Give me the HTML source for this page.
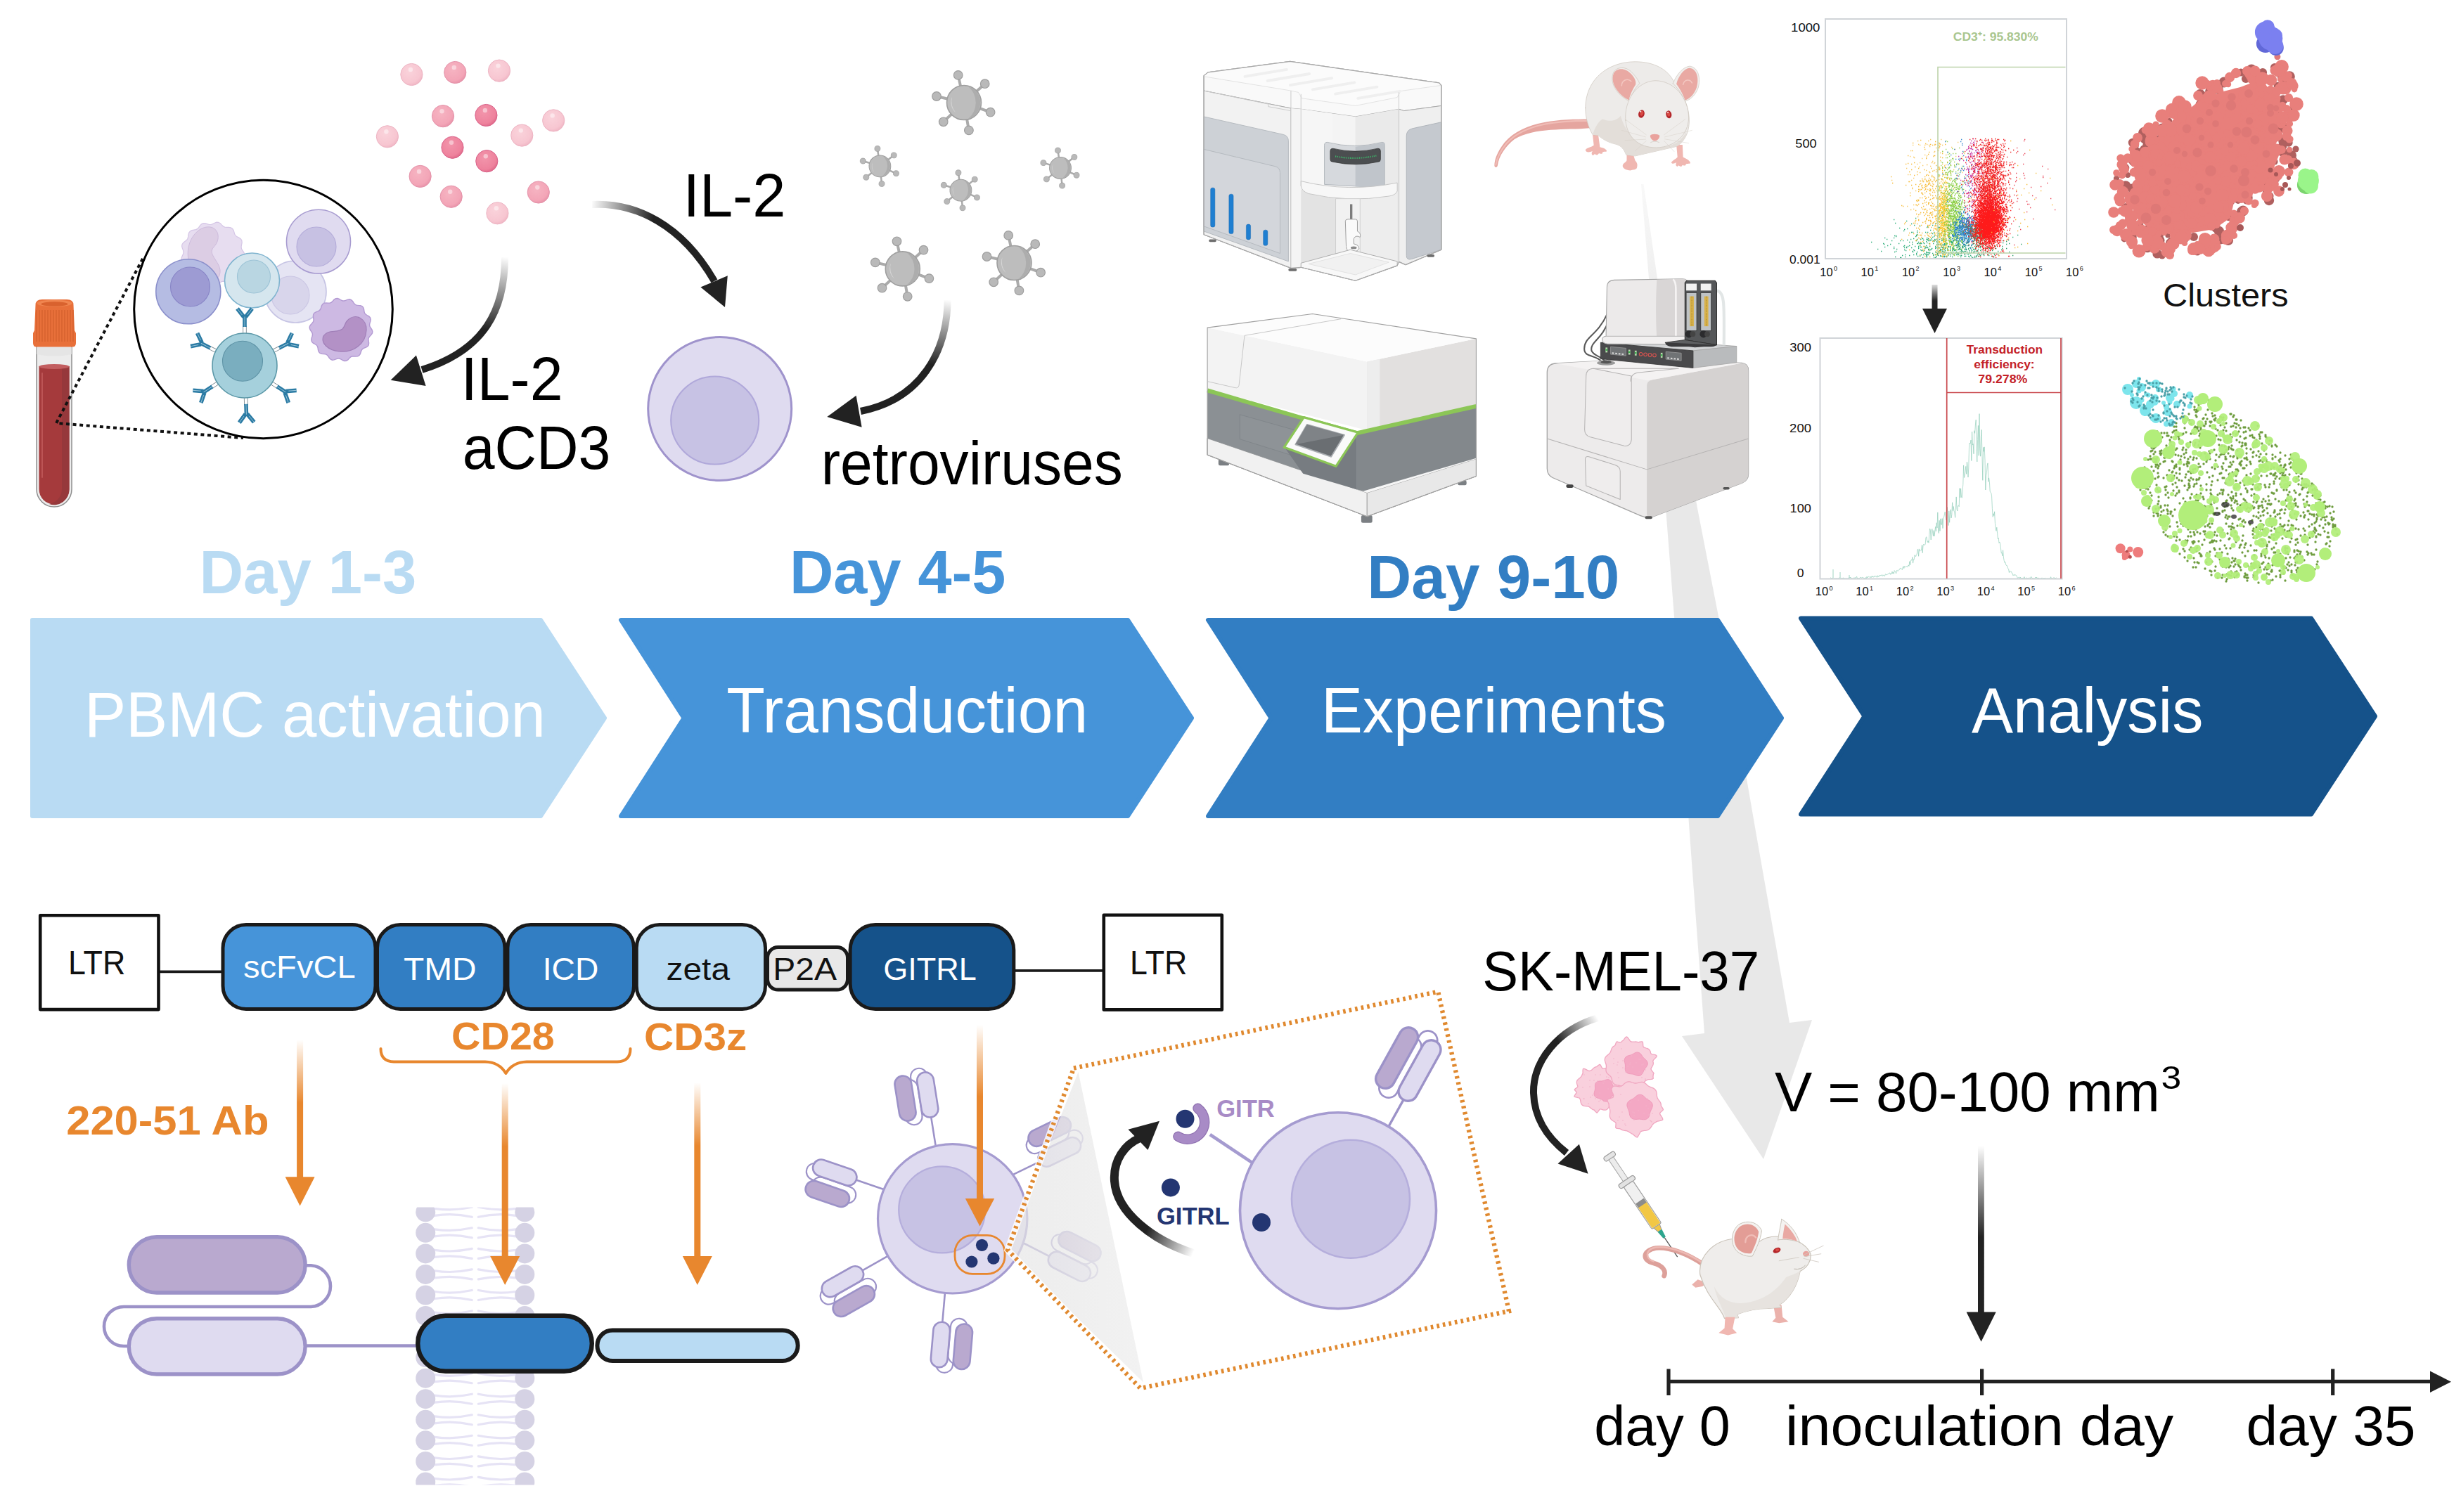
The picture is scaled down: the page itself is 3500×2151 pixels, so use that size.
<!DOCTYPE html>
<html lang="en"><head><meta charset="utf-8"><title>CAR-T workflow</title>
<style>
html,body{margin:0;padding:0;background:#fff;}
body{width:3500px;height:2151px;overflow:hidden;}
svg{display:block;font-family:"Liberation Sans",sans-serif;}
</style></head><body>
<svg width="3500" height="2151" viewBox="0 0 3500 2151">
<rect width="3500" height="2151" fill="#fff"/>
<g id="part_base">
<defs><linearGradient id="gArrow" x1="0" y1="0" x2="0" y2="1"><stop offset="0" stop-color="#e9e9e9" stop-opacity="0.3"/><stop offset="0.18" stop-color="#e8e8e8" stop-opacity="1"/><stop offset="1" stop-color="#e8e8e8"/></linearGradient></defs>
<path d="M2334 262 L2337.5 262 L2357 396 L2414 723 L2444 877 L2500 1200 L2545 1455 L2577 1451 L2508 1649 L2392 1474 L2424 1470 L2404 1200 L2381 877 L2369 723 L2345 396 Z" fill="url(#gArrow)"/>
<path d="M46 882 L769 882 L860 1021.5 L769 1161 L46 1161 Z" fill="#B9DBF3" stroke="#B9DBF3" stroke-width="6" stroke-linejoin="round"/>
<path d="M883 882 L1604 882 L1695 1021.5 L1604 1161 L883 1161 L972.5 1021.5 Z" fill="#4694D9" stroke="#4694D9" stroke-width="6" stroke-linejoin="round"/>
<path d="M1718 882 L2443 882 L2534 1021.5 L2443 1161 L1718 1161 L1807.5 1021.5 Z" fill="#327EC3" stroke="#327EC3" stroke-width="6" stroke-linejoin="round"/>
<path d="M2561 879.5 L3287 879.5 L3378 1019.0 L3287 1158.5 L2561 1158.5 L2651.5 1019.0 Z" fill="#15528A" stroke="#15528A" stroke-width="6" stroke-linejoin="round"/>
<text x="119.9" y="1048.0" font-size="90" font-weight="normal" fill="#fff" textLength="656.0" lengthAdjust="spacingAndGlyphs" >PBMC activation</text>
<text x="1033.2" y="1042.0" font-size="90" font-weight="normal" fill="#fff" textLength="514.0" lengthAdjust="spacingAndGlyphs" >Transduction</text>
<text x="1878.9" y="1042.0" font-size="90" font-weight="normal" fill="#fff" textLength="491.0" lengthAdjust="spacingAndGlyphs" >Experiments</text>
<text x="2804.0" y="1042.0" font-size="90" font-weight="normal" fill="#fff" textLength="329.5" lengthAdjust="spacingAndGlyphs" >Analysis</text>
<text x="283.4" y="844.0" font-size="87" font-weight="bold" fill="#B9DBF3" textLength="308.9" lengthAdjust="spacingAndGlyphs" >Day 1-3</text>
<text x="1122.9" y="844.0" font-size="87" font-weight="bold" fill="#4694D9" textLength="307.5" lengthAdjust="spacingAndGlyphs" >Day 4-5</text>
<text x="1944.3" y="851.0" font-size="87" font-weight="bold" fill="#327EC3" textLength="359.1" lengthAdjust="spacingAndGlyphs" >Day 9-10</text>
</g>
<g id="part_topleft">
<defs>
<linearGradient id="gA" gradientUnits="userSpaceOnUse" x1="718" y1="365" x2="700" y2="470"><stop offset="0" stop-color="#222" stop-opacity="0"/><stop offset="1" stop-color="#222"/></linearGradient>
<linearGradient id="gB" gradientUnits="userSpaceOnUse" x1="840" y1="291" x2="930" y2="305"><stop offset="0" stop-color="#222" stop-opacity="0"/><stop offset="1" stop-color="#222"/></linearGradient>
<linearGradient id="gC" gradientUnits="userSpaceOnUse" x1="1348" y1="426" x2="1335" y2="520"><stop offset="0" stop-color="#222" stop-opacity="0"/><stop offset="1" stop-color="#222"/></linearGradient>
<radialGradient id="dotL" cx="0.4" cy="0.35" r="0.7"><stop offset="0" stop-color="#FAD3DB"/><stop offset="0.75" stop-color="#F7C6D1"/><stop offset="1" stop-color="#EFB3C2"/></radialGradient>
<radialGradient id="dotM" cx="0.4" cy="0.35" r="0.7"><stop offset="0" stop-color="#F6B4C2"/><stop offset="0.75" stop-color="#F3A5B7"/><stop offset="1" stop-color="#E68FA6"/></radialGradient>
<radialGradient id="dotD" cx="0.4" cy="0.35" r="0.7"><stop offset="0" stop-color="#F295AB"/><stop offset="0.75" stop-color="#EE829D"/><stop offset="1" stop-color="#DD6586"/></radialGradient>
</defs>
<path d="M52 488 V696 A25 25 0 0 0 102 696 V488 Z" fill="#ECECEC" stroke="#8E8E8E" stroke-width="1.5"/>
<path d="M55.5 521 V696 A21.5 21.5 0 0 0 98.5 696 V521 Z" fill="#A53A3C"/>
<path d="M88 524 V696 A21.5 21.5 0 0 1 70 717 A21.5 21.5 0 0 0 98.5 696 V521 Z" fill="#96383B"/>
<ellipse cx="77" cy="521.5" rx="21.5" ry="3.5" fill="#C25E60"/>
<rect x="59" y="530" width="2" height="150" rx="1" fill="#C66" opacity="0.6"/>
<path d="M52 494 h50 v10 q-25 5 -50 0z" fill="#E3E3E3" opacity="0.8"/>
<path d="M50.5 434 Q50.5 426 60 426 H95 Q104.5 426 104.5 434 L106 470 L108 474 V488 Q108 493.5 103 493.5 H52 Q47 493.5 47 488 V474 L49 470 Z" fill="#E8703A"/>
<ellipse cx="77.5" cy="431.5" rx="25" ry="5" fill="#F0854F"/><ellipse cx="77.5" cy="432.5" rx="19" ry="3.3" fill="#D9622E"/>
<path d="M52 441 V486M56 441 V486M60 441 V486M64 441 V486M68 441 V486M72 441 V486M76 441 V486M80 441 V486M84 441 V486M88 441 V486M92 441 V486M96 441 V486M100 441 V486M104 441 V486" stroke="#D25F2C" stroke-width="1.2" fill="none"/>
<path d="M203 368 L80 602 L346 623" fill="none" stroke="#111" stroke-width="4" stroke-dasharray="5 4.6"/>
<circle cx="374.5" cy="440" r="183.8" fill="#fff" stroke="#000" stroke-width="3"/>
<path d="M347.7 361 L347.9 363.7 L346.8 366.4 L344.9 368.8 L343.1 371 L342.2 373.4 L342.2 376 L342.6 379 L342.5 382 L341.4 384.5 L339.2 386.3 L336.4 387.6 L333.8 388.7 L331.9 390.4 L330.6 392.8 L329.6 395.6 L328.2 398.2 L326 399.9 L323.2 400.5 L320.2 400.3 L317.3 400.1 L314.9 400.7 L312.7 402.2 L310.4 404.2 L307.9 405.9 L305.2 406.4 L302.5 405.6 L299.9 404 L297.5 402.5 L295 401.9 L292.3 402.2 L289.4 402.9 L286.5 403.2 L283.8 402.4 L281.8 400.5 L280.2 397.9 L278.7 395.4 L276.9 393.7 L274.4 392.8 L271.4 392.1 L268.7 391 L266.7 389 L265.8 386.3 L265.6 383.3 L265.5 380.4 L264.6 378.1 L262.8 376 L260.6 374.1 L258.6 371.8 L257.8 369.2 L258.2 366.4 L259.5 363.6 L260.7 361 L261 358.5 L260.4 355.9 L259.3 353.1 L258.6 350.2 L259.1 347.5 L260.8 345.2 L263.2 343.3 L265.5 341.6 L266.9 339.5 L267.6 336.9 L267.9 333.9 L268.7 331 L270.4 328.9 L272.9 327.6 L275.9 327.1 L278.7 326.6 L281 325.4 L282.8 323.4 L284.5 320.9 L286.5 318.8 L289 317.6 L291.8 317.7 L294.7 318.6 L297.5 319.5 L300 319.5 L302.5 318.6 L305.2 317.2 L307.9 316.1 L310.7 316.3 L313.2 317.7 L315.3 319.9 L317.3 321.9 L319.6 323.1 L322.2 323.4 L325.2 323.4 L328.2 323.8 L330.5 325.2 L332.1 327.6 L333 330.5 L333.8 333.3 L335.2 335.4 L337.4 336.9 L340.1 338.3 L342.5 340 L343.9 342.3 L344.2 345.2 L343.6 348.2 L343.1 351 L343.4 353.5 L344.6 355.9 L346.3 358.3Z" fill="#E7DDF0" stroke="#D5C6E6" stroke-width="1.2"/>
<path d="M285 326 C300 318 312 326 310 340 C308 352 298 352 302 362 C308 374 316 380 312 392 C306 404 284 398 274 384 C262 366 266 338 285 326Z" fill="#DCCDE4" stroke="#CDBBDC" stroke-width="1"/>
<circle cx="420" cy="415" r="44" fill="#E5E4F3" stroke="#C6C4E4" stroke-width="1.6"/><circle cx="413" cy="420" r="27" fill="#D8D5EB" stroke="#CAC6E4" stroke-width="1.1"/>
<circle cx="267.8" cy="414.8" r="46" fill="#B5BCE3" stroke="#8A8FCB" stroke-width="1.6"/><circle cx="270.5" cy="408" r="28" fill="#9D9BD3" stroke="#8784C6" stroke-width="1.1"/>
<circle cx="453" cy="343.7" r="45.5" fill="#E0DBF0" stroke="#A79BD0" stroke-width="1.6"/><circle cx="450" cy="351" r="28" fill="#C7C1E3" stroke="#B3ABD9" stroke-width="1.1"/>
<circle cx="358.5" cy="399" r="39" fill="#D5E6EE" stroke="#7FB4CF" stroke-width="1.6"/><circle cx="361" cy="393.5" r="23.5" fill="#B9D6E2" stroke="#9CC3D6" stroke-width="1.1"/>
<path d="M529 469 L529.8 471.5 L529.5 474 L527.9 476.3 L526 478.4 L524.5 480.4 L523.9 482.6 L524.2 485.2 L524.6 488.1 L524.3 490.7 L522.9 492.8 L520.5 494.2 L517.9 495.2 L515.6 496.4 L514.2 498.2 L513.3 500.6 L512.4 503.4 L511 505.6 L508.8 506.9 L506.1 507.1 L503.2 506.9 L500.7 507 L498.6 507.9 L496.7 509.8 L494.8 511.9 L492.5 513.3 L490 513.5 L487.4 512.5 L485 511 L482.7 510 L480.4 510 L477.9 510.8 L475.2 511.9 L472.6 512.2 L470.2 511.2 L468.3 509.2 L466.8 506.9 L465.1 505 L463.1 503.9 L460.4 503.6 L457.6 503.4 L455.1 502.5 L453.4 500.6 L452.5 498 L452.1 495.2 L451.5 492.8 L450.1 490.9 L447.9 489.5 L445.4 488.1 L443.5 486.2 L442.8 483.8 L443.1 481.1 L444 478.4 L444.5 475.9 L444 473.6 L442.6 471.4 L441 469 L440.2 466.5 L440.5 464 L442.1 461.7 L444 459.6 L445.5 457.6 L446.1 455.4 L445.8 452.8 L445.4 449.9 L445.7 447.3 L447.1 445.2 L449.5 443.8 L452.1 442.8 L454.4 441.6 L455.8 439.8 L456.7 437.4 L457.6 434.6 L459 432.4 L461.2 431.1 L463.9 430.9 L466.8 431.1 L469.3 431 L471.4 430.1 L473.3 428.2 L475.2 426.1 L477.5 424.7 L480 424.5 L482.6 425.5 L485 427 L487.3 428 L489.6 428 L492.1 427.2 L494.8 426.1 L497.4 425.8 L499.8 426.8 L501.7 428.8 L503.2 431.1 L504.9 433 L506.9 434.1 L509.6 434.4 L512.4 434.6 L514.9 435.5 L516.6 437.4 L517.5 440 L517.9 442.8 L518.5 445.2 L519.9 447.1 L522.1 448.5 L524.6 449.9 L526.5 451.8 L527.2 454.2 L526.9 456.9 L526 459.6 L525.5 462.1 L526 464.4 L527.4 466.6Z" fill="#CDB9E3" stroke="#B39AD3" stroke-width="1.4"/>
<path d="M494 456 C506 444 522 454 521 470 C520 490 502 502 482 500 C466 498 456 488 460 478 C466 468 480 474 487 468 C491 464 490 460 494 456Z" fill="#B391C6" stroke="#A07FB8" stroke-width="1.2"/>
<g transform="translate(348 520) rotate(-90)"><rect x="45" y="-2.3" width="11" height="4.6" fill="#fff" stroke="#7d8b93" stroke-width="0.9"/><path d="M55 0 H71" stroke="#2B7BA4" stroke-width="5.6"/><path d="M55 0 H71" stroke="#9CC6DA" stroke-width="0.9"/><path d="M69 -1.2 L81 -10.5" stroke="#2B7BA4" stroke-width="5.8" stroke-linecap="butt"/><path d="M72 -3.6 L81 -10.5" stroke="#9CC6DA" stroke-width="0.9"/><path d="M69 1.2 L81 10.5" stroke="#2B7BA4" stroke-width="5.8" stroke-linecap="butt"/><path d="M72 3.6 L81 10.5" stroke="#9CC6DA" stroke-width="0.9"/></g>
<g transform="translate(348 520) rotate(-27)"><rect x="45" y="-2.3" width="11" height="4.6" fill="#fff" stroke="#7d8b93" stroke-width="0.9"/><path d="M55 0 H71" stroke="#2B7BA4" stroke-width="5.6"/><path d="M55 0 H71" stroke="#9CC6DA" stroke-width="0.9"/><path d="M69 -1.2 L81 -10.5" stroke="#2B7BA4" stroke-width="5.8" stroke-linecap="butt"/><path d="M72 -3.6 L81 -10.5" stroke="#9CC6DA" stroke-width="0.9"/><path d="M69 1.2 L81 10.5" stroke="#2B7BA4" stroke-width="5.8" stroke-linecap="butt"/><path d="M72 3.6 L81 10.5" stroke="#9CC6DA" stroke-width="0.9"/></g>
<g transform="translate(348 520) rotate(33)"><rect x="45" y="-2.3" width="11" height="4.6" fill="#fff" stroke="#7d8b93" stroke-width="0.9"/><path d="M55 0 H71" stroke="#2B7BA4" stroke-width="5.6"/><path d="M55 0 H71" stroke="#9CC6DA" stroke-width="0.9"/><path d="M69 -1.2 L81 -10.5" stroke="#2B7BA4" stroke-width="5.8" stroke-linecap="butt"/><path d="M72 -3.6 L81 -10.5" stroke="#9CC6DA" stroke-width="0.9"/><path d="M69 1.2 L81 10.5" stroke="#2B7BA4" stroke-width="5.8" stroke-linecap="butt"/><path d="M72 3.6 L81 10.5" stroke="#9CC6DA" stroke-width="0.9"/></g>
<g transform="translate(348 520) rotate(88)"><rect x="45" y="-2.3" width="11" height="4.6" fill="#fff" stroke="#7d8b93" stroke-width="0.9"/><path d="M55 0 H71" stroke="#2B7BA4" stroke-width="5.6"/><path d="M55 0 H71" stroke="#9CC6DA" stroke-width="0.9"/><path d="M69 -1.2 L81 -10.5" stroke="#2B7BA4" stroke-width="5.8" stroke-linecap="butt"/><path d="M72 -3.6 L81 -10.5" stroke="#9CC6DA" stroke-width="0.9"/><path d="M69 1.2 L81 10.5" stroke="#2B7BA4" stroke-width="5.8" stroke-linecap="butt"/><path d="M72 3.6 L81 10.5" stroke="#9CC6DA" stroke-width="0.9"/></g>
<g transform="translate(348 520) rotate(147)"><rect x="45" y="-2.3" width="11" height="4.6" fill="#fff" stroke="#7d8b93" stroke-width="0.9"/><path d="M55 0 H71" stroke="#2B7BA4" stroke-width="5.6"/><path d="M55 0 H71" stroke="#9CC6DA" stroke-width="0.9"/><path d="M69 -1.2 L81 -10.5" stroke="#2B7BA4" stroke-width="5.8" stroke-linecap="butt"/><path d="M72 -3.6 L81 -10.5" stroke="#9CC6DA" stroke-width="0.9"/><path d="M69 1.2 L81 10.5" stroke="#2B7BA4" stroke-width="5.8" stroke-linecap="butt"/><path d="M72 3.6 L81 10.5" stroke="#9CC6DA" stroke-width="0.9"/></g>
<g transform="translate(348 520) rotate(207)"><rect x="45" y="-2.3" width="11" height="4.6" fill="#fff" stroke="#7d8b93" stroke-width="0.9"/><path d="M55 0 H71" stroke="#2B7BA4" stroke-width="5.6"/><path d="M55 0 H71" stroke="#9CC6DA" stroke-width="0.9"/><path d="M69 -1.2 L81 -10.5" stroke="#2B7BA4" stroke-width="5.8" stroke-linecap="butt"/><path d="M72 -3.6 L81 -10.5" stroke="#9CC6DA" stroke-width="0.9"/><path d="M69 1.2 L81 10.5" stroke="#2B7BA4" stroke-width="5.8" stroke-linecap="butt"/><path d="M72 3.6 L81 10.5" stroke="#9CC6DA" stroke-width="0.9"/></g>
<circle cx="348" cy="520" r="46" fill="#A5D0DC" stroke="#5B98A8" stroke-width="1.6"/><circle cx="345" cy="513.7" r="28.5" fill="#7AAEBF" stroke="#5E93A6" stroke-width="1.1"/>
<circle cx="585.4" cy="106" r="15.6" fill="url(#dotL)" stroke="#EDB4C3" stroke-width="1"/><circle cx="583.9" cy="99" r="3.2" fill="#fff" opacity="0.45"/>
<circle cx="647.3" cy="103" r="15.6" fill="url(#dotM)" stroke="#E493AA" stroke-width="1"/><circle cx="645.8" cy="96" r="3.2" fill="#fff" opacity="0.45"/>
<circle cx="710" cy="100.6" r="15.6" fill="url(#dotL)" stroke="#EDB4C3" stroke-width="1"/><circle cx="708.5" cy="93.6" r="3.2" fill="#fff" opacity="0.45"/>
<circle cx="630" cy="165.2" r="15.6" fill="url(#dotM)" stroke="#E493AA" stroke-width="1"/><circle cx="628.5" cy="158.2" r="3.2" fill="#fff" opacity="0.45"/>
<circle cx="691.4" cy="164" r="15.6" fill="url(#dotD)" stroke="#D9628A" stroke-width="1"/><circle cx="689.9" cy="157" r="3.2" fill="#fff" opacity="0.45"/>
<circle cx="787.2" cy="171.4" r="15.6" fill="url(#dotL)" stroke="#EDB4C3" stroke-width="1"/><circle cx="785.7" cy="164.4" r="3.2" fill="#fff" opacity="0.45"/>
<circle cx="550.9" cy="194.3" r="15.6" fill="url(#dotL)" stroke="#EDB4C3" stroke-width="1"/><circle cx="549.4" cy="187.3" r="3.2" fill="#fff" opacity="0.45"/>
<circle cx="742.3" cy="192.6" r="15.6" fill="url(#dotL)" stroke="#EDB4C3" stroke-width="1"/><circle cx="740.8" cy="185.6" r="3.2" fill="#fff" opacity="0.45"/>
<circle cx="643.5" cy="209.8" r="15.6" fill="url(#dotD)" stroke="#D9628A" stroke-width="1"/><circle cx="642.0" cy="202.8" r="3.2" fill="#fff" opacity="0.45"/>
<circle cx="692.3" cy="229.2" r="15.6" fill="url(#dotD)" stroke="#D9628A" stroke-width="1"/><circle cx="690.8" cy="222.2" r="3.2" fill="#fff" opacity="0.45"/>
<circle cx="597.6" cy="250.9" r="15.6" fill="url(#dotM)" stroke="#E493AA" stroke-width="1"/><circle cx="596.1" cy="243.9" r="3.2" fill="#fff" opacity="0.45"/>
<circle cx="641.7" cy="279.8" r="15.6" fill="url(#dotM)" stroke="#E493AA" stroke-width="1"/><circle cx="640.2" cy="272.8" r="3.2" fill="#fff" opacity="0.45"/>
<circle cx="765.8" cy="273.5" r="15.6" fill="url(#dotM)" stroke="#E493AA" stroke-width="1"/><circle cx="764.3" cy="266.5" r="3.2" fill="#fff" opacity="0.45"/>
<circle cx="707.4" cy="303.3" r="15.6" fill="url(#dotL)" stroke="#EDB4C3" stroke-width="1"/><circle cx="705.9" cy="296.3" r="3.2" fill="#fff" opacity="0.45"/>
<path d="M718 366 C718 440 690 498 600 526" fill="none" stroke="url(#gA)" stroke-width="10"/>
<polygon points="555.6,540.7 591.9,505.6 605.6,548.9" fill="#222"/>
<path d="M842 291 C905 288 970 320 1016 400" fill="none" stroke="url(#gB)" stroke-width="10"/>
<polygon points="1031,437 996.4,408.6 1034.8,392.3" fill="#222"/>
<path d="M1347.6 427 C1347 500 1310 568 1224 585" fill="none" stroke="url(#gC)" stroke-width="10"/>
<polygon points="1176.3,593 1217.6,562.7 1225.6,607.7" fill="#222"/>
<text x="971.4" y="308.0" font-size="88" font-weight="normal" fill="#000" textLength="146.1" lengthAdjust="spacingAndGlyphs" >IL-2</text>
<text x="655.4" y="568.5" font-size="88" font-weight="normal" fill="#000" textLength="145.1" lengthAdjust="spacingAndGlyphs" >IL-2</text>
<text x="657.7" y="667.4" font-size="88" font-weight="normal" fill="#000" textLength="210.7" lengthAdjust="spacingAndGlyphs" >aCD3</text>
<text x="1167.7" y="688.5" font-size="88" font-weight="normal" fill="#000" textLength="429.1" lengthAdjust="spacingAndGlyphs" >retroviruses</text>
<circle cx="1023.7" cy="581.5" r="102" fill="#DFDBF0" stroke="#9F93CC" stroke-width="3"/><circle cx="1016.7" cy="598" r="62.5" fill="#C7C2E4" stroke="#B0A8DA" stroke-width="2.1"/>
<g transform="translate(1371 146) rotate(0) scale(1.0)"><line x1="0" y1="0" x2="-8.3" y2="-39.1" stroke="#ABABAB" stroke-width="4"/><circle cx="-8.3" cy="-39.1" r="6.3" fill="#B9B9B9" stroke="#9E9E9E" stroke-width="1.2"/><line x1="0" y1="0" x2="29.7" y2="-26.8" stroke="#ABABAB" stroke-width="4"/><circle cx="29.7" cy="-26.8" r="6.3" fill="#B9B9B9" stroke="#9E9E9E" stroke-width="1.2"/><line x1="0" y1="0" x2="37.6" y2="13.7" stroke="#ABABAB" stroke-width="4"/><circle cx="37.6" cy="13.7" r="6.3" fill="#B9B9B9" stroke="#9E9E9E" stroke-width="1.2"/><line x1="0" y1="0" x2="6.9" y2="39.4" stroke="#ABABAB" stroke-width="4"/><circle cx="6.9" cy="39.4" r="6.3" fill="#B9B9B9" stroke="#9E9E9E" stroke-width="1.2"/><line x1="0" y1="0" x2="-29.3" y2="27.3" stroke="#ABABAB" stroke-width="4"/><circle cx="-29.3" cy="27.3" r="6.3" fill="#B9B9B9" stroke="#9E9E9E" stroke-width="1.2"/><line x1="0" y1="0" x2="-39.0" y2="-9.0" stroke="#ABABAB" stroke-width="4"/><circle cx="-39.0" cy="-9.0" r="6.3" fill="#B9B9B9" stroke="#9E9E9E" stroke-width="1.2"/><circle r="24.5" fill="#BDBDBD" stroke="#9F9F9F" stroke-width="1.6"/><path d="M-17 -8 A19 19 0 0 0 -12 14 A26 26 0 0 1 -17 -8Z" fill="#D6D6D6"/><path d="M6 -23 A24 24 0 0 1 6 23 A30 30 0 0 0 6 -23Z" fill="#ADADAD"/></g>
<g transform="translate(1251.4 236.4) rotate(4) scale(0.63)"><line x1="0" y1="0" x2="-8.3" y2="-39.1" stroke="#ABABAB" stroke-width="4"/><circle cx="-8.3" cy="-39.1" r="6.3" fill="#B9B9B9" stroke="#9E9E9E" stroke-width="1.2"/><line x1="0" y1="0" x2="29.7" y2="-26.8" stroke="#ABABAB" stroke-width="4"/><circle cx="29.7" cy="-26.8" r="6.3" fill="#B9B9B9" stroke="#9E9E9E" stroke-width="1.2"/><line x1="0" y1="0" x2="37.6" y2="13.7" stroke="#ABABAB" stroke-width="4"/><circle cx="37.6" cy="13.7" r="6.3" fill="#B9B9B9" stroke="#9E9E9E" stroke-width="1.2"/><line x1="0" y1="0" x2="6.9" y2="39.4" stroke="#ABABAB" stroke-width="4"/><circle cx="6.9" cy="39.4" r="6.3" fill="#B9B9B9" stroke="#9E9E9E" stroke-width="1.2"/><line x1="0" y1="0" x2="-29.3" y2="27.3" stroke="#ABABAB" stroke-width="4"/><circle cx="-29.3" cy="27.3" r="6.3" fill="#B9B9B9" stroke="#9E9E9E" stroke-width="1.2"/><line x1="0" y1="0" x2="-39.0" y2="-9.0" stroke="#ABABAB" stroke-width="4"/><circle cx="-39.0" cy="-9.0" r="6.3" fill="#B9B9B9" stroke="#9E9E9E" stroke-width="1.2"/><circle r="24.5" fill="#BDBDBD" stroke="#9F9F9F" stroke-width="1.6"/><path d="M-17 -8 A19 19 0 0 0 -12 14 A26 26 0 0 1 -17 -8Z" fill="#D6D6D6"/><path d="M6 -23 A24 24 0 0 1 6 23 A30 30 0 0 0 6 -23Z" fill="#ADADAD"/></g>
<g transform="translate(1366.4 270.7) rotate(4) scale(0.63)"><line x1="0" y1="0" x2="-8.3" y2="-39.1" stroke="#ABABAB" stroke-width="4"/><circle cx="-8.3" cy="-39.1" r="6.3" fill="#B9B9B9" stroke="#9E9E9E" stroke-width="1.2"/><line x1="0" y1="0" x2="29.7" y2="-26.8" stroke="#ABABAB" stroke-width="4"/><circle cx="29.7" cy="-26.8" r="6.3" fill="#B9B9B9" stroke="#9E9E9E" stroke-width="1.2"/><line x1="0" y1="0" x2="37.6" y2="13.7" stroke="#ABABAB" stroke-width="4"/><circle cx="37.6" cy="13.7" r="6.3" fill="#B9B9B9" stroke="#9E9E9E" stroke-width="1.2"/><line x1="0" y1="0" x2="6.9" y2="39.4" stroke="#ABABAB" stroke-width="4"/><circle cx="6.9" cy="39.4" r="6.3" fill="#B9B9B9" stroke="#9E9E9E" stroke-width="1.2"/><line x1="0" y1="0" x2="-29.3" y2="27.3" stroke="#ABABAB" stroke-width="4"/><circle cx="-29.3" cy="27.3" r="6.3" fill="#B9B9B9" stroke="#9E9E9E" stroke-width="1.2"/><line x1="0" y1="0" x2="-39.0" y2="-9.0" stroke="#ABABAB" stroke-width="4"/><circle cx="-39.0" cy="-9.0" r="6.3" fill="#B9B9B9" stroke="#9E9E9E" stroke-width="1.2"/><circle r="24.5" fill="#BDBDBD" stroke="#9F9F9F" stroke-width="1.6"/><path d="M-17 -8 A19 19 0 0 0 -12 14 A26 26 0 0 1 -17 -8Z" fill="#D6D6D6"/><path d="M6 -23 A24 24 0 0 1 6 23 A30 30 0 0 0 6 -23Z" fill="#ADADAD"/></g>
<g transform="translate(1508 239) rotate(4) scale(0.63)"><line x1="0" y1="0" x2="-8.3" y2="-39.1" stroke="#ABABAB" stroke-width="4"/><circle cx="-8.3" cy="-39.1" r="6.3" fill="#B9B9B9" stroke="#9E9E9E" stroke-width="1.2"/><line x1="0" y1="0" x2="29.7" y2="-26.8" stroke="#ABABAB" stroke-width="4"/><circle cx="29.7" cy="-26.8" r="6.3" fill="#B9B9B9" stroke="#9E9E9E" stroke-width="1.2"/><line x1="0" y1="0" x2="37.6" y2="13.7" stroke="#ABABAB" stroke-width="4"/><circle cx="37.6" cy="13.7" r="6.3" fill="#B9B9B9" stroke="#9E9E9E" stroke-width="1.2"/><line x1="0" y1="0" x2="6.9" y2="39.4" stroke="#ABABAB" stroke-width="4"/><circle cx="6.9" cy="39.4" r="6.3" fill="#B9B9B9" stroke="#9E9E9E" stroke-width="1.2"/><line x1="0" y1="0" x2="-29.3" y2="27.3" stroke="#ABABAB" stroke-width="4"/><circle cx="-29.3" cy="27.3" r="6.3" fill="#B9B9B9" stroke="#9E9E9E" stroke-width="1.2"/><line x1="0" y1="0" x2="-39.0" y2="-9.0" stroke="#ABABAB" stroke-width="4"/><circle cx="-39.0" cy="-9.0" r="6.3" fill="#B9B9B9" stroke="#9E9E9E" stroke-width="1.2"/><circle r="24.5" fill="#BDBDBD" stroke="#9F9F9F" stroke-width="1.6"/><path d="M-17 -8 A19 19 0 0 0 -12 14 A26 26 0 0 1 -17 -8Z" fill="#D6D6D6"/><path d="M6 -23 A24 24 0 0 1 6 23 A30 30 0 0 0 6 -23Z" fill="#ADADAD"/></g>
<g transform="translate(1283.8 382.4) rotate(0) scale(1.0)"><line x1="0" y1="0" x2="-8.3" y2="-39.1" stroke="#ABABAB" stroke-width="4"/><circle cx="-8.3" cy="-39.1" r="6.3" fill="#B9B9B9" stroke="#9E9E9E" stroke-width="1.2"/><line x1="0" y1="0" x2="29.7" y2="-26.8" stroke="#ABABAB" stroke-width="4"/><circle cx="29.7" cy="-26.8" r="6.3" fill="#B9B9B9" stroke="#9E9E9E" stroke-width="1.2"/><line x1="0" y1="0" x2="37.6" y2="13.7" stroke="#ABABAB" stroke-width="4"/><circle cx="37.6" cy="13.7" r="6.3" fill="#B9B9B9" stroke="#9E9E9E" stroke-width="1.2"/><line x1="0" y1="0" x2="6.9" y2="39.4" stroke="#ABABAB" stroke-width="4"/><circle cx="6.9" cy="39.4" r="6.3" fill="#B9B9B9" stroke="#9E9E9E" stroke-width="1.2"/><line x1="0" y1="0" x2="-29.3" y2="27.3" stroke="#ABABAB" stroke-width="4"/><circle cx="-29.3" cy="27.3" r="6.3" fill="#B9B9B9" stroke="#9E9E9E" stroke-width="1.2"/><line x1="0" y1="0" x2="-39.0" y2="-9.0" stroke="#ABABAB" stroke-width="4"/><circle cx="-39.0" cy="-9.0" r="6.3" fill="#B9B9B9" stroke="#9E9E9E" stroke-width="1.2"/><circle r="24.5" fill="#BDBDBD" stroke="#9F9F9F" stroke-width="1.6"/><path d="M-17 -8 A19 19 0 0 0 -12 14 A26 26 0 0 1 -17 -8Z" fill="#D6D6D6"/><path d="M6 -23 A24 24 0 0 1 6 23 A30 30 0 0 0 6 -23Z" fill="#ADADAD"/></g>
<g transform="translate(1442.5 374) rotate(0) scale(1.0)"><line x1="0" y1="0" x2="-8.3" y2="-39.1" stroke="#ABABAB" stroke-width="4"/><circle cx="-8.3" cy="-39.1" r="6.3" fill="#B9B9B9" stroke="#9E9E9E" stroke-width="1.2"/><line x1="0" y1="0" x2="29.7" y2="-26.8" stroke="#ABABAB" stroke-width="4"/><circle cx="29.7" cy="-26.8" r="6.3" fill="#B9B9B9" stroke="#9E9E9E" stroke-width="1.2"/><line x1="0" y1="0" x2="37.6" y2="13.7" stroke="#ABABAB" stroke-width="4"/><circle cx="37.6" cy="13.7" r="6.3" fill="#B9B9B9" stroke="#9E9E9E" stroke-width="1.2"/><line x1="0" y1="0" x2="6.9" y2="39.4" stroke="#ABABAB" stroke-width="4"/><circle cx="6.9" cy="39.4" r="6.3" fill="#B9B9B9" stroke="#9E9E9E" stroke-width="1.2"/><line x1="0" y1="0" x2="-29.3" y2="27.3" stroke="#ABABAB" stroke-width="4"/><circle cx="-29.3" cy="27.3" r="6.3" fill="#B9B9B9" stroke="#9E9E9E" stroke-width="1.2"/><line x1="0" y1="0" x2="-39.0" y2="-9.0" stroke="#ABABAB" stroke-width="4"/><circle cx="-39.0" cy="-9.0" r="6.3" fill="#B9B9B9" stroke="#9E9E9E" stroke-width="1.2"/><circle r="24.5" fill="#BDBDBD" stroke="#9F9F9F" stroke-width="1.6"/><path d="M-17 -8 A19 19 0 0 0 -12 14 A26 26 0 0 1 -17 -8Z" fill="#D6D6D6"/><path d="M6 -23 A24 24 0 0 1 6 23 A30 30 0 0 0 6 -23Z" fill="#ADADAD"/></g>
</g>
<g id="part_equip">
<g transform="translate(1680 60) scale(0.238095)" stroke-linejoin="round"><polygon points="135,200 160,180 650,115 1540,243 1553,258 1553,1240 1340,1330 1300,1312 1290,1335 1040,1425 715,1345 700,1350 655,1350 135,1150" fill="#F3F3F3" stroke="#A9A9A9" stroke-width="5" /><polygon points="135,200 160,180 650,115 1540,243 1553,258 1553,380 1330,410 1300,400 1040,445 715,400 655,395 135,290" fill="#F9F9F9" stroke="#A9A9A9" stroke-width="4" /><polygon points="135,200 160,180 650,115 1540,243 1553,258 1310,292 1290,330 1040,380 720,335 700,300 655,290 135,205" fill="#FBFBFB" stroke="#D9D9D9" stroke-width="3" /><path d="M380 205 L630 163" stroke="#EFEFEF" stroke-width="16" stroke-linecap="round"/><path d="M515 231 L765 189" stroke="#EFEFEF" stroke-width="16" stroke-linecap="round"/><path d="M650 257 L900 215" stroke="#EFEFEF" stroke-width="16" stroke-linecap="round"/><path d="M785 283 L1035 241" stroke="#EFEFEF" stroke-width="16" stroke-linecap="round"/><path d="M920 309 L1170 267" stroke="#EFEFEF" stroke-width="16" stroke-linecap="round"/><path d="M1055 335 L1305 293" stroke="#EFEFEF" stroke-width="16" stroke-linecap="round"/><polygon points="135,290 655,395 655,1350 135,1150" fill="#F2F2F2" stroke="#A9A9A9" stroke-width="4" /><path d="M135 445 L610 552 Q640 560 640 590 V1310 L135 1130 Z" fill="#CDD1D6" stroke="#B3B8BE" stroke-width="4"/><path d="M135 640 L560 742 Q590 750 590 780 V1262 L135 1100 Z" fill="#D3D6DB" stroke="#B3B8BE" stroke-width="4"/><rect x="175" y="870" width="26" height="235" rx="11" fill="#1F7FD1" stroke="#1868B0" stroke-width="2"/><rect x="285" y="908" width="26" height="237" rx="11" fill="#1F7FD1" stroke="#1868B0" stroke-width="2"/><rect x="388" y="1088" width="26" height="92" rx="11" fill="#1F7FD1" stroke="#1868B0" stroke-width="2"/><rect x="490" y="1122" width="26" height="93" rx="11" fill="#1F7FD1" stroke="#1868B0" stroke-width="2"/><polygon points="655,395 715,400 1040,445 1040,1425 715,1345 700,1350 655,1350" fill="#F4F4F4" /><polygon points="1040,445 1300,400 1300,1312 1290,1335 1040,1425" fill="#EAEAEA" /><polygon points="715,400 905,428 905,900 715,860" fill="#F6F6F6" /><polygon points="1300,400 1330,410 1553,380 1553,1240 1340,1330 1300,1312" fill="#EFEFEF" stroke="#A9A9A9" stroke-width="4" /><path d="M1345 560 Q1345 525 1380 516 L1553 478 V1240 L1375 1296 Q1345 1304 1345 1275 Z" fill="#C5C9CF" stroke="#AEB3B9" stroke-width="4"/><polygon points="715,880 1290,900 1290,1312 1010,1240 715,1320" fill="#E3E3E3" /><polygon points="1040,900 1290,900 1290,1312 1040,1248" fill="#EDEDED" /><path d="M855 615 Q855 598 872 598 Q1035 640 1200 598 Q1215 598 1215 615 V870 L855 850 Z" fill="#D6D9DD" stroke="#B0B5BB" stroke-width="4"/><polygon points="1040,625 1215,600 1215,870 1040,862" fill="#C0C5CB" /><path d="M905 635 Q1040 668 1175 635 Q1190 635 1190 650 V700 Q1190 715 1175 715 Q1040 745 905 715 Q890 715 890 700 V650 Q890 635 905 635Z" fill="#4B4E50" stroke="#2f2f2f" stroke-width="3"/><path d="M920 682 Q1040 705 1165 678" stroke="#3DB56A" stroke-width="9" stroke-dasharray="5 6" fill="none"/><path d="M715 830 Q1000 900 1290 840 V890 Q1280 915 1240 920 Q1000 960 760 905 Q720 890 715 860 Z" fill="#F7F7F7" stroke="#C4C4C4" stroke-width="4"/><path d="M922 935 V1270 Q995 1300 1068 1270 V935 Z" fill="#F1F1F1" stroke="#CFCFCF" stroke-width="4"/><rect x="1008" y="968" width="14" height="100" fill="#7C7C7C"/><path d="M980 1070 Q980 1058 995 1058 H1040 Q1052 1058 1052 1070 V1130 Q1075 1140 1068 1165 Q1040 1150 1030 1175 V1205 Q1062 1210 1062 1235 Q1040 1262 1000 1250 Q985 1240 985 1220 Z" fill="#FAFAFA" stroke="#9B9B9B" stroke-width="4"/><ellipse cx="1030" cy="1228" rx="18" ry="8" fill="#8a8a8a"/><polygon points="715,1320 1010,1240 1290,1310 1290,1335 1040,1425 715,1345" fill="#F8F8F8" stroke="#A9A9A9" stroke-width="4" /><polygon points="760,1325 1010,1262 1240,1315 1040,1390" fill="#F1F1F1" stroke="#DADADA" stroke-width="3" /><path d="M135 290 L520 370 V385 L655 410 M655 290 V1350 M715 310 V860 M1300 300 V1312" stroke="#C9C9C9" stroke-width="4" fill="none"/><path d="M135 200 L160 180 L650 115 L1540 243 L1553 258 V1240 L1340 1330 L1300 1312 L1290 1335 L1040 1425 L715 1345 L655 1350 L135 1150 Z" fill="none" stroke="#A9A9A9" stroke-width="5"/><rect x="165" y="1178" width="44" height="16" rx="7" fill="#6E6E6E"/><rect x="640" y="1352" width="50" height="16" rx="7" fill="#6E6E6E"/><rect x="1468" y="1268" width="44" height="16" rx="7" fill="#6E6E6E"/></g>
<g transform="translate(1680 420) scale(0.224888)" stroke-linejoin="round"><polygon points="165,905 1175,1250 1175,1400 165,1010" fill="#F1F1F1" stroke="#A0A0A0" stroke-width="4" /><polygon points="1175,1250 1865,1035 1865,1145 1175,1400" fill="#E6E6E6" stroke="#A0A0A0" stroke-width="4" /><rect x="235" y="1035" width="68" height="42" rx="10" fill="#7B7F83"/><rect x="1138" y="1392" width="70" height="48" rx="10" fill="#7B7F83"/><rect x="1748" y="1172" width="56" height="30" rx="10" fill="#7B7F83"/><polygon points="165,905 1175,1250 1175,1400 165,1010" fill="#F1F1F1" stroke="#A0A0A0" stroke-width="4" /><polygon points="1175,1250 1865,1035 1865,1145 1175,1400" fill="#E8E8E8" stroke="#A0A0A0" stroke-width="4" /><polygon points="165,610 1110,880 1110,1228 165,905" fill="#8B9094" /><polygon points="1110,1228 1175,1250 1865,1035 1865,1025" fill="#F6F6F6" /><polygon points="1110,880 1865,705 1865,1030 1150,1240 1110,1228" fill="#83888C" /><polygon points="370,755 760,865 690,960 690,1010 370,910" fill="#8E9397" stroke="#7B8084" stroke-width="3" /><polygon points="165,205 1175,420 1175,855 165,595" fill="#F3F3F3" /><polygon points="1175,420 1865,275 1865,690 1175,855" fill="#E2E0DF" /><polygon points="165,205 830,118 1865,275 1175,420" fill="#FCFCFC" /><polygon points="1175,420 1255,403 1255,838 1175,855" fill="#EDEDED" /><path d="M165 602 L770 778 L1112 872 L1865 702" fill="none" stroke="#8CC657" stroke-width="26"/><polygon points="655,965 770,1128 1110,1228 1110,880 975,1075" fill="#777C81" /><polygon points="775,772 1118,868 978,1082 650,962" fill="#FAFAFA" stroke="#8CC657" stroke-width="14" /><polygon points="795,818 1032,884 948,1022 722,944" fill="#6A6E72" stroke="#A9ADB1" stroke-width="8" /><polygon points="795,818 1032,884 722,944" fill="#7F8387" /><path d="M165 205 L830 118 L1865 275 V1145 L1175 1400 L165 1010 Z" fill="none" stroke="#A0A0A0" stroke-width="5"/><path d="M400 255 L365 570 Q360 590 340 585 L165 545 M400 255 L1010 150" fill="none" stroke="#C2C2C2" stroke-width="4"/></g>
<g transform="translate(2150 370) scale(0.257898)" stroke-linejoin="round"><path d="M525 300 C470 420 400 420 400 490 C400 540 470 520 500 565 M535 330 C500 440 430 450 440 500 C450 530 500 530 520 565" fill="none" stroke="#5A5A5A" stroke-width="8"/><path d="M195 620 Q195 575 240 570 L700 545 L1270 568 Q1305 572 1305 610 V1180 Q1305 1215 1270 1230 L780 1415 Q745 1425 710 1410 L225 1200 Q195 1185 195 1150 Z" fill="#EDEBEB" stroke="#A3A3A3" stroke-width="5"/><path d="M745 690 Q745 668 775 660 L1270 568 Q1305 572 1305 610 V1180 Q1305 1215 1270 1230 L780 1415 Q745 1425 745 1400 Z" fill="#D5D2D1"/><path d="M240 570 L700 545 L1270 568 L775 660 Q745 668 730 660 Z" fill="#F4F2F2"/><path d="M410 640 Q410 600 450 598 L660 640 V990 Q655 1030 620 1025 L430 975 Q400 965 402 930 Z" fill="#EFEDED" stroke="#B5B3B3" stroke-width="4"/><path d="M450 598 L920 598 L700 620 Q655 625 655 670" fill="none" stroke="#B5B3B3" stroke-width="4"/><path d="M195 985 L745 1155 L1305 985" fill="none" stroke="#B5B3B3" stroke-width="4"/><path d="M405 1100 Q405 1080 425 1085 L570 1130 Q598 1140 598 1165 V1320 L410 1245 Z" fill="#EFEDED" stroke="#B5B3B3" stroke-width="4"/><ellipse cx="520" cy="568" rx="50" ry="13" fill="#9a9a9a"/><ellipse cx="520" cy="562" rx="30" ry="9" fill="#555"/><rect x="300" y="1238" width="40" height="18" rx="8" fill="#444"/><rect x="735" y="1412" width="40" height="16" rx="8" fill="#555"/><rect x="1165" y="1252" width="36" height="14" rx="7" fill="#555"/><polygon points="490,455 760,440 1240,475 1000,500" fill="#D2D4D6" stroke="#A3A3A3" stroke-width="3" /><polygon points="1000,500 1240,475 1240,565 1000,595" fill="#B9BBBD" stroke="#A3A3A3" stroke-width="3" /><polygon points="490,455 1000,500 1000,595 490,545" fill="#4A4A4C" stroke="#333" stroke-width="3" /><path d="M545 478 l85 8 v42 l-85 -8z" fill="#707375" stroke="#9a9a9a" stroke-width="3"/><path d="M553 513 l70 7" stroke="#ddd" stroke-width="8" stroke-dasharray="10 8"/><path d="M850 505 l85 8 v42 l-85 -8z" fill="#707375" stroke="#9a9a9a" stroke-width="3"/><path d="M858 540 l70 7" stroke="#ddd" stroke-width="8" stroke-dasharray="10 8"/><circle cx="712" cy="519" r="9" fill="#4A4A4C" stroke="#D9534F" stroke-width="4"/><circle cx="737" cy="521" r="9" fill="#4A4A4C" stroke="#D9534F" stroke-width="4"/><circle cx="762" cy="523" r="9" fill="#4A4A4C" stroke="#D9534F" stroke-width="4"/><circle cx="787" cy="525" r="9" fill="#4A4A4C" stroke="#D9534F" stroke-width="4"/><rect x="516" y="481" width="13" height="30" fill="#B8D8B0" stroke="#333" stroke-width="2"/><rect x="518" y="491" width="9" height="9" fill="#38B04A"/><rect x="642" y="493" width="13" height="30" fill="#B8D8B0" stroke="#333" stroke-width="2"/><rect x="644" y="503" width="9" height="9" fill="#38B04A"/><rect x="677" y="498" width="13" height="30" fill="#B8D8B0" stroke="#333" stroke-width="2"/><rect x="679" y="508" width="9" height="9" fill="#38B04A"/><rect x="820" y="510" width="13" height="30" fill="#B8D8B0" stroke="#333" stroke-width="2"/><rect x="822" y="520" width="9" height="9" fill="#38B04A"/><path d="M500 440 Q495 425 520 420 L525 150 Q525 112 565 110 L940 104 Q975 104 978 140 V440 Q975 465 940 465 L530 462 Q500 460 500 440Z" fill="#ECEAEA" stroke="#A3A3A3" stroke-width="4"/><path d="M800 108 L940 104 Q975 104 978 140 V440 L800 440 Q790 270 800 108Z" fill="#D9D6D6"/><path d="M890 106 Q905 120 905 160 V440" fill="none" stroke="#F6F4F4" stroke-width="10"/><path d="M500 440 Q495 425 520 420 L978 420 V440 Q975 465 940 465 L530 462 Q500 460 500 440Z" fill="#F2F0F0" stroke="#A3A3A3" stroke-width="3"/><path d="M1130 170 C1175 170 1172 250 1170 470" fill="none" stroke="#E2E6E6" stroke-width="16"/><polygon points="955,125 965,113 1120,113 1130,125 1130,468 955,440" fill="#555759" stroke="#2C2C2C" stroke-width="4" /><polygon points="845,455 955,440 1130,468 1010,480" fill="#5E6062" stroke="#2C2C2C" stroke-width="3" /><path d="M845 455 Q850 475 880 478 L1100 478 Q1125 475 1130 468" fill="#3A3A3C"/><rect x="962" y="130" width="58" height="38" fill="#F2F2F2"/><rect x="962" y="180" width="58" height="210" fill="#BFC3C5" stroke="#2C2C2C" stroke-width="3"/><rect x="982" y="200" width="22" height="165" fill="#D8B24A"/><path d="M993 200 V365" stroke="#8C6E1E" stroke-width="3" stroke-dasharray="3 4"/><circle cx="977" cy="408" r="20" fill="#2B2B2D"/><circle cx="998" cy="408" r="15" fill="#444"/><rect x="1042" y="130" width="58" height="38" fill="#F2F2F2"/><rect x="1042" y="180" width="58" height="210" fill="#BFC3C5" stroke="#2C2C2C" stroke-width="3"/><rect x="1062" y="200" width="22" height="165" fill="#D8B24A"/><path d="M1073 200 V365" stroke="#8C6E1E" stroke-width="3" stroke-dasharray="3 4"/><circle cx="1057" cy="408" r="20" fill="#2B2B2D"/><circle cx="1078" cy="408" r="15" fill="#444"/></g>
<g transform="translate(2100 60) scale(0.15873)" stroke-linejoin="round" stroke-linecap="round"><path d="M1010 690 C760 690 420 700 250 900 C180 990 160 1060 160 1105 C160 1125 185 1125 188 1105 C200 1020 260 930 340 870 C520 760 800 790 1010 770 Z" fill="#E5A59F"/><path d="M1000 705 C760 705 440 720 270 905 C200 990 178 1060 172 1100" fill="none" stroke="#F0BDB7" stroke-width="14"/><path d="M1040 830 L1090 830 L1105 940 C1150 950 1170 965 1165 980 C1140 985 1130 975 1125 1000 C1100 1005 1100 985 1085 1010 C1060 1015 1065 990 1045 1015 C1025 1010 1030 985 1040 975 C1010 990 980 990 975 965 C990 945 1020 945 1050 925 Z" fill="#F0B7B1"/><path d="M1790 920 L1845 920 L1850 1030 C1890 1050 1915 1065 1915 1085 C1890 1095 1880 1080 1870 1105 C1845 1110 1850 1090 1835 1115 C1810 1115 1815 1095 1800 1115 C1780 1110 1785 1090 1790 1078 C1765 1095 1745 1090 1745 1075 C1760 1055 1785 1050 1800 1030 Z" fill="#F0B7B1"/><path d="M1345 1010 L1405 1010 L1420 1060 C1440 1080 1445 1100 1435 1130 C1420 1150 1400 1140 1380 1150 C1340 1150 1300 1130 1310 1100 C1320 1080 1340 1075 1345 1060 Z" fill="#F0B7B1"/><path d="M975 590 C975 330 1180 175 1420 175 C1600 175 1720 250 1770 360 C1860 470 1910 600 1905 720 C1900 830 1850 900 1790 935 L1420 1020 L1340 1010 C1320 960 1300 930 1250 915 C1180 900 1130 870 1090 835 L1040 830 C1000 760 975 680 975 590Z" fill="#EDEBE9" stroke="#C9C2B8" stroke-width="4"/><path d="M1040 830 C1060 760 1100 700 1130 690 C1200 720 1260 700 1290 660 C1330 800 1420 900 1560 935 C1700 960 1830 910 1880 800 C1870 880 1830 920 1790 935 L1420 1020 L1340 1010 C1320 960 1300 930 1250 915 C1180 900 1130 870 1090 835Z" fill="#E3DED9"/><path d="M1370 530 C1250 470 1190 360 1225 275 C1255 215 1340 215 1390 270 C1430 310 1450 345 1460 370 C1420 410 1385 470 1370 530Z" fill="#F0EEEC" stroke="#C9C2B8" stroke-width="4"/><path d="M1365 520 C1260 465 1195 360 1228 280 C1255 225 1335 228 1385 285 C1420 325 1430 350 1425 380 C1400 420 1375 470 1365 520Z" fill="#E9A9A3"/><path d="M1300 390 C1300 340 1350 320 1385 350" fill="none" stroke="#F3C6C0" stroke-width="10"/><path d="M1760 370 C1790 290 1850 220 1910 215 C1990 225 2010 330 1985 410 C1960 480 1910 520 1865 530 C1840 460 1800 410 1760 370Z" fill="#F0EEEC" stroke="#C9C2B8" stroke-width="4"/><path d="M1790 375 C1810 300 1860 235 1910 232 C1975 240 1995 330 1972 405 C1950 470 1905 510 1868 520 C1845 460 1820 415 1790 375Z" fill="#E9A9A3"/><path d="M1850 380 C1860 335 1910 325 1930 365" fill="none" stroke="#F3C6C0" stroke-width="10"/><path d="M1335 700 C1320 520 1440 350 1600 345 C1770 345 1900 500 1900 680 C1895 830 1780 940 1610 945 C1450 945 1345 850 1335 700Z" fill="#EFEDEB" stroke="#C9C2B8" stroke-width="4"/><ellipse cx="1477" cy="643" rx="27" ry="36" fill="#B3262A" transform="rotate(15 1477 643)"/><ellipse cx="1480" cy="638" rx="14" ry="22" fill="#D94A44" transform="rotate(15 1480 638)"/><circle cx="1470" cy="622" r="6" fill="#fff"/><ellipse cx="1722" cy="648" rx="25" ry="35" fill="#B3262A" transform="rotate(-12 1722 648)"/><ellipse cx="1720" cy="644" rx="13" ry="21" fill="#D94A44" transform="rotate(-12 1720 644)"/><circle cx="1714" cy="628" r="6" fill="#fff"/><path d="M1555 838 C1565 820 1625 820 1640 838 C1640 865 1615 885 1597 885 C1580 885 1555 865 1555 838Z" fill="#E9A29D"/><path d="M1560 898 Q1597 880 1635 898" fill="none" stroke="#C9C2B8" stroke-width="4"/><path d="M1520 830 L1330 690 M1515 850 L1300 790 M1515 870 L1330 880 M1520 885 L1420 975 M1680 830 L1870 690 M1685 850 L1930 790 M1685 868 L1900 905 M1680 885 L1770 980" stroke="#D5CEC6" stroke-width="3" fill="none"/></g>
</g>
<g id="part_plots">
<defs><linearGradient id="gS" gradientUnits="userSpaceOnUse" x1="0" y1="405" x2="0" y2="428"><stop offset="0" stop-color="#222" stop-opacity="0.15"/><stop offset="1" stop-color="#222"/></linearGradient></defs>
<path d="M2661 344h1.35h-1.35m9 10h1.35h-1.35m5 3h1.35h-1.35m3-11h1.35h-1.35m1 1h1.35h-1.35m1-9h1.35h-1.35m0 13h1.35h-1.35m3-11h1.35h-1.35m1 9h1.35h-1.35m4-2h1.35h-1.35m2-5h1.35h-1.35m3-30h1.35h-1.35m0 26h1.35h-1.35m0 13h1.35h-1.35m0 2h1.35h-1.35m1-18h1.35h-1.35m0 23h1.35h-1.35m1-41h1.35h-1.35m0 48h1.35h-1.35m1-30h1.35h-1.35m0 1h1.35h-1.35m0 21h1.35h-1.35m1-3h1.35h-1.35m3-8h1.35h-1.35m1-22h1.35h-1.35m1 18h1.35h-1.35m0 24h1.35h-1.35m1 0h1.35h-1.35m2-3h1.35h-1.35m1-21h1.35h-1.35m1-14h1.35h-1.35m0 22h1.35h-1.35m1-24h1.35h-1.35m0 23h1.35h-1.35m0 3h1.35h-1.35m0 3h1.35h-1.35m1 7h1.35h-1.35m0 3h1.35h-1.35m1-9h1.35h-1.35m1-42h1.35h-1.35m0 37h1.35h-1.35m0 1h1.35h-1.35m1-27h1.35h-1.35m0 16h1.35h-1.35m1 9h1.35h-1.35m2-6h1.35h-1.35m0 5h1.35h-1.35m0 14h1.35h-1.35m2-23h1.35h-1.35m1-22h1.35h-1.35m0 12h1.35h-1.35m0 22h1.35h-1.35m0 0h1.35h-1.35m1 5h1.35h-1.35m1-27h1.35h-1.35m0 28h1.35h-1.35m1-19h1.35h-1.35m0 16h1.35h-1.35m0 7h1.35h-1.35m1-42h1.35h-1.35m0 36h1.35h-1.35m1-6h1.35h-1.35m1-40h1.35h-1.35m0 26h1.35h-1.35m1-2h1.35h-1.35m0 1h1.35h-1.35m0 7h1.35h-1.35m0 18h1.35h-1.35m0 2h1.35h-1.35m1-34h1.35h-1.35m0 2h1.35h-1.35m0 3h1.35h-1.35m0 7h1.35h-1.35m0 6h1.35h-1.35m0 12h1.35h-1.35m1-12h1.35h-1.35m0 18h1.35h-1.35m1-20h1.35h-1.35m0 6h1.35h-1.35m0 2h1.35h-1.35m0 1h1.35h-1.35m1-7h1.35h-1.35m1-25h1.35h-1.35m0 28h1.35h-1.35m0 14h1.35h-1.35m0 1h1.35h-1.35m1-24h1.35h-1.35m0 5h1.35h-1.35m0 1h1.35h-1.35m0 5h1.35h-1.35m0 4h1.35h-1.35m1-9h1.35h-1.35m0 5h1.35h-1.35m0 5h1.35h-1.35m0 6h1.35h-1.35m1-23h1.35h-1.35m1 0h1.35h-1.35m0 17h1.35h-1.35m0 0h1.35h-1.35m0 10h1.35h-1.35m1-25h1.35h-1.35m0 4h1.35h-1.35m0 17h1.35h-1.35m1-16h1.35h-1.35m0 10h1.35h-1.35m0 4h1.35h-1.35m1-10h1.35h-1.35m0 1h1.35h-1.35m0 2h1.35h-1.35m1-23h1.35h-1.35m0 22h1.35h-1.35m1-12h1.35h-1.35m0 3h1.35h-1.35m0 6h1.35h-1.35m0 3h1.35h-1.35m0 6h1.35h-1.35m0 1h1.35h-1.35m0 2h1.35h-1.35m0 2h1.35h-1.35m0 2h1.35h-1.35m1-42h1.35h-1.35m0 15h1.35h-1.35m0 7h1.35h-1.35m0 6h1.35h-1.35m0 11h1.35h-1.35m0 3h1.35h-1.35m1-44h1.35h-1.35m0 1h1.35h-1.35m0 8h1.35h-1.35m0 10h1.35h-1.35m0 1h1.35h-1.35m0 11h1.35h-1.35m0 0h1.35h-1.35m0 7h1.35h-1.35m0 3h1.35h-1.35m1-20h1.35h-1.35m0 13h1.35h-1.35m0 4h1.35h-1.35m0 3h1.35h-1.35m1-16h1.35h-1.35m0 8h1.35h-1.35m0 2h1.35h-1.35m0 0h1.35h-1.35m0 4h1.35h-1.35m1-18h1.35h-1.35m0 8h1.35h-1.35m0 9h1.35h-1.35m1-32h1.35h-1.35m0 14h1.35h-1.35m0 14h1.35h-1.35m1-24h1.35h-1.35m0 8h1.35h-1.35m0 15h1.35h-1.35m1-13h1.35h-1.35m0 12h1.35h-1.35m1-33h1.35h-1.35m0 12h1.35h-1.35m0 5h1.35h-1.35m0 23h1.35h-1.35m1-14h1.35h-1.35m0 16h1.35h-1.35m0 1h1.35h-1.35m1-33h1.35h-1.35m0 6h1.35h-1.35m0 7h1.35h-1.35m0 23h1.35h-1.35m1-32h1.35h-1.35m0 6h1.35h-1.35m1-22h1.35h-1.35m0 32h1.35h-1.35m0 2h1.35h-1.35m0 1h1.35h-1.35m0 5h1.35h-1.35m0 4h1.35h-1.35m0 4h1.35h-1.35m1-7h1.35h-1.35m0 5h1.35h-1.35m0 1h1.35h-1.35m0 0h1.35h-1.35m1-22h1.35h-1.35m0 1h1.35h-1.35m0 3h1.35h-1.35m0 5h1.35h-1.35m1-17h1.35h-1.35m0 7h1.35h-1.35m0 3h1.35h-1.35m0 2h1.35h-1.35m0 0h1.35h-1.35m0 13h1.35h-1.35m0 2h1.35h-1.35m1-33h1.35h-1.35m0 18h1.35h-1.35m0 4h1.35h-1.35m0 7h1.35h-1.35m0 5h1.35h-1.35m1-40h1.35h-1.35m0 9h1.35h-1.35m0 15h1.35h-1.35m0 5h1.35h-1.35m1-44h1.35h-1.35m0 15h1.35h-1.35m0 1h1.35h-1.35m0 16h1.35h-1.35m0 12h1.35h-1.35m0 4h1.35h-1.35m1-9h1.35h-1.35m0 8h1.35h-1.35m0 8h1.35h-1.35m0 1h1.35h-1.35m1-32h1.35h-1.35m0 3h1.35h-1.35m0 14h1.35h-1.35m0 2h1.35h-1.35m1-37h1.35h-1.35m0 25h1.35h-1.35m0 2h1.35h-1.35m0 1h1.35h-1.35m0 9h1.35h-1.35m0 4h1.35h-1.35m0 9h1.35h-1.35m1-23h1.35h-1.35m0 11h1.35h-1.35m0 3h1.35h-1.35m0 2h1.35h-1.35m0 3h1.35h-1.35m1-26h1.35h-1.35m0 6h1.35h-1.35m0 1h1.35h-1.35m0 6h1.35h-1.35m0 10h1.35h-1.35m0 3h1.35h-1.35m0 4h1.35h-1.35m1-46h1.35h-1.35m0 3h1.35h-1.35m0 13h1.35h-1.35m0 4h1.35h-1.35m0 0h1.35h-1.35m0 11h1.35h-1.35m0 3h1.35h-1.35m0 1h1.35h-1.35m0 6h1.35h-1.35m0 3h1.35h-1.35m1-33h1.35h-1.35m0 5h1.35h-1.35m0 1h1.35h-1.35m0 12h1.35h-1.35m0 1h1.35h-1.35m0 0h1.35h-1.35m0 7h1.35h-1.35m0 3h1.35h-1.35m0 6h1.35h-1.35m0 1h1.35h-1.35m0 0h1.35h-1.35m0 0h1.35h-1.35m1-36h1.35h-1.35m0 12h1.35h-1.35m0 2h1.35h-1.35m0 4h1.35h-1.35m0 6h1.35h-1.35m0 3h1.35h-1.35m0 0h1.35h-1.35m0 0h1.35h-1.35m0 5h1.35h-1.35m1-22h1.35h-1.35m0 25h1.35h-1.35m1-18h1.35h-1.35m0 13h1.35h-1.35m0 5h1.35h-1.35m1-10h1.35h-1.35m1-23h1.35h-1.35m0 19h1.35h-1.35m0 5h1.35h-1.35m0 8h1.35h-1.35m1-39h1.35h-1.35m0 6h1.35h-1.35m0 3h1.35h-1.35m0 8h1.35h-1.35m0 9h1.35h-1.35m0 9h1.35h-1.35m0 1h1.35h-1.35m0 1h1.35h-1.35m2-53h1.35h-1.35m0 36h1.35h-1.35m0 6h1.35h-1.35m0 1h1.35h-1.35m0 2h1.35h-1.35m0 2h1.35h-1.35m0 1h1.35h-1.35m0 6h1.35h-1.35m0 2h1.35h-1.35m1-24h1.35h-1.35m0 3h1.35h-1.35m0 16h1.35h-1.35m1-16h1.35h-1.35m0 1h1.35h-1.35m0 1h1.35h-1.35m0 0h1.35h-1.35m1-12h1.35h-1.35m0 11h1.35h-1.35m0 1h1.35h-1.35m0 2h1.35h-1.35m0 6h1.35h-1.35m0 2h1.35h-1.35m0 1h1.35h-1.35m0 4h1.35h-1.35m0 5h1.35h-1.35m1-38h1.35h-1.35m0 14h1.35h-1.35m0 0h1.35h-1.35m0 1h1.35h-1.35m0 0h1.35h-1.35m0 1h1.35h-1.35m0 8h1.35h-1.35m0 7h1.35h-1.35m0 4h1.35h-1.35m1-29h1.35h-1.35m0 20h1.35h-1.35m0 1h1.35h-1.35m1-14h1.35h-1.35m0 16h1.35h-1.35m1-1h1.35h-1.35m0 1h1.35h-1.35m0 3h1.35h-1.35m1-31h1.35h-1.35m0 27h1.35h-1.35m0 5h1.35h-1.35m1-41h1.35h-1.35m0 18h1.35h-1.35m0 4h1.35h-1.35m0 3h1.35h-1.35m0 5h1.35h-1.35m0 0h1.35h-1.35m0 9h1.35h-1.35m0 0h1.35h-1.35m0 4h1.35h-1.35m1-35h1.35h-1.35m0 10h1.35h-1.35m0 11h1.35h-1.35m0 4h1.35h-1.35m0 7h1.35h-1.35m0 1h1.35h-1.35m1-33h1.35h-1.35m0 8h1.35h-1.35m0 15h1.35h-1.35m0 0h1.35h-1.35m0 0h1.35h-1.35m0 1h1.35h-1.35m0 4h1.35h-1.35m0 5h1.35h-1.35m0 2h1.35h-1.35m1-35h1.35h-1.35m0 3h1.35h-1.35m0 12h1.35h-1.35m0 3h1.35h-1.35m0 2h1.35h-1.35m0 2h1.35h-1.35m0 0h1.35h-1.35m0 10h1.35h-1.35m0 1h1.35h-1.35m0 1h1.35h-1.35m0 0h1.35h-1.35m1-45h1.35h-1.35m0 34h1.35h-1.35m0 4h1.35h-1.35m1-6h1.35h-1.35m0 3h1.35h-1.35m0 1h1.35h-1.35m0 11h1.35h-1.35m1-26h1.35h-1.35m0 5h1.35h-1.35m0 12h1.35h-1.35m0 11h1.35h-1.35m1-54h1.35h-1.35m0 13h1.35h-1.35m0 20h1.35h-1.35m0 11h1.35h-1.35m0 1h1.35h-1.35m0 4h1.35h-1.35m0 3h1.35h-1.35m1-21h1.35h-1.35m0 8h1.35h-1.35m0 7h1.35h-1.35m1-29h1.35h-1.35m0 16h1.35h-1.35m0 2h1.35h-1.35m0 4h1.35h-1.35m0 2h1.35h-1.35m1 6h1.35h-1.35m1-19h1.35h-1.35m0 9h1.35h-1.35m0 2h1.35h-1.35m0 7h1.35h-1.35m0 0h1.35h-1.35m0 4h1.35h-1.35m0 3h1.35h-1.35m1-37h1.35h-1.35m0 23h1.35h-1.35m0 4h1.35h-1.35m0 7h1.35h-1.35m1-9h1.35h-1.35m0 2h1.35h-1.35m0 10h1.35h-1.35m1-30h1.35h-1.35m0 12h1.35h-1.35m0 9h1.35h-1.35m1-32h1.35h-1.35m0 17h1.35h-1.35m0 9h1.35h-1.35m0 9h1.35h-1.35m0 3h1.35h-1.35m1-48h1.35h-1.35m0 32h1.35h-1.35m1-24h1.35h-1.35m0 3h1.35h-1.35m0 13h1.35h-1.35m0 4h1.35h-1.35m0 4h1.35h-1.35m0 8h1.35h-1.35m0 1h1.35h-1.35m0 7h1.35h-1.35m0 3h1.35h-1.35m1-21h1.35h-1.35m0 5h1.35h-1.35m0 10h1.35h-1.35m0 7h1.35h-1.35m1-13h1.35h-1.35m0 8h1.35h-1.35m1-8h1.35h-1.35m0 11h1.35h-1.35m1-30h1.35h-1.35m0 16h1.35h-1.35m0 6h1.35h-1.35m0 10h1.35h-1.35m1-30h1.35h-1.35m0 21h1.35h-1.35m1-28h1.35h-1.35m0 19h1.35h-1.35m0 5h1.35h-1.35m1-43h1.35h-1.35m0 20h1.35h-1.35m0 29h1.35h-1.35m1-44h1.35h-1.35m0 24h1.35h-1.35m0 16h1.35h-1.35m0 1h1.35h-1.35m0 4h1.35h-1.35m1 7h1.35h-1.35m1-27h1.35h-1.35m0 9h1.35h-1.35m0 4h1.35h-1.35m0 1h1.35h-1.35m1-31h1.35h-1.35m0 14h1.35h-1.35m0 9h1.35h-1.35m0 12h1.35h-1.35m0 7h1.35h-1.35m0 1h1.35h-1.35m1-33h1.35h-1.35m1 9h1.35h-1.35m0 8h1.35h-1.35m0 7h1.35h-1.35m0 1h1.35h-1.35m0 4h1.35h-1.35m1-29h1.35h-1.35m0 22h1.35h-1.35m0 0h1.35h-1.35m0 10h1.35h-1.35m1-45h1.35h-1.35m1 29h1.35h-1.35m0 3h1.35h-1.35m1-5h1.35h-1.35m0 6h1.35h-1.35m0 11h1.35h-1.35m1-30h1.35h-1.35m0 22h1.35h-1.35m1-19h1.35h-1.35m0 10h1.35h-1.35m1-5h1.35h-1.35m0 7h1.35h-1.35m1 1h1.35h-1.35m0 5h1.35h-1.35m0 4h1.35h-1.35m0 3h1.35h-1.35m1-24h1.35h-1.35m0 8h1.35h-1.35m0 18h1.35h-1.35m1-27h1.35h-1.35m0 6h1.35h-1.35m0 1h1.35h-1.35m1 3h1.35h-1.35m1 11h1.35h-1.35m2 5h1.35h-1.35m1 0h1.35h-1.35m1-30h1.35h-1.35m0 20h1.35h-1.35m1 1h1.35h-1.35m0 6h1.35h-1.35m0 0h1.35h-1.35m4-6h1.35h-1.35m1 7h1.35h-1.35m0 5h1.35h-1.35m1-54h1.35h-1.35m0 54h1.35h-1.35m1-22h1.35h-1.35m1 7h1.35h-1.35m1 3h1.35h-1.35m1-29h1.35h-1.35m2 33h1.35h-1.35m0 5h1.35h-1.35m2-30h1.35h-1.35m1-22h1.35h-1.35m3 43h1.35h-1.35m2-42h1.35h-1.35m0 9h1.35h-1.35m4 27h1.35h-1.35m3-6h1.35h-1.35m1 17h1.35h-1.35m5-21h1.35h-1.35m7-3h1.35h-1.35m2-12h1.35h-1.35" stroke="#2FAE7B" stroke-width="1.35" fill="none" transform="translate(0 .5)"/><path d="M2719 344h1.35h-1.35m0 3h1.35h-1.35m19 14h1.35h-1.35m4-22h1.35h-1.35m0 15h1.35h-1.35m7-12h1.35h-1.35m2-1h1.35h-1.35m1 0h1.35h-1.35m2-1h1.35h-1.35m1-4h1.35h-1.35m0 26h1.35h-1.35m1-39h1.35h-1.35m1 21h1.35h-1.35m0 14h1.35h-1.35m2-26h1.35h-1.35m0 22h1.35h-1.35m0 2h1.35h-1.35m1 2h1.35h-1.35m2-10h1.35h-1.35m0 0h1.35h-1.35m0 4h1.35h-1.35m3-23h1.35h-1.35m0 17h1.35h-1.35m1-2h1.35h-1.35m0 8h1.35h-1.35m2 13h1.35h-1.35m1-45h1.35h-1.35m0 3h1.35h-1.35m0 11h1.35h-1.35m1-7h1.35h-1.35m1-7h1.35h-1.35m0 5h1.35h-1.35m0 2h1.35h-1.35m0 24h1.35h-1.35m1-19h1.35h-1.35m2-4h1.35h-1.35m0 31h1.35h-1.35m1-12h1.35h-1.35m1-2h1.35h-1.35m0 7h1.35h-1.35m1-17h1.35h-1.35m0 20h1.35h-1.35m1-19h1.35h-1.35m0 6h1.35h-1.35m0 12h1.35h-1.35m1-19h1.35h-1.35m0 6h1.35h-1.35m1-4h1.35h-1.35m1 12h1.35h-1.35m1-5h1.35h-1.35m1-21h1.35h-1.35m0 2h1.35h-1.35m0 8h1.35h-1.35m0 15h1.35h-1.35m1-13h1.35h-1.35m0 3h1.35h-1.35m0 8h1.35h-1.35m0 4h1.35h-1.35m0 1h1.35h-1.35m0 10h1.35h-1.35m1-26h1.35h-1.35m0 8h1.35h-1.35m0 11h1.35h-1.35m1-1h1.35h-1.35m1-23h1.35h-1.35m0 7h1.35h-1.35m0 17h1.35h-1.35m0 3h1.35h-1.35m1-25h1.35h-1.35m0 28h1.35h-1.35m1-39h1.35h-1.35m0 37h1.35h-1.35m1-13h1.35h-1.35m0 6h1.35h-1.35m0 6h1.35h-1.35m1-20h1.35h-1.35m0 15h1.35h-1.35m1-23h1.35h-1.35m2 18h1.35h-1.35m0 1h1.35h-1.35m1 9h1.35h-1.35m1-3h1.35h-1.35m1-22h1.35h-1.35m0 11h1.35h-1.35m3 13h1.35h-1.35m1-28h1.35h-1.35m0 11h1.35h-1.35m1 13h1.35h-1.35m1-4h1.35h-1.35m0 10h1.35h-1.35m2-25h1.35h-1.35m0 10h1.35h-1.35m0 23h1.35h-1.35m1-37h1.35h-1.35m0 14h1.35h-1.35m0 11h1.35h-1.35m1-27h1.35h-1.35m1 30h1.35h-1.35m0 7h1.35h-1.35m1-10h1.35h-1.35m1-35h1.35h-1.35m0 7h1.35h-1.35m0 16h1.35h-1.35m0 9h1.35h-1.35m1 12h1.35h-1.35m1-27h1.35h-1.35m0 8h1.35h-1.35m1 5h1.35h-1.35m1-26h1.35h-1.35m0 11h1.35h-1.35m0 1h1.35h-1.35m0 2h1.35h-1.35m0 24h1.35h-1.35m1-31h1.35h-1.35m0 16h1.35h-1.35m0 16h1.35h-1.35m1-33h1.35h-1.35m0 21h1.35h-1.35m0 6h1.35h-1.35m1-24h1.35h-1.35m0 7h1.35h-1.35m1 22h1.35h-1.35m1-16h1.35h-1.35m4-20h1.35h-1.35m0 1h1.35h-1.35m0 29h1.35h-1.35m1-7h1.35h-1.35m0 4h1.35h-1.35m2 0h1.35h-1.35m0 6h1.35h-1.35m1-27h1.35h-1.35m0 7h1.35h-1.35m1-3h1.35h-1.35m0 28h1.35h-1.35m1-26h1.35h-1.35m2 9h1.35h-1.35m1 8h1.35h-1.35m0 10h1.35h-1.35m1-8h1.35h-1.35m1-16h1.35h-1.35m0 0h1.35h-1.35m1-4h1.35h-1.35m1 1h1.35h-1.35m0 12h1.35h-1.35m0 11h1.35h-1.35m0 2h1.35h-1.35m1-12h1.35h-1.35m3-2h1.35h-1.35m4-15h1.35h-1.35m0 0h1.35h-1.35m2 22h1.35h-1.35m1-5h1.35h-1.35m1-8h1.35h-1.35m0 3h1.35h-1.35m5-10h1.35h-1.35m0 8h1.35h-1.35m0 10h1.35h-1.35m4-7h1.35h-1.35m5 17h1.35h-1.35m12-16h1.35h-1.35" stroke="#2F9E6B" stroke-width="1.35" fill="none" transform="translate(0 .5)"/><path d="M2689 251h1.35h-1.35m2 9h1.35h-1.35m13 32h1.35h-1.35m0 48h1.35h-1.35m2-47h1.35h-1.35m2 25h1.35h-1.35m1-2h1.35h-1.35m1-83h1.35h-1.35m0 30h1.35h-1.35m3-42h1.35h-1.35m0 11h1.35h-1.35m1 102h1.35h-1.35m1-90h1.35h-1.35m0 14h1.35h-1.35m0 73h1.35h-1.35m0 24h1.35h-1.35m1-107h1.35h-1.35m0 26h1.35h-1.35m0 4h1.35h-1.35m0 42h1.35h-1.35m1-22h1.35h-1.35m1-65h1.35h-1.35m0 8h1.35h-1.35m0 22h1.35h-1.35m1-49h1.35h-1.35m0 53h1.35h-1.35m1-64h1.35h-1.35m1 114h1.35h-1.35m0 15h1.35h-1.35m1-101h1.35h-1.35m0 18h1.35h-1.35m1-12h1.35h-1.35m0 78h1.35h-1.35m0 2h1.35h-1.35m1-55h1.35h-1.35m0 37h1.35h-1.35m0 14h1.35h-1.35m0 0h1.35h-1.35m0 29h1.35h-1.35m1-57h1.35h-1.35m0 0h1.35h-1.35m0 6h1.35h-1.35m0 13h1.35h-1.35m0 20h1.35h-1.35m0 17h1.35h-1.35m1-97h1.35h-1.35m0 4h1.35h-1.35m0 36h1.35h-1.35m0 2h1.35h-1.35m0 6h1.35h-1.35m0 26h1.35h-1.35m1-10h1.35h-1.35m0 26h1.35h-1.35m1-95h1.35h-1.35m0 26h1.35h-1.35m0 4h1.35h-1.35m0 3h1.35h-1.35m0 12h1.35h-1.35m0 1h1.35h-1.35m0 5h1.35h-1.35m0 15h1.35h-1.35m0 7h1.35h-1.35m0 1h1.35h-1.35m0 11h1.35h-1.35m0 14h1.35h-1.35m1-17h1.35h-1.35m0 5h1.35h-1.35m0 4h1.35h-1.35m1-85h1.35h-1.35m0 12h1.35h-1.35m0 12h1.35h-1.35m0 1h1.35h-1.35m0 11h1.35h-1.35m0 23h1.35h-1.35m0 30h1.35h-1.35m0 5h1.35h-1.35m0 9h1.35h-1.35m0 14h1.35h-1.35m1-163h1.35h-1.35m0 58h1.35h-1.35m0 4h1.35h-1.35m0 41h1.35h-1.35m0 32h1.35h-1.35m0 10h1.35h-1.35m1-80h1.35h-1.35m0 5h1.35h-1.35m0 5h1.35h-1.35m0 21h1.35h-1.35m0 25h1.35h-1.35m0 14h1.35h-1.35m0 3h1.35h-1.35m1-83h1.35h-1.35m0 9h1.35h-1.35m0 3h1.35h-1.35m0 8h1.35h-1.35m0 1h1.35h-1.35m0 6h1.35h-1.35m0 50h1.35h-1.35m1-75h1.35h-1.35m0 11h1.35h-1.35m0 9h1.35h-1.35m0 13h1.35h-1.35m0 8h1.35h-1.35m0 19h1.35h-1.35m0 27h1.35h-1.35m0 11h1.35h-1.35m1-96h1.35h-1.35m0 35h1.35h-1.35m0 9h1.35h-1.35m0 48h1.35h-1.35m0 7h1.35h-1.35m1-148h1.35h-1.35m0 32h1.35h-1.35m0 25h1.35h-1.35m0 4h1.35h-1.35m0 15h1.35h-1.35m0 13h1.35h-1.35m0 8h1.35h-1.35m0 49h1.35h-1.35m1-143h1.35h-1.35m0 39h1.35h-1.35m0 3h1.35h-1.35m0 1h1.35h-1.35m0 8h1.35h-1.35m0 16h1.35h-1.35m0 9h1.35h-1.35m0 9h1.35h-1.35m0 18h1.35h-1.35m0 20h1.35h-1.35m0 16h1.35h-1.35m0 13h1.35h-1.35m1-160h1.35h-1.35m0 58h1.35h-1.35m0 3h1.35h-1.35m0 3h1.35h-1.35m0 1h1.35h-1.35m0 13h1.35h-1.35m0 15h1.35h-1.35m0 7h1.35h-1.35m0 10h1.35h-1.35m0 3h1.35h-1.35m1-92h1.35h-1.35m0 24h1.35h-1.35m0 7h1.35h-1.35m0 2h1.35h-1.35m0 14h1.35h-1.35m0 9h1.35h-1.35m0 6h1.35h-1.35m0 4h1.35h-1.35m0 10h1.35h-1.35m0 9h1.35h-1.35m0 1h1.35h-1.35m0 1h1.35h-1.35m1-78h1.35h-1.35m0 14h1.35h-1.35m0 15h1.35h-1.35m0 1h1.35h-1.35m0 35h1.35h-1.35m0 3h1.35h-1.35m0 30h1.35h-1.35m1-74h1.35h-1.35m0 48h1.35h-1.35m0 14h1.35h-1.35m0 1h1.35h-1.35m0 13h1.35h-1.35m1-115h1.35h-1.35m0 30h1.35h-1.35m0 7h1.35h-1.35m0 0h1.35h-1.35m0 5h1.35h-1.35m0 1h1.35h-1.35m0 18h1.35h-1.35m0 8h1.35h-1.35m0 1h1.35h-1.35m0 1h1.35h-1.35m0 23h1.35h-1.35m0 10h1.35h-1.35m0 12h1.35h-1.35m1-129h1.35h-1.35m0 10h1.35h-1.35m0 28h1.35h-1.35m0 9h1.35h-1.35m0 0h1.35h-1.35m0 4h1.35h-1.35m0 2h1.35h-1.35m0 2h1.35h-1.35m0 9h1.35h-1.35m0 18h1.35h-1.35m0 18h1.35h-1.35m0 7h1.35h-1.35m0 7h1.35h-1.35m0 16h1.35h-1.35m0 4h1.35h-1.35m0 15h1.35h-1.35m1-94h1.35h-1.35m0 10h1.35h-1.35m0 4h1.35h-1.35m0 9h1.35h-1.35m0 19h1.35h-1.35m0 6h1.35h-1.35m0 11h1.35h-1.35m0 12h1.35h-1.35m0 14h1.35h-1.35m0 2h1.35h-1.35m0 17h1.35h-1.35m1-160h1.35h-1.35m0 58h1.35h-1.35m0 6h1.35h-1.35m0 2h1.35h-1.35m0 6h1.35h-1.35m0 6h1.35h-1.35m0 9h1.35h-1.35m0 10h1.35h-1.35m0 1h1.35h-1.35m0 0h1.35h-1.35m0 10h1.35h-1.35m0 2h1.35h-1.35m0 3h1.35h-1.35m0 19h1.35h-1.35m1-98h1.35h-1.35m0 48h1.35h-1.35m0 5h1.35h-1.35m0 10h1.35h-1.35m0 3h1.35h-1.35m0 10h1.35h-1.35m0 8h1.35h-1.35m0 8h1.35h-1.35m0 4h1.35h-1.35m1-104h1.35h-1.35m0 19h1.35h-1.35m0 1h1.35h-1.35m0 7h1.35h-1.35m0 6h1.35h-1.35m0 29h1.35h-1.35m0 0h1.35h-1.35m0 3h1.35h-1.35m0 0h1.35h-1.35m0 10h1.35h-1.35m1-100h1.35h-1.35m0 37h1.35h-1.35m0 22h1.35h-1.35m0 8h1.35h-1.35m0 5h1.35h-1.35m0 4h1.35h-1.35m0 7h1.35h-1.35m0 12h1.35h-1.35m0 3h1.35h-1.35m0 5h1.35h-1.35m0 8h1.35h-1.35m0 26h1.35h-1.35m1-73h1.35h-1.35m0 11h1.35h-1.35m0 12h1.35h-1.35m0 4h1.35h-1.35m0 19h1.35h-1.35m0 1h1.35h-1.35m1-96h1.35h-1.35m0 21h1.35h-1.35m0 10h1.35h-1.35m0 0h1.35h-1.35m0 3h1.35h-1.35m0 1h1.35h-1.35m0 25h1.35h-1.35m0 10h1.35h-1.35m0 33h1.35h-1.35m0 1h1.35h-1.35m1-104h1.35h-1.35m0 52h1.35h-1.35m0 26h1.35h-1.35m0 8h1.35h-1.35m0 8h1.35h-1.35m0 6h1.35h-1.35m1-120h1.35h-1.35m0 4h1.35h-1.35m0 53h1.35h-1.35m0 20h1.35h-1.35m0 16h1.35h-1.35m0 14h1.35h-1.35m0 12h1.35h-1.35m0 1h1.35h-1.35m0 4h1.35h-1.35m0 9h1.35h-1.35m1-99h1.35h-1.35m0 6h1.35h-1.35m0 3h1.35h-1.35m0 12h1.35h-1.35m0 9h1.35h-1.35m0 15h1.35h-1.35m0 16h1.35h-1.35m0 3h1.35h-1.35m0 7h1.35h-1.35m0 18h1.35h-1.35m0 32h1.35h-1.35m0 2h1.35h-1.35m0 3h1.35h-1.35m1-105h1.35h-1.35m0 8h1.35h-1.35m0 29h1.35h-1.35m0 17h1.35h-1.35m0 7h1.35h-1.35m0 18h1.35h-1.35m0 14h1.35h-1.35m1-107h1.35h-1.35m0 2h1.35h-1.35m0 29h1.35h-1.35m0 9h1.35h-1.35m0 33h1.35h-1.35m0 38h1.35h-1.35m1-112h1.35h-1.35m0 35h1.35h-1.35m0 7h1.35h-1.35m0 17h1.35h-1.35m0 10h1.35h-1.35m0 1h1.35h-1.35m0 3h1.35h-1.35m0 14h1.35h-1.35m1-125h1.35h-1.35m0 3h1.35h-1.35m0 4h1.35h-1.35m0 27h1.35h-1.35m0 1h1.35h-1.35m0 2h1.35h-1.35m0 11h1.35h-1.35m0 4h1.35h-1.35m0 16h1.35h-1.35m0 33h1.35h-1.35m0 44h1.35h-1.35m0 12h1.35h-1.35m1-156h1.35h-1.35m0 4h1.35h-1.35m0 33h1.35h-1.35m0 19h1.35h-1.35m0 19h1.35h-1.35m0 4h1.35h-1.35m0 7h1.35h-1.35m0 9h1.35h-1.35m0 16h1.35h-1.35m0 20h1.35h-1.35m0 2h1.35h-1.35m0 0h1.35h-1.35m1-114h1.35h-1.35m0 51h1.35h-1.35m0 17h1.35h-1.35m0 14h1.35h-1.35m0 18h1.35h-1.35m0 25h1.35h-1.35m0 11h1.35h-1.35m1-105h1.35h-1.35m0 9h1.35h-1.35m0 3h1.35h-1.35m0 23h1.35h-1.35m0 0h1.35h-1.35m0 4h1.35h-1.35m0 14h1.35h-1.35m1-33h1.35h-1.35m0 20h1.35h-1.35m0 33h1.35h-1.35m0 4h1.35h-1.35m1-116h1.35h-1.35m0 3h1.35h-1.35m0 6h1.35h-1.35m0 14h1.35h-1.35m0 17h1.35h-1.35m0 65h1.35h-1.35m1-45h1.35h-1.35m0 0h1.35h-1.35m0 3h1.35h-1.35m0 6h1.35h-1.35m0 24h1.35h-1.35m0 21h1.35h-1.35m0 10h1.35h-1.35m0 2h1.35h-1.35m0 13h1.35h-1.35m1-106h1.35h-1.35m0 44h1.35h-1.35m1-33h1.35h-1.35m0 24h1.35h-1.35m0 79h1.35h-1.35m1-157h1.35h-1.35m0 60h1.35h-1.35m0 84h1.35h-1.35m1-129h1.35h-1.35m0 41h1.35h-1.35m0 17h1.35h-1.35m0 19h1.35h-1.35m0 29h1.35h-1.35m0 15h1.35h-1.35m1-93h1.35h-1.35m0 48h1.35h-1.35m0 17h1.35h-1.35m1-83h1.35h-1.35m0 23h1.35h-1.35m0 39h1.35h-1.35m0 11h1.35h-1.35m1-32h1.35h-1.35m0 62h1.35h-1.35m1-70h1.35h-1.35m0 2h1.35h-1.35m0 49h1.35h-1.35m0 42h1.35h-1.35m1-81h1.35h-1.35m0 11h1.35h-1.35m0 17h1.35h-1.35m0 35h1.35h-1.35m1-104h1.35h-1.35m0 113h1.35h-1.35m1-94h1.35h-1.35m0 59h1.35h-1.35m1-34h1.35h-1.35m0 1h1.35h-1.35m0 45h1.35h-1.35m0 25h1.35h-1.35m2-27h1.35h-1.35m0 1h1.35h-1.35m4-60h1.35h-1.35m0 26h1.35h-1.35m0 24h1.35h-1.35m4 22h1.35h-1.35m8-75h1.35h-1.35m0 59h1.35h-1.35" stroke="#F6BD3C" stroke-width="1.35" fill="none" transform="translate(0 .5)"/><path d="M2749 262h1.35h-1.35m0 65h1.35h-1.35m1-56h1.35h-1.35m0 91h1.35h-1.35m1-65h1.35h-1.35m0 2h1.35h-1.35m0 32h1.35h-1.35m0 1h1.35h-1.35m0 10h1.35h-1.35m1-74h1.35h-1.35m0 39h1.35h-1.35m0 4h1.35h-1.35m0 14h1.35h-1.35m1-18h1.35h-1.35m0 6h1.35h-1.35m0 0h1.35h-1.35m0 4h1.35h-1.35m0 9h1.35h-1.35m1-55h1.35h-1.35m0 11h1.35h-1.35m0 12h1.35h-1.35m0 10h1.35h-1.35m0 7h1.35h-1.35m0 3h1.35h-1.35m0 7h1.35h-1.35m0 6h1.35h-1.35m0 4h1.35h-1.35m0 8h1.35h-1.35m0 23h1.35h-1.35m1-89h1.35h-1.35m0 4h1.35h-1.35m0 14h1.35h-1.35m0 2h1.35h-1.35m0 2h1.35h-1.35m0 20h1.35h-1.35m0 23h1.35h-1.35m0 12h1.35h-1.35m1-68h1.35h-1.35m0 9h1.35h-1.35m0 4h1.35h-1.35m0 7h1.35h-1.35m0 1h1.35h-1.35m0 11h1.35h-1.35m0 3h1.35h-1.35m0 20h1.35h-1.35m0 4h1.35h-1.35m0 19h1.35h-1.35m1-91h1.35h-1.35m0 12h1.35h-1.35m0 0h1.35h-1.35m0 12h1.35h-1.35m0 6h1.35h-1.35m0 1h1.35h-1.35m0 3h1.35h-1.35m0 0h1.35h-1.35m0 1h1.35h-1.35m0 5h1.35h-1.35m0 0h1.35h-1.35m0 1h1.35h-1.35m0 2h1.35h-1.35m0 3h1.35h-1.35m0 0h1.35h-1.35m0 10h1.35h-1.35m0 2h1.35h-1.35m0 2h1.35h-1.35m0 14h1.35h-1.35m0 1h1.35h-1.35m0 4h1.35h-1.35m0 5h1.35h-1.35m0 4h1.35h-1.35m1-118h1.35h-1.35m0 27h1.35h-1.35m0 2h1.35h-1.35m0 0h1.35h-1.35m0 13h1.35h-1.35m0 8h1.35h-1.35m0 3h1.35h-1.35m0 1h1.35h-1.35m0 5h1.35h-1.35m0 2h1.35h-1.35m0 2h1.35h-1.35m0 0h1.35h-1.35m0 4h1.35h-1.35m0 0h1.35h-1.35m0 1h1.35h-1.35m0 4h1.35h-1.35m0 4h1.35h-1.35m0 1h1.35h-1.35m0 3h1.35h-1.35m0 5h1.35h-1.35m0 2h1.35h-1.35m0 1h1.35h-1.35m0 4h1.35h-1.35m0 2h1.35h-1.35m0 0h1.35h-1.35m0 3h1.35h-1.35m0 1h1.35h-1.35m0 6h1.35h-1.35m0 2h1.35h-1.35m0 7h1.35h-1.35m0 6h1.35h-1.35m1-94h1.35h-1.35m0 7h1.35h-1.35m0 11h1.35h-1.35m0 2h1.35h-1.35m0 6h1.35h-1.35m0 2h1.35h-1.35m0 2h1.35h-1.35m0 2h1.35h-1.35m0 1h1.35h-1.35m0 2h1.35h-1.35m0 0h1.35h-1.35m0 0h1.35h-1.35m0 5h1.35h-1.35m0 2h1.35h-1.35m0 0h1.35h-1.35m0 1h1.35h-1.35m0 6h1.35h-1.35m0 1h1.35h-1.35m0 3h1.35h-1.35m0 4h1.35h-1.35m0 3h1.35h-1.35m0 1h1.35h-1.35m0 7h1.35h-1.35m0 0h1.35h-1.35m0 6h1.35h-1.35m0 8h1.35h-1.35m0 11h1.35h-1.35m1-93h1.35h-1.35m0 6h1.35h-1.35m0 3h1.35h-1.35m0 0h1.35h-1.35m0 3h1.35h-1.35m0 2h1.35h-1.35m0 9h1.35h-1.35m0 2h1.35h-1.35m0 1h1.35h-1.35m0 0h1.35h-1.35m0 0h1.35h-1.35m0 3h1.35h-1.35m0 3h1.35h-1.35m0 3h1.35h-1.35m0 0h1.35h-1.35m0 3h1.35h-1.35m0 0h1.35h-1.35m0 8h1.35h-1.35m0 4h1.35h-1.35m0 4h1.35h-1.35m0 3h1.35h-1.35m0 3h1.35h-1.35m0 1h1.35h-1.35m0 3h1.35h-1.35m0 4h1.35h-1.35m0 1h1.35h-1.35m0 1h1.35h-1.35m0 1h1.35h-1.35m0 15h1.35h-1.35m1-95h1.35h-1.35m0 10h1.35h-1.35m0 16h1.35h-1.35m0 0h1.35h-1.35m0 1h1.35h-1.35m0 3h1.35h-1.35m0 0h1.35h-1.35m0 1h1.35h-1.35m0 1h1.35h-1.35m0 0h1.35h-1.35m0 3h1.35h-1.35m0 0h1.35h-1.35m0 4h1.35h-1.35m0 1h1.35h-1.35m0 6h1.35h-1.35m0 1h1.35h-1.35m0 0h1.35h-1.35m0 1h1.35h-1.35m0 1h1.35h-1.35m0 4h1.35h-1.35m0 3h1.35h-1.35m0 2h1.35h-1.35m0 1h1.35h-1.35m0 0h1.35h-1.35m0 0h1.35h-1.35m0 2h1.35h-1.35m0 2h1.35h-1.35m0 0h1.35h-1.35m0 1h1.35h-1.35m0 1h1.35h-1.35m0 0h1.35h-1.35m0 1h1.35h-1.35m0 2h1.35h-1.35m0 2h1.35h-1.35m0 9h1.35h-1.35m0 1h1.35h-1.35m0 5h1.35h-1.35m0 5h1.35h-1.35m0 1h1.35h-1.35m0 2h1.35h-1.35m1-106h1.35h-1.35m0 3h1.35h-1.35m0 5h1.35h-1.35m0 25h1.35h-1.35m0 4h1.35h-1.35m0 2h1.35h-1.35m0 1h1.35h-1.35m0 1h1.35h-1.35m0 4h1.35h-1.35m0 1h1.35h-1.35m0 2h1.35h-1.35m0 4h1.35h-1.35m0 0h1.35h-1.35m0 1h1.35h-1.35m0 1h1.35h-1.35m0 2h1.35h-1.35m0 3h1.35h-1.35m0 0h1.35h-1.35m0 1h1.35h-1.35m0 2h1.35h-1.35m0 5h1.35h-1.35m0 2h1.35h-1.35m0 1h1.35h-1.35m0 0h1.35h-1.35m0 1h1.35h-1.35m0 1h1.35h-1.35m0 3h1.35h-1.35m0 0h1.35h-1.35m0 1h1.35h-1.35m0 2h1.35h-1.35m0 3h1.35h-1.35m0 2h1.35h-1.35m0 1h1.35h-1.35m0 0h1.35h-1.35m0 2h1.35h-1.35m0 1h1.35h-1.35m0 2h1.35h-1.35m0 0h1.35h-1.35m0 7h1.35h-1.35m0 16h1.35h-1.35m0 8h1.35h-1.35m0 2h1.35h-1.35m0 1h1.35h-1.35m1-105h1.35h-1.35m0 11h1.35h-1.35m0 0h1.35h-1.35m0 3h1.35h-1.35m0 3h1.35h-1.35m0 1h1.35h-1.35m0 5h1.35h-1.35m0 0h1.35h-1.35m0 5h1.35h-1.35m0 5h1.35h-1.35m0 1h1.35h-1.35m0 0h1.35h-1.35m0 1h1.35h-1.35m0 2h1.35h-1.35m0 0h1.35h-1.35m0 2h1.35h-1.35m0 0h1.35h-1.35m0 1h1.35h-1.35m0 1h1.35h-1.35m0 5h1.35h-1.35m0 2h1.35h-1.35m0 3h1.35h-1.35m0 0h1.35h-1.35m0 3h1.35h-1.35m0 0h1.35h-1.35m0 2h1.35h-1.35m0 0h1.35h-1.35m0 2h1.35h-1.35m0 2h1.35h-1.35m0 2h1.35h-1.35m0 2h1.35h-1.35m0 1h1.35h-1.35m0 0h1.35h-1.35m0 2h1.35h-1.35m0 5h1.35h-1.35m0 1h1.35h-1.35m0 3h1.35h-1.35m0 6h1.35h-1.35m0 1h1.35h-1.35m0 1h1.35h-1.35m0 6h1.35h-1.35m0 1h1.35h-1.35m0 7h1.35h-1.35m1-94h1.35h-1.35m0 17h1.35h-1.35m0 3h1.35h-1.35m0 2h1.35h-1.35m0 3h1.35h-1.35m0 1h1.35h-1.35m0 2h1.35h-1.35m0 2h1.35h-1.35m0 2h1.35h-1.35m0 0h1.35h-1.35m0 0h1.35h-1.35m0 2h1.35h-1.35m0 2h1.35h-1.35m0 0h1.35h-1.35m0 2h1.35h-1.35m0 1h1.35h-1.35m0 2h1.35h-1.35m0 1h1.35h-1.35m0 1h1.35h-1.35m0 0h1.35h-1.35m0 0h1.35h-1.35m0 1h1.35h-1.35m0 0h1.35h-1.35m0 4h1.35h-1.35m0 0h1.35h-1.35m0 1h1.35h-1.35m0 3h1.35h-1.35m0 1h1.35h-1.35m0 1h1.35h-1.35m0 2h1.35h-1.35m0 1h1.35h-1.35m0 4h1.35h-1.35m0 3h1.35h-1.35m0 1h1.35h-1.35m0 11h1.35h-1.35m0 1h1.35h-1.35m0 1h1.35h-1.35m0 1h1.35h-1.35m0 1h1.35h-1.35m0 7h1.35h-1.35m0 3h1.35h-1.35m0 7h1.35h-1.35m1-124h1.35h-1.35m0 15h1.35h-1.35m0 18h1.35h-1.35m0 3h1.35h-1.35m0 2h1.35h-1.35m0 3h1.35h-1.35m0 1h1.35h-1.35m0 2h1.35h-1.35m0 0h1.35h-1.35m0 2h1.35h-1.35m0 0h1.35h-1.35m0 3h1.35h-1.35m0 0h1.35h-1.35m0 2h1.35h-1.35m0 4h1.35h-1.35m0 1h1.35h-1.35m0 2h1.35h-1.35m0 1h1.35h-1.35m0 1h1.35h-1.35m0 2h1.35h-1.35m0 0h1.35h-1.35m0 2h1.35h-1.35m0 2h1.35h-1.35m0 1h1.35h-1.35m0 3h1.35h-1.35m0 2h1.35h-1.35m0 6h1.35h-1.35m0 0h1.35h-1.35m0 1h1.35h-1.35m0 1h1.35h-1.35m0 2h1.35h-1.35m0 1h1.35h-1.35m0 1h1.35h-1.35m0 3h1.35h-1.35m0 1h1.35h-1.35m0 1h1.35h-1.35m0 0h1.35h-1.35m0 1h1.35h-1.35m0 3h1.35h-1.35m0 3h1.35h-1.35m0 1h1.35h-1.35m0 1h1.35h-1.35m0 3h1.35h-1.35m0 2h1.35h-1.35m0 3h1.35h-1.35m0 19h1.35h-1.35m0 0h1.35h-1.35m1-116h1.35h-1.35m0 11h1.35h-1.35m0 14h1.35h-1.35m0 8h1.35h-1.35m0 6h1.35h-1.35m0 2h1.35h-1.35m0 5h1.35h-1.35m0 1h1.35h-1.35m0 3h1.35h-1.35m0 3h1.35h-1.35m0 1h1.35h-1.35m0 0h1.35h-1.35m0 7h1.35h-1.35m0 3h1.35h-1.35m0 1h1.35h-1.35m0 1h1.35h-1.35m0 2h1.35h-1.35m0 2h1.35h-1.35m0 3h1.35h-1.35m0 1h1.35h-1.35m0 6h1.35h-1.35m0 3h1.35h-1.35m0 7h1.35h-1.35m0 2h1.35h-1.35m0 6h1.35h-1.35m0 16h1.35h-1.35m1-121h1.35h-1.35m0 20h1.35h-1.35m0 8h1.35h-1.35m0 0h1.35h-1.35m0 4h1.35h-1.35m0 11h1.35h-1.35m0 1h1.35h-1.35m0 1h1.35h-1.35m0 0h1.35h-1.35m0 1h1.35h-1.35m0 2h1.35h-1.35m0 9h1.35h-1.35m0 0h1.35h-1.35m0 3h1.35h-1.35m0 0h1.35h-1.35m0 8h1.35h-1.35m0 8h1.35h-1.35m0 0h1.35h-1.35m0 2h1.35h-1.35m0 2h1.35h-1.35m0 4h1.35h-1.35m0 5h1.35h-1.35m0 1h1.35h-1.35m0 4h1.35h-1.35m0 8h1.35h-1.35m0 4h1.35h-1.35m0 4h1.35h-1.35m0 2h1.35h-1.35m0 1h1.35h-1.35m1-93h1.35h-1.35m0 6h1.35h-1.35m0 3h1.35h-1.35m0 2h1.35h-1.35m0 0h1.35h-1.35m0 12h1.35h-1.35m0 0h1.35h-1.35m0 3h1.35h-1.35m0 2h1.35h-1.35m0 4h1.35h-1.35m0 7h1.35h-1.35m0 1h1.35h-1.35m0 3h1.35h-1.35m0 11h1.35h-1.35m0 4h1.35h-1.35m0 1h1.35h-1.35m0 1h1.35h-1.35m0 1h1.35h-1.35m0 4h1.35h-1.35m0 4h1.35h-1.35m0 0h1.35h-1.35m0 14h1.35h-1.35m0 0h1.35h-1.35m0 22h1.35h-1.35m1-110h1.35h-1.35m0 19h1.35h-1.35m0 3h1.35h-1.35m0 3h1.35h-1.35m0 1h1.35h-1.35m0 4h1.35h-1.35m0 8h1.35h-1.35m0 0h1.35h-1.35m0 0h1.35h-1.35m0 1h1.35h-1.35m0 1h1.35h-1.35m0 2h1.35h-1.35m0 4h1.35h-1.35m0 0h1.35h-1.35m0 0h1.35h-1.35m0 5h1.35h-1.35m0 4h1.35h-1.35m0 6h1.35h-1.35m0 1h1.35h-1.35m0 4h1.35h-1.35m0 5h1.35h-1.35m0 2h1.35h-1.35m0 3h1.35h-1.35m0 4h1.35h-1.35m0 1h1.35h-1.35m0 16h1.35h-1.35m0 11h1.35h-1.35m1-79h1.35h-1.35m0 1h1.35h-1.35m0 9h1.35h-1.35m0 3h1.35h-1.35m0 3h1.35h-1.35m0 1h1.35h-1.35m0 9h1.35h-1.35m0 2h1.35h-1.35m0 3h1.35h-1.35m0 4h1.35h-1.35m0 3h1.35h-1.35m0 0h1.35h-1.35m0 1h1.35h-1.35m0 1h1.35h-1.35m0 8h1.35h-1.35m0 7h1.35h-1.35m1-37h1.35h-1.35m0 5h1.35h-1.35m0 2h1.35h-1.35m0 22h1.35h-1.35m0 7h1.35h-1.35m0 5h1.35h-1.35m1-87h1.35h-1.35m0 27h1.35h-1.35m0 9h1.35h-1.35m0 8h1.35h-1.35m0 8h1.35h-1.35m0 0h1.35h-1.35m0 13h1.35h-1.35m0 1h1.35h-1.35m0 4h1.35h-1.35m0 22h1.35h-1.35m1-74h1.35h-1.35m0 37h1.35h-1.35m0 43h1.35h-1.35m1-109h1.35h-1.35m0 54h1.35h-1.35m0 13h1.35h-1.35m1 3h1.35h-1.35m3-46h1.35h-1.35m0 43h1.35h-1.35m0 7h1.35h-1.35" stroke="#F9C834" stroke-width="1.35" fill="none" transform="translate(0 .5)"/><path d="M2690 256h1.35h-1.35m21-17h1.35h-1.35m1 54h1.35h-1.35m1-45h1.35h-1.35m1 10h1.35h-1.35m2-36h1.35h-1.35m1-8h1.35h-1.35m1 42h1.35h-1.35m1 12h1.35h-1.35m1-62h1.35h-1.35m1 17h1.35h-1.35m0 30h1.35h-1.35m0 38h1.35h-1.35m0 6h1.35h-1.35m1-73h1.35h-1.35m1 13h1.35h-1.35m1 34h1.35h-1.35m0 20h1.35h-1.35m2-58h1.35h-1.35m1-33h1.35h-1.35m1 5h1.35h-1.35m1 32h1.35h-1.35m0 25h1.35h-1.35m1-56h1.35h-1.35m0 25h1.35h-1.35m3-6h1.35h-1.35m1 10h1.35h-1.35m0 23h1.35h-1.35m3-52h1.35h-1.35m0 14h1.35h-1.35m0 34h1.35h-1.35m0 20h1.35h-1.35m2-51h1.35h-1.35m0 19h1.35h-1.35m0 23h1.35h-1.35m1-60h1.35h-1.35m0 16h1.35h-1.35m1 48h1.35h-1.35m1-69h1.35h-1.35m1 56h1.35h-1.35m1-48h1.35h-1.35m0 37h1.35h-1.35m0 23h1.35h-1.35m0 29h1.35h-1.35m1-99h1.35h-1.35m0 38h1.35h-1.35m0 19h1.35h-1.35m0 1h1.35h-1.35m2-7h1.35h-1.35m1-20h1.35h-1.35m0 29h1.35h-1.35m0 3h1.35h-1.35m0 7h1.35h-1.35m1-46h1.35h-1.35m0 29h1.35h-1.35m0 11h1.35h-1.35m1-46h1.35h-1.35m0 16h1.35h-1.35m1-27h1.35h-1.35m0 1h1.35h-1.35m0 9h1.35h-1.35m0 16h1.35h-1.35m0 22h1.35h-1.35m2-43h1.35h-1.35m2 3h1.35h-1.35m0 49h1.35h-1.35m1-49h1.35h-1.35m0 1h1.35h-1.35m0 86h1.35h-1.35m1-91h1.35h-1.35m0 41h1.35h-1.35m0 14h1.35h-1.35m0 28h1.35h-1.35m1-53h1.35h-1.35m0 10h1.35h-1.35m1-44h1.35h-1.35m0 12h1.35h-1.35m0 11h1.35h-1.35m1-30h1.35h-1.35m0 60h1.35h-1.35m0 26h1.35h-1.35m0 11h1.35h-1.35m1-41h1.35h-1.35m0 32h1.35h-1.35m1-80h1.35h-1.35m0 27h1.35h-1.35m0 12h1.35h-1.35m0 10h1.35h-1.35m0 5h1.35h-1.35m0 43h1.35h-1.35m1-55h1.35h-1.35m0 9h1.35h-1.35m2-22h1.35h-1.35m0 33h1.35h-1.35m0 8h1.35h-1.35m1-5h1.35h-1.35m0 25h1.35h-1.35m1-62h1.35h-1.35m0 5h1.35h-1.35m0 37h1.35h-1.35m2-24h1.35h-1.35m1 0h1.35h-1.35m0 31h1.35h-1.35m1-9h1.35h-1.35m2-28h1.35h-1.35m0 10h1.35h-1.35m2-47h1.35h-1.35m3 32h1.35h-1.35m1-7h1.35h-1.35m1-22h1.35h-1.35m1 10h1.35h-1.35m2 10h1.35h-1.35m1-30h1.35h-1.35m0 48h1.35h-1.35m2-11h1.35h-1.35m0 15h1.35h-1.35m4-32h1.35h-1.35m0 23h1.35h-1.35m3-27h1.35h-1.35m7 6h1.35h-1.35" stroke="#F8CB6A" stroke-width="1.35" fill="none" transform="translate(0 .5)"/><path d="M2756 309h1.35h-1.35m1 25h1.35h-1.35m1-19h1.35h-1.35m3-42h1.35h-1.35m0 28h1.35h-1.35m0 9h1.35h-1.35m0 6h1.35h-1.35m0 14h1.35h-1.35m1-91h1.35h-1.35m0 27h1.35h-1.35m0 25h1.35h-1.35m0 10h1.35h-1.35m0 0h1.35h-1.35m1-39h1.35h-1.35m0 25h1.35h-1.35m0 17h1.35h-1.35m0 35h1.35h-1.35m0 1h1.35h-1.35m1-65h1.35h-1.35m0 6h1.35h-1.35m0 60h1.35h-1.35m1-43h1.35h-1.35m0 18h1.35h-1.35m0 3h1.35h-1.35m0 8h1.35h-1.35m0 5h1.35h-1.35m0 3h1.35h-1.35m1-63h1.35h-1.35m0 0h1.35h-1.35m0 17h1.35h-1.35m0 32h1.35h-1.35m0 10h1.35h-1.35m0 2h1.35h-1.35m0 19h1.35h-1.35m0 6h1.35h-1.35m1-89h1.35h-1.35m0 11h1.35h-1.35m0 0h1.35h-1.35m0 1h1.35h-1.35m0 10h1.35h-1.35m0 6h1.35h-1.35m0 12h1.35h-1.35m0 5h1.35h-1.35m0 1h1.35h-1.35m0 13h1.35h-1.35m0 18h1.35h-1.35m0 5h1.35h-1.35m1-83h1.35h-1.35m0 12h1.35h-1.35m0 5h1.35h-1.35m0 3h1.35h-1.35m0 2h1.35h-1.35m0 3h1.35h-1.35m0 5h1.35h-1.35m0 1h1.35h-1.35m0 5h1.35h-1.35m0 1h1.35h-1.35m0 3h1.35h-1.35m0 7h1.35h-1.35m0 4h1.35h-1.35m0 2h1.35h-1.35m0 20h1.35h-1.35m0 4h1.35h-1.35m0 1h1.35h-1.35m0 1h1.35h-1.35m0 0h1.35h-1.35m0 1h1.35h-1.35m1-117h1.35h-1.35m0 16h1.35h-1.35m0 1h1.35h-1.35m0 12h1.35h-1.35m0 12h1.35h-1.35m0 11h1.35h-1.35m0 2h1.35h-1.35m0 0h1.35h-1.35m0 15h1.35h-1.35m0 14h1.35h-1.35m0 10h1.35h-1.35m0 3h1.35h-1.35m0 0h1.35h-1.35m0 19h1.35h-1.35m0 7h1.35h-1.35m0 3h1.35h-1.35m1-82h1.35h-1.35m0 4h1.35h-1.35m0 5h1.35h-1.35m0 5h1.35h-1.35m0 3h1.35h-1.35m0 2h1.35h-1.35m0 9h1.35h-1.35m0 0h1.35h-1.35m0 1h1.35h-1.35m0 6h1.35h-1.35m0 1h1.35h-1.35m0 1h1.35h-1.35m0 3h1.35h-1.35m0 5h1.35h-1.35m0 1h1.35h-1.35m0 1h1.35h-1.35m0 3h1.35h-1.35m0 0h1.35h-1.35m0 6h1.35h-1.35m0 1h1.35h-1.35m0 5h1.35h-1.35m1-92h1.35h-1.35m0 19h1.35h-1.35m0 1h1.35h-1.35m0 11h1.35h-1.35m0 1h1.35h-1.35m0 0h1.35h-1.35m0 8h1.35h-1.35m0 3h1.35h-1.35m0 4h1.35h-1.35m0 1h1.35h-1.35m0 5h1.35h-1.35m0 0h1.35h-1.35m0 0h1.35h-1.35m0 1h1.35h-1.35m0 4h1.35h-1.35m0 1h1.35h-1.35m0 1h1.35h-1.35m0 3h1.35h-1.35m0 3h1.35h-1.35m0 1h1.35h-1.35m0 3h1.35h-1.35m0 1h1.35h-1.35m0 4h1.35h-1.35m0 2h1.35h-1.35m0 6h1.35h-1.35m0 6h1.35h-1.35m0 1h1.35h-1.35m0 1h1.35h-1.35m0 1h1.35h-1.35m0 1h1.35h-1.35m0 1h1.35h-1.35m0 4h1.35h-1.35m1-99h1.35h-1.35m0 10h1.35h-1.35m0 8h1.35h-1.35m0 2h1.35h-1.35m0 2h1.35h-1.35m0 4h1.35h-1.35m0 5h1.35h-1.35m0 3h1.35h-1.35m0 5h1.35h-1.35m0 0h1.35h-1.35m0 0h1.35h-1.35m0 3h1.35h-1.35m0 6h1.35h-1.35m0 8h1.35h-1.35m0 0h1.35h-1.35m0 0h1.35h-1.35m0 2h1.35h-1.35m0 2h1.35h-1.35m0 1h1.35h-1.35m0 2h1.35h-1.35m0 1h1.35h-1.35m0 1h1.35h-1.35m0 3h1.35h-1.35m0 4h1.35h-1.35m0 0h1.35h-1.35m0 0h1.35h-1.35m0 1h1.35h-1.35m0 4h1.35h-1.35m0 6h1.35h-1.35m0 2h1.35h-1.35m0 3h1.35h-1.35m0 2h1.35h-1.35m0 3h1.35h-1.35m0 0h1.35h-1.35m0 6h1.35h-1.35m0 1h1.35h-1.35m0 2h1.35h-1.35m1-114h1.35h-1.35m0 11h1.35h-1.35m0 28h1.35h-1.35m0 0h1.35h-1.35m0 2h1.35h-1.35m0 5h1.35h-1.35m0 0h1.35h-1.35m0 0h1.35h-1.35m0 1h1.35h-1.35m0 2h1.35h-1.35m0 0h1.35h-1.35m0 3h1.35h-1.35m0 8h1.35h-1.35m0 1h1.35h-1.35m0 8h1.35h-1.35m0 6h1.35h-1.35m0 0h1.35h-1.35m0 1h1.35h-1.35m0 1h1.35h-1.35m0 0h1.35h-1.35m0 1h1.35h-1.35m0 5h1.35h-1.35m0 0h1.35h-1.35m0 1h1.35h-1.35m0 3h1.35h-1.35m0 2h1.35h-1.35m0 1h1.35h-1.35m0 1h1.35h-1.35m0 1h1.35h-1.35m0 2h1.35h-1.35m0 0h1.35h-1.35m0 2h1.35h-1.35m0 3h1.35h-1.35m0 7h1.35h-1.35m0 1h1.35h-1.35m0 3h1.35h-1.35m0 2h1.35h-1.35m0 9h1.35h-1.35m1-109h1.35h-1.35m0 4h1.35h-1.35m0 2h1.35h-1.35m0 4h1.35h-1.35m0 16h1.35h-1.35m0 1h1.35h-1.35m0 9h1.35h-1.35m0 3h1.35h-1.35m0 3h1.35h-1.35m0 2h1.35h-1.35m0 4h1.35h-1.35m0 0h1.35h-1.35m0 1h1.35h-1.35m0 1h1.35h-1.35m0 1h1.35h-1.35m0 2h1.35h-1.35m0 0h1.35h-1.35m0 1h1.35h-1.35m0 1h1.35h-1.35m0 1h1.35h-1.35m0 1h1.35h-1.35m0 3h1.35h-1.35m0 1h1.35h-1.35m0 0h1.35h-1.35m0 0h1.35h-1.35m0 2h1.35h-1.35m0 1h1.35h-1.35m0 0h1.35h-1.35m0 3h1.35h-1.35m0 1h1.35h-1.35m0 0h1.35h-1.35m0 1h1.35h-1.35m0 0h1.35h-1.35m0 0h1.35h-1.35m0 7h1.35h-1.35m0 2h1.35h-1.35m0 1h1.35h-1.35m0 1h1.35h-1.35m0 0h1.35h-1.35m0 0h1.35h-1.35m0 3h1.35h-1.35m0 5h1.35h-1.35m0 6h1.35h-1.35m0 1h1.35h-1.35m0 4h1.35h-1.35m0 16h1.35h-1.35m1-98h1.35h-1.35m0 3h1.35h-1.35m0 4h1.35h-1.35m0 4h1.35h-1.35m0 2h1.35h-1.35m0 3h1.35h-1.35m0 3h1.35h-1.35m0 1h1.35h-1.35m0 2h1.35h-1.35m0 5h1.35h-1.35m0 1h1.35h-1.35m0 0h1.35h-1.35m0 3h1.35h-1.35m0 0h1.35h-1.35m0 1h1.35h-1.35m0 2h1.35h-1.35m0 3h1.35h-1.35m0 2h1.35h-1.35m0 1h1.35h-1.35m0 3h1.35h-1.35m0 4h1.35h-1.35m0 0h1.35h-1.35m0 1h1.35h-1.35m0 2h1.35h-1.35m0 0h1.35h-1.35m0 0h1.35h-1.35m0 11h1.35h-1.35m0 1h1.35h-1.35m0 6h1.35h-1.35m0 1h1.35h-1.35m0 0h1.35h-1.35m0 2h1.35h-1.35m0 1h1.35h-1.35m0 28h1.35h-1.35m1-116h1.35h-1.35m0 13h1.35h-1.35m0 6h1.35h-1.35m0 1h1.35h-1.35m0 0h1.35h-1.35m0 1h1.35h-1.35m0 10h1.35h-1.35m0 7h1.35h-1.35m0 5h1.35h-1.35m0 2h1.35h-1.35m0 1h1.35h-1.35m0 0h1.35h-1.35m0 1h1.35h-1.35m0 1h1.35h-1.35m0 0h1.35h-1.35m0 1h1.35h-1.35m0 3h1.35h-1.35m0 1h1.35h-1.35m0 3h1.35h-1.35m0 7h1.35h-1.35m0 1h1.35h-1.35m0 4h1.35h-1.35m0 1h1.35h-1.35m0 1h1.35h-1.35m0 1h1.35h-1.35m0 0h1.35h-1.35m0 0h1.35h-1.35m0 1h1.35h-1.35m0 2h1.35h-1.35m0 1h1.35h-1.35m0 4h1.35h-1.35m0 3h1.35h-1.35m0 3h1.35h-1.35m0 0h1.35h-1.35m0 1h1.35h-1.35m0 17h1.35h-1.35m0 5h1.35h-1.35m0 4h1.35h-1.35m1-95h1.35h-1.35m0 4h1.35h-1.35m0 0h1.35h-1.35m0 4h1.35h-1.35m0 5h1.35h-1.35m0 0h1.35h-1.35m0 7h1.35h-1.35m0 0h1.35h-1.35m0 1h1.35h-1.35m0 3h1.35h-1.35m0 1h1.35h-1.35m0 1h1.35h-1.35m0 1h1.35h-1.35m0 2h1.35h-1.35m0 3h1.35h-1.35m0 3h1.35h-1.35m0 2h1.35h-1.35m0 1h1.35h-1.35m0 5h1.35h-1.35m0 0h1.35h-1.35m0 2h1.35h-1.35m0 0h1.35h-1.35m0 1h1.35h-1.35m0 0h1.35h-1.35m0 1h1.35h-1.35m0 2h1.35h-1.35m0 0h1.35h-1.35m0 0h1.35h-1.35m0 1h1.35h-1.35m0 1h1.35h-1.35m0 2h1.35h-1.35m0 3h1.35h-1.35m0 2h1.35h-1.35m0 6h1.35h-1.35m0 4h1.35h-1.35m0 0h1.35h-1.35m0 5h1.35h-1.35m0 0h1.35h-1.35m0 5h1.35h-1.35m0 5h1.35h-1.35m0 2h1.35h-1.35m0 1h1.35h-1.35m0 1h1.35h-1.35m0 1h1.35h-1.35m1-93h1.35h-1.35m0 7h1.35h-1.35m0 10h1.35h-1.35m0 12h1.35h-1.35m0 1h1.35h-1.35m0 1h1.35h-1.35m0 0h1.35h-1.35m0 0h1.35h-1.35m0 1h1.35h-1.35m0 0h1.35h-1.35m0 3h1.35h-1.35m0 0h1.35h-1.35m0 1h1.35h-1.35m0 0h1.35h-1.35m0 0h1.35h-1.35m0 1h1.35h-1.35m0 1h1.35h-1.35m0 1h1.35h-1.35m0 2h1.35h-1.35m0 2h1.35h-1.35m0 0h1.35h-1.35m0 3h1.35h-1.35m0 2h1.35h-1.35m0 0h1.35h-1.35m0 3h1.35h-1.35m0 1h1.35h-1.35m0 2h1.35h-1.35m0 1h1.35h-1.35m0 1h1.35h-1.35m0 0h1.35h-1.35m0 2h1.35h-1.35m0 0h1.35h-1.35m0 2h1.35h-1.35m0 1h1.35h-1.35m0 2h1.35h-1.35m0 0h1.35h-1.35m0 1h1.35h-1.35m0 0h1.35h-1.35m0 2h1.35h-1.35m0 1h1.35h-1.35m0 1h1.35h-1.35m0 0h1.35h-1.35m0 1h1.35h-1.35m0 1h1.35h-1.35m0 3h1.35h-1.35m0 2h1.35h-1.35m0 0h1.35h-1.35m0 1h1.35h-1.35m0 1h1.35h-1.35m0 5h1.35h-1.35m0 12h1.35h-1.35m0 1h1.35h-1.35m0 11h1.35h-1.35m1-107h1.35h-1.35m0 3h1.35h-1.35m0 8h1.35h-1.35m0 12h1.35h-1.35m0 3h1.35h-1.35m0 5h1.35h-1.35m0 1h1.35h-1.35m0 1h1.35h-1.35m0 2h1.35h-1.35m0 3h1.35h-1.35m0 0h1.35h-1.35m0 0h1.35h-1.35m0 1h1.35h-1.35m0 0h1.35h-1.35m0 6h1.35h-1.35m0 1h1.35h-1.35m0 4h1.35h-1.35m0 1h1.35h-1.35m0 0h1.35h-1.35m0 1h1.35h-1.35m0 1h1.35h-1.35m0 0h1.35h-1.35m0 1h1.35h-1.35m0 0h1.35h-1.35m0 5h1.35h-1.35m0 0h1.35h-1.35m0 1h1.35h-1.35m0 0h1.35h-1.35m0 1h1.35h-1.35m0 7h1.35h-1.35m0 0h1.35h-1.35m0 1h1.35h-1.35m0 0h1.35h-1.35m0 1h1.35h-1.35m0 2h1.35h-1.35m0 2h1.35h-1.35m0 1h1.35h-1.35m0 0h1.35h-1.35m0 1h1.35h-1.35m0 1h1.35h-1.35m0 1h1.35h-1.35m0 1h1.35h-1.35m0 4h1.35h-1.35m0 2h1.35h-1.35m0 1h1.35h-1.35m0 8h1.35h-1.35m0 5h1.35h-1.35m0 7h1.35h-1.35m0 2h1.35h-1.35m1-110h1.35h-1.35m0 5h1.35h-1.35m0 1h1.35h-1.35m0 16h1.35h-1.35m0 0h1.35h-1.35m0 1h1.35h-1.35m0 6h1.35h-1.35m0 2h1.35h-1.35m0 2h1.35h-1.35m0 1h1.35h-1.35m0 1h1.35h-1.35m0 0h1.35h-1.35m0 0h1.35h-1.35m0 1h1.35h-1.35m0 1h1.35h-1.35m0 2h1.35h-1.35m0 2h1.35h-1.35m0 2h1.35h-1.35m0 0h1.35h-1.35m0 3h1.35h-1.35m0 0h1.35h-1.35m0 0h1.35h-1.35m0 2h1.35h-1.35m0 4h1.35h-1.35m0 1h1.35h-1.35m0 1h1.35h-1.35m0 0h1.35h-1.35m0 2h1.35h-1.35m0 0h1.35h-1.35m0 0h1.35h-1.35m0 1h1.35h-1.35m0 1h1.35h-1.35m0 0h1.35h-1.35m0 3h1.35h-1.35m0 0h1.35h-1.35m0 2h1.35h-1.35m0 1h1.35h-1.35m0 0h1.35h-1.35m0 0h1.35h-1.35m0 1h1.35h-1.35m0 0h1.35h-1.35m0 3h1.35h-1.35m0 4h1.35h-1.35m0 1h1.35h-1.35m0 6h1.35h-1.35m0 5h1.35h-1.35m0 5h1.35h-1.35m0 4h1.35h-1.35m0 13h1.35h-1.35m1-103h1.35h-1.35m0 4h1.35h-1.35m0 0h1.35h-1.35m0 6h1.35h-1.35m0 3h1.35h-1.35m0 15h1.35h-1.35m0 8h1.35h-1.35m0 4h1.35h-1.35m0 1h1.35h-1.35m0 3h1.35h-1.35m0 1h1.35h-1.35m0 2h1.35h-1.35m0 5h1.35h-1.35m0 1h1.35h-1.35m0 0h1.35h-1.35m0 2h1.35h-1.35m0 0h1.35h-1.35m0 1h1.35h-1.35m0 3h1.35h-1.35m0 2h1.35h-1.35m0 0h1.35h-1.35m0 0h1.35h-1.35m0 0h1.35h-1.35m0 1h1.35h-1.35m0 1h1.35h-1.35m0 0h1.35h-1.35m0 1h1.35h-1.35m0 0h1.35h-1.35m0 9h1.35h-1.35m0 2h1.35h-1.35m0 1h1.35h-1.35m0 2h1.35h-1.35m0 0h1.35h-1.35m0 3h1.35h-1.35m0 3h1.35h-1.35m1-79h1.35h-1.35m0 1h1.35h-1.35m0 1h1.35h-1.35m0 3h1.35h-1.35m0 3h1.35h-1.35m0 5h1.35h-1.35m0 12h1.35h-1.35m0 1h1.35h-1.35m0 1h1.35h-1.35m0 6h1.35h-1.35m0 1h1.35h-1.35m0 1h1.35h-1.35m0 0h1.35h-1.35m0 5h1.35h-1.35m0 1h1.35h-1.35m0 0h1.35h-1.35m0 1h1.35h-1.35m0 1h1.35h-1.35m0 4h1.35h-1.35m0 2h1.35h-1.35m0 3h1.35h-1.35m0 0h1.35h-1.35m0 1h1.35h-1.35m0 3h1.35h-1.35m0 1h1.35h-1.35m0 1h1.35h-1.35m0 5h1.35h-1.35m0 3h1.35h-1.35m0 3h1.35h-1.35m0 1h1.35h-1.35m0 0h1.35h-1.35m0 5h1.35h-1.35m0 6h1.35h-1.35m0 2h1.35h-1.35m0 1h1.35h-1.35m0 7h1.35h-1.35m0 3h1.35h-1.35m1-101h1.35h-1.35m0 7h1.35h-1.35m0 12h1.35h-1.35m0 11h1.35h-1.35m0 1h1.35h-1.35m0 4h1.35h-1.35m0 7h1.35h-1.35m0 4h1.35h-1.35m0 1h1.35h-1.35m0 4h1.35h-1.35m0 1h1.35h-1.35m0 0h1.35h-1.35m0 1h1.35h-1.35m0 0h1.35h-1.35m0 0h1.35h-1.35m0 1h1.35h-1.35m0 4h1.35h-1.35m0 0h1.35h-1.35m0 3h1.35h-1.35m0 1h1.35h-1.35m0 9h1.35h-1.35m0 2h1.35h-1.35m0 7h1.35h-1.35m0 5h1.35h-1.35m0 3h1.35h-1.35m0 1h1.35h-1.35m0 4h1.35h-1.35m1-101h1.35h-1.35m0 19h1.35h-1.35m0 2h1.35h-1.35m0 8h1.35h-1.35m0 5h1.35h-1.35m0 0h1.35h-1.35m0 8h1.35h-1.35m0 3h1.35h-1.35m0 2h1.35h-1.35m0 3h1.35h-1.35m0 2h1.35h-1.35m0 3h1.35h-1.35m0 3h1.35h-1.35m0 2h1.35h-1.35m0 3h1.35h-1.35m0 4h1.35h-1.35m0 2h1.35h-1.35m0 1h1.35h-1.35m0 2h1.35h-1.35m0 2h1.35h-1.35m0 4h1.35h-1.35m0 1h1.35h-1.35m0 5h1.35h-1.35m0 7h1.35h-1.35m0 0h1.35h-1.35m0 11h1.35h-1.35m0 16h1.35h-1.35m1-131h1.35h-1.35m0 35h1.35h-1.35m0 1h1.35h-1.35m0 3h1.35h-1.35m0 5h1.35h-1.35m0 1h1.35h-1.35m0 4h1.35h-1.35m0 3h1.35h-1.35m0 3h1.35h-1.35m0 4h1.35h-1.35m0 1h1.35h-1.35m0 3h1.35h-1.35m0 0h1.35h-1.35m0 4h1.35h-1.35m0 0h1.35h-1.35m0 2h1.35h-1.35m0 0h1.35h-1.35m0 6h1.35h-1.35m0 0h1.35h-1.35m0 5h1.35h-1.35m0 7h1.35h-1.35m0 1h1.35h-1.35m0 1h1.35h-1.35m0 0h1.35h-1.35m0 3h1.35h-1.35m0 14h1.35h-1.35m0 6h1.35h-1.35m0 14h1.35h-1.35m1-95h1.35h-1.35m0 0h1.35h-1.35m0 1h1.35h-1.35m0 2h1.35h-1.35m0 2h1.35h-1.35m0 6h1.35h-1.35m0 11h1.35h-1.35m0 3h1.35h-1.35m0 0h1.35h-1.35m0 2h1.35h-1.35m0 2h1.35h-1.35m0 1h1.35h-1.35m0 4h1.35h-1.35m0 4h1.35h-1.35m0 3h1.35h-1.35m0 2h1.35h-1.35m0 2h1.35h-1.35m0 2h1.35h-1.35m0 5h1.35h-1.35m0 0h1.35h-1.35m0 2h1.35h-1.35m0 3h1.35h-1.35m0 3h1.35h-1.35m0 15h1.35h-1.35m0 2h1.35h-1.35m0 5h1.35h-1.35m0 0h1.35h-1.35m0 1h1.35h-1.35m1-84h1.35h-1.35m0 15h1.35h-1.35m0 3h1.35h-1.35m0 3h1.35h-1.35m0 6h1.35h-1.35m0 0h1.35h-1.35m0 3h1.35h-1.35m0 2h1.35h-1.35m0 5h1.35h-1.35m0 3h1.35h-1.35m0 2h1.35h-1.35m0 3h1.35h-1.35m0 4h1.35h-1.35m0 5h1.35h-1.35m0 7h1.35h-1.35m0 3h1.35h-1.35m0 4h1.35h-1.35m1-88h1.35h-1.35m0 35h1.35h-1.35m0 2h1.35h-1.35m0 1h1.35h-1.35m0 12h1.35h-1.35m0 2h1.35h-1.35m0 2h1.35h-1.35m0 1h1.35h-1.35m0 0h1.35h-1.35m0 3h1.35h-1.35m0 3h1.35h-1.35m0 1h1.35h-1.35m0 5h1.35h-1.35m0 13h1.35h-1.35m0 9h1.35h-1.35m0 2h1.35h-1.35m0 0h1.35h-1.35m0 14h1.35h-1.35m1-68h1.35h-1.35m0 7h1.35h-1.35m0 0h1.35h-1.35m0 2h1.35h-1.35m0 2h1.35h-1.35m0 7h1.35h-1.35m0 5h1.35h-1.35m0 0h1.35h-1.35m0 9h1.35h-1.35m0 1h1.35h-1.35m0 3h1.35h-1.35m0 6h1.35h-1.35m0 20h1.35h-1.35m0 2h1.35h-1.35m0 10h1.35h-1.35m1-118h1.35h-1.35m0 22h1.35h-1.35m0 10h1.35h-1.35m0 1h1.35h-1.35m0 2h1.35h-1.35m0 15h1.35h-1.35m0 8h1.35h-1.35m0 3h1.35h-1.35m0 1h1.35h-1.35m0 10h1.35h-1.35m0 14h1.35h-1.35m0 8h1.35h-1.35m0 13h1.35h-1.35m0 9h1.35h-1.35m1-68h1.35h-1.35m0 4h1.35h-1.35m0 18h1.35h-1.35m0 1h1.35h-1.35m0 23h1.35h-1.35m0 5h1.35h-1.35m0 2h1.35h-1.35m0 3h1.35h-1.35m0 9h1.35h-1.35m1-80h1.35h-1.35m0 4h1.35h-1.35m0 22h1.35h-1.35m0 11h1.35h-1.35m0 4h1.35h-1.35m0 10h1.35h-1.35m1-41h1.35h-1.35m0 10h1.35h-1.35m0 3h1.35h-1.35m0 7h1.35h-1.35m0 13h1.35h-1.35m0 11h1.35h-1.35m0 18h1.35h-1.35m0 13h1.35h-1.35m1-101h1.35h-1.35m0 49h1.35h-1.35m1 8h1.35h-1.35m2-23h1.35h-1.35m2-5h1.35h-1.35m1 10h1.35h-1.35m1-18h1.35h-1.35" stroke="#8FD14F" stroke-width="1.35" fill="none" transform="translate(0 .5)"/><path d="M2755 287h1.35h-1.35m1-38h1.35h-1.35m1-1h1.35h-1.35m0 17h1.35h-1.35m0 5h1.35h-1.35m0 1h1.35h-1.35m3-41h1.35h-1.35m0 5h1.35h-1.35m1 19h1.35h-1.35m0 13h1.35h-1.35m1-52h1.35h-1.35m0 16h1.35h-1.35m0 6h1.35h-1.35m0 0h1.35h-1.35m1 11h1.35h-1.35m0 40h1.35h-1.35m1-3h1.35h-1.35m0 9h1.35h-1.35m1-52h1.35h-1.35m0 18h1.35h-1.35m1-15h1.35h-1.35m0 3h1.35h-1.35m0 30h1.35h-1.35m0 12h1.35h-1.35m0 11h1.35h-1.35m1-101h1.35h-1.35m0 12h1.35h-1.35m0 12h1.35h-1.35m0 28h1.35h-1.35m0 23h1.35h-1.35m1-30h1.35h-1.35m0 8h1.35h-1.35m0 22h1.35h-1.35m1-74h1.35h-1.35m0 23h1.35h-1.35m0 17h1.35h-1.35m0 6h1.35h-1.35m0 2h1.35h-1.35m1-33h1.35h-1.35m0 0h1.35h-1.35m0 3h1.35h-1.35m0 19h1.35h-1.35m0 7h1.35h-1.35m0 15h1.35h-1.35m0 16h1.35h-1.35m1-37h1.35h-1.35m0 0h1.35h-1.35m0 22h1.35h-1.35m0 5h1.35h-1.35m0 50h1.35h-1.35m1-98h1.35h-1.35m0 4h1.35h-1.35m0 6h1.35h-1.35m0 9h1.35h-1.35m0 1h1.35h-1.35m0 44h1.35h-1.35m0 17h1.35h-1.35m1-65h1.35h-1.35m0 11h1.35h-1.35m0 18h1.35h-1.35m1-36h1.35h-1.35m0 2h1.35h-1.35m0 0h1.35h-1.35m0 6h1.35h-1.35m0 27h1.35h-1.35m1-8h1.35h-1.35m0 9h1.35h-1.35m0 0h1.35h-1.35m0 44h1.35h-1.35m1-96h1.35h-1.35m0 14h1.35h-1.35m0 33h1.35h-1.35m0 13h1.35h-1.35m1-53h1.35h-1.35m0 7h1.35h-1.35m0 2h1.35h-1.35m0 16h1.35h-1.35m0 39h1.35h-1.35m0 21h1.35h-1.35m2-73h1.35h-1.35m0 5h1.35h-1.35m0 0h1.35h-1.35m0 2h1.35h-1.35m0 18h1.35h-1.35m0 16h1.35h-1.35m0 11h1.35h-1.35m0 27h1.35h-1.35m1-23h1.35h-1.35m0 9h1.35h-1.35m1-77h1.35h-1.35m0 26h1.35h-1.35m0 25h1.35h-1.35m1-35h1.35h-1.35m0 15h1.35h-1.35m0 5h1.35h-1.35m0 9h1.35h-1.35m0 25h1.35h-1.35m1-20h1.35h-1.35m0 53h1.35h-1.35m1-79h1.35h-1.35m0 0h1.35h-1.35m0 0h1.35h-1.35m0 12h1.35h-1.35m1-21h1.35h-1.35m1-23h1.35h-1.35m0 38h1.35h-1.35m0 31h1.35h-1.35m2-12h1.35h-1.35m2-28h1.35h-1.35m0 45h1.35h-1.35m1-58h1.35h-1.35m0 36h1.35h-1.35m1-46h1.35h-1.35m0 42h1.35h-1.35m1-19h1.35h-1.35m0 12h1.35h-1.35m1 36h1.35h-1.35m2-31h1.35h-1.35m2 1h1.35h-1.35m1-39h1.35h-1.35" stroke="#9AD45F" stroke-width="1.35" fill="none" transform="translate(0 .5)"/><path d="M2771 335h1.35h-1.35m1 4h1.35h-1.35m1-18h1.35h-1.35m1-2h1.35h-1.35m0 8h1.35h-1.35m2 7h1.35h-1.35m0 1h1.35h-1.35m0 4h1.35h-1.35m0 0h1.35h-1.35m1-5h1.35h-1.35m0 2h1.35h-1.35m0 5h1.35h-1.35m1-25h1.35h-1.35m0 1h1.35h-1.35m0 18h1.35h-1.35m1-15h1.35h-1.35m0 1h1.35h-1.35m0 6h1.35h-1.35m0 2h1.35h-1.35m0 1h1.35h-1.35m1-15h1.35h-1.35m0 3h1.35h-1.35m0 1h1.35h-1.35m0 4h1.35h-1.35m0 2h1.35h-1.35m0 1h1.35h-1.35m0 1h1.35h-1.35m0 5h1.35h-1.35m0 1h1.35h-1.35m0 2h1.35h-1.35m0 1h1.35h-1.35m0 5h1.35h-1.35m1-25h1.35h-1.35m0 2h1.35h-1.35m0 3h1.35h-1.35m0 0h1.35h-1.35m0 2h1.35h-1.35m0 3h1.35h-1.35m0 4h1.35h-1.35m0 2h1.35h-1.35m0 0h1.35h-1.35m0 1h1.35h-1.35m0 15h1.35h-1.35m1-36h1.35h-1.35m0 4h1.35h-1.35m0 7h1.35h-1.35m0 1h1.35h-1.35m0 2h1.35h-1.35m0 4h1.35h-1.35m0 5h1.35h-1.35m0 4h1.35h-1.35m0 2h1.35h-1.35m0 7h1.35h-1.35m1-25h1.35h-1.35m0 1h1.35h-1.35m0 1h1.35h-1.35m0 11h1.35h-1.35m0 2h1.35h-1.35m0 1h1.35h-1.35m0 3h1.35h-1.35m1-30h1.35h-1.35m0 10h1.35h-1.35m0 1h1.35h-1.35m0 2h1.35h-1.35m0 4h1.35h-1.35m0 0h1.35h-1.35m0 0h1.35h-1.35m0 1h1.35h-1.35m0 1h1.35h-1.35m0 2h1.35h-1.35m0 12h1.35h-1.35m0 2h1.35h-1.35m1-36h1.35h-1.35m0 1h1.35h-1.35m0 9h1.35h-1.35m0 4h1.35h-1.35m0 0h1.35h-1.35m0 2h1.35h-1.35m0 3h1.35h-1.35m0 3h1.35h-1.35m0 12h1.35h-1.35m0 1h1.35h-1.35m1-37h1.35h-1.35m0 3h1.35h-1.35m0 3h1.35h-1.35m0 1h1.35h-1.35m0 3h1.35h-1.35m0 1h1.35h-1.35m0 1h1.35h-1.35m0 1h1.35h-1.35m0 1h1.35h-1.35m0 0h1.35h-1.35m0 2h1.35h-1.35m0 0h1.35h-1.35m0 2h1.35h-1.35m0 0h1.35h-1.35m0 0h1.35h-1.35m0 1h1.35h-1.35m0 0h1.35h-1.35m0 0h1.35h-1.35m0 2h1.35h-1.35m0 4h1.35h-1.35m0 0h1.35h-1.35m0 4h1.35h-1.35m0 2h1.35h-1.35m0 0h1.35h-1.35m0 1h1.35h-1.35m1-40h1.35h-1.35m0 6h1.35h-1.35m0 7h1.35h-1.35m0 0h1.35h-1.35m0 0h1.35h-1.35m0 2h1.35h-1.35m0 4h1.35h-1.35m0 1h1.35h-1.35m0 2h1.35h-1.35m0 0h1.35h-1.35m0 0h1.35h-1.35m0 2h1.35h-1.35m0 1h1.35h-1.35m0 1h1.35h-1.35m0 3h1.35h-1.35m0 0h1.35h-1.35m0 0h1.35h-1.35m0 1h1.35h-1.35m0 1h1.35h-1.35m0 1h1.35h-1.35m0 0h1.35h-1.35m0 0h1.35h-1.35m0 10h1.35h-1.35m1-35h1.35h-1.35m0 5h1.35h-1.35m0 1h1.35h-1.35m0 1h1.35h-1.35m0 2h1.35h-1.35m0 0h1.35h-1.35m0 1h1.35h-1.35m0 3h1.35h-1.35m0 1h1.35h-1.35m0 0h1.35h-1.35m0 0h1.35h-1.35m0 1h1.35h-1.35m0 2h1.35h-1.35m0 0h1.35h-1.35m0 3h1.35h-1.35m0 1h1.35h-1.35m0 4h1.35h-1.35m0 0h1.35h-1.35m0 4h1.35h-1.35m0 2h1.35h-1.35m0 0h1.35h-1.35m1-36h1.35h-1.35m0 1h1.35h-1.35m0 2h1.35h-1.35m0 4h1.35h-1.35m0 3h1.35h-1.35m0 2h1.35h-1.35m0 6h1.35h-1.35m0 2h1.35h-1.35m0 0h1.35h-1.35m0 0h1.35h-1.35m0 3h1.35h-1.35m0 0h1.35h-1.35m0 0h1.35h-1.35m0 0h1.35h-1.35m0 2h1.35h-1.35m0 1h1.35h-1.35m0 0h1.35h-1.35m0 0h1.35h-1.35m0 2h1.35h-1.35m0 2h1.35h-1.35m0 1h1.35h-1.35m0 0h1.35h-1.35m0 3h1.35h-1.35m0 1h1.35h-1.35m0 2h1.35h-1.35m1-31h1.35h-1.35m0 2h1.35h-1.35m0 4h1.35h-1.35m0 1h1.35h-1.35m0 2h1.35h-1.35m0 0h1.35h-1.35m0 0h1.35h-1.35m0 1h1.35h-1.35m0 1h1.35h-1.35m0 2h1.35h-1.35m0 2h1.35h-1.35m0 0h1.35h-1.35m0 1h1.35h-1.35m0 0h1.35h-1.35m0 1h1.35h-1.35m0 1h1.35h-1.35m0 4h1.35h-1.35m0 0h1.35h-1.35m0 1h1.35h-1.35m0 6h1.35h-1.35m0 0h1.35h-1.35m0 2h1.35h-1.35m0 1h1.35h-1.35m0 0h1.35h-1.35m0 0h1.35h-1.35m0 4h1.35h-1.35m1-36h1.35h-1.35m0 0h1.35h-1.35m0 2h1.35h-1.35m0 1h1.35h-1.35m0 1h1.35h-1.35m0 1h1.35h-1.35m0 2h1.35h-1.35m0 1h1.35h-1.35m0 2h1.35h-1.35m0 0h1.35h-1.35m0 0h1.35h-1.35m0 1h1.35h-1.35m0 1h1.35h-1.35m0 1h1.35h-1.35m0 0h1.35h-1.35m0 1h1.35h-1.35m0 1h1.35h-1.35m0 1h1.35h-1.35m0 4h1.35h-1.35m0 0h1.35h-1.35m0 0h1.35h-1.35m0 2h1.35h-1.35m0 2h1.35h-1.35m0 2h1.35h-1.35m0 0h1.35h-1.35m0 2h1.35h-1.35m0 0h1.35h-1.35m0 1h1.35h-1.35m0 1h1.35h-1.35m0 0h1.35h-1.35m0 0h1.35h-1.35m0 2h1.35h-1.35m0 10h1.35h-1.35m1-51h1.35h-1.35m0 10h1.35h-1.35m0 6h1.35h-1.35m0 4h1.35h-1.35m0 2h1.35h-1.35m0 1h1.35h-1.35m0 0h1.35h-1.35m0 0h1.35h-1.35m0 0h1.35h-1.35m0 4h1.35h-1.35m0 3h1.35h-1.35m0 0h1.35h-1.35m0 1h1.35h-1.35m0 0h1.35h-1.35m0 1h1.35h-1.35m0 1h1.35h-1.35m0 0h1.35h-1.35m0 2h1.35h-1.35m0 0h1.35h-1.35m0 8h1.35h-1.35m0 4h1.35h-1.35m0 1h1.35h-1.35m1-39h1.35h-1.35m0 1h1.35h-1.35m0 3h1.35h-1.35m0 2h1.35h-1.35m0 0h1.35h-1.35m0 1h1.35h-1.35m0 1h1.35h-1.35m0 5h1.35h-1.35m0 1h1.35h-1.35m0 3h1.35h-1.35m0 1h1.35h-1.35m0 0h1.35h-1.35m0 3h1.35h-1.35m0 0h1.35h-1.35m0 1h1.35h-1.35m0 0h1.35h-1.35m0 2h1.35h-1.35m0 1h1.35h-1.35m0 1h1.35h-1.35m0 2h1.35h-1.35m0 3h1.35h-1.35m0 2h1.35h-1.35m0 5h1.35h-1.35m1-44h1.35h-1.35m0 7h1.35h-1.35m0 1h1.35h-1.35m0 7h1.35h-1.35m0 0h1.35h-1.35m0 1h1.35h-1.35m0 2h1.35h-1.35m0 2h1.35h-1.35m0 2h1.35h-1.35m0 0h1.35h-1.35m0 1h1.35h-1.35m0 1h1.35h-1.35m0 0h1.35h-1.35m0 1h1.35h-1.35m0 1h1.35h-1.35m0 0h1.35h-1.35m0 2h1.35h-1.35m0 1h1.35h-1.35m0 1h1.35h-1.35m0 1h1.35h-1.35m0 2h1.35h-1.35m0 2h1.35h-1.35m0 3h1.35h-1.35m0 3h1.35h-1.35m1-33h1.35h-1.35m0 6h1.35h-1.35m0 2h1.35h-1.35m0 2h1.35h-1.35m0 1h1.35h-1.35m0 1h1.35h-1.35m0 3h1.35h-1.35m0 0h1.35h-1.35m0 2h1.35h-1.35m0 0h1.35h-1.35m0 0h1.35h-1.35m0 0h1.35h-1.35m0 1h1.35h-1.35m0 2h1.35h-1.35m0 1h1.35h-1.35m0 1h1.35h-1.35m0 1h1.35h-1.35m0 0h1.35h-1.35m0 0h1.35h-1.35m0 4h1.35h-1.35m0 1h1.35h-1.35m0 0h1.35h-1.35m0 0h1.35h-1.35m0 0h1.35h-1.35m0 10h1.35h-1.35m0 5h1.35h-1.35m1-43h1.35h-1.35m0 1h1.35h-1.35m0 0h1.35h-1.35m0 2h1.35h-1.35m0 1h1.35h-1.35m0 0h1.35h-1.35m0 1h1.35h-1.35m0 1h1.35h-1.35m0 0h1.35h-1.35m0 2h1.35h-1.35m0 1h1.35h-1.35m0 1h1.35h-1.35m0 1h1.35h-1.35m0 0h1.35h-1.35m0 1h1.35h-1.35m0 1h1.35h-1.35m0 2h1.35h-1.35m0 0h1.35h-1.35m0 4h1.35h-1.35m0 1h1.35h-1.35m0 0h1.35h-1.35m0 0h1.35h-1.35m0 4h1.35h-1.35m0 0h1.35h-1.35m0 1h1.35h-1.35m0 2h1.35h-1.35m0 1h1.35h-1.35m0 5h1.35h-1.35m1-35h1.35h-1.35m0 1h1.35h-1.35m0 0h1.35h-1.35m0 3h1.35h-1.35m0 2h1.35h-1.35m0 0h1.35h-1.35m0 3h1.35h-1.35m0 0h1.35h-1.35m0 1h1.35h-1.35m0 0h1.35h-1.35m0 2h1.35h-1.35m0 0h1.35h-1.35m0 1h1.35h-1.35m0 0h1.35h-1.35m0 1h1.35h-1.35m0 1h1.35h-1.35m0 0h1.35h-1.35m0 1h1.35h-1.35m0 1h1.35h-1.35m0 0h1.35h-1.35m0 4h1.35h-1.35m0 2h1.35h-1.35m0 0h1.35h-1.35m0 9h1.35h-1.35m0 1h1.35h-1.35m0 2h1.35h-1.35m0 1h1.35h-1.35m1-42h1.35h-1.35m0 2h1.35h-1.35m0 5h1.35h-1.35m0 1h1.35h-1.35m0 2h1.35h-1.35m0 1h1.35h-1.35m0 4h1.35h-1.35m0 3h1.35h-1.35m0 1h1.35h-1.35m0 1h1.35h-1.35m0 1h1.35h-1.35m0 1h1.35h-1.35m0 2h1.35h-1.35m0 1h1.35h-1.35m0 0h1.35h-1.35m0 2h1.35h-1.35m0 1h1.35h-1.35m0 1h1.35h-1.35m0 1h1.35h-1.35m0 0h1.35h-1.35m0 0h1.35h-1.35m0 5h1.35h-1.35m0 4h1.35h-1.35m0 3h1.35h-1.35m1-36h1.35h-1.35m0 4h1.35h-1.35m0 0h1.35h-1.35m0 1h1.35h-1.35m0 1h1.35h-1.35m0 1h1.35h-1.35m0 1h1.35h-1.35m0 0h1.35h-1.35m0 1h1.35h-1.35m0 2h1.35h-1.35m0 0h1.35h-1.35m0 1h1.35h-1.35m0 1h1.35h-1.35m0 2h1.35h-1.35m0 1h1.35h-1.35m0 0h1.35h-1.35m0 0h1.35h-1.35m0 0h1.35h-1.35m0 1h1.35h-1.35m0 1h1.35h-1.35m0 2h1.35h-1.35m0 1h1.35h-1.35m0 0h1.35h-1.35m0 1h1.35h-1.35m0 0h1.35h-1.35m0 1h1.35h-1.35m0 2h1.35h-1.35m0 1h1.35h-1.35m0 4h1.35h-1.35m0 1h1.35h-1.35m0 3h1.35h-1.35m0 1h1.35h-1.35m0 5h1.35h-1.35m1-43h1.35h-1.35m0 2h1.35h-1.35m0 4h1.35h-1.35m0 0h1.35h-1.35m0 2h1.35h-1.35m0 2h1.35h-1.35m0 5h1.35h-1.35m0 0h1.35h-1.35m0 0h1.35h-1.35m0 1h1.35h-1.35m0 3h1.35h-1.35m0 0h1.35h-1.35m0 2h1.35h-1.35m0 0h1.35h-1.35m0 0h1.35h-1.35m0 1h1.35h-1.35m0 0h1.35h-1.35m0 1h1.35h-1.35m0 1h1.35h-1.35m0 0h1.35h-1.35m0 1h1.35h-1.35m0 1h1.35h-1.35m0 0h1.35h-1.35m0 3h1.35h-1.35m0 2h1.35h-1.35m0 4h1.35h-1.35m0 0h1.35h-1.35m0 2h1.35h-1.35m1-28h1.35h-1.35m0 2h1.35h-1.35m0 2h1.35h-1.35m0 1h1.35h-1.35m0 1h1.35h-1.35m0 0h1.35h-1.35m0 0h1.35h-1.35m0 1h1.35h-1.35m0 2h1.35h-1.35m0 0h1.35h-1.35m0 0h1.35h-1.35m0 1h1.35h-1.35m0 1h1.35h-1.35m0 0h1.35h-1.35m0 2h1.35h-1.35m0 1h1.35h-1.35m0 1h1.35h-1.35m0 1h1.35h-1.35m0 0h1.35h-1.35m0 1h1.35h-1.35m0 1h1.35h-1.35m0 3h1.35h-1.35m0 0h1.35h-1.35m0 5h1.35h-1.35m1-32h1.35h-1.35m0 1h1.35h-1.35m0 9h1.35h-1.35m0 1h1.35h-1.35m0 0h1.35h-1.35m0 2h1.35h-1.35m0 1h1.35h-1.35m0 2h1.35h-1.35m0 1h1.35h-1.35m0 1h1.35h-1.35m0 1h1.35h-1.35m0 3h1.35h-1.35m0 0h1.35h-1.35m0 1h1.35h-1.35m0 1h1.35h-1.35m0 1h1.35h-1.35m0 1h1.35h-1.35m0 5h1.35h-1.35m1-28h1.35h-1.35m0 2h1.35h-1.35m0 1h1.35h-1.35m0 4h1.35h-1.35m0 3h1.35h-1.35m0 1h1.35h-1.35m0 1h1.35h-1.35m0 1h1.35h-1.35m0 1h1.35h-1.35m0 1h1.35h-1.35m0 0h1.35h-1.35m0 0h1.35h-1.35m0 0h1.35h-1.35m0 1h1.35h-1.35m0 5h1.35h-1.35m0 1h1.35h-1.35m0 3h1.35h-1.35m0 2h1.35h-1.35m0 10h1.35h-1.35m1-49h1.35h-1.35m0 7h1.35h-1.35m0 12h1.35h-1.35m0 2h1.35h-1.35m0 0h1.35h-1.35m0 0h1.35h-1.35m0 2h1.35h-1.35m0 1h1.35h-1.35m0 0h1.35h-1.35m0 0h1.35h-1.35m0 1h1.35h-1.35m0 0h1.35h-1.35m0 1h1.35h-1.35m0 1h1.35h-1.35m0 2h1.35h-1.35m0 2h1.35h-1.35m0 4h1.35h-1.35m0 0h1.35h-1.35m0 1h1.35h-1.35m0 6h1.35h-1.35m1-35h1.35h-1.35m0 4h1.35h-1.35m0 0h1.35h-1.35m0 2h1.35h-1.35m0 2h1.35h-1.35m0 1h1.35h-1.35m0 3h1.35h-1.35m0 1h1.35h-1.35m0 5h1.35h-1.35m0 0h1.35h-1.35m0 2h1.35h-1.35m0 0h1.35h-1.35m0 0h1.35h-1.35m0 1h1.35h-1.35m0 1h1.35h-1.35m0 0h1.35h-1.35m0 2h1.35h-1.35m0 0h1.35h-1.35m0 1h1.35h-1.35m0 3h1.35h-1.35m0 7h1.35h-1.35m0 5h1.35h-1.35m1-34h1.35h-1.35m0 4h1.35h-1.35m0 2h1.35h-1.35m0 0h1.35h-1.35m0 15h1.35h-1.35m0 0h1.35h-1.35m0 1h1.35h-1.35m0 2h1.35h-1.35m0 0h1.35h-1.35m0 1h1.35h-1.35m1-28h1.35h-1.35m0 1h1.35h-1.35m0 5h1.35h-1.35m0 5h1.35h-1.35m0 9h1.35h-1.35m0 6h1.35h-1.35m0 2h1.35h-1.35m0 2h1.35h-1.35m0 1h1.35h-1.35m0 1h1.35h-1.35m0 0h1.35h-1.35m1-33h1.35h-1.35m0 5h1.35h-1.35m0 10h1.35h-1.35m0 1h1.35h-1.35m0 1h1.35h-1.35m0 4h1.35h-1.35m0 3h1.35h-1.35m0 5h1.35h-1.35m0 1h1.35h-1.35m1-23h1.35h-1.35m0 3h1.35h-1.35m0 3h1.35h-1.35m0 3h1.35h-1.35m0 3h1.35h-1.35m0 0h1.35h-1.35m0 1h1.35h-1.35m0 0h1.35h-1.35m0 0h1.35h-1.35m0 3h1.35h-1.35m0 3h1.35h-1.35m1-26h1.35h-1.35m0 8h1.35h-1.35m0 4h1.35h-1.35m0 1h1.35h-1.35m0 2h1.35h-1.35m0 1h1.35h-1.35m0 9h1.35h-1.35m0 4h1.35h-1.35m1-27h1.35h-1.35m0 8h1.35h-1.35m0 12h1.35h-1.35m0 4h1.35h-1.35m0 1h1.35h-1.35m1-21h1.35h-1.35m0 2h1.35h-1.35m0 7h1.35h-1.35m0 5h1.35h-1.35m0 9h1.35h-1.35m1-33h1.35h-1.35m0 13h1.35h-1.35m0 8h1.35h-1.35m0 2h1.35h-1.35m0 13h1.35h-1.35m1-26h1.35h-1.35m0 8h1.35h-1.35m0 2h1.35h-1.35m0 2h1.35h-1.35m0 9h1.35h-1.35m1-4h1.35h-1.35m0 5h1.35h-1.35m1-19h1.35h-1.35m1 4h1.35h-1.35m0 3h1.35h-1.35m0 16h1.35h-1.35m7-26h1.35h-1.35m0 23h1.35h-1.35" stroke="#2E86C8" stroke-width="1.35" fill="none" transform="translate(0 .5)"/><path d="M2762 247h1.35h-1.35m0 59h1.35h-1.35m2 59h1.35h-1.35m2-164h1.35h-1.35m0 37h1.35h-1.35m3-22h1.35h-1.35m0 70h1.35h-1.35m1-52h1.35h-1.35m2-2h1.35h-1.35m1 46h1.35h-1.35m1-58h1.35h-1.35m1 50h1.35h-1.35m4-58h1.35h-1.35m1 42h1.35h-1.35m1-28h1.35h-1.35m0 11h1.35h-1.35m0 9h1.35h-1.35m0 53h1.35h-1.35m0 36h1.35h-1.35m1-102h1.35h-1.35m0 20h1.35h-1.35m1 19h1.35h-1.35m2-46h1.35h-1.35m0 14h1.35h-1.35m0 10h1.35h-1.35m0 52h1.35h-1.35m1-12h1.35h-1.35m0 13h1.35h-1.35m0 9h1.35h-1.35m1-87h1.35h-1.35m0 1h1.35h-1.35m0 19h1.35h-1.35m0 15h1.35h-1.35m0 25h1.35h-1.35m1-84h1.35h-1.35m0 41h1.35h-1.35m1-44h1.35h-1.35m0 41h1.35h-1.35m0 27h1.35h-1.35m0 63h1.35h-1.35m0 4h1.35h-1.35m0 1h1.35h-1.35m1-130h1.35h-1.35m0 2h1.35h-1.35m0 58h1.35h-1.35m0 5h1.35h-1.35m0 52h1.35h-1.35m1-106h1.35h-1.35m0 60h1.35h-1.35m0 48h1.35h-1.35m1-102h1.35h-1.35m0 15h1.35h-1.35m0 6h1.35h-1.35m0 31h1.35h-1.35m0 29h1.35h-1.35m1-49h1.35h-1.35m0 42h1.35h-1.35m1-42h1.35h-1.35m0 6h1.35h-1.35m0 1h1.35h-1.35m0 0h1.35h-1.35m0 38h1.35h-1.35m0 3h1.35h-1.35m1-6h1.35h-1.35m1-69h1.35h-1.35m0 2h1.35h-1.35m0 107h1.35h-1.35m1-86h1.35h-1.35m0 1h1.35h-1.35m1 11h1.35h-1.35m1-21h1.35h-1.35m0 11h1.35h-1.35m0 6h1.35h-1.35m1-13h1.35h-1.35m0 16h1.35h-1.35m0 5h1.35h-1.35m0 5h1.35h-1.35m0 30h1.35h-1.35m1-7h1.35h-1.35m1-25h1.35h-1.35m0 0h1.35h-1.35m0 11h1.35h-1.35m0 74h1.35h-1.35m1-118h1.35h-1.35m0 23h1.35h-1.35m0 43h1.35h-1.35m5-42h1.35h-1.35m1-26h1.35h-1.35m1-17h1.35h-1.35m2 27h1.35h-1.35" stroke="#3E8ED0" stroke-width="1.35" fill="none" transform="translate(0 .5)"/><path d="M2791 317h1.35h-1.35m0 1h1.35h-1.35m0 11h1.35h-1.35m1-8h1.35h-1.35m2-2h1.35h-1.35m1 4h1.35h-1.35m0 9h1.35h-1.35m1-11h1.35h-1.35m1 6h1.35h-1.35m1-15h1.35h-1.35m0 10h1.35h-1.35m0 1h1.35h-1.35m0 5h1.35h-1.35m0 3h1.35h-1.35m0 13h1.35h-1.35m1-29h1.35h-1.35m0 33h1.35h-1.35m1-29h1.35h-1.35m0 3h1.35h-1.35m0 10h1.35h-1.35m1-15h1.35h-1.35m0 18h1.35h-1.35m0 3h1.35h-1.35m1-14h1.35h-1.35m0 1h1.35h-1.35m0 2h1.35h-1.35m0 2h1.35h-1.35m0 1h1.35h-1.35m0 2h1.35h-1.35m1-15h1.35h-1.35m0 4h1.35h-1.35m0 1h1.35h-1.35m0 7h1.35h-1.35m0 3h1.35h-1.35m0 3h1.35h-1.35m0 1h1.35h-1.35m1-15h1.35h-1.35m0 3h1.35h-1.35m0 1h1.35h-1.35m0 1h1.35h-1.35m0 2h1.35h-1.35m0 3h1.35h-1.35m0 8h1.35h-1.35m1-19h1.35h-1.35m0 1h1.35h-1.35m0 7h1.35h-1.35m0 5h1.35h-1.35m0 3h1.35h-1.35m1-10h1.35h-1.35m0 3h1.35h-1.35m0 0h1.35h-1.35m0 6h1.35h-1.35m0 2h1.35h-1.35m0 6h1.35h-1.35m0 3h1.35h-1.35m1-34h1.35h-1.35m0 9h1.35h-1.35m0 0h1.35h-1.35m0 3h1.35h-1.35m0 1h1.35h-1.35m0 2h1.35h-1.35m0 2h1.35h-1.35m0 5h1.35h-1.35m0 2h1.35h-1.35m0 3h1.35h-1.35m0 7h1.35h-1.35m1-15h1.35h-1.35m0 0h1.35h-1.35m0 1h1.35h-1.35m0 3h1.35h-1.35m0 0h1.35h-1.35m0 2h1.35h-1.35m0 1h1.35h-1.35m0 3h1.35h-1.35m0 9h1.35h-1.35m1-34h1.35h-1.35m0 2h1.35h-1.35m0 2h1.35h-1.35m0 3h1.35h-1.35m0 1h1.35h-1.35m0 2h1.35h-1.35m0 1h1.35h-1.35m0 1h1.35h-1.35m0 2h1.35h-1.35m0 0h1.35h-1.35m0 0h1.35h-1.35m0 3h1.35h-1.35m0 4h1.35h-1.35m0 4h1.35h-1.35m1-24h1.35h-1.35m0 2h1.35h-1.35m0 0h1.35h-1.35m0 8h1.35h-1.35m0 3h1.35h-1.35m0 2h1.35h-1.35m0 2h1.35h-1.35m0 6h1.35h-1.35m0 10h1.35h-1.35m0 0h1.35h-1.35m1-32h1.35h-1.35m0 0h1.35h-1.35m0 2h1.35h-1.35m0 9h1.35h-1.35m0 1h1.35h-1.35m0 2h1.35h-1.35m0 2h1.35h-1.35m0 4h1.35h-1.35m0 2h1.35h-1.35m0 2h1.35h-1.35m0 3h1.35h-1.35m0 3h1.35h-1.35m1-27h1.35h-1.35m0 3h1.35h-1.35m0 0h1.35h-1.35m0 0h1.35h-1.35m0 4h1.35h-1.35m0 2h1.35h-1.35m0 0h1.35h-1.35m0 1h1.35h-1.35m0 4h1.35h-1.35m0 0h1.35h-1.35m0 2h1.35h-1.35m0 2h1.35h-1.35m0 2h1.35h-1.35m1-22h1.35h-1.35m0 0h1.35h-1.35m0 0h1.35h-1.35m0 1h1.35h-1.35m0 2h1.35h-1.35m0 3h1.35h-1.35m0 1h1.35h-1.35m0 0h1.35h-1.35m0 4h1.35h-1.35m0 0h1.35h-1.35m0 1h1.35h-1.35m0 0h1.35h-1.35m0 1h1.35h-1.35m0 5h1.35h-1.35m0 4h1.35h-1.35m0 1h1.35h-1.35m1-28h1.35h-1.35m0 9h1.35h-1.35m0 8h1.35h-1.35m0 7h1.35h-1.35m0 5h1.35h-1.35m0 1h1.35h-1.35m0 2h1.35h-1.35m1-36h1.35h-1.35m0 6h1.35h-1.35m0 1h1.35h-1.35m0 2h1.35h-1.35m0 3h1.35h-1.35m0 1h1.35h-1.35m0 3h1.35h-1.35m0 1h1.35h-1.35m0 2h1.35h-1.35m0 1h1.35h-1.35m0 0h1.35h-1.35m0 1h1.35h-1.35m0 1h1.35h-1.35m0 1h1.35h-1.35m0 0h1.35h-1.35m0 3h1.35h-1.35m0 0h1.35h-1.35m0 1h1.35h-1.35m0 0h1.35h-1.35m1-16h1.35h-1.35m0 0h1.35h-1.35m0 4h1.35h-1.35m0 1h1.35h-1.35m0 1h1.35h-1.35m0 2h1.35h-1.35m0 1h1.35h-1.35m0 0h1.35h-1.35m0 1h1.35h-1.35m0 0h1.35h-1.35m0 3h1.35h-1.35m0 0h1.35h-1.35m0 1h1.35h-1.35m0 2h1.35h-1.35m0 2h1.35h-1.35m0 3h1.35h-1.35m0 2h1.35h-1.35m0 2h1.35h-1.35m0 0h1.35h-1.35m1-31h1.35h-1.35m0 4h1.35h-1.35m0 8h1.35h-1.35m0 6h1.35h-1.35m0 1h1.35h-1.35m0 1h1.35h-1.35m0 3h1.35h-1.35m0 9h1.35h-1.35m1-32h1.35h-1.35m0 3h1.35h-1.35m0 0h1.35h-1.35m0 2h1.35h-1.35m0 5h1.35h-1.35m0 2h1.35h-1.35m0 2h1.35h-1.35m0 1h1.35h-1.35m0 2h1.35h-1.35m0 6h1.35h-1.35m0 4h1.35h-1.35m1-18h1.35h-1.35m0 0h1.35h-1.35m0 0h1.35h-1.35m0 5h1.35h-1.35m0 1h1.35h-1.35m0 4h1.35h-1.35m0 0h1.35h-1.35m0 0h1.35h-1.35m0 2h1.35h-1.35m1-20h1.35h-1.35m0 7h1.35h-1.35m0 1h1.35h-1.35m0 2h1.35h-1.35m0 1h1.35h-1.35m0 1h1.35h-1.35m0 1h1.35h-1.35m0 1h1.35h-1.35m0 5h1.35h-1.35m0 4h1.35h-1.35m0 7h1.35h-1.35m1-33h1.35h-1.35m0 8h1.35h-1.35m0 5h1.35h-1.35m0 4h1.35h-1.35m0 1h1.35h-1.35m0 1h1.35h-1.35m0 5h1.35h-1.35m1-10h1.35h-1.35m0 9h1.35h-1.35m0 3h1.35h-1.35m0 2h1.35h-1.35m0 3h1.35h-1.35m0 0h1.35h-1.35m1-29h1.35h-1.35m0 15h1.35h-1.35m0 3h1.35h-1.35m0 7h1.35h-1.35m1-19h1.35h-1.35m0 2h1.35h-1.35m0 11h1.35h-1.35m0 2h1.35h-1.35m0 1h1.35h-1.35m0 0h1.35h-1.35m1-30h1.35h-1.35m1 15h1.35h-1.35m0 6h1.35h-1.35m1 4h1.35h-1.35m0 0h1.35h-1.35m0 4h1.35h-1.35m1-10h1.35h-1.35m0 7h1.35h-1.35m1-11h1.35h-1.35m3 13h1.35h-1.35m0 5h1.35h-1.35m1-16h1.35h-1.35m8 4h1.35h-1.35" stroke="#8A6F3A" stroke-width="1.35" fill="none" transform="translate(0 .5)"/><path d="M2783 249h1.35h-1.35m0 5h1.35h-1.35m1 18h1.35h-1.35m1-50h1.35h-1.35m1 6h1.35h-1.35m2 28h1.35h-1.35m2-38h1.35h-1.35m0 23h1.35h-1.35m1 73h1.35h-1.35m1-86h1.35h-1.35m1 12h1.35h-1.35m0 16h1.35h-1.35m0 22h1.35h-1.35m0 10h1.35h-1.35m2-40h1.35h-1.35m0 5h1.35h-1.35m0 9h1.35h-1.35m0 9h1.35h-1.35m1-58h1.35h-1.35m0 20h1.35h-1.35m0 0h1.35h-1.35m0 8h1.35h-1.35m0 15h1.35h-1.35m0 19h1.35h-1.35m1-63h1.35h-1.35m0 11h1.35h-1.35m0 0h1.35h-1.35m0 14h1.35h-1.35m0 22h1.35h-1.35m0 5h1.35h-1.35m0 10h1.35h-1.35m0 6h1.35h-1.35m0 12h1.35h-1.35m0 13h1.35h-1.35m1-87h1.35h-1.35m0 21h1.35h-1.35m0 1h1.35h-1.35m0 57h1.35h-1.35m0 15h1.35h-1.35m1-104h1.35h-1.35m0 2h1.35h-1.35m0 1h1.35h-1.35m0 11h1.35h-1.35m0 2h1.35h-1.35m0 17h1.35h-1.35m0 1h1.35h-1.35m0 2h1.35h-1.35m0 4h1.35h-1.35m0 0h1.35h-1.35m0 15h1.35h-1.35m0 10h1.35h-1.35m0 1h1.35h-1.35m0 4h1.35h-1.35m0 2h1.35h-1.35m1-66h1.35h-1.35m0 1h1.35h-1.35m0 15h1.35h-1.35m0 6h1.35h-1.35m0 1h1.35h-1.35m0 10h1.35h-1.35m0 27h1.35h-1.35m0 3h1.35h-1.35m0 9h1.35h-1.35m0 10h1.35h-1.35m0 13h1.35h-1.35m0 5h1.35h-1.35m0 3h1.35h-1.35m1-98h1.35h-1.35m0 21h1.35h-1.35m0 13h1.35h-1.35m1-50h1.35h-1.35m0 8h1.35h-1.35m0 7h1.35h-1.35m0 0h1.35h-1.35m0 2h1.35h-1.35m0 2h1.35h-1.35m0 1h1.35h-1.35m0 8h1.35h-1.35m0 18h1.35h-1.35m0 2h1.35h-1.35m0 8h1.35h-1.35m0 14h1.35h-1.35m0 62h1.35h-1.35m1-135h1.35h-1.35m0 10h1.35h-1.35m0 1h1.35h-1.35m0 5h1.35h-1.35m0 33h1.35h-1.35m0 1h1.35h-1.35m0 2h1.35h-1.35m0 4h1.35h-1.35m0 11h1.35h-1.35m0 26h1.35h-1.35m0 1h1.35h-1.35m0 18h1.35h-1.35m0 3h1.35h-1.35m0 15h1.35h-1.35m0 13h1.35h-1.35m1-139h1.35h-1.35m0 3h1.35h-1.35m0 5h1.35h-1.35m0 6h1.35h-1.35m0 2h1.35h-1.35m0 2h1.35h-1.35m0 7h1.35h-1.35m0 4h1.35h-1.35m0 1h1.35h-1.35m0 4h1.35h-1.35m0 0h1.35h-1.35m0 1h1.35h-1.35m0 0h1.35h-1.35m0 2h1.35h-1.35m0 6h1.35h-1.35m0 14h1.35h-1.35m0 0h1.35h-1.35m0 2h1.35h-1.35m0 23h1.35h-1.35m0 2h1.35h-1.35m0 4h1.35h-1.35m0 6h1.35h-1.35m0 12h1.35h-1.35m1-98h1.35h-1.35m0 13h1.35h-1.35m0 24h1.35h-1.35m0 5h1.35h-1.35m0 10h1.35h-1.35m0 27h1.35h-1.35m0 35h1.35h-1.35m1-129h1.35h-1.35m0 5h1.35h-1.35m0 20h1.35h-1.35m0 7h1.35h-1.35m0 0h1.35h-1.35m0 7h1.35h-1.35m0 3h1.35h-1.35m0 1h1.35h-1.35m0 4h1.35h-1.35m0 2h1.35h-1.35m0 0h1.35h-1.35m0 26h1.35h-1.35m0 3h1.35h-1.35m0 11h1.35h-1.35m1-83h1.35h-1.35m0 2h1.35h-1.35m0 1h1.35h-1.35m0 11h1.35h-1.35m0 5h1.35h-1.35m0 21h1.35h-1.35m0 16h1.35h-1.35m0 0h1.35h-1.35m0 9h1.35h-1.35m0 1h1.35h-1.35m0 4h1.35h-1.35m0 24h1.35h-1.35m0 2h1.35h-1.35m1-99h1.35h-1.35m0 37h1.35h-1.35m0 3h1.35h-1.35m0 1h1.35h-1.35m0 1h1.35h-1.35m0 2h1.35h-1.35m0 23h1.35h-1.35m0 3h1.35h-1.35m0 0h1.35h-1.35m0 1h1.35h-1.35m0 3h1.35h-1.35m0 11h1.35h-1.35m0 5h1.35h-1.35m1-76h1.35h-1.35m0 0h1.35h-1.35m0 18h1.35h-1.35m0 6h1.35h-1.35m0 12h1.35h-1.35m0 49h1.35h-1.35m0 4h1.35h-1.35m1-90h1.35h-1.35m0 20h1.35h-1.35m0 20h1.35h-1.35m0 10h1.35h-1.35m0 9h1.35h-1.35m0 4h1.35h-1.35m0 1h1.35h-1.35m0 0h1.35h-1.35m0 2h1.35h-1.35m1-78h1.35h-1.35m0 15h1.35h-1.35m0 5h1.35h-1.35m0 32h1.35h-1.35m0 20h1.35h-1.35m1-61h1.35h-1.35m0 4h1.35h-1.35m0 20h1.35h-1.35m0 8h1.35h-1.35m0 2h1.35h-1.35m0 13h1.35h-1.35m0 14h1.35h-1.35m0 10h1.35h-1.35m0 1h1.35h-1.35m0 14h1.35h-1.35m0 5h1.35h-1.35m1-87h1.35h-1.35m0 14h1.35h-1.35m0 7h1.35h-1.35m0 4h1.35h-1.35m0 4h1.35h-1.35m0 17h1.35h-1.35m0 6h1.35h-1.35m1-50h1.35h-1.35m0 11h1.35h-1.35m0 8h1.35h-1.35m0 2h1.35h-1.35m0 16h1.35h-1.35m0 21h1.35h-1.35m0 2h1.35h-1.35m0 14h1.35h-1.35m0 7h1.35h-1.35m0 9h1.35h-1.35m0 17h1.35h-1.35m1-109h1.35h-1.35m0 3h1.35h-1.35m0 8h1.35h-1.35m0 37h1.35h-1.35m0 5h1.35h-1.35m0 1h1.35h-1.35m0 4h1.35h-1.35m1-62h1.35h-1.35m0 12h1.35h-1.35m0 15h1.35h-1.35m0 14h1.35h-1.35m0 53h1.35h-1.35m0 2h1.35h-1.35m1-86h1.35h-1.35m0 24h1.35h-1.35m0 21h1.35h-1.35m0 4h1.35h-1.35m1-36h1.35h-1.35m0 1h1.35h-1.35m0 69h1.35h-1.35m1-103h1.35h-1.35m0 8h1.35h-1.35m0 6h1.35h-1.35m0 31h1.35h-1.35m0 17h1.35h-1.35m0 35h1.35h-1.35m1-10h1.35h-1.35m2-17h1.35h-1.35m0 10h1.35h-1.35m0 6h1.35h-1.35m1-75h1.35h-1.35m0 24h1.35h-1.35m0 47h1.35h-1.35m0 35h1.35h-1.35m1-98h1.35h-1.35m1 69h1.35h-1.35m1-10h1.35h-1.35m2-54h1.35h-1.35m0 7h1.35h-1.35m0 37h1.35h-1.35m1-13h1.35h-1.35m6 21h1.35h-1.35" stroke="#C63DA8" stroke-width="1.35" fill="none" transform="translate(0 .5)"/><path d="M2789 225h1.35h-1.35m0 37h1.35h-1.35m2-5h1.35h-1.35m2 18h1.35h-1.35m0 23h1.35h-1.35m0 29h1.35h-1.35m1-112h1.35h-1.35m0 117h1.35h-1.35m1-109h1.35h-1.35m0 8h1.35h-1.35m0 62h1.35h-1.35m1-37h1.35h-1.35m1 40h1.35h-1.35m0 18h1.35h-1.35m1 4h1.35h-1.35m1-90h1.35h-1.35m0 17h1.35h-1.35m0 6h1.35h-1.35m0 9h1.35h-1.35m0 27h1.35h-1.35m0 38h1.35h-1.35m0 11h1.35h-1.35m1-126h1.35h-1.35m0 15h1.35h-1.35m0 29h1.35h-1.35m0 31h1.35h-1.35m0 6h1.35h-1.35m0 8h1.35h-1.35m0 17h1.35h-1.35m1-118h1.35h-1.35m0 8h1.35h-1.35m0 20h1.35h-1.35m0 32h1.35h-1.35m0 28h1.35h-1.35m0 24h1.35h-1.35m1-88h1.35h-1.35m0 35h1.35h-1.35m0 16h1.35h-1.35m1-65h1.35h-1.35m0 26h1.35h-1.35m0 6h1.35h-1.35m0 35h1.35h-1.35m0 6h1.35h-1.35m0 20h1.35h-1.35m0 16h1.35h-1.35m0 20h1.35h-1.35m1-113h1.35h-1.35m0 13h1.35h-1.35m0 2h1.35h-1.35m0 12h1.35h-1.35m0 27h1.35h-1.35m0 6h1.35h-1.35m0 8h1.35h-1.35m0 53h1.35h-1.35m1-148h1.35h-1.35m0 50h1.35h-1.35m0 14h1.35h-1.35m0 0h1.35h-1.35m0 9h1.35h-1.35m0 6h1.35h-1.35m0 8h1.35h-1.35m0 8h1.35h-1.35m0 8h1.35h-1.35m0 32h1.35h-1.35m1-127h1.35h-1.35m0 2h1.35h-1.35m0 21h1.35h-1.35m0 8h1.35h-1.35m0 7h1.35h-1.35m0 9h1.35h-1.35m0 19h1.35h-1.35m0 13h1.35h-1.35m0 5h1.35h-1.35m0 2h1.35h-1.35m0 40h1.35h-1.35m1-124h1.35h-1.35m0 14h1.35h-1.35m0 1h1.35h-1.35m0 17h1.35h-1.35m0 3h1.35h-1.35m0 2h1.35h-1.35m0 7h1.35h-1.35m0 4h1.35h-1.35m0 2h1.35h-1.35m0 19h1.35h-1.35m0 1h1.35h-1.35m0 1h1.35h-1.35m0 2h1.35h-1.35m0 6h1.35h-1.35m0 2h1.35h-1.35m0 3h1.35h-1.35m0 21h1.35h-1.35m0 8h1.35h-1.35m1-95h1.35h-1.35m0 2h1.35h-1.35m0 3h1.35h-1.35m0 3h1.35h-1.35m0 12h1.35h-1.35m0 8h1.35h-1.35m0 0h1.35h-1.35m0 2h1.35h-1.35m0 1h1.35h-1.35m0 3h1.35h-1.35m0 0h1.35h-1.35m0 1h1.35h-1.35m0 3h1.35h-1.35m0 5h1.35h-1.35m0 1h1.35h-1.35m0 0h1.35h-1.35m0 15h1.35h-1.35m0 15h1.35h-1.35m0 1h1.35h-1.35m0 3h1.35h-1.35m0 2h1.35h-1.35m0 30h1.35h-1.35m1-138h1.35h-1.35m0 12h1.35h-1.35m0 26h1.35h-1.35m0 0h1.35h-1.35m0 26h1.35h-1.35m0 9h1.35h-1.35m0 7h1.35h-1.35m0 14h1.35h-1.35m0 3h1.35h-1.35m0 4h1.35h-1.35m0 14h1.35h-1.35m0 41h1.35h-1.35m1-149h1.35h-1.35m0 2h1.35h-1.35m0 4h1.35h-1.35m0 22h1.35h-1.35m0 6h1.35h-1.35m0 12h1.35h-1.35m0 3h1.35h-1.35m0 0h1.35h-1.35m0 5h1.35h-1.35m0 0h1.35h-1.35m0 4h1.35h-1.35m0 19h1.35h-1.35m0 19h1.35h-1.35m0 4h1.35h-1.35m0 5h1.35h-1.35m0 1h1.35h-1.35m0 15h1.35h-1.35m0 21h1.35h-1.35m1-146h1.35h-1.35m0 1h1.35h-1.35m0 8h1.35h-1.35m0 10h1.35h-1.35m0 2h1.35h-1.35m0 2h1.35h-1.35m0 10h1.35h-1.35m0 1h1.35h-1.35m0 1h1.35h-1.35m0 12h1.35h-1.35m0 8h1.35h-1.35m0 8h1.35h-1.35m0 2h1.35h-1.35m0 1h1.35h-1.35m0 2h1.35h-1.35m0 4h1.35h-1.35m0 9h1.35h-1.35m0 4h1.35h-1.35m0 17h1.35h-1.35m0 11h1.35h-1.35m0 10h1.35h-1.35m1-106h1.35h-1.35m0 1h1.35h-1.35m0 9h1.35h-1.35m0 4h1.35h-1.35m0 0h1.35h-1.35m0 2h1.35h-1.35m0 1h1.35h-1.35m0 6h1.35h-1.35m0 10h1.35h-1.35m0 3h1.35h-1.35m0 1h1.35h-1.35m0 1h1.35h-1.35m0 4h1.35h-1.35m0 21h1.35h-1.35m0 2h1.35h-1.35m0 6h1.35h-1.35m0 2h1.35h-1.35m0 9h1.35h-1.35m0 2h1.35h-1.35m0 31h1.35h-1.35m1-125h1.35h-1.35m0 6h1.35h-1.35m0 5h1.35h-1.35m0 9h1.35h-1.35m0 6h1.35h-1.35m0 3h1.35h-1.35m0 0h1.35h-1.35m0 0h1.35h-1.35m0 7h1.35h-1.35m0 1h1.35h-1.35m0 2h1.35h-1.35m0 1h1.35h-1.35m0 2h1.35h-1.35m0 0h1.35h-1.35m0 3h1.35h-1.35m0 1h1.35h-1.35m0 14h1.35h-1.35m0 3h1.35h-1.35m0 2h1.35h-1.35m0 4h1.35h-1.35m0 3h1.35h-1.35m0 6h1.35h-1.35m0 4h1.35h-1.35m0 2h1.35h-1.35m0 1h1.35h-1.35m0 1h1.35h-1.35m0 5h1.35h-1.35m0 2h1.35h-1.35m0 5h1.35h-1.35m0 2h1.35h-1.35m0 7h1.35h-1.35m0 45h1.35h-1.35m1-137h1.35h-1.35m0 1h1.35h-1.35m0 5h1.35h-1.35m0 4h1.35h-1.35m0 2h1.35h-1.35m0 3h1.35h-1.35m0 3h1.35h-1.35m0 4h1.35h-1.35m0 0h1.35h-1.35m0 5h1.35h-1.35m0 6h1.35h-1.35m0 1h1.35h-1.35m0 2h1.35h-1.35m0 4h1.35h-1.35m0 0h1.35h-1.35m0 2h1.35h-1.35m0 1h1.35h-1.35m0 4h1.35h-1.35m0 3h1.35h-1.35m0 6h1.35h-1.35m0 1h1.35h-1.35m0 6h1.35h-1.35m0 2h1.35h-1.35m0 7h1.35h-1.35m0 6h1.35h-1.35m0 1h1.35h-1.35m0 6h1.35h-1.35m0 11h1.35h-1.35m0 20h1.35h-1.35m0 7h1.35h-1.35m0 3h1.35h-1.35m1-149h1.35h-1.35m0 7h1.35h-1.35m0 16h1.35h-1.35m0 10h1.35h-1.35m0 1h1.35h-1.35m0 0h1.35h-1.35m0 7h1.35h-1.35m0 1h1.35h-1.35m0 5h1.35h-1.35m0 0h1.35h-1.35m0 5h1.35h-1.35m0 4h1.35h-1.35m0 4h1.35h-1.35m0 3h1.35h-1.35m0 2h1.35h-1.35m0 3h1.35h-1.35m0 2h1.35h-1.35m0 7h1.35h-1.35m0 6h1.35h-1.35m0 0h1.35h-1.35m0 0h1.35h-1.35m0 3h1.35h-1.35m0 2h1.35h-1.35m0 3h1.35h-1.35m0 10h1.35h-1.35m0 0h1.35h-1.35m0 3h1.35h-1.35m0 4h1.35h-1.35m0 2h1.35h-1.35m0 3h1.35h-1.35m0 7h1.35h-1.35m0 2h1.35h-1.35m0 4h1.35h-1.35m1-127h1.35h-1.35m0 7h1.35h-1.35m0 6h1.35h-1.35m0 20h1.35h-1.35m0 6h1.35h-1.35m0 1h1.35h-1.35m0 12h1.35h-1.35m0 8h1.35h-1.35m0 3h1.35h-1.35m0 5h1.35h-1.35m0 1h1.35h-1.35m0 5h1.35h-1.35m0 1h1.35h-1.35m0 4h1.35h-1.35m0 3h1.35h-1.35m0 0h1.35h-1.35m0 9h1.35h-1.35m0 3h1.35h-1.35m0 14h1.35h-1.35m0 0h1.35h-1.35m0 3h1.35h-1.35m0 0h1.35h-1.35m0 3h1.35h-1.35m0 1h1.35h-1.35m0 12h1.35h-1.35m0 6h1.35h-1.35m0 34h1.35h-1.35m1-153h1.35h-1.35m0 6h1.35h-1.35m0 2h1.35h-1.35m0 10h1.35h-1.35m0 2h1.35h-1.35m0 1h1.35h-1.35m0 3h1.35h-1.35m0 2h1.35h-1.35m0 2h1.35h-1.35m0 9h1.35h-1.35m0 0h1.35h-1.35m0 2h1.35h-1.35m0 3h1.35h-1.35m0 4h1.35h-1.35m0 6h1.35h-1.35m0 1h1.35h-1.35m0 0h1.35h-1.35m0 2h1.35h-1.35m0 3h1.35h-1.35m0 3h1.35h-1.35m0 2h1.35h-1.35m0 3h1.35h-1.35m0 1h1.35h-1.35m0 3h1.35h-1.35m0 0h1.35h-1.35m0 1h1.35h-1.35m0 1h1.35h-1.35m0 1h1.35h-1.35m0 4h1.35h-1.35m0 2h1.35h-1.35m0 1h1.35h-1.35m0 1h1.35h-1.35m0 4h1.35h-1.35m0 1h1.35h-1.35m0 1h1.35h-1.35m0 6h1.35h-1.35m0 24h1.35h-1.35m0 19h1.35h-1.35m1-149h1.35h-1.35m0 3h1.35h-1.35m0 4h1.35h-1.35m0 5h1.35h-1.35m0 1h1.35h-1.35m0 0h1.35h-1.35m0 2h1.35h-1.35m0 1h1.35h-1.35m0 7h1.35h-1.35m0 4h1.35h-1.35m0 12h1.35h-1.35m0 2h1.35h-1.35m0 0h1.35h-1.35m0 1h1.35h-1.35m0 1h1.35h-1.35m0 2h1.35h-1.35m0 6h1.35h-1.35m0 2h1.35h-1.35m0 1h1.35h-1.35m0 5h1.35h-1.35m0 8h1.35h-1.35m0 4h1.35h-1.35m0 2h1.35h-1.35m0 3h1.35h-1.35m0 2h1.35h-1.35m0 1h1.35h-1.35m0 1h1.35h-1.35m0 1h1.35h-1.35m0 7h1.35h-1.35m0 3h1.35h-1.35m0 2h1.35h-1.35m0 3h1.35h-1.35m0 1h1.35h-1.35m0 2h1.35h-1.35m0 2h1.35h-1.35m0 0h1.35h-1.35m0 1h1.35h-1.35m0 0h1.35h-1.35m0 2h1.35h-1.35m0 7h1.35h-1.35m0 2h1.35h-1.35m0 5h1.35h-1.35m0 8h1.35h-1.35m0 3h1.35h-1.35m0 2h1.35h-1.35m0 28h1.35h-1.35m1-145h1.35h-1.35m0 9h1.35h-1.35m0 11h1.35h-1.35m0 2h1.35h-1.35m0 0h1.35h-1.35m0 2h1.35h-1.35m0 8h1.35h-1.35m0 1h1.35h-1.35m0 4h1.35h-1.35m0 3h1.35h-1.35m0 1h1.35h-1.35m0 1h1.35h-1.35m0 1h1.35h-1.35m0 0h1.35h-1.35m0 0h1.35h-1.35m0 4h1.35h-1.35m0 2h1.35h-1.35m0 1h1.35h-1.35m0 1h1.35h-1.35m0 4h1.35h-1.35m0 1h1.35h-1.35m0 3h1.35h-1.35m0 2h1.35h-1.35m0 4h1.35h-1.35m0 2h1.35h-1.35m0 2h1.35h-1.35m0 6h1.35h-1.35m0 0h1.35h-1.35m0 2h1.35h-1.35m0 3h1.35h-1.35m0 0h1.35h-1.35m0 6h1.35h-1.35m0 0h1.35h-1.35m0 1h1.35h-1.35m0 1h1.35h-1.35m0 4h1.35h-1.35m0 2h1.35h-1.35m0 1h1.35h-1.35m0 0h1.35h-1.35m0 1h1.35h-1.35m0 3h1.35h-1.35m0 1h1.35h-1.35m0 1h1.35h-1.35m0 0h1.35h-1.35m0 16h1.35h-1.35m0 3h1.35h-1.35m0 19h1.35h-1.35m0 3h1.35h-1.35m1-152h1.35h-1.35m0 3h1.35h-1.35m0 3h1.35h-1.35m0 2h1.35h-1.35m0 3h1.35h-1.35m0 18h1.35h-1.35m0 1h1.35h-1.35m0 1h1.35h-1.35m0 1h1.35h-1.35m0 1h1.35h-1.35m0 9h1.35h-1.35m0 0h1.35h-1.35m0 2h1.35h-1.35m0 5h1.35h-1.35m0 4h1.35h-1.35m0 1h1.35h-1.35m0 1h1.35h-1.35m0 0h1.35h-1.35m0 3h1.35h-1.35m0 4h1.35h-1.35m0 1h1.35h-1.35m0 1h1.35h-1.35m0 1h1.35h-1.35m0 0h1.35h-1.35m0 1h1.35h-1.35m0 1h1.35h-1.35m0 1h1.35h-1.35m0 4h1.35h-1.35m0 1h1.35h-1.35m0 10h1.35h-1.35m0 3h1.35h-1.35m0 2h1.35h-1.35m0 0h1.35h-1.35m0 1h1.35h-1.35m0 1h1.35h-1.35m0 2h1.35h-1.35m0 6h1.35h-1.35m0 0h1.35h-1.35m0 1h1.35h-1.35m0 1h1.35h-1.35m0 3h1.35h-1.35m0 1h1.35h-1.35m0 3h1.35h-1.35m0 2h1.35h-1.35m0 1h1.35h-1.35m0 0h1.35h-1.35m0 1h1.35h-1.35m0 5h1.35h-1.35m0 0h1.35h-1.35m0 4h1.35h-1.35m0 3h1.35h-1.35m0 9h1.35h-1.35m0 3h1.35h-1.35m0 8h1.35h-1.35m1-128h1.35h-1.35m0 2h1.35h-1.35m0 1h1.35h-1.35m0 7h1.35h-1.35m0 2h1.35h-1.35m0 12h1.35h-1.35m0 1h1.35h-1.35m0 4h1.35h-1.35m0 2h1.35h-1.35m0 0h1.35h-1.35m0 2h1.35h-1.35m0 0h1.35h-1.35m0 2h1.35h-1.35m0 2h1.35h-1.35m0 2h1.35h-1.35m0 0h1.35h-1.35m0 2h1.35h-1.35m0 1h1.35h-1.35m0 2h1.35h-1.35m0 0h1.35h-1.35m0 2h1.35h-1.35m0 1h1.35h-1.35m0 2h1.35h-1.35m0 2h1.35h-1.35m0 1h1.35h-1.35m0 5h1.35h-1.35m0 2h1.35h-1.35m0 2h1.35h-1.35m0 6h1.35h-1.35m0 4h1.35h-1.35m0 2h1.35h-1.35m0 4h1.35h-1.35m0 5h1.35h-1.35m0 7h1.35h-1.35m0 3h1.35h-1.35m0 9h1.35h-1.35m0 26h1.35h-1.35m0 11h1.35h-1.35m0 5h1.35h-1.35m1-162h1.35h-1.35m0 7h1.35h-1.35m0 1h1.35h-1.35m0 13h1.35h-1.35m0 2h1.35h-1.35m0 4h1.35h-1.35m0 0h1.35h-1.35m0 4h1.35h-1.35m0 0h1.35h-1.35m0 2h1.35h-1.35m0 0h1.35h-1.35m0 0h1.35h-1.35m0 2h1.35h-1.35m0 1h1.35h-1.35m0 2h1.35h-1.35m0 1h1.35h-1.35m0 7h1.35h-1.35m0 0h1.35h-1.35m0 9h1.35h-1.35m0 0h1.35h-1.35m0 3h1.35h-1.35m0 0h1.35h-1.35m0 2h1.35h-1.35m0 0h1.35h-1.35m0 2h1.35h-1.35m0 3h1.35h-1.35m0 0h1.35h-1.35m0 2h1.35h-1.35m0 2h1.35h-1.35m0 2h1.35h-1.35m0 0h1.35h-1.35m0 2h1.35h-1.35m0 0h1.35h-1.35m0 1h1.35h-1.35m0 0h1.35h-1.35m0 2h1.35h-1.35m0 0h1.35h-1.35m0 1h1.35h-1.35m0 3h1.35h-1.35m0 2h1.35h-1.35m0 3h1.35h-1.35m0 1h1.35h-1.35m0 0h1.35h-1.35m0 1h1.35h-1.35m0 0h1.35h-1.35m0 4h1.35h-1.35m0 9h1.35h-1.35m0 0h1.35h-1.35m0 0h1.35h-1.35m0 8h1.35h-1.35m0 1h1.35h-1.35m0 4h1.35h-1.35m0 6h1.35h-1.35m0 1h1.35h-1.35m0 6h1.35h-1.35m1-128h1.35h-1.35m0 3h1.35h-1.35m0 7h1.35h-1.35m0 0h1.35h-1.35m0 4h1.35h-1.35m0 4h1.35h-1.35m0 0h1.35h-1.35m0 1h1.35h-1.35m0 6h1.35h-1.35m0 0h1.35h-1.35m0 1h1.35h-1.35m0 2h1.35h-1.35m0 7h1.35h-1.35m0 1h1.35h-1.35m0 0h1.35h-1.35m0 4h1.35h-1.35m0 4h1.35h-1.35m0 2h1.35h-1.35m0 1h1.35h-1.35m0 1h1.35h-1.35m0 4h1.35h-1.35m0 1h1.35h-1.35m0 1h1.35h-1.35m0 2h1.35h-1.35m0 0h1.35h-1.35m0 1h1.35h-1.35m0 5h1.35h-1.35m0 6h1.35h-1.35m0 1h1.35h-1.35m0 1h1.35h-1.35m0 1h1.35h-1.35m0 1h1.35h-1.35m0 2h1.35h-1.35m0 1h1.35h-1.35m0 2h1.35h-1.35m0 5h1.35h-1.35m0 2h1.35h-1.35m0 3h1.35h-1.35m0 1h1.35h-1.35m0 0h1.35h-1.35m0 13h1.35h-1.35m0 3h1.35h-1.35m0 4h1.35h-1.35m0 0h1.35h-1.35m0 3h1.35h-1.35m0 2h1.35h-1.35m0 1h1.35h-1.35m0 1h1.35h-1.35m0 1h1.35h-1.35m0 8h1.35h-1.35m0 4h1.35h-1.35m0 3h1.35h-1.35m0 7h1.35h-1.35m0 11h1.35h-1.35m0 6h1.35h-1.35m0 7h1.35h-1.35m1-155h1.35h-1.35m0 6h1.35h-1.35m0 2h1.35h-1.35m0 0h1.35h-1.35m0 1h1.35h-1.35m0 0h1.35h-1.35m0 5h1.35h-1.35m0 0h1.35h-1.35m0 2h1.35h-1.35m0 0h1.35h-1.35m0 0h1.35h-1.35m0 0h1.35h-1.35m0 2h1.35h-1.35m0 4h1.35h-1.35m0 3h1.35h-1.35m0 2h1.35h-1.35m0 1h1.35h-1.35m0 2h1.35h-1.35m0 9h1.35h-1.35m0 3h1.35h-1.35m0 1h1.35h-1.35m0 1h1.35h-1.35m0 3h1.35h-1.35m0 2h1.35h-1.35m0 0h1.35h-1.35m0 5h1.35h-1.35m0 1h1.35h-1.35m0 2h1.35h-1.35m0 0h1.35h-1.35m0 2h1.35h-1.35m0 2h1.35h-1.35m0 7h1.35h-1.35m0 5h1.35h-1.35m0 0h1.35h-1.35m0 1h1.35h-1.35m0 3h1.35h-1.35m0 1h1.35h-1.35m0 2h1.35h-1.35m0 1h1.35h-1.35m0 2h1.35h-1.35m0 1h1.35h-1.35m0 1h1.35h-1.35m0 1h1.35h-1.35m0 4h1.35h-1.35m0 3h1.35h-1.35m0 0h1.35h-1.35m0 1h1.35h-1.35m0 5h1.35h-1.35m0 2h1.35h-1.35m0 3h1.35h-1.35m0 0h1.35h-1.35m0 3h1.35h-1.35m0 0h1.35h-1.35m0 1h1.35h-1.35m0 27h1.35h-1.35m0 1h1.35h-1.35m1-141h1.35h-1.35m0 0h1.35h-1.35m0 7h1.35h-1.35m0 1h1.35h-1.35m0 3h1.35h-1.35m0 0h1.35h-1.35m0 7h1.35h-1.35m0 1h1.35h-1.35m0 6h1.35h-1.35m0 0h1.35h-1.35m0 0h1.35h-1.35m0 4h1.35h-1.35m0 0h1.35h-1.35m0 2h1.35h-1.35m0 1h1.35h-1.35m0 1h1.35h-1.35m0 1h1.35h-1.35m0 0h1.35h-1.35m0 2h1.35h-1.35m0 0h1.35h-1.35m0 0h1.35h-1.35m0 2h1.35h-1.35m0 0h1.35h-1.35m0 2h1.35h-1.35m0 5h1.35h-1.35m0 1h1.35h-1.35m0 0h1.35h-1.35m0 1h1.35h-1.35m0 1h1.35h-1.35m0 2h1.35h-1.35m0 0h1.35h-1.35m0 1h1.35h-1.35m0 1h1.35h-1.35m0 0h1.35h-1.35m0 2h1.35h-1.35m0 0h1.35h-1.35m0 5h1.35h-1.35m0 3h1.35h-1.35m0 2h1.35h-1.35m0 0h1.35h-1.35m0 3h1.35h-1.35m0 2h1.35h-1.35m0 0h1.35h-1.35m0 2h1.35h-1.35m0 0h1.35h-1.35m0 1h1.35h-1.35m0 2h1.35h-1.35m0 0h1.35h-1.35m0 0h1.35h-1.35m0 5h1.35h-1.35m0 7h1.35h-1.35m0 6h1.35h-1.35m0 0h1.35h-1.35m0 1h1.35h-1.35m0 5h1.35h-1.35m0 4h1.35h-1.35m0 1h1.35h-1.35m0 0h1.35h-1.35m0 1h1.35h-1.35m0 0h1.35h-1.35m0 1h1.35h-1.35m0 2h1.35h-1.35m0 5h1.35h-1.35m0 3h1.35h-1.35m0 1h1.35h-1.35m0 9h1.35h-1.35m0 12h1.35h-1.35m0 11h1.35h-1.35m0 3h1.35h-1.35m1-147h1.35h-1.35m0 5h1.35h-1.35m0 2h1.35h-1.35m0 3h1.35h-1.35m0 1h1.35h-1.35m0 0h1.35h-1.35m0 1h1.35h-1.35m0 2h1.35h-1.35m0 1h1.35h-1.35m0 0h1.35h-1.35m0 2h1.35h-1.35m0 2h1.35h-1.35m0 4h1.35h-1.35m0 3h1.35h-1.35m0 6h1.35h-1.35m0 3h1.35h-1.35m0 1h1.35h-1.35m0 0h1.35h-1.35m0 0h1.35h-1.35m0 0h1.35h-1.35m0 1h1.35h-1.35m0 0h1.35h-1.35m0 0h1.35h-1.35m0 1h1.35h-1.35m0 0h1.35h-1.35m0 1h1.35h-1.35m0 0h1.35h-1.35m0 1h1.35h-1.35m0 1h1.35h-1.35m0 2h1.35h-1.35m0 4h1.35h-1.35m0 2h1.35h-1.35m0 0h1.35h-1.35m0 2h1.35h-1.35m0 3h1.35h-1.35m0 3h1.35h-1.35m0 3h1.35h-1.35m0 2h1.35h-1.35m0 1h1.35h-1.35m0 0h1.35h-1.35m0 1h1.35h-1.35m0 3h1.35h-1.35m0 1h1.35h-1.35m0 4h1.35h-1.35m0 0h1.35h-1.35m0 1h1.35h-1.35m0 1h1.35h-1.35m0 2h1.35h-1.35m0 0h1.35h-1.35m0 1h1.35h-1.35m0 1h1.35h-1.35m0 0h1.35h-1.35m0 1h1.35h-1.35m0 1h1.35h-1.35m0 4h1.35h-1.35m0 1h1.35h-1.35m0 4h1.35h-1.35m0 2h1.35h-1.35m0 7h1.35h-1.35m0 0h1.35h-1.35m0 2h1.35h-1.35m0 1h1.35h-1.35m0 1h1.35h-1.35m0 0h1.35h-1.35m0 2h1.35h-1.35m0 1h1.35h-1.35m0 2h1.35h-1.35m0 1h1.35h-1.35m0 1h1.35h-1.35m0 0h1.35h-1.35m0 3h1.35h-1.35m0 1h1.35h-1.35m0 0h1.35h-1.35m0 4h1.35h-1.35m0 7h1.35h-1.35m0 4h1.35h-1.35m0 19h1.35h-1.35m0 12h1.35h-1.35m1-164h1.35h-1.35m0 1h1.35h-1.35m0 1h1.35h-1.35m0 2h1.35h-1.35m0 1h1.35h-1.35m0 2h1.35h-1.35m0 2h1.35h-1.35m0 0h1.35h-1.35m0 4h1.35h-1.35m0 1h1.35h-1.35m0 0h1.35h-1.35m0 1h1.35h-1.35m0 9h1.35h-1.35m0 2h1.35h-1.35m0 2h1.35h-1.35m0 3h1.35h-1.35m0 2h1.35h-1.35m0 1h1.35h-1.35m0 1h1.35h-1.35m0 0h1.35h-1.35m0 0h1.35h-1.35m0 1h1.35h-1.35m0 4h1.35h-1.35m0 1h1.35h-1.35m0 1h1.35h-1.35m0 0h1.35h-1.35m0 3h1.35h-1.35m0 1h1.35h-1.35m0 1h1.35h-1.35m0 1h1.35h-1.35m0 0h1.35h-1.35m0 1h1.35h-1.35m0 3h1.35h-1.35m0 4h1.35h-1.35m0 0h1.35h-1.35m0 2h1.35h-1.35m0 3h1.35h-1.35m0 3h1.35h-1.35m0 0h1.35h-1.35m0 1h1.35h-1.35m0 0h1.35h-1.35m0 2h1.35h-1.35m0 3h1.35h-1.35m0 2h1.35h-1.35m0 1h1.35h-1.35m0 1h1.35h-1.35m0 1h1.35h-1.35m0 4h1.35h-1.35m0 1h1.35h-1.35m0 0h1.35h-1.35m0 3h1.35h-1.35m0 0h1.35h-1.35m0 0h1.35h-1.35m0 0h1.35h-1.35m0 4h1.35h-1.35m0 3h1.35h-1.35m0 2h1.35h-1.35m0 0h1.35h-1.35m0 7h1.35h-1.35m0 0h1.35h-1.35m0 6h1.35h-1.35m0 1h1.35h-1.35m0 1h1.35h-1.35m0 8h1.35h-1.35m0 2h1.35h-1.35m0 1h1.35h-1.35m0 3h1.35h-1.35m0 1h1.35h-1.35m0 2h1.35h-1.35m0 5h1.35h-1.35m0 1h1.35h-1.35m0 1h1.35h-1.35m0 7h1.35h-1.35m0 7h1.35h-1.35m0 8h1.35h-1.35m1-146h1.35h-1.35m0 4h1.35h-1.35m0 4h1.35h-1.35m0 3h1.35h-1.35m0 2h1.35h-1.35m0 3h1.35h-1.35m0 1h1.35h-1.35m0 2h1.35h-1.35m0 1h1.35h-1.35m0 2h1.35h-1.35m0 6h1.35h-1.35m0 4h1.35h-1.35m0 1h1.35h-1.35m0 2h1.35h-1.35m0 2h1.35h-1.35m0 5h1.35h-1.35m0 6h1.35h-1.35m0 2h1.35h-1.35m0 0h1.35h-1.35m0 1h1.35h-1.35m0 1h1.35h-1.35m0 1h1.35h-1.35m0 1h1.35h-1.35m0 2h1.35h-1.35m0 1h1.35h-1.35m0 0h1.35h-1.35m0 1h1.35h-1.35m0 1h1.35h-1.35m0 2h1.35h-1.35m0 3h1.35h-1.35m0 1h1.35h-1.35m0 4h1.35h-1.35m0 1h1.35h-1.35m0 1h1.35h-1.35m0 1h1.35h-1.35m0 2h1.35h-1.35m0 4h1.35h-1.35m0 2h1.35h-1.35m0 1h1.35h-1.35m0 1h1.35h-1.35m0 0h1.35h-1.35m0 1h1.35h-1.35m0 0h1.35h-1.35m0 1h1.35h-1.35m0 0h1.35h-1.35m0 3h1.35h-1.35m0 1h1.35h-1.35m0 0h1.35h-1.35m0 1h1.35h-1.35m0 1h1.35h-1.35m0 1h1.35h-1.35m0 5h1.35h-1.35m0 9h1.35h-1.35m0 0h1.35h-1.35m0 0h1.35h-1.35m0 3h1.35h-1.35m0 8h1.35h-1.35m0 8h1.35h-1.35m0 1h1.35h-1.35m0 3h1.35h-1.35m0 4h1.35h-1.35m0 1h1.35h-1.35m0 2h1.35h-1.35m0 11h1.35h-1.35m0 8h1.35h-1.35m1-157h1.35h-1.35m0 0h1.35h-1.35m0 1h1.35h-1.35m0 2h1.35h-1.35m0 4h1.35h-1.35m0 3h1.35h-1.35m0 0h1.35h-1.35m0 0h1.35h-1.35m0 3h1.35h-1.35m0 2h1.35h-1.35m0 3h1.35h-1.35m0 0h1.35h-1.35m0 2h1.35h-1.35m0 3h1.35h-1.35m0 2h1.35h-1.35m0 3h1.35h-1.35m0 0h1.35h-1.35m0 3h1.35h-1.35m0 3h1.35h-1.35m0 0h1.35h-1.35m0 4h1.35h-1.35m0 3h1.35h-1.35m0 3h1.35h-1.35m0 0h1.35h-1.35m0 0h1.35h-1.35m0 3h1.35h-1.35m0 4h1.35h-1.35m0 2h1.35h-1.35m0 2h1.35h-1.35m0 2h1.35h-1.35m0 1h1.35h-1.35m0 3h1.35h-1.35m0 0h1.35h-1.35m0 1h1.35h-1.35m0 1h1.35h-1.35m0 0h1.35h-1.35m0 1h1.35h-1.35m0 0h1.35h-1.35m0 0h1.35h-1.35m0 1h1.35h-1.35m0 0h1.35h-1.35m0 2h1.35h-1.35m0 0h1.35h-1.35m0 3h1.35h-1.35m0 1h1.35h-1.35m0 2h1.35h-1.35m0 0h1.35h-1.35m0 1h1.35h-1.35m0 4h1.35h-1.35m0 1h1.35h-1.35m0 0h1.35h-1.35m0 2h1.35h-1.35m0 1h1.35h-1.35m0 1h1.35h-1.35m0 5h1.35h-1.35m0 3h1.35h-1.35m0 4h1.35h-1.35m0 3h1.35h-1.35m0 2h1.35h-1.35m0 8h1.35h-1.35m0 2h1.35h-1.35m0 7h1.35h-1.35m0 6h1.35h-1.35m0 34h1.35h-1.35m1-150h1.35h-1.35m0 1h1.35h-1.35m0 0h1.35h-1.35m0 1h1.35h-1.35m0 3h1.35h-1.35m0 0h1.35h-1.35m0 3h1.35h-1.35m0 2h1.35h-1.35m0 9h1.35h-1.35m0 2h1.35h-1.35m0 2h1.35h-1.35m0 2h1.35h-1.35m0 0h1.35h-1.35m0 0h1.35h-1.35m0 2h1.35h-1.35m0 2h1.35h-1.35m0 3h1.35h-1.35m0 0h1.35h-1.35m0 1h1.35h-1.35m0 2h1.35h-1.35m0 0h1.35h-1.35m0 3h1.35h-1.35m0 2h1.35h-1.35m0 4h1.35h-1.35m0 2h1.35h-1.35m0 4h1.35h-1.35m0 3h1.35h-1.35m0 5h1.35h-1.35m0 2h1.35h-1.35m0 3h1.35h-1.35m0 1h1.35h-1.35m0 1h1.35h-1.35m0 0h1.35h-1.35m0 0h1.35h-1.35m0 3h1.35h-1.35m0 2h1.35h-1.35m0 1h1.35h-1.35m0 1h1.35h-1.35m0 3h1.35h-1.35m0 2h1.35h-1.35m0 0h1.35h-1.35m0 1h1.35h-1.35m0 4h1.35h-1.35m0 4h1.35h-1.35m0 0h1.35h-1.35m0 1h1.35h-1.35m0 4h1.35h-1.35m0 1h1.35h-1.35m0 2h1.35h-1.35m0 3h1.35h-1.35m0 1h1.35h-1.35m0 2h1.35h-1.35m0 1h1.35h-1.35m0 6h1.35h-1.35m0 3h1.35h-1.35m0 5h1.35h-1.35m0 2h1.35h-1.35m0 5h1.35h-1.35m0 12h1.35h-1.35m0 2h1.35h-1.35m1-137h1.35h-1.35m0 1h1.35h-1.35m0 2h1.35h-1.35m0 0h1.35h-1.35m0 4h1.35h-1.35m0 1h1.35h-1.35m0 4h1.35h-1.35m0 1h1.35h-1.35m0 1h1.35h-1.35m0 1h1.35h-1.35m0 2h1.35h-1.35m0 1h1.35h-1.35m0 1h1.35h-1.35m0 4h1.35h-1.35m0 2h1.35h-1.35m0 4h1.35h-1.35m0 3h1.35h-1.35m0 1h1.35h-1.35m0 0h1.35h-1.35m0 2h1.35h-1.35m0 1h1.35h-1.35m0 2h1.35h-1.35m0 1h1.35h-1.35m0 6h1.35h-1.35m0 6h1.35h-1.35m0 3h1.35h-1.35m0 2h1.35h-1.35m0 0h1.35h-1.35m0 1h1.35h-1.35m0 1h1.35h-1.35m0 1h1.35h-1.35m0 5h1.35h-1.35m0 5h1.35h-1.35m0 0h1.35h-1.35m0 1h1.35h-1.35m0 1h1.35h-1.35m0 0h1.35h-1.35m0 1h1.35h-1.35m0 3h1.35h-1.35m0 1h1.35h-1.35m0 0h1.35h-1.35m0 1h1.35h-1.35m0 1h1.35h-1.35m0 2h1.35h-1.35m0 2h1.35h-1.35m0 0h1.35h-1.35m0 2h1.35h-1.35m0 1h1.35h-1.35m0 0h1.35h-1.35m0 1h1.35h-1.35m0 2h1.35h-1.35m0 1h1.35h-1.35m0 1h1.35h-1.35m0 7h1.35h-1.35m0 0h1.35h-1.35m0 1h1.35h-1.35m0 1h1.35h-1.35m0 2h1.35h-1.35m0 1h1.35h-1.35m0 11h1.35h-1.35m0 8h1.35h-1.35m0 1h1.35h-1.35m0 2h1.35h-1.35m0 11h1.35h-1.35m0 5h1.35h-1.35m1-151h1.35h-1.35m0 2h1.35h-1.35m0 1h1.35h-1.35m0 0h1.35h-1.35m0 2h1.35h-1.35m0 10h1.35h-1.35m0 2h1.35h-1.35m0 3h1.35h-1.35m0 0h1.35h-1.35m0 3h1.35h-1.35m0 1h1.35h-1.35m0 0h1.35h-1.35m0 1h1.35h-1.35m0 4h1.35h-1.35m0 3h1.35h-1.35m0 2h1.35h-1.35m0 1h1.35h-1.35m0 1h1.35h-1.35m0 1h1.35h-1.35m0 7h1.35h-1.35m0 4h1.35h-1.35m0 1h1.35h-1.35m0 0h1.35h-1.35m0 4h1.35h-1.35m0 0h1.35h-1.35m0 1h1.35h-1.35m0 0h1.35h-1.35m0 1h1.35h-1.35m0 1h1.35h-1.35m0 0h1.35h-1.35m0 1h1.35h-1.35m0 1h1.35h-1.35m0 0h1.35h-1.35m0 7h1.35h-1.35m0 0h1.35h-1.35m0 1h1.35h-1.35m0 1h1.35h-1.35m0 2h1.35h-1.35m0 6h1.35h-1.35m0 0h1.35h-1.35m0 2h1.35h-1.35m0 2h1.35h-1.35m0 1h1.35h-1.35m0 0h1.35h-1.35m0 3h1.35h-1.35m0 8h1.35h-1.35m0 1h1.35h-1.35m0 2h1.35h-1.35m0 1h1.35h-1.35m0 0h1.35h-1.35m0 1h1.35h-1.35m0 4h1.35h-1.35m0 1h1.35h-1.35m0 5h1.35h-1.35m0 3h1.35h-1.35m0 2h1.35h-1.35m0 3h1.35h-1.35m0 2h1.35h-1.35m0 0h1.35h-1.35m0 5h1.35h-1.35m0 13h1.35h-1.35m0 22h1.35h-1.35m1-154h1.35h-1.35m0 1h1.35h-1.35m0 7h1.35h-1.35m0 0h1.35h-1.35m0 3h1.35h-1.35m0 1h1.35h-1.35m0 6h1.35h-1.35m0 1h1.35h-1.35m0 3h1.35h-1.35m0 5h1.35h-1.35m0 1h1.35h-1.35m0 10h1.35h-1.35m0 1h1.35h-1.35m0 3h1.35h-1.35m0 1h1.35h-1.35m0 4h1.35h-1.35m0 3h1.35h-1.35m0 0h1.35h-1.35m0 0h1.35h-1.35m0 2h1.35h-1.35m0 1h1.35h-1.35m0 0h1.35h-1.35m0 0h1.35h-1.35m0 2h1.35h-1.35m0 1h1.35h-1.35m0 1h1.35h-1.35m0 0h1.35h-1.35m0 2h1.35h-1.35m0 2h1.35h-1.35m0 2h1.35h-1.35m0 0h1.35h-1.35m0 1h1.35h-1.35m0 0h1.35h-1.35m0 1h1.35h-1.35m0 2h1.35h-1.35m0 1h1.35h-1.35m0 0h1.35h-1.35m0 1h1.35h-1.35m0 0h1.35h-1.35m0 2h1.35h-1.35m0 1h1.35h-1.35m0 13h1.35h-1.35m0 2h1.35h-1.35m0 2h1.35h-1.35m0 2h1.35h-1.35m0 8h1.35h-1.35m0 10h1.35h-1.35m0 1h1.35h-1.35m0 5h1.35h-1.35m0 0h1.35h-1.35m0 5h1.35h-1.35m0 0h1.35h-1.35m0 7h1.35h-1.35m0 3h1.35h-1.35m0 9h1.35h-1.35m0 10h1.35h-1.35m0 1h1.35h-1.35m1-141h1.35h-1.35m0 2h1.35h-1.35m0 0h1.35h-1.35m0 2h1.35h-1.35m0 1h1.35h-1.35m0 3h1.35h-1.35m0 5h1.35h-1.35m0 1h1.35h-1.35m0 1h1.35h-1.35m0 1h1.35h-1.35m0 7h1.35h-1.35m0 2h1.35h-1.35m0 2h1.35h-1.35m0 1h1.35h-1.35m0 0h1.35h-1.35m0 1h1.35h-1.35m0 4h1.35h-1.35m0 2h1.35h-1.35m0 2h1.35h-1.35m0 2h1.35h-1.35m0 0h1.35h-1.35m0 1h1.35h-1.35m0 2h1.35h-1.35m0 1h1.35h-1.35m0 1h1.35h-1.35m0 2h1.35h-1.35m0 3h1.35h-1.35m0 8h1.35h-1.35m0 3h1.35h-1.35m0 0h1.35h-1.35m0 0h1.35h-1.35m0 6h1.35h-1.35m0 3h1.35h-1.35m0 0h1.35h-1.35m0 4h1.35h-1.35m0 1h1.35h-1.35m0 0h1.35h-1.35m0 0h1.35h-1.35m0 1h1.35h-1.35m0 1h1.35h-1.35m0 0h1.35h-1.35m0 0h1.35h-1.35m0 0h1.35h-1.35m0 1h1.35h-1.35m0 8h1.35h-1.35m0 4h1.35h-1.35m0 3h1.35h-1.35m0 0h1.35h-1.35m0 1h1.35h-1.35m0 1h1.35h-1.35m0 0h1.35h-1.35m0 1h1.35h-1.35m0 1h1.35h-1.35m0 2h1.35h-1.35m0 1h1.35h-1.35m0 1h1.35h-1.35m0 1h1.35h-1.35m0 0h1.35h-1.35m0 8h1.35h-1.35m0 15h1.35h-1.35m0 2h1.35h-1.35m0 6h1.35h-1.35m0 6h1.35h-1.35m0 8h1.35h-1.35m0 11h1.35h-1.35m1-164h1.35h-1.35m0 7h1.35h-1.35m0 13h1.35h-1.35m0 2h1.35h-1.35m0 7h1.35h-1.35m0 0h1.35h-1.35m0 6h1.35h-1.35m0 2h1.35h-1.35m0 4h1.35h-1.35m0 1h1.35h-1.35m0 5h1.35h-1.35m0 1h1.35h-1.35m0 1h1.35h-1.35m0 0h1.35h-1.35m0 1h1.35h-1.35m0 0h1.35h-1.35m0 4h1.35h-1.35m0 3h1.35h-1.35m0 1h1.35h-1.35m0 1h1.35h-1.35m0 0h1.35h-1.35m0 2h1.35h-1.35m0 1h1.35h-1.35m0 4h1.35h-1.35m0 0h1.35h-1.35m0 1h1.35h-1.35m0 0h1.35h-1.35m0 7h1.35h-1.35m0 4h1.35h-1.35m0 16h1.35h-1.35m0 6h1.35h-1.35m0 1h1.35h-1.35m0 2h1.35h-1.35m0 1h1.35h-1.35m0 1h1.35h-1.35m0 0h1.35h-1.35m0 4h1.35h-1.35m0 0h1.35h-1.35m0 3h1.35h-1.35m0 1h1.35h-1.35m0 3h1.35h-1.35m0 1h1.35h-1.35m0 1h1.35h-1.35m0 5h1.35h-1.35m0 2h1.35h-1.35m0 20h1.35h-1.35m1-140h1.35h-1.35m0 8h1.35h-1.35m0 1h1.35h-1.35m0 0h1.35h-1.35m0 6h1.35h-1.35m0 8h1.35h-1.35m0 0h1.35h-1.35m0 8h1.35h-1.35m0 8h1.35h-1.35m0 3h1.35h-1.35m0 1h1.35h-1.35m0 2h1.35h-1.35m0 0h1.35h-1.35m0 1h1.35h-1.35m0 0h1.35h-1.35m0 1h1.35h-1.35m0 4h1.35h-1.35m0 2h1.35h-1.35m0 1h1.35h-1.35m0 0h1.35h-1.35m0 2h1.35h-1.35m0 0h1.35h-1.35m0 2h1.35h-1.35m0 0h1.35h-1.35m0 1h1.35h-1.35m0 0h1.35h-1.35m0 1h1.35h-1.35m0 1h1.35h-1.35m0 3h1.35h-1.35m0 0h1.35h-1.35m0 0h1.35h-1.35m0 2h1.35h-1.35m0 3h1.35h-1.35m0 5h1.35h-1.35m0 4h1.35h-1.35m0 0h1.35h-1.35m0 0h1.35h-1.35m0 3h1.35h-1.35m0 10h1.35h-1.35m0 6h1.35h-1.35m0 0h1.35h-1.35m0 2h1.35h-1.35m0 0h1.35h-1.35m0 6h1.35h-1.35m0 8h1.35h-1.35m0 4h1.35h-1.35m0 5h1.35h-1.35m0 4h1.35h-1.35m1-135h1.35h-1.35m0 2h1.35h-1.35m0 14h1.35h-1.35m0 14h1.35h-1.35m0 1h1.35h-1.35m0 0h1.35h-1.35m0 1h1.35h-1.35m0 3h1.35h-1.35m0 0h1.35h-1.35m0 3h1.35h-1.35m0 1h1.35h-1.35m0 0h1.35h-1.35m0 1h1.35h-1.35m0 0h1.35h-1.35m0 1h1.35h-1.35m0 1h1.35h-1.35m0 0h1.35h-1.35m0 1h1.35h-1.35m0 0h1.35h-1.35m0 2h1.35h-1.35m0 1h1.35h-1.35m0 0h1.35h-1.35m0 2h1.35h-1.35m0 4h1.35h-1.35m0 3h1.35h-1.35m0 1h1.35h-1.35m0 1h1.35h-1.35m0 3h1.35h-1.35m0 0h1.35h-1.35m0 0h1.35h-1.35m0 1h1.35h-1.35m0 2h1.35h-1.35m0 5h1.35h-1.35m0 1h1.35h-1.35m0 4h1.35h-1.35m0 2h1.35h-1.35m0 1h1.35h-1.35m0 2h1.35h-1.35m0 4h1.35h-1.35m0 1h1.35h-1.35m0 0h1.35h-1.35m0 3h1.35h-1.35m0 2h1.35h-1.35m0 3h1.35h-1.35m0 0h1.35h-1.35m0 0h1.35h-1.35m0 2h1.35h-1.35m0 4h1.35h-1.35m0 1h1.35h-1.35m0 8h1.35h-1.35m0 3h1.35h-1.35m0 6h1.35h-1.35m0 13h1.35h-1.35m0 13h1.35h-1.35m0 25h1.35h-1.35m1-158h1.35h-1.35m0 4h1.35h-1.35m0 1h1.35h-1.35m0 2h1.35h-1.35m0 1h1.35h-1.35m0 1h1.35h-1.35m0 4h1.35h-1.35m0 6h1.35h-1.35m0 6h1.35h-1.35m0 3h1.35h-1.35m0 2h1.35h-1.35m0 2h1.35h-1.35m0 1h1.35h-1.35m0 1h1.35h-1.35m0 0h1.35h-1.35m0 0h1.35h-1.35m0 1h1.35h-1.35m0 1h1.35h-1.35m0 2h1.35h-1.35m0 5h1.35h-1.35m0 0h1.35h-1.35m0 0h1.35h-1.35m0 2h1.35h-1.35m0 3h1.35h-1.35m0 3h1.35h-1.35m0 0h1.35h-1.35m0 8h1.35h-1.35m0 2h1.35h-1.35m0 0h1.35h-1.35m0 1h1.35h-1.35m0 1h1.35h-1.35m0 5h1.35h-1.35m0 2h1.35h-1.35m0 3h1.35h-1.35m0 1h1.35h-1.35m0 1h1.35h-1.35m0 6h1.35h-1.35m0 1h1.35h-1.35m0 0h1.35h-1.35m0 2h1.35h-1.35m0 2h1.35h-1.35m0 4h1.35h-1.35m0 1h1.35h-1.35m0 0h1.35h-1.35m0 17h1.35h-1.35m0 0h1.35h-1.35m0 1h1.35h-1.35m0 2h1.35h-1.35m0 1h1.35h-1.35m0 4h1.35h-1.35m0 6h1.35h-1.35m0 4h1.35h-1.35m0 0h1.35h-1.35m0 8h1.35h-1.35m0 27h1.35h-1.35m1-166h1.35h-1.35m0 2h1.35h-1.35m0 2h1.35h-1.35m0 3h1.35h-1.35m0 2h1.35h-1.35m0 0h1.35h-1.35m0 3h1.35h-1.35m0 2h1.35h-1.35m0 6h1.35h-1.35m0 5h1.35h-1.35m0 6h1.35h-1.35m0 3h1.35h-1.35m0 0h1.35h-1.35m0 2h1.35h-1.35m0 0h1.35h-1.35m0 2h1.35h-1.35m0 2h1.35h-1.35m0 1h1.35h-1.35m0 5h1.35h-1.35m0 4h1.35h-1.35m0 4h1.35h-1.35m0 9h1.35h-1.35m0 0h1.35h-1.35m0 8h1.35h-1.35m0 6h1.35h-1.35m0 5h1.35h-1.35m0 5h1.35h-1.35m0 2h1.35h-1.35m0 2h1.35h-1.35m0 8h1.35h-1.35m0 8h1.35h-1.35m0 1h1.35h-1.35m0 16h1.35h-1.35m0 3h1.35h-1.35m1-129h1.35h-1.35m0 5h1.35h-1.35m0 6h1.35h-1.35m0 5h1.35h-1.35m0 0h1.35h-1.35m0 10h1.35h-1.35m0 4h1.35h-1.35m0 2h1.35h-1.35m0 8h1.35h-1.35m0 4h1.35h-1.35m0 3h1.35h-1.35m0 2h1.35h-1.35m0 1h1.35h-1.35m0 0h1.35h-1.35m0 4h1.35h-1.35m0 2h1.35h-1.35m0 0h1.35h-1.35m0 2h1.35h-1.35m0 2h1.35h-1.35m0 2h1.35h-1.35m0 0h1.35h-1.35m0 0h1.35h-1.35m0 0h1.35h-1.35m0 1h1.35h-1.35m0 1h1.35h-1.35m0 0h1.35h-1.35m0 4h1.35h-1.35m0 4h1.35h-1.35m0 5h1.35h-1.35m0 0h1.35h-1.35m0 3h1.35h-1.35m0 1h1.35h-1.35m0 6h1.35h-1.35m0 1h1.35h-1.35m0 2h1.35h-1.35m0 3h1.35h-1.35m0 3h1.35h-1.35m0 0h1.35h-1.35m0 4h1.35h-1.35m0 2h1.35h-1.35m0 2h1.35h-1.35m0 3h1.35h-1.35m0 4h1.35h-1.35m0 2h1.35h-1.35m0 5h1.35h-1.35m0 2h1.35h-1.35m0 3h1.35h-1.35m0 2h1.35h-1.35m0 19h1.35h-1.35m0 1h1.35h-1.35m1-134h1.35h-1.35m0 8h1.35h-1.35m0 2h1.35h-1.35m0 2h1.35h-1.35m0 2h1.35h-1.35m0 8h1.35h-1.35m0 7h1.35h-1.35m0 2h1.35h-1.35m0 4h1.35h-1.35m0 1h1.35h-1.35m0 8h1.35h-1.35m0 1h1.35h-1.35m0 2h1.35h-1.35m0 1h1.35h-1.35m0 2h1.35h-1.35m0 1h1.35h-1.35m0 3h1.35h-1.35m0 2h1.35h-1.35m0 5h1.35h-1.35m0 6h1.35h-1.35m0 3h1.35h-1.35m0 13h1.35h-1.35m0 6h1.35h-1.35m0 2h1.35h-1.35m0 1h1.35h-1.35m0 1h1.35h-1.35m0 3h1.35h-1.35m0 1h1.35h-1.35m0 1h1.35h-1.35m0 2h1.35h-1.35m0 3h1.35h-1.35m0 8h1.35h-1.35m0 22h1.35h-1.35m0 4h1.35h-1.35m1-148h1.35h-1.35m0 11h1.35h-1.35m0 7h1.35h-1.35m0 9h1.35h-1.35m0 0h1.35h-1.35m0 2h1.35h-1.35m0 5h1.35h-1.35m0 3h1.35h-1.35m0 9h1.35h-1.35m0 0h1.35h-1.35m0 1h1.35h-1.35m0 1h1.35h-1.35m0 12h1.35h-1.35m0 1h1.35h-1.35m0 2h1.35h-1.35m0 1h1.35h-1.35m0 3h1.35h-1.35m0 3h1.35h-1.35m0 0h1.35h-1.35m0 1h1.35h-1.35m0 0h1.35h-1.35m0 8h1.35h-1.35m0 3h1.35h-1.35m0 8h1.35h-1.35m0 0h1.35h-1.35m0 6h1.35h-1.35m0 1h1.35h-1.35m0 1h1.35h-1.35m0 3h1.35h-1.35m0 1h1.35h-1.35m0 16h1.35h-1.35m0 5h1.35h-1.35m0 1h1.35h-1.35m0 9h1.35h-1.35m0 15h1.35h-1.35m1-127h1.35h-1.35m0 3h1.35h-1.35m0 1h1.35h-1.35m0 7h1.35h-1.35m0 5h1.35h-1.35m0 0h1.35h-1.35m0 0h1.35h-1.35m0 3h1.35h-1.35m0 3h1.35h-1.35m0 10h1.35h-1.35m0 4h1.35h-1.35m0 2h1.35h-1.35m0 7h1.35h-1.35m0 6h1.35h-1.35m0 3h1.35h-1.35m0 0h1.35h-1.35m0 4h1.35h-1.35m0 1h1.35h-1.35m0 2h1.35h-1.35m0 4h1.35h-1.35m0 3h1.35h-1.35m0 7h1.35h-1.35m0 5h1.35h-1.35m0 1h1.35h-1.35m0 2h1.35h-1.35m0 1h1.35h-1.35m0 6h1.35h-1.35m0 9h1.35h-1.35m0 4h1.35h-1.35m1-112h1.35h-1.35m0 5h1.35h-1.35m0 0h1.35h-1.35m0 3h1.35h-1.35m0 2h1.35h-1.35m0 1h1.35h-1.35m0 1h1.35h-1.35m0 2h1.35h-1.35m0 3h1.35h-1.35m0 2h1.35h-1.35m0 2h1.35h-1.35m0 3h1.35h-1.35m0 4h1.35h-1.35m0 8h1.35h-1.35m0 0h1.35h-1.35m0 0h1.35h-1.35m0 7h1.35h-1.35m0 1h1.35h-1.35m0 2h1.35h-1.35m0 5h1.35h-1.35m0 3h1.35h-1.35m0 0h1.35h-1.35m0 5h1.35h-1.35m0 0h1.35h-1.35m0 4h1.35h-1.35m0 2h1.35h-1.35m0 6h1.35h-1.35m0 15h1.35h-1.35m0 3h1.35h-1.35m0 1h1.35h-1.35m0 2h1.35h-1.35m0 4h1.35h-1.35m0 2h1.35h-1.35m0 18h1.35h-1.35m1-121h1.35h-1.35m0 11h1.35h-1.35m0 8h1.35h-1.35m0 8h1.35h-1.35m0 1h1.35h-1.35m0 2h1.35h-1.35m0 0h1.35h-1.35m0 5h1.35h-1.35m0 4h1.35h-1.35m0 3h1.35h-1.35m0 1h1.35h-1.35m0 0h1.35h-1.35m0 1h1.35h-1.35m0 4h1.35h-1.35m0 0h1.35h-1.35m0 1h1.35h-1.35m0 1h1.35h-1.35m0 10h1.35h-1.35m0 0h1.35h-1.35m0 0h1.35h-1.35m0 3h1.35h-1.35m0 3h1.35h-1.35m0 1h1.35h-1.35m0 1h1.35h-1.35m0 4h1.35h-1.35m0 1h1.35h-1.35m0 5h1.35h-1.35m0 1h1.35h-1.35m0 1h1.35h-1.35m0 8h1.35h-1.35m0 0h1.35h-1.35m0 16h1.35h-1.35m0 1h1.35h-1.35m0 12h1.35h-1.35m0 1h1.35h-1.35m0 5h1.35h-1.35m1-121h1.35h-1.35m0 5h1.35h-1.35m0 8h1.35h-1.35m0 9h1.35h-1.35m0 4h1.35h-1.35m0 2h1.35h-1.35m0 2h1.35h-1.35m0 8h1.35h-1.35m0 3h1.35h-1.35m0 11h1.35h-1.35m0 8h1.35h-1.35m0 1h1.35h-1.35m0 1h1.35h-1.35m0 8h1.35h-1.35m0 1h1.35h-1.35m0 8h1.35h-1.35m0 19h1.35h-1.35m0 9h1.35h-1.35m0 1h1.35h-1.35m1-89h1.35h-1.35m0 9h1.35h-1.35m0 1h1.35h-1.35m0 8h1.35h-1.35m0 5h1.35h-1.35m0 6h1.35h-1.35m0 5h1.35h-1.35m0 0h1.35h-1.35m0 11h1.35h-1.35m0 10h1.35h-1.35m0 1h1.35h-1.35m0 1h1.35h-1.35m0 4h1.35h-1.35m0 1h1.35h-1.35m0 9h1.35h-1.35m0 4h1.35h-1.35m0 6h1.35h-1.35m0 3h1.35h-1.35m0 1h1.35h-1.35m0 4h1.35h-1.35m0 13h1.35h-1.35m0 1h1.35h-1.35m0 4h1.35h-1.35m1-129h1.35h-1.35m0 9h1.35h-1.35m0 0h1.35h-1.35m0 3h1.35h-1.35m0 4h1.35h-1.35m0 5h1.35h-1.35m0 0h1.35h-1.35m0 13h1.35h-1.35m0 10h1.35h-1.35m0 3h1.35h-1.35m0 2h1.35h-1.35m0 1h1.35h-1.35m0 6h1.35h-1.35m0 4h1.35h-1.35m0 6h1.35h-1.35m0 0h1.35h-1.35m0 7h1.35h-1.35m0 11h1.35h-1.35m0 24h1.35h-1.35m0 0h1.35h-1.35m0 7h1.35h-1.35m1-121h1.35h-1.35m0 8h1.35h-1.35m0 3h1.35h-1.35m0 13h1.35h-1.35m0 8h1.35h-1.35m0 0h1.35h-1.35m0 2h1.35h-1.35m0 2h1.35h-1.35m0 1h1.35h-1.35m0 8h1.35h-1.35m0 0h1.35h-1.35m0 6h1.35h-1.35m0 1h1.35h-1.35m0 1h1.35h-1.35m0 1h1.35h-1.35m0 9h1.35h-1.35m0 0h1.35h-1.35m0 7h1.35h-1.35m0 5h1.35h-1.35m0 13h1.35h-1.35m0 15h1.35h-1.35m0 4h1.35h-1.35m0 16h1.35h-1.35m0 21h1.35h-1.35m0 16h1.35h-1.35m1-158h1.35h-1.35m0 8h1.35h-1.35m0 11h1.35h-1.35m0 11h1.35h-1.35m0 8h1.35h-1.35m0 11h1.35h-1.35m0 5h1.35h-1.35m0 14h1.35h-1.35m0 10h1.35h-1.35m0 2h1.35h-1.35m0 2h1.35h-1.35m0 14h1.35h-1.35m0 2h1.35h-1.35m0 12h1.35h-1.35m0 9h1.35h-1.35m0 12h1.35h-1.35m0 3h1.35h-1.35m1-135h1.35h-1.35m0 0h1.35h-1.35m0 5h1.35h-1.35m0 9h1.35h-1.35m0 43h1.35h-1.35m0 7h1.35h-1.35m0 13h1.35h-1.35m0 1h1.35h-1.35m0 1h1.35h-1.35m0 6h1.35h-1.35m0 22h1.35h-1.35m0 13h1.35h-1.35m1-105h1.35h-1.35m0 35h1.35h-1.35m0 1h1.35h-1.35m0 11h1.35h-1.35m0 8h1.35h-1.35m0 1h1.35h-1.35m0 8h1.35h-1.35m0 12h1.35h-1.35m0 7h1.35h-1.35m0 0h1.35h-1.35m0 14h1.35h-1.35m1-81h1.35h-1.35m0 3h1.35h-1.35m0 34h1.35h-1.35m0 7h1.35h-1.35m0 0h1.35h-1.35m0 9h1.35h-1.35m0 7h1.35h-1.35m0 5h1.35h-1.35m0 8h1.35h-1.35m1-80h1.35h-1.35m0 64h1.35h-1.35m1-40h1.35h-1.35m0 2h1.35h-1.35m0 30h1.35h-1.35m0 20h1.35h-1.35m0 1h1.35h-1.35m0 1h1.35h-1.35m1-90h1.35h-1.35m0 31h1.35h-1.35m0 6h1.35h-1.35m0 9h1.35h-1.35m0 2h1.35h-1.35m1-25h1.35h-1.35m0 1h1.35h-1.35m0 18h1.35h-1.35m0 9h1.35h-1.35m0 15h1.35h-1.35m0 3h1.35h-1.35m0 4h1.35h-1.35m1-53h1.35h-1.35m0 14h1.35h-1.35m0 22h1.35h-1.35m0 20h1.35h-1.35m0 22h1.35h-1.35m0 16h1.35h-1.35m1-109h1.35h-1.35m0 18h1.35h-1.35m0 13h1.35h-1.35m0 7h1.35h-1.35m0 38h1.35h-1.35m1-58h1.35h-1.35m0 50h1.35h-1.35m0 2h1.35h-1.35m0 32h1.35h-1.35m1-88h1.35h-1.35m0 8h1.35h-1.35m0 51h1.35h-1.35m0 6h1.35h-1.35m1-27h1.35h-1.35m1-55h1.35h-1.35m0 21h1.35h-1.35m0 4h1.35h-1.35m1 71h1.35h-1.35m1-77h1.35h-1.35m2-15h1.35h-1.35" stroke="#F0282A" stroke-width="1.35" fill="none" transform="translate(0 .5)"/><path d="M2793 285h1.35h-1.35m2 17h1.35h-1.35m2-2h1.35h-1.35m1-25h1.35h-1.35m1 45h1.35h-1.35m2 9h1.35h-1.35m1-1h1.35h-1.35m1-20h1.35h-1.35m0 8h1.35h-1.35m2-21h1.35h-1.35m0 20h1.35h-1.35m0 2h1.35h-1.35m0 4h1.35h-1.35m0 13h1.35h-1.35m1-32h1.35h-1.35m0 7h1.35h-1.35m0 1h1.35h-1.35m0 6h1.35h-1.35m0 0h1.35h-1.35m0 2h1.35h-1.35m0 18h1.35h-1.35m1-43h1.35h-1.35m0 6h1.35h-1.35m0 7h1.35h-1.35m0 2h1.35h-1.35m0 2h1.35h-1.35m0 4h1.35h-1.35m0 8h1.35h-1.35m0 7h1.35h-1.35m0 4h1.35h-1.35m1-45h1.35h-1.35m0 15h1.35h-1.35m0 2h1.35h-1.35m0 3h1.35h-1.35m0 3h1.35h-1.35m0 8h1.35h-1.35m0 7h1.35h-1.35m0 0h1.35h-1.35m1-73h1.35h-1.35m0 8h1.35h-1.35m0 15h1.35h-1.35m0 10h1.35h-1.35m0 6h1.35h-1.35m0 5h1.35h-1.35m0 4h1.35h-1.35m0 5h1.35h-1.35m0 2h1.35h-1.35m0 1h1.35h-1.35m0 2h1.35h-1.35m0 1h1.35h-1.35m0 4h1.35h-1.35m0 5h1.35h-1.35m0 1h1.35h-1.35m0 9h1.35h-1.35m0 3h1.35h-1.35m0 2h1.35h-1.35m1-65h1.35h-1.35m0 13h1.35h-1.35m0 11h1.35h-1.35m0 8h1.35h-1.35m0 2h1.35h-1.35m0 0h1.35h-1.35m0 4h1.35h-1.35m0 0h1.35h-1.35m0 2h1.35h-1.35m0 0h1.35h-1.35m0 2h1.35h-1.35m0 3h1.35h-1.35m0 0h1.35h-1.35m0 12h1.35h-1.35m0 0h1.35h-1.35m0 3h1.35h-1.35m0 0h1.35h-1.35m1-96h1.35h-1.35m0 22h1.35h-1.35m0 27h1.35h-1.35m0 8h1.35h-1.35m0 1h1.35h-1.35m0 3h1.35h-1.35m0 3h1.35h-1.35m0 3h1.35h-1.35m0 6h1.35h-1.35m0 4h1.35h-1.35m0 1h1.35h-1.35m0 3h1.35h-1.35m0 0h1.35h-1.35m0 5h1.35h-1.35m0 2h1.35h-1.35m0 2h1.35h-1.35m0 2h1.35h-1.35m0 1h1.35h-1.35m0 19h1.35h-1.35m0 9h1.35h-1.35m1-68h1.35h-1.35m0 0h1.35h-1.35m0 3h1.35h-1.35m0 4h1.35h-1.35m0 7h1.35h-1.35m0 5h1.35h-1.35m0 4h1.35h-1.35m0 4h1.35h-1.35m0 3h1.35h-1.35m0 0h1.35h-1.35m0 3h1.35h-1.35m0 7h1.35h-1.35m0 10h1.35h-1.35m0 0h1.35h-1.35m1-58h1.35h-1.35m0 5h1.35h-1.35m0 11h1.35h-1.35m0 1h1.35h-1.35m0 1h1.35h-1.35m0 3h1.35h-1.35m0 0h1.35h-1.35m0 4h1.35h-1.35m0 0h1.35h-1.35m0 0h1.35h-1.35m0 6h1.35h-1.35m0 1h1.35h-1.35m0 0h1.35h-1.35m0 4h1.35h-1.35m0 0h1.35h-1.35m0 4h1.35h-1.35m0 0h1.35h-1.35m0 1h1.35h-1.35m0 1h1.35h-1.35m0 0h1.35h-1.35m0 9h1.35h-1.35m0 0h1.35h-1.35m0 6h1.35h-1.35m0 1h1.35h-1.35m0 6h1.35h-1.35m0 6h1.35h-1.35m0 1h1.35h-1.35m0 9h1.35h-1.35m1-74h1.35h-1.35m0 0h1.35h-1.35m0 2h1.35h-1.35m0 5h1.35h-1.35m0 0h1.35h-1.35m0 0h1.35h-1.35m0 6h1.35h-1.35m0 2h1.35h-1.35m0 1h1.35h-1.35m0 3h1.35h-1.35m0 1h1.35h-1.35m0 1h1.35h-1.35m0 1h1.35h-1.35m0 3h1.35h-1.35m0 0h1.35h-1.35m0 1h1.35h-1.35m0 1h1.35h-1.35m0 0h1.35h-1.35m0 1h1.35h-1.35m0 2h1.35h-1.35m0 0h1.35h-1.35m0 2h1.35h-1.35m0 3h1.35h-1.35m0 0h1.35h-1.35m0 4h1.35h-1.35m0 1h1.35h-1.35m0 1h1.35h-1.35m0 1h1.35h-1.35m0 0h1.35h-1.35m0 3h1.35h-1.35m0 2h1.35h-1.35m0 1h1.35h-1.35m0 0h1.35h-1.35m0 8h1.35h-1.35m0 7h1.35h-1.35m0 15h1.35h-1.35m1-82h1.35h-1.35m0 3h1.35h-1.35m0 5h1.35h-1.35m0 2h1.35h-1.35m0 1h1.35h-1.35m0 2h1.35h-1.35m0 0h1.35h-1.35m0 0h1.35h-1.35m0 3h1.35h-1.35m0 0h1.35h-1.35m0 0h1.35h-1.35m0 2h1.35h-1.35m0 1h1.35h-1.35m0 0h1.35h-1.35m0 1h1.35h-1.35m0 0h1.35h-1.35m0 1h1.35h-1.35m0 0h1.35h-1.35m0 1h1.35h-1.35m0 1h1.35h-1.35m0 1h1.35h-1.35m0 1h1.35h-1.35m0 1h1.35h-1.35m0 1h1.35h-1.35m0 0h1.35h-1.35m0 2h1.35h-1.35m0 0h1.35h-1.35m0 2h1.35h-1.35m0 0h1.35h-1.35m0 1h1.35h-1.35m0 1h1.35h-1.35m0 0h1.35h-1.35m0 2h1.35h-1.35m0 3h1.35h-1.35m0 0h1.35h-1.35m0 0h1.35h-1.35m0 2h1.35h-1.35m0 0h1.35h-1.35m0 5h1.35h-1.35m0 0h1.35h-1.35m0 1h1.35h-1.35m0 1h1.35h-1.35m0 6h1.35h-1.35m0 2h1.35h-1.35m0 0h1.35h-1.35m0 2h1.35h-1.35m1-81h1.35h-1.35m0 18h1.35h-1.35m0 2h1.35h-1.35m0 6h1.35h-1.35m0 2h1.35h-1.35m0 1h1.35h-1.35m0 1h1.35h-1.35m0 4h1.35h-1.35m0 2h1.35h-1.35m0 0h1.35h-1.35m0 6h1.35h-1.35m0 1h1.35h-1.35m0 1h1.35h-1.35m0 0h1.35h-1.35m0 0h1.35h-1.35m0 1h1.35h-1.35m0 4h1.35h-1.35m0 1h1.35h-1.35m0 0h1.35h-1.35m0 1h1.35h-1.35m0 0h1.35h-1.35m0 2h1.35h-1.35m0 1h1.35h-1.35m0 1h1.35h-1.35m0 0h1.35h-1.35m0 2h1.35h-1.35m0 2h1.35h-1.35m0 0h1.35h-1.35m0 0h1.35h-1.35m0 1h1.35h-1.35m0 0h1.35h-1.35m0 1h1.35h-1.35m0 1h1.35h-1.35m0 1h1.35h-1.35m0 0h1.35h-1.35m0 2h1.35h-1.35m0 1h1.35h-1.35m0 5h1.35h-1.35m0 4h1.35h-1.35m0 0h1.35h-1.35m0 4h1.35h-1.35m0 5h1.35h-1.35m0 1h1.35h-1.35m0 2h1.35h-1.35m0 0h1.35h-1.35m0 2h1.35h-1.35m1-83h1.35h-1.35m0 2h1.35h-1.35m0 16h1.35h-1.35m0 1h1.35h-1.35m0 1h1.35h-1.35m0 1h1.35h-1.35m0 2h1.35h-1.35m0 1h1.35h-1.35m0 1h1.35h-1.35m0 3h1.35h-1.35m0 1h1.35h-1.35m0 3h1.35h-1.35m0 2h1.35h-1.35m0 1h1.35h-1.35m0 0h1.35h-1.35m0 0h1.35h-1.35m0 2h1.35h-1.35m0 1h1.35h-1.35m0 0h1.35h-1.35m0 0h1.35h-1.35m0 0h1.35h-1.35m0 2h1.35h-1.35m0 0h1.35h-1.35m0 0h1.35h-1.35m0 2h1.35h-1.35m0 0h1.35h-1.35m0 3h1.35h-1.35m0 3h1.35h-1.35m0 1h1.35h-1.35m0 0h1.35h-1.35m0 0h1.35h-1.35m0 1h1.35h-1.35m0 1h1.35h-1.35m0 0h1.35h-1.35m0 1h1.35h-1.35m0 0h1.35h-1.35m0 1h1.35h-1.35m0 2h1.35h-1.35m0 0h1.35h-1.35m0 0h1.35h-1.35m0 5h1.35h-1.35m0 3h1.35h-1.35m0 2h1.35h-1.35m0 1h1.35h-1.35m0 0h1.35h-1.35m0 1h1.35h-1.35m0 6h1.35h-1.35m0 3h1.35h-1.35m0 10h1.35h-1.35m1-82h1.35h-1.35m0 3h1.35h-1.35m0 0h1.35h-1.35m0 10h1.35h-1.35m0 7h1.35h-1.35m0 1h1.35h-1.35m0 2h1.35h-1.35m0 1h1.35h-1.35m0 5h1.35h-1.35m0 2h1.35h-1.35m0 1h1.35h-1.35m0 1h1.35h-1.35m0 1h1.35h-1.35m0 0h1.35h-1.35m0 0h1.35h-1.35m0 1h1.35h-1.35m0 0h1.35h-1.35m0 1h1.35h-1.35m0 1h1.35h-1.35m0 0h1.35h-1.35m0 1h1.35h-1.35m0 0h1.35h-1.35m0 1h1.35h-1.35m0 0h1.35h-1.35m0 0h1.35h-1.35m0 1h1.35h-1.35m0 0h1.35h-1.35m0 0h1.35h-1.35m0 1h1.35h-1.35m0 0h1.35h-1.35m0 2h1.35h-1.35m0 1h1.35h-1.35m0 0h1.35h-1.35m0 0h1.35h-1.35m0 2h1.35h-1.35m0 2h1.35h-1.35m0 0h1.35h-1.35m0 1h1.35h-1.35m0 2h1.35h-1.35m0 0h1.35h-1.35m0 2h1.35h-1.35m0 0h1.35h-1.35m0 0h1.35h-1.35m0 1h1.35h-1.35m0 0h1.35h-1.35m0 0h1.35h-1.35m0 0h1.35h-1.35m0 1h1.35h-1.35m0 0h1.35h-1.35m0 0h1.35h-1.35m0 1h1.35h-1.35m0 0h1.35h-1.35m0 4h1.35h-1.35m0 0h1.35h-1.35m0 1h1.35h-1.35m0 2h1.35h-1.35m0 0h1.35h-1.35m0 3h1.35h-1.35m0 0h1.35h-1.35m0 4h1.35h-1.35m0 1h1.35h-1.35m0 1h1.35h-1.35m0 0h1.35h-1.35m1-63h1.35h-1.35m0 1h1.35h-1.35m0 3h1.35h-1.35m0 1h1.35h-1.35m0 2h1.35h-1.35m0 5h1.35h-1.35m0 1h1.35h-1.35m0 1h1.35h-1.35m0 2h1.35h-1.35m0 2h1.35h-1.35m0 2h1.35h-1.35m0 1h1.35h-1.35m0 1h1.35h-1.35m0 1h1.35h-1.35m0 1h1.35h-1.35m0 2h1.35h-1.35m0 2h1.35h-1.35m0 1h1.35h-1.35m0 1h1.35h-1.35m0 0h1.35h-1.35m0 1h1.35h-1.35m0 0h1.35h-1.35m0 1h1.35h-1.35m0 0h1.35h-1.35m0 1h1.35h-1.35m0 0h1.35h-1.35m0 1h1.35h-1.35m0 1h1.35h-1.35m0 2h1.35h-1.35m0 0h1.35h-1.35m0 0h1.35h-1.35m0 1h1.35h-1.35m0 0h1.35h-1.35m0 2h1.35h-1.35m0 0h1.35h-1.35m0 3h1.35h-1.35m0 0h1.35h-1.35m0 1h1.35h-1.35m0 0h1.35h-1.35m0 1h1.35h-1.35m0 3h1.35h-1.35m0 0h1.35h-1.35m0 2h1.35h-1.35m0 1h1.35h-1.35m0 1h1.35h-1.35m0 3h1.35h-1.35m0 1h1.35h-1.35m0 0h1.35h-1.35m0 1h1.35h-1.35m0 1h1.35h-1.35m0 2h1.35h-1.35m0 2h1.35h-1.35m0 5h1.35h-1.35m0 1h1.35h-1.35m0 1h1.35h-1.35m0 0h1.35h-1.35m0 4h1.35h-1.35m1-88h1.35h-1.35m0 5h1.35h-1.35m0 4h1.35h-1.35m0 1h1.35h-1.35m0 5h1.35h-1.35m0 4h1.35h-1.35m0 1h1.35h-1.35m0 6h1.35h-1.35m0 0h1.35h-1.35m0 2h1.35h-1.35m0 3h1.35h-1.35m0 0h1.35h-1.35m0 1h1.35h-1.35m0 1h1.35h-1.35m0 0h1.35h-1.35m0 0h1.35h-1.35m0 1h1.35h-1.35m0 2h1.35h-1.35m0 2h1.35h-1.35m0 1h1.35h-1.35m0 0h1.35h-1.35m0 1h1.35h-1.35m0 1h1.35h-1.35m0 0h1.35h-1.35m0 1h1.35h-1.35m0 0h1.35h-1.35m0 0h1.35h-1.35m0 1h1.35h-1.35m0 1h1.35h-1.35m0 1h1.35h-1.35m0 0h1.35h-1.35m0 1h1.35h-1.35m0 0h1.35h-1.35m0 0h1.35h-1.35m0 2h1.35h-1.35m0 0h1.35h-1.35m0 1h1.35h-1.35m0 0h1.35h-1.35m0 1h1.35h-1.35m0 0h1.35h-1.35m0 1h1.35h-1.35m0 0h1.35h-1.35m0 1h1.35h-1.35m0 0h1.35h-1.35m0 2h1.35h-1.35m0 1h1.35h-1.35m0 2h1.35h-1.35m0 1h1.35h-1.35m0 1h1.35h-1.35m0 0h1.35h-1.35m0 1h1.35h-1.35m0 1h1.35h-1.35m0 1h1.35h-1.35m0 4h1.35h-1.35m0 1h1.35h-1.35m0 0h1.35h-1.35m0 1h1.35h-1.35m0 0h1.35h-1.35m0 1h1.35h-1.35m0 1h1.35h-1.35m0 3h1.35h-1.35m0 3h1.35h-1.35m0 1h1.35h-1.35m0 0h1.35h-1.35m0 1h1.35h-1.35m0 13h1.35h-1.35m1-88h1.35h-1.35m0 12h1.35h-1.35m0 2h1.35h-1.35m0 1h1.35h-1.35m0 1h1.35h-1.35m0 2h1.35h-1.35m0 2h1.35h-1.35m0 0h1.35h-1.35m0 4h1.35h-1.35m0 1h1.35h-1.35m0 0h1.35h-1.35m0 0h1.35h-1.35m0 2h1.35h-1.35m0 1h1.35h-1.35m0 1h1.35h-1.35m0 0h1.35h-1.35m0 0h1.35h-1.35m0 2h1.35h-1.35m0 0h1.35h-1.35m0 1h1.35h-1.35m0 3h1.35h-1.35m0 0h1.35h-1.35m0 0h1.35h-1.35m0 1h1.35h-1.35m0 2h1.35h-1.35m0 0h1.35h-1.35m0 0h1.35h-1.35m0 0h1.35h-1.35m0 1h1.35h-1.35m0 0h1.35h-1.35m0 2h1.35h-1.35m0 0h1.35h-1.35m0 0h1.35h-1.35m0 0h1.35h-1.35m0 1h1.35h-1.35m0 0h1.35h-1.35m0 0h1.35h-1.35m0 1h1.35h-1.35m0 0h1.35h-1.35m0 0h1.35h-1.35m0 2h1.35h-1.35m0 2h1.35h-1.35m0 1h1.35h-1.35m0 1h1.35h-1.35m0 1h1.35h-1.35m0 2h1.35h-1.35m0 0h1.35h-1.35m0 1h1.35h-1.35m0 1h1.35h-1.35m0 0h1.35h-1.35m0 0h1.35h-1.35m0 1h1.35h-1.35m0 0h1.35h-1.35m0 1h1.35h-1.35m0 2h1.35h-1.35m0 0h1.35h-1.35m0 1h1.35h-1.35m0 1h1.35h-1.35m0 0h1.35h-1.35m0 0h1.35h-1.35m0 0h1.35h-1.35m0 1h1.35h-1.35m0 0h1.35h-1.35m0 2h1.35h-1.35m0 1h1.35h-1.35m0 0h1.35h-1.35m0 0h1.35h-1.35m0 0h1.35h-1.35m0 6h1.35h-1.35m0 1h1.35h-1.35m0 2h1.35h-1.35m0 8h1.35h-1.35m0 1h1.35h-1.35m0 4h1.35h-1.35m0 2h1.35h-1.35m1-78h1.35h-1.35m0 7h1.35h-1.35m0 0h1.35h-1.35m0 0h1.35h-1.35m0 3h1.35h-1.35m0 1h1.35h-1.35m0 1h1.35h-1.35m0 1h1.35h-1.35m0 1h1.35h-1.35m0 1h1.35h-1.35m0 3h1.35h-1.35m0 0h1.35h-1.35m0 1h1.35h-1.35m0 1h1.35h-1.35m0 0h1.35h-1.35m0 0h1.35h-1.35m0 1h1.35h-1.35m0 1h1.35h-1.35m0 0h1.35h-1.35m0 0h1.35h-1.35m0 1h1.35h-1.35m0 0h1.35h-1.35m0 0h1.35h-1.35m0 1h1.35h-1.35m0 0h1.35h-1.35m0 0h1.35h-1.35m0 3h1.35h-1.35m0 0h1.35h-1.35m0 1h1.35h-1.35m0 0h1.35h-1.35m0 0h1.35h-1.35m0 0h1.35h-1.35m0 1h1.35h-1.35m0 0h1.35h-1.35m0 1h1.35h-1.35m0 0h1.35h-1.35m0 0h1.35h-1.35m0 1h1.35h-1.35m0 1h1.35h-1.35m0 0h1.35h-1.35m0 0h1.35h-1.35m0 0h1.35h-1.35m0 1h1.35h-1.35m0 0h1.35h-1.35m0 4h1.35h-1.35m0 0h1.35h-1.35m0 1h1.35h-1.35m0 0h1.35h-1.35m0 0h1.35h-1.35m0 1h1.35h-1.35m0 2h1.35h-1.35m0 0h1.35h-1.35m0 0h1.35h-1.35m0 0h1.35h-1.35m0 2h1.35h-1.35m0 0h1.35h-1.35m0 1h1.35h-1.35m0 0h1.35h-1.35m0 0h1.35h-1.35m0 0h1.35h-1.35m0 1h1.35h-1.35m0 1h1.35h-1.35m0 1h1.35h-1.35m0 2h1.35h-1.35m0 0h1.35h-1.35m0 0h1.35h-1.35m0 0h1.35h-1.35m0 1h1.35h-1.35m0 2h1.35h-1.35m0 0h1.35h-1.35m0 2h1.35h-1.35m0 1h1.35h-1.35m0 0h1.35h-1.35m0 3h1.35h-1.35m0 1h1.35h-1.35m0 0h1.35h-1.35m0 0h1.35h-1.35m0 1h1.35h-1.35m0 0h1.35h-1.35m0 3h1.35h-1.35m0 5h1.35h-1.35m1-72h1.35h-1.35m0 1h1.35h-1.35m0 6h1.35h-1.35m0 1h1.35h-1.35m0 3h1.35h-1.35m0 0h1.35h-1.35m0 3h1.35h-1.35m0 0h1.35h-1.35m0 1h1.35h-1.35m0 1h1.35h-1.35m0 0h1.35h-1.35m0 0h1.35h-1.35m0 2h1.35h-1.35m0 1h1.35h-1.35m0 1h1.35h-1.35m0 3h1.35h-1.35m0 1h1.35h-1.35m0 1h1.35h-1.35m0 0h1.35h-1.35m0 1h1.35h-1.35m0 0h1.35h-1.35m0 2h1.35h-1.35m0 0h1.35h-1.35m0 1h1.35h-1.35m0 0h1.35h-1.35m0 1h1.35h-1.35m0 0h1.35h-1.35m0 0h1.35h-1.35m0 0h1.35h-1.35m0 1h1.35h-1.35m0 0h1.35h-1.35m0 0h1.35h-1.35m0 0h1.35h-1.35m0 1h1.35h-1.35m0 0h1.35h-1.35m0 0h1.35h-1.35m0 0h1.35h-1.35m0 0h1.35h-1.35m0 1h1.35h-1.35m0 1h1.35h-1.35m0 0h1.35h-1.35m0 2h1.35h-1.35m0 0h1.35h-1.35m0 1h1.35h-1.35m0 0h1.35h-1.35m0 1h1.35h-1.35m0 1h1.35h-1.35m0 0h1.35h-1.35m0 1h1.35h-1.35m0 0h1.35h-1.35m0 0h1.35h-1.35m0 1h1.35h-1.35m0 0h1.35h-1.35m0 1h1.35h-1.35m0 0h1.35h-1.35m0 0h1.35h-1.35m0 1h1.35h-1.35m0 0h1.35h-1.35m0 1h1.35h-1.35m0 0h1.35h-1.35m0 0h1.35h-1.35m0 0h1.35h-1.35m0 0h1.35h-1.35m0 1h1.35h-1.35m0 1h1.35h-1.35m0 0h1.35h-1.35m0 1h1.35h-1.35m0 1h1.35h-1.35m0 1h1.35h-1.35m0 0h1.35h-1.35m0 0h1.35h-1.35m0 1h1.35h-1.35m0 2h1.35h-1.35m0 0h1.35h-1.35m0 1h1.35h-1.35m0 1h1.35h-1.35m0 1h1.35h-1.35m0 0h1.35h-1.35m0 0h1.35h-1.35m0 2h1.35h-1.35m0 0h1.35h-1.35m0 1h1.35h-1.35m0 0h1.35h-1.35m0 1h1.35h-1.35m0 1h1.35h-1.35m0 2h1.35h-1.35m0 0h1.35h-1.35m0 0h1.35h-1.35m0 1h1.35h-1.35m0 1h1.35h-1.35m0 1h1.35h-1.35m0 4h1.35h-1.35m0 3h1.35h-1.35m0 0h1.35h-1.35m0 1h1.35h-1.35m0 0h1.35h-1.35m0 2h1.35h-1.35m0 7h1.35h-1.35m0 1h1.35h-1.35m0 2h1.35h-1.35m1-96h1.35h-1.35m0 5h1.35h-1.35m0 2h1.35h-1.35m0 3h1.35h-1.35m0 2h1.35h-1.35m0 4h1.35h-1.35m0 1h1.35h-1.35m0 1h1.35h-1.35m0 1h1.35h-1.35m0 3h1.35h-1.35m0 1h1.35h-1.35m0 0h1.35h-1.35m0 1h1.35h-1.35m0 1h1.35h-1.35m0 0h1.35h-1.35m0 2h1.35h-1.35m0 0h1.35h-1.35m0 3h1.35h-1.35m0 0h1.35h-1.35m0 2h1.35h-1.35m0 0h1.35h-1.35m0 1h1.35h-1.35m0 1h1.35h-1.35m0 0h1.35h-1.35m0 1h1.35h-1.35m0 1h1.35h-1.35m0 1h1.35h-1.35m0 1h1.35h-1.35m0 0h1.35h-1.35m0 1h1.35h-1.35m0 2h1.35h-1.35m0 0h1.35h-1.35m0 0h1.35h-1.35m0 0h1.35h-1.35m0 2h1.35h-1.35m0 1h1.35h-1.35m0 0h1.35h-1.35m0 1h1.35h-1.35m0 1h1.35h-1.35m0 1h1.35h-1.35m0 1h1.35h-1.35m0 0h1.35h-1.35m0 0h1.35h-1.35m0 1h1.35h-1.35m0 0h1.35h-1.35m0 0h1.35h-1.35m0 0h1.35h-1.35m0 0h1.35h-1.35m0 0h1.35h-1.35m0 0h1.35h-1.35m0 1h1.35h-1.35m0 0h1.35h-1.35m0 0h1.35h-1.35m0 0h1.35h-1.35m0 2h1.35h-1.35m0 0h1.35h-1.35m0 1h1.35h-1.35m0 0h1.35h-1.35m0 0h1.35h-1.35m0 1h1.35h-1.35m0 0h1.35h-1.35m0 1h1.35h-1.35m0 0h1.35h-1.35m0 1h1.35h-1.35m0 0h1.35h-1.35m0 1h1.35h-1.35m0 1h1.35h-1.35m0 0h1.35h-1.35m0 1h1.35h-1.35m0 1h1.35h-1.35m0 0h1.35h-1.35m0 1h1.35h-1.35m0 1h1.35h-1.35m0 1h1.35h-1.35m0 0h1.35h-1.35m0 0h1.35h-1.35m0 1h1.35h-1.35m0 0h1.35h-1.35m0 2h1.35h-1.35m0 0h1.35h-1.35m0 3h1.35h-1.35m0 0h1.35h-1.35m0 2h1.35h-1.35m0 1h1.35h-1.35m0 4h1.35h-1.35m0 0h1.35h-1.35m0 1h1.35h-1.35m0 3h1.35h-1.35m0 1h1.35h-1.35m0 0h1.35h-1.35m1-69h1.35h-1.35m0 5h1.35h-1.35m0 2h1.35h-1.35m0 6h1.35h-1.35m0 1h1.35h-1.35m0 1h1.35h-1.35m0 5h1.35h-1.35m0 0h1.35h-1.35m0 2h1.35h-1.35m0 1h1.35h-1.35m0 0h1.35h-1.35m0 0h1.35h-1.35m0 2h1.35h-1.35m0 1h1.35h-1.35m0 0h1.35h-1.35m0 0h1.35h-1.35m0 1h1.35h-1.35m0 0h1.35h-1.35m0 0h1.35h-1.35m0 2h1.35h-1.35m0 0h1.35h-1.35m0 1h1.35h-1.35m0 0h1.35h-1.35m0 0h1.35h-1.35m0 1h1.35h-1.35m0 2h1.35h-1.35m0 0h1.35h-1.35m0 0h1.35h-1.35m0 1h1.35h-1.35m0 2h1.35h-1.35m0 0h1.35h-1.35m0 1h1.35h-1.35m0 1h1.35h-1.35m0 0h1.35h-1.35m0 0h1.35h-1.35m0 0h1.35h-1.35m0 0h1.35h-1.35m0 1h1.35h-1.35m0 1h1.35h-1.35m0 0h1.35h-1.35m0 1h1.35h-1.35m0 1h1.35h-1.35m0 0h1.35h-1.35m0 0h1.35h-1.35m0 0h1.35h-1.35m0 0h1.35h-1.35m0 1h1.35h-1.35m0 1h1.35h-1.35m0 0h1.35h-1.35m0 2h1.35h-1.35m0 0h1.35h-1.35m0 0h1.35h-1.35m0 1h1.35h-1.35m0 2h1.35h-1.35m0 1h1.35h-1.35m0 0h1.35h-1.35m0 0h1.35h-1.35m0 0h1.35h-1.35m0 0h1.35h-1.35m0 1h1.35h-1.35m0 0h1.35h-1.35m0 0h1.35h-1.35m0 1h1.35h-1.35m0 0h1.35h-1.35m0 0h1.35h-1.35m0 0h1.35h-1.35m0 2h1.35h-1.35m0 1h1.35h-1.35m0 0h1.35h-1.35m0 1h1.35h-1.35m0 0h1.35h-1.35m0 2h1.35h-1.35m0 0h1.35h-1.35m0 0h1.35h-1.35m0 0h1.35h-1.35m0 0h1.35h-1.35m0 0h1.35h-1.35m0 3h1.35h-1.35m0 0h1.35h-1.35m0 2h1.35h-1.35m0 2h1.35h-1.35m0 0h1.35h-1.35m0 1h1.35h-1.35m0 0h1.35h-1.35m0 7h1.35h-1.35m0 2h1.35h-1.35m0 6h1.35h-1.35m1-99h1.35h-1.35m0 14h1.35h-1.35m0 1h1.35h-1.35m0 2h1.35h-1.35m0 3h1.35h-1.35m0 1h1.35h-1.35m0 4h1.35h-1.35m0 4h1.35h-1.35m0 2h1.35h-1.35m0 1h1.35h-1.35m0 1h1.35h-1.35m0 0h1.35h-1.35m0 2h1.35h-1.35m0 1h1.35h-1.35m0 1h1.35h-1.35m0 1h1.35h-1.35m0 0h1.35h-1.35m0 1h1.35h-1.35m0 2h1.35h-1.35m0 0h1.35h-1.35m0 2h1.35h-1.35m0 1h1.35h-1.35m0 0h1.35h-1.35m0 0h1.35h-1.35m0 1h1.35h-1.35m0 0h1.35h-1.35m0 0h1.35h-1.35m0 2h1.35h-1.35m0 0h1.35h-1.35m0 1h1.35h-1.35m0 0h1.35h-1.35m0 1h1.35h-1.35m0 0h1.35h-1.35m0 0h1.35h-1.35m0 0h1.35h-1.35m0 1h1.35h-1.35m0 0h1.35h-1.35m0 0h1.35h-1.35m0 0h1.35h-1.35m0 1h1.35h-1.35m0 1h1.35h-1.35m0 0h1.35h-1.35m0 1h1.35h-1.35m0 0h1.35h-1.35m0 0h1.35h-1.35m0 1h1.35h-1.35m0 0h1.35h-1.35m0 1h1.35h-1.35m0 0h1.35h-1.35m0 0h1.35h-1.35m0 0h1.35h-1.35m0 1h1.35h-1.35m0 0h1.35h-1.35m0 1h1.35h-1.35m0 0h1.35h-1.35m0 1h1.35h-1.35m0 0h1.35h-1.35m0 1h1.35h-1.35m0 0h1.35h-1.35m0 0h1.35h-1.35m0 0h1.35h-1.35m0 1h1.35h-1.35m0 1h1.35h-1.35m0 1h1.35h-1.35m0 0h1.35h-1.35m0 0h1.35h-1.35m0 1h1.35h-1.35m0 0h1.35h-1.35m0 0h1.35h-1.35m0 1h1.35h-1.35m0 0h1.35h-1.35m0 1h1.35h-1.35m0 0h1.35h-1.35m0 1h1.35h-1.35m0 1h1.35h-1.35m0 0h1.35h-1.35m0 1h1.35h-1.35m0 0h1.35h-1.35m0 0h1.35h-1.35m0 1h1.35h-1.35m0 0h1.35h-1.35m0 1h1.35h-1.35m0 1h1.35h-1.35m0 0h1.35h-1.35m0 0h1.35h-1.35m0 0h1.35h-1.35m0 0h1.35h-1.35m0 1h1.35h-1.35m0 1h1.35h-1.35m0 2h1.35h-1.35m0 0h1.35h-1.35m0 1h1.35h-1.35m0 1h1.35h-1.35m0 1h1.35h-1.35m0 0h1.35h-1.35m0 0h1.35h-1.35m0 0h1.35h-1.35m0 1h1.35h-1.35m0 0h1.35h-1.35m0 3h1.35h-1.35m0 0h1.35h-1.35m0 1h1.35h-1.35m0 1h1.35h-1.35m0 2h1.35h-1.35m0 4h1.35h-1.35m0 1h1.35h-1.35m0 8h1.35h-1.35m1-79h1.35h-1.35m0 3h1.35h-1.35m0 1h1.35h-1.35m0 0h1.35h-1.35m0 3h1.35h-1.35m0 0h1.35h-1.35m0 1h1.35h-1.35m0 1h1.35h-1.35m0 0h1.35h-1.35m0 3h1.35h-1.35m0 0h1.35h-1.35m0 1h1.35h-1.35m0 1h1.35h-1.35m0 1h1.35h-1.35m0 1h1.35h-1.35m0 1h1.35h-1.35m0 3h1.35h-1.35m0 1h1.35h-1.35m0 0h1.35h-1.35m0 0h1.35h-1.35m0 1h1.35h-1.35m0 1h1.35h-1.35m0 1h1.35h-1.35m0 1h1.35h-1.35m0 0h1.35h-1.35m0 0h1.35h-1.35m0 1h1.35h-1.35m0 0h1.35h-1.35m0 1h1.35h-1.35m0 0h1.35h-1.35m0 0h1.35h-1.35m0 1h1.35h-1.35m0 0h1.35h-1.35m0 1h1.35h-1.35m0 1h1.35h-1.35m0 1h1.35h-1.35m0 0h1.35h-1.35m0 0h1.35h-1.35m0 0h1.35h-1.35m0 1h1.35h-1.35m0 0h1.35h-1.35m0 1h1.35h-1.35m0 0h1.35h-1.35m0 1h1.35h-1.35m0 0h1.35h-1.35m0 0h1.35h-1.35m0 0h1.35h-1.35m0 1h1.35h-1.35m0 0h1.35h-1.35m0 0h1.35h-1.35m0 1h1.35h-1.35m0 0h1.35h-1.35m0 0h1.35h-1.35m0 1h1.35h-1.35m0 0h1.35h-1.35m0 0h1.35h-1.35m0 1h1.35h-1.35m0 0h1.35h-1.35m0 1h1.35h-1.35m0 1h1.35h-1.35m0 0h1.35h-1.35m0 1h1.35h-1.35m0 0h1.35h-1.35m0 1h1.35h-1.35m0 0h1.35h-1.35m0 0h1.35h-1.35m0 1h1.35h-1.35m0 0h1.35h-1.35m0 1h1.35h-1.35m0 0h1.35h-1.35m0 1h1.35h-1.35m0 0h1.35h-1.35m0 0h1.35h-1.35m0 0h1.35h-1.35m0 0h1.35h-1.35m0 0h1.35h-1.35m0 0h1.35h-1.35m0 1h1.35h-1.35m0 0h1.35h-1.35m0 1h1.35h-1.35m0 1h1.35h-1.35m0 0h1.35h-1.35m0 0h1.35h-1.35m0 0h1.35h-1.35m0 0h1.35h-1.35m0 1h1.35h-1.35m0 0h1.35h-1.35m0 1h1.35h-1.35m0 0h1.35h-1.35m0 2h1.35h-1.35m0 1h1.35h-1.35m0 0h1.35h-1.35m0 1h1.35h-1.35m0 0h1.35h-1.35m0 0h1.35h-1.35m0 0h1.35h-1.35m0 0h1.35h-1.35m0 1h1.35h-1.35m0 0h1.35h-1.35m0 1h1.35h-1.35m0 1h1.35h-1.35m0 0h1.35h-1.35m0 1h1.35h-1.35m0 4h1.35h-1.35m0 0h1.35h-1.35m0 1h1.35h-1.35m0 8h1.35h-1.35m0 1h1.35h-1.35m0 3h1.35h-1.35m0 2h1.35h-1.35m0 3h1.35h-1.35m1-75h1.35h-1.35m0 0h1.35h-1.35m0 1h1.35h-1.35m0 2h1.35h-1.35m0 4h1.35h-1.35m0 1h1.35h-1.35m0 1h1.35h-1.35m0 1h1.35h-1.35m0 2h1.35h-1.35m0 1h1.35h-1.35m0 1h1.35h-1.35m0 1h1.35h-1.35m0 1h1.35h-1.35m0 0h1.35h-1.35m0 0h1.35h-1.35m0 1h1.35h-1.35m0 1h1.35h-1.35m0 2h1.35h-1.35m0 1h1.35h-1.35m0 0h1.35h-1.35m0 0h1.35h-1.35m0 2h1.35h-1.35m0 0h1.35h-1.35m0 0h1.35h-1.35m0 1h1.35h-1.35m0 0h1.35h-1.35m0 0h1.35h-1.35m0 1h1.35h-1.35m0 0h1.35h-1.35m0 1h1.35h-1.35m0 0h1.35h-1.35m0 1h1.35h-1.35m0 0h1.35h-1.35m0 0h1.35h-1.35m0 2h1.35h-1.35m0 0h1.35h-1.35m0 0h1.35h-1.35m0 2h1.35h-1.35m0 1h1.35h-1.35m0 0h1.35h-1.35m0 0h1.35h-1.35m0 0h1.35h-1.35m0 1h1.35h-1.35m0 0h1.35h-1.35m0 0h1.35h-1.35m0 0h1.35h-1.35m0 2h1.35h-1.35m0 0h1.35h-1.35m0 0h1.35h-1.35m0 0h1.35h-1.35m0 1h1.35h-1.35m0 0h1.35h-1.35m0 0h1.35h-1.35m0 0h1.35h-1.35m0 1h1.35h-1.35m0 0h1.35h-1.35m0 0h1.35h-1.35m0 0h1.35h-1.35m0 1h1.35h-1.35m0 0h1.35h-1.35m0 0h1.35h-1.35m0 0h1.35h-1.35m0 1h1.35h-1.35m0 1h1.35h-1.35m0 0h1.35h-1.35m0 1h1.35h-1.35m0 0h1.35h-1.35m0 1h1.35h-1.35m0 0h1.35h-1.35m0 1h1.35h-1.35m0 0h1.35h-1.35m0 0h1.35h-1.35m0 1h1.35h-1.35m0 0h1.35h-1.35m0 5h1.35h-1.35m0 0h1.35h-1.35m0 0h1.35h-1.35m0 1h1.35h-1.35m0 1h1.35h-1.35m0 0h1.35h-1.35m0 0h1.35h-1.35m0 0h1.35h-1.35m0 0h1.35h-1.35m0 1h1.35h-1.35m0 1h1.35h-1.35m0 0h1.35h-1.35m0 0h1.35h-1.35m0 2h1.35h-1.35m0 0h1.35h-1.35m0 1h1.35h-1.35m0 1h1.35h-1.35m0 2h1.35h-1.35m0 1h1.35h-1.35m0 2h1.35h-1.35m0 1h1.35h-1.35m0 1h1.35h-1.35m0 1h1.35h-1.35m0 0h1.35h-1.35m0 3h1.35h-1.35m1-83h1.35h-1.35m0 3h1.35h-1.35m0 3h1.35h-1.35m0 1h1.35h-1.35m0 6h1.35h-1.35m0 1h1.35h-1.35m0 2h1.35h-1.35m0 1h1.35h-1.35m0 0h1.35h-1.35m0 2h1.35h-1.35m0 2h1.35h-1.35m0 2h1.35h-1.35m0 2h1.35h-1.35m0 2h1.35h-1.35m0 0h1.35h-1.35m0 0h1.35h-1.35m0 1h1.35h-1.35m0 1h1.35h-1.35m0 1h1.35h-1.35m0 0h1.35h-1.35m0 0h1.35h-1.35m0 1h1.35h-1.35m0 2h1.35h-1.35m0 0h1.35h-1.35m0 2h1.35h-1.35m0 0h1.35h-1.35m0 0h1.35h-1.35m0 0h1.35h-1.35m0 0h1.35h-1.35m0 1h1.35h-1.35m0 0h1.35h-1.35m0 0h1.35h-1.35m0 2h1.35h-1.35m0 0h1.35h-1.35m0 2h1.35h-1.35m0 0h1.35h-1.35m0 2h1.35h-1.35m0 0h1.35h-1.35m0 1h1.35h-1.35m0 0h1.35h-1.35m0 0h1.35h-1.35m0 1h1.35h-1.35m0 0h1.35h-1.35m0 1h1.35h-1.35m0 0h1.35h-1.35m0 0h1.35h-1.35m0 0h1.35h-1.35m0 0h1.35h-1.35m0 3h1.35h-1.35m0 0h1.35h-1.35m0 1h1.35h-1.35m0 0h1.35h-1.35m0 0h1.35h-1.35m0 0h1.35h-1.35m0 1h1.35h-1.35m0 0h1.35h-1.35m0 0h1.35h-1.35m0 0h1.35h-1.35m0 1h1.35h-1.35m0 0h1.35h-1.35m0 1h1.35h-1.35m0 0h1.35h-1.35m0 1h1.35h-1.35m0 0h1.35h-1.35m0 1h1.35h-1.35m0 0h1.35h-1.35m0 0h1.35h-1.35m0 1h1.35h-1.35m0 2h1.35h-1.35m0 1h1.35h-1.35m0 0h1.35h-1.35m0 0h1.35h-1.35m0 1h1.35h-1.35m0 0h1.35h-1.35m0 0h1.35h-1.35m0 1h1.35h-1.35m0 2h1.35h-1.35m0 0h1.35h-1.35m0 3h1.35h-1.35m0 2h1.35h-1.35m0 0h1.35h-1.35m0 3h1.35h-1.35m0 0h1.35h-1.35m0 2h1.35h-1.35m0 0h1.35h-1.35m0 3h1.35h-1.35m0 1h1.35h-1.35m0 2h1.35h-1.35m0 1h1.35h-1.35m0 1h1.35h-1.35m0 1h1.35h-1.35m0 4h1.35h-1.35m0 2h1.35h-1.35m1-100h1.35h-1.35m0 19h1.35h-1.35m0 4h1.35h-1.35m0 2h1.35h-1.35m0 3h1.35h-1.35m0 2h1.35h-1.35m0 0h1.35h-1.35m0 1h1.35h-1.35m0 0h1.35h-1.35m0 1h1.35h-1.35m0 2h1.35h-1.35m0 0h1.35h-1.35m0 0h1.35h-1.35m0 1h1.35h-1.35m0 0h1.35h-1.35m0 1h1.35h-1.35m0 0h1.35h-1.35m0 1h1.35h-1.35m0 1h1.35h-1.35m0 2h1.35h-1.35m0 1h1.35h-1.35m0 0h1.35h-1.35m0 1h1.35h-1.35m0 0h1.35h-1.35m0 0h1.35h-1.35m0 0h1.35h-1.35m0 1h1.35h-1.35m0 0h1.35h-1.35m0 0h1.35h-1.35m0 1h1.35h-1.35m0 0h1.35h-1.35m0 0h1.35h-1.35m0 1h1.35h-1.35m0 0h1.35h-1.35m0 1h1.35h-1.35m0 0h1.35h-1.35m0 1h1.35h-1.35m0 1h1.35h-1.35m0 0h1.35h-1.35m0 1h1.35h-1.35m0 0h1.35h-1.35m0 0h1.35h-1.35m0 1h1.35h-1.35m0 0h1.35h-1.35m0 1h1.35h-1.35m0 0h1.35h-1.35m0 0h1.35h-1.35m0 1h1.35h-1.35m0 0h1.35h-1.35m0 1h1.35h-1.35m0 0h1.35h-1.35m0 2h1.35h-1.35m0 0h1.35h-1.35m0 0h1.35h-1.35m0 1h1.35h-1.35m0 0h1.35h-1.35m0 0h1.35h-1.35m0 2h1.35h-1.35m0 0h1.35h-1.35m0 0h1.35h-1.35m0 2h1.35h-1.35m0 0h1.35h-1.35m0 1h1.35h-1.35m0 0h1.35h-1.35m0 0h1.35h-1.35m0 0h1.35h-1.35m0 1h1.35h-1.35m0 0h1.35h-1.35m0 1h1.35h-1.35m0 0h1.35h-1.35m0 0h1.35h-1.35m0 0h1.35h-1.35m0 1h1.35h-1.35m0 3h1.35h-1.35m0 1h1.35h-1.35m0 0h1.35h-1.35m0 0h1.35h-1.35m0 1h1.35h-1.35m0 0h1.35h-1.35m0 1h1.35h-1.35m0 0h1.35h-1.35m0 0h1.35h-1.35m0 2h1.35h-1.35m0 1h1.35h-1.35m0 0h1.35h-1.35m0 0h1.35h-1.35m0 0h1.35h-1.35m0 1h1.35h-1.35m0 0h1.35h-1.35m0 0h1.35h-1.35m0 1h1.35h-1.35m0 0h1.35h-1.35m0 1h1.35h-1.35m0 0h1.35h-1.35m0 0h1.35h-1.35m0 1h1.35h-1.35m0 0h1.35h-1.35m0 0h1.35h-1.35m0 0h1.35h-1.35m0 2h1.35h-1.35m0 0h1.35h-1.35m0 0h1.35h-1.35m0 1h1.35h-1.35m0 0h1.35h-1.35m0 0h1.35h-1.35m0 0h1.35h-1.35m0 3h1.35h-1.35m0 1h1.35h-1.35m0 1h1.35h-1.35m0 0h1.35h-1.35m0 1h1.35h-1.35m0 2h1.35h-1.35m0 2h1.35h-1.35m0 0h1.35h-1.35m0 9h1.35h-1.35m0 1h1.35h-1.35m0 2h1.35h-1.35m0 2h1.35h-1.35m0 1h1.35h-1.35m1-86h1.35h-1.35m0 5h1.35h-1.35m0 2h1.35h-1.35m0 3h1.35h-1.35m0 3h1.35h-1.35m0 0h1.35h-1.35m0 2h1.35h-1.35m0 0h1.35h-1.35m0 1h1.35h-1.35m0 0h1.35h-1.35m0 1h1.35h-1.35m0 0h1.35h-1.35m0 1h1.35h-1.35m0 1h1.35h-1.35m0 1h1.35h-1.35m0 1h1.35h-1.35m0 0h1.35h-1.35m0 1h1.35h-1.35m0 1h1.35h-1.35m0 2h1.35h-1.35m0 0h1.35h-1.35m0 2h1.35h-1.35m0 0h1.35h-1.35m0 0h1.35h-1.35m0 2h1.35h-1.35m0 0h1.35h-1.35m0 0h1.35h-1.35m0 1h1.35h-1.35m0 2h1.35h-1.35m0 0h1.35h-1.35m0 0h1.35h-1.35m0 0h1.35h-1.35m0 0h1.35h-1.35m0 1h1.35h-1.35m0 0h1.35h-1.35m0 0h1.35h-1.35m0 1h1.35h-1.35m0 0h1.35h-1.35m0 0h1.35h-1.35m0 1h1.35h-1.35m0 0h1.35h-1.35m0 1h1.35h-1.35m0 0h1.35h-1.35m0 0h1.35h-1.35m0 1h1.35h-1.35m0 1h1.35h-1.35m0 0h1.35h-1.35m0 0h1.35h-1.35m0 1h1.35h-1.35m0 0h1.35h-1.35m0 0h1.35h-1.35m0 0h1.35h-1.35m0 1h1.35h-1.35m0 0h1.35h-1.35m0 0h1.35h-1.35m0 1h1.35h-1.35m0 2h1.35h-1.35m0 0h1.35h-1.35m0 0h1.35h-1.35m0 1h1.35h-1.35m0 1h1.35h-1.35m0 0h1.35h-1.35m0 1h1.35h-1.35m0 1h1.35h-1.35m0 0h1.35h-1.35m0 1h1.35h-1.35m0 2h1.35h-1.35m0 0h1.35h-1.35m0 0h1.35h-1.35m0 1h1.35h-1.35m0 0h1.35h-1.35m0 0h1.35h-1.35m0 1h1.35h-1.35m0 0h1.35h-1.35m0 0h1.35h-1.35m0 0h1.35h-1.35m0 0h1.35h-1.35m0 1h1.35h-1.35m0 3h1.35h-1.35m0 0h1.35h-1.35m0 0h1.35h-1.35m0 1h1.35h-1.35m0 0h1.35h-1.35m0 1h1.35h-1.35m0 0h1.35h-1.35m0 1h1.35h-1.35m0 0h1.35h-1.35m0 0h1.35h-1.35m0 2h1.35h-1.35m0 0h1.35h-1.35m0 1h1.35h-1.35m0 1h1.35h-1.35m0 1h1.35h-1.35m0 0h1.35h-1.35m0 1h1.35h-1.35m0 0h1.35h-1.35m0 1h1.35h-1.35m0 0h1.35h-1.35m0 2h1.35h-1.35m0 3h1.35h-1.35m0 11h1.35h-1.35m0 9h1.35h-1.35m1-97h1.35h-1.35m0 0h1.35h-1.35m0 13h1.35h-1.35m0 2h1.35h-1.35m0 2h1.35h-1.35m0 3h1.35h-1.35m0 0h1.35h-1.35m0 1h1.35h-1.35m0 2h1.35h-1.35m0 1h1.35h-1.35m0 0h1.35h-1.35m0 1h1.35h-1.35m0 1h1.35h-1.35m0 0h1.35h-1.35m0 2h1.35h-1.35m0 0h1.35h-1.35m0 0h1.35h-1.35m0 0h1.35h-1.35m0 1h1.35h-1.35m0 1h1.35h-1.35m0 0h1.35h-1.35m0 0h1.35h-1.35m0 1h1.35h-1.35m0 1h1.35h-1.35m0 1h1.35h-1.35m0 0h1.35h-1.35m0 1h1.35h-1.35m0 0h1.35h-1.35m0 0h1.35h-1.35m0 1h1.35h-1.35m0 1h1.35h-1.35m0 0h1.35h-1.35m0 1h1.35h-1.35m0 1h1.35h-1.35m0 0h1.35h-1.35m0 0h1.35h-1.35m0 1h1.35h-1.35m0 2h1.35h-1.35m0 1h1.35h-1.35m0 1h1.35h-1.35m0 0h1.35h-1.35m0 0h1.35h-1.35m0 0h1.35h-1.35m0 1h1.35h-1.35m0 0h1.35h-1.35m0 0h1.35h-1.35m0 1h1.35h-1.35m0 0h1.35h-1.35m0 1h1.35h-1.35m0 0h1.35h-1.35m0 1h1.35h-1.35m0 1h1.35h-1.35m0 0h1.35h-1.35m0 1h1.35h-1.35m0 0h1.35h-1.35m0 0h1.35h-1.35m0 1h1.35h-1.35m0 1h1.35h-1.35m0 1h1.35h-1.35m0 0h1.35h-1.35m0 1h1.35h-1.35m0 3h1.35h-1.35m0 1h1.35h-1.35m0 0h1.35h-1.35m0 1h1.35h-1.35m0 0h1.35h-1.35m0 0h1.35h-1.35m0 0h1.35h-1.35m0 3h1.35h-1.35m0 2h1.35h-1.35m0 0h1.35h-1.35m0 0h1.35h-1.35m0 0h1.35h-1.35m0 1h1.35h-1.35m0 0h1.35h-1.35m0 1h1.35h-1.35m0 0h1.35h-1.35m0 1h1.35h-1.35m0 0h1.35h-1.35m0 0h1.35h-1.35m0 0h1.35h-1.35m0 1h1.35h-1.35m0 0h1.35h-1.35m0 0h1.35h-1.35m0 1h1.35h-1.35m0 2h1.35h-1.35m0 1h1.35h-1.35m0 1h1.35h-1.35m0 1h1.35h-1.35m0 1h1.35h-1.35m0 0h1.35h-1.35m0 2h1.35h-1.35m0 1h1.35h-1.35m0 5h1.35h-1.35m0 1h1.35h-1.35m0 4h1.35h-1.35m1-87h1.35h-1.35m0 0h1.35h-1.35m0 0h1.35h-1.35m0 13h1.35h-1.35m0 3h1.35h-1.35m0 2h1.35h-1.35m0 0h1.35h-1.35m0 1h1.35h-1.35m0 0h1.35h-1.35m0 0h1.35h-1.35m0 1h1.35h-1.35m0 0h1.35h-1.35m0 1h1.35h-1.35m0 1h1.35h-1.35m0 1h1.35h-1.35m0 0h1.35h-1.35m0 3h1.35h-1.35m0 1h1.35h-1.35m0 0h1.35h-1.35m0 0h1.35h-1.35m0 2h1.35h-1.35m0 0h1.35h-1.35m0 1h1.35h-1.35m0 0h1.35h-1.35m0 0h1.35h-1.35m0 1h1.35h-1.35m0 0h1.35h-1.35m0 0h1.35h-1.35m0 1h1.35h-1.35m0 1h1.35h-1.35m0 0h1.35h-1.35m0 0h1.35h-1.35m0 0h1.35h-1.35m0 1h1.35h-1.35m0 1h1.35h-1.35m0 0h1.35h-1.35m0 0h1.35h-1.35m0 0h1.35h-1.35m0 1h1.35h-1.35m0 1h1.35h-1.35m0 0h1.35h-1.35m0 1h1.35h-1.35m0 0h1.35h-1.35m0 1h1.35h-1.35m0 0h1.35h-1.35m0 1h1.35h-1.35m0 0h1.35h-1.35m0 1h1.35h-1.35m0 0h1.35h-1.35m0 1h1.35h-1.35m0 1h1.35h-1.35m0 1h1.35h-1.35m0 0h1.35h-1.35m0 3h1.35h-1.35m0 0h1.35h-1.35m0 1h1.35h-1.35m0 0h1.35h-1.35m0 2h1.35h-1.35m0 0h1.35h-1.35m0 2h1.35h-1.35m0 0h1.35h-1.35m0 0h1.35h-1.35m0 0h1.35h-1.35m0 1h1.35h-1.35m0 1h1.35h-1.35m0 0h1.35h-1.35m0 0h1.35h-1.35m0 1h1.35h-1.35m0 0h1.35h-1.35m0 1h1.35h-1.35m0 0h1.35h-1.35m0 0h1.35h-1.35m0 0h1.35h-1.35m0 0h1.35h-1.35m0 0h1.35h-1.35m0 1h1.35h-1.35m0 1h1.35h-1.35m0 0h1.35h-1.35m0 1h1.35h-1.35m0 1h1.35h-1.35m0 0h1.35h-1.35m0 0h1.35h-1.35m0 1h1.35h-1.35m0 0h1.35h-1.35m0 1h1.35h-1.35m0 0h1.35h-1.35m0 0h1.35h-1.35m0 0h1.35h-1.35m0 1h1.35h-1.35m0 1h1.35h-1.35m0 1h1.35h-1.35m0 0h1.35h-1.35m0 3h1.35h-1.35m0 2h1.35h-1.35m0 6h1.35h-1.35m0 1h1.35h-1.35m0 1h1.35h-1.35m0 1h1.35h-1.35m0 0h1.35h-1.35m0 6h1.35h-1.35m0 2h1.35h-1.35m0 13h1.35h-1.35m1-100h1.35h-1.35m0 10h1.35h-1.35m0 0h1.35h-1.35m0 1h1.35h-1.35m0 5h1.35h-1.35m0 0h1.35h-1.35m0 2h1.35h-1.35m0 1h1.35h-1.35m0 2h1.35h-1.35m0 2h1.35h-1.35m0 2h1.35h-1.35m0 0h1.35h-1.35m0 0h1.35h-1.35m0 0h1.35h-1.35m0 1h1.35h-1.35m0 3h1.35h-1.35m0 1h1.35h-1.35m0 1h1.35h-1.35m0 2h1.35h-1.35m0 1h1.35h-1.35m0 0h1.35h-1.35m0 1h1.35h-1.35m0 3h1.35h-1.35m0 0h1.35h-1.35m0 1h1.35h-1.35m0 0h1.35h-1.35m0 0h1.35h-1.35m0 0h1.35h-1.35m0 1h1.35h-1.35m0 1h1.35h-1.35m0 1h1.35h-1.35m0 0h1.35h-1.35m0 1h1.35h-1.35m0 0h1.35h-1.35m0 1h1.35h-1.35m0 1h1.35h-1.35m0 0h1.35h-1.35m0 0h1.35h-1.35m0 0h1.35h-1.35m0 0h1.35h-1.35m0 1h1.35h-1.35m0 0h1.35h-1.35m0 1h1.35h-1.35m0 1h1.35h-1.35m0 1h1.35h-1.35m0 0h1.35h-1.35m0 1h1.35h-1.35m0 0h1.35h-1.35m0 1h1.35h-1.35m0 0h1.35h-1.35m0 0h1.35h-1.35m0 1h1.35h-1.35m0 0h1.35h-1.35m0 0h1.35h-1.35m0 1h1.35h-1.35m0 1h1.35h-1.35m0 0h1.35h-1.35m0 0h1.35h-1.35m0 0h1.35h-1.35m0 1h1.35h-1.35m0 0h1.35h-1.35m0 0h1.35h-1.35m0 1h1.35h-1.35m0 0h1.35h-1.35m0 0h1.35h-1.35m0 1h1.35h-1.35m0 1h1.35h-1.35m0 0h1.35h-1.35m0 1h1.35h-1.35m0 0h1.35h-1.35m0 0h1.35h-1.35m0 1h1.35h-1.35m0 1h1.35h-1.35m0 0h1.35h-1.35m0 1h1.35h-1.35m0 0h1.35h-1.35m0 0h1.35h-1.35m0 1h1.35h-1.35m0 0h1.35h-1.35m0 1h1.35h-1.35m0 0h1.35h-1.35m0 1h1.35h-1.35m0 0h1.35h-1.35m0 1h1.35h-1.35m0 4h1.35h-1.35m0 0h1.35h-1.35m0 0h1.35h-1.35m0 1h1.35h-1.35m0 0h1.35h-1.35m0 1h1.35h-1.35m0 0h1.35h-1.35m0 6h1.35h-1.35m0 1h1.35h-1.35m0 1h1.35h-1.35m0 1h1.35h-1.35m0 7h1.35h-1.35m1-83h1.35h-1.35m0 0h1.35h-1.35m0 4h1.35h-1.35m0 5h1.35h-1.35m0 1h1.35h-1.35m0 0h1.35h-1.35m0 2h1.35h-1.35m0 2h1.35h-1.35m0 0h1.35h-1.35m0 3h1.35h-1.35m0 0h1.35h-1.35m0 2h1.35h-1.35m0 1h1.35h-1.35m0 1h1.35h-1.35m0 0h1.35h-1.35m0 2h1.35h-1.35m0 1h1.35h-1.35m0 1h1.35h-1.35m0 0h1.35h-1.35m0 2h1.35h-1.35m0 0h1.35h-1.35m0 0h1.35h-1.35m0 1h1.35h-1.35m0 1h1.35h-1.35m0 0h1.35h-1.35m0 1h1.35h-1.35m0 1h1.35h-1.35m0 0h1.35h-1.35m0 1h1.35h-1.35m0 0h1.35h-1.35m0 0h1.35h-1.35m0 2h1.35h-1.35m0 2h1.35h-1.35m0 0h1.35h-1.35m0 1h1.35h-1.35m0 1h1.35h-1.35m0 0h1.35h-1.35m0 0h1.35h-1.35m0 1h1.35h-1.35m0 0h1.35h-1.35m0 0h1.35h-1.35m0 0h1.35h-1.35m0 1h1.35h-1.35m0 0h1.35h-1.35m0 0h1.35h-1.35m0 0h1.35h-1.35m0 2h1.35h-1.35m0 0h1.35h-1.35m0 0h1.35h-1.35m0 1h1.35h-1.35m0 1h1.35h-1.35m0 0h1.35h-1.35m0 0h1.35h-1.35m0 1h1.35h-1.35m0 0h1.35h-1.35m0 2h1.35h-1.35m0 0h1.35h-1.35m0 0h1.35h-1.35m0 1h1.35h-1.35m0 0h1.35h-1.35m0 0h1.35h-1.35m0 2h1.35h-1.35m0 1h1.35h-1.35m0 0h1.35h-1.35m0 0h1.35h-1.35m0 1h1.35h-1.35m0 0h1.35h-1.35m0 0h1.35h-1.35m0 0h1.35h-1.35m0 0h1.35h-1.35m0 1h1.35h-1.35m0 0h1.35h-1.35m0 0h1.35h-1.35m0 1h1.35h-1.35m0 2h1.35h-1.35m0 0h1.35h-1.35m0 0h1.35h-1.35m0 1h1.35h-1.35m0 0h1.35h-1.35m0 1h1.35h-1.35m0 1h1.35h-1.35m0 0h1.35h-1.35m0 2h1.35h-1.35m0 0h1.35h-1.35m0 1h1.35h-1.35m0 1h1.35h-1.35m0 1h1.35h-1.35m0 0h1.35h-1.35m0 3h1.35h-1.35m0 0h1.35h-1.35m0 2h1.35h-1.35m0 1h1.35h-1.35m0 1h1.35h-1.35m0 2h1.35h-1.35m0 1h1.35h-1.35m0 3h1.35h-1.35m0 6h1.35h-1.35m1-95h1.35h-1.35m0 4h1.35h-1.35m0 1h1.35h-1.35m0 3h1.35h-1.35m0 3h1.35h-1.35m0 1h1.35h-1.35m0 11h1.35h-1.35m0 1h1.35h-1.35m0 1h1.35h-1.35m0 0h1.35h-1.35m0 1h1.35h-1.35m0 1h1.35h-1.35m0 7h1.35h-1.35m0 0h1.35h-1.35m0 6h1.35h-1.35m0 0h1.35h-1.35m0 1h1.35h-1.35m0 2h1.35h-1.35m0 1h1.35h-1.35m0 0h1.35h-1.35m0 0h1.35h-1.35m0 1h1.35h-1.35m0 2h1.35h-1.35m0 0h1.35h-1.35m0 1h1.35h-1.35m0 1h1.35h-1.35m0 0h1.35h-1.35m0 1h1.35h-1.35m0 0h1.35h-1.35m0 1h1.35h-1.35m0 0h1.35h-1.35m0 0h1.35h-1.35m0 0h1.35h-1.35m0 1h1.35h-1.35m0 0h1.35h-1.35m0 0h1.35h-1.35m0 0h1.35h-1.35m0 1h1.35h-1.35m0 0h1.35h-1.35m0 0h1.35h-1.35m0 0h1.35h-1.35m0 1h1.35h-1.35m0 0h1.35h-1.35m0 1h1.35h-1.35m0 1h1.35h-1.35m0 0h1.35h-1.35m0 0h1.35h-1.35m0 0h1.35h-1.35m0 2h1.35h-1.35m0 0h1.35h-1.35m0 0h1.35h-1.35m0 2h1.35h-1.35m0 0h1.35h-1.35m0 0h1.35h-1.35m0 0h1.35h-1.35m0 1h1.35h-1.35m0 0h1.35h-1.35m0 1h1.35h-1.35m0 1h1.35h-1.35m0 1h1.35h-1.35m0 1h1.35h-1.35m0 2h1.35h-1.35m0 1h1.35h-1.35m0 2h1.35h-1.35m0 1h1.35h-1.35m0 0h1.35h-1.35m0 1h1.35h-1.35m0 3h1.35h-1.35m0 1h1.35h-1.35m0 2h1.35h-1.35m0 0h1.35h-1.35m0 0h1.35h-1.35m0 4h1.35h-1.35m0 0h1.35h-1.35m0 2h1.35h-1.35m0 1h1.35h-1.35m0 2h1.35h-1.35m0 0h1.35h-1.35m0 5h1.35h-1.35m0 1h1.35h-1.35m1-78h1.35h-1.35m0 6h1.35h-1.35m0 1h1.35h-1.35m0 2h1.35h-1.35m0 0h1.35h-1.35m0 3h1.35h-1.35m0 0h1.35h-1.35m0 0h1.35h-1.35m0 3h1.35h-1.35m0 1h1.35h-1.35m0 0h1.35h-1.35m0 1h1.35h-1.35m0 0h1.35h-1.35m0 1h1.35h-1.35m0 0h1.35h-1.35m0 1h1.35h-1.35m0 0h1.35h-1.35m0 1h1.35h-1.35m0 1h1.35h-1.35m0 0h1.35h-1.35m0 0h1.35h-1.35m0 1h1.35h-1.35m0 1h1.35h-1.35m0 0h1.35h-1.35m0 0h1.35h-1.35m0 1h1.35h-1.35m0 2h1.35h-1.35m0 1h1.35h-1.35m0 1h1.35h-1.35m0 0h1.35h-1.35m0 0h1.35h-1.35m0 0h1.35h-1.35m0 2h1.35h-1.35m0 0h1.35h-1.35m0 0h1.35h-1.35m0 0h1.35h-1.35m0 2h1.35h-1.35m0 0h1.35h-1.35m0 0h1.35h-1.35m0 1h1.35h-1.35m0 0h1.35h-1.35m0 0h1.35h-1.35m0 1h1.35h-1.35m0 0h1.35h-1.35m0 1h1.35h-1.35m0 0h1.35h-1.35m0 0h1.35h-1.35m0 1h1.35h-1.35m0 1h1.35h-1.35m0 2h1.35h-1.35m0 1h1.35h-1.35m0 1h1.35h-1.35m0 0h1.35h-1.35m0 0h1.35h-1.35m0 1h1.35h-1.35m0 1h1.35h-1.35m0 1h1.35h-1.35m0 1h1.35h-1.35m0 2h1.35h-1.35m0 1h1.35h-1.35m0 0h1.35h-1.35m0 3h1.35h-1.35m0 0h1.35h-1.35m0 1h1.35h-1.35m0 1h1.35h-1.35m0 0h1.35h-1.35m0 0h1.35h-1.35m0 0h1.35h-1.35m0 1h1.35h-1.35m0 0h1.35h-1.35m0 1h1.35h-1.35m0 3h1.35h-1.35m0 5h1.35h-1.35m0 0h1.35h-1.35m0 1h1.35h-1.35m0 3h1.35h-1.35m0 5h1.35h-1.35m0 9h1.35h-1.35m1-81h1.35h-1.35m0 5h1.35h-1.35m0 6h1.35h-1.35m0 2h1.35h-1.35m0 4h1.35h-1.35m0 2h1.35h-1.35m0 2h1.35h-1.35m0 0h1.35h-1.35m0 0h1.35h-1.35m0 1h1.35h-1.35m0 1h1.35h-1.35m0 1h1.35h-1.35m0 0h1.35h-1.35m0 1h1.35h-1.35m0 1h1.35h-1.35m0 1h1.35h-1.35m0 1h1.35h-1.35m0 1h1.35h-1.35m0 0h1.35h-1.35m0 1h1.35h-1.35m0 0h1.35h-1.35m0 0h1.35h-1.35m0 1h1.35h-1.35m0 1h1.35h-1.35m0 0h1.35h-1.35m0 0h1.35h-1.35m0 0h1.35h-1.35m0 1h1.35h-1.35m0 0h1.35h-1.35m0 0h1.35h-1.35m0 1h1.35h-1.35m0 0h1.35h-1.35m0 1h1.35h-1.35m0 0h1.35h-1.35m0 0h1.35h-1.35m0 1h1.35h-1.35m0 1h1.35h-1.35m0 0h1.35h-1.35m0 1h1.35h-1.35m0 0h1.35h-1.35m0 0h1.35h-1.35m0 1h1.35h-1.35m0 0h1.35h-1.35m0 2h1.35h-1.35m0 2h1.35h-1.35m0 1h1.35h-1.35m0 1h1.35h-1.35m0 2h1.35h-1.35m0 0h1.35h-1.35m0 1h1.35h-1.35m0 0h1.35h-1.35m0 0h1.35h-1.35m0 1h1.35h-1.35m0 0h1.35h-1.35m0 4h1.35h-1.35m0 2h1.35h-1.35m0 0h1.35h-1.35m0 3h1.35h-1.35m0 3h1.35h-1.35m0 5h1.35h-1.35m0 4h1.35h-1.35m0 2h1.35h-1.35m1-73h1.35h-1.35m0 10h1.35h-1.35m0 2h1.35h-1.35m0 6h1.35h-1.35m0 0h1.35h-1.35m0 1h1.35h-1.35m0 0h1.35h-1.35m0 1h1.35h-1.35m0 1h1.35h-1.35m0 3h1.35h-1.35m0 0h1.35h-1.35m0 2h1.35h-1.35m0 1h1.35h-1.35m0 0h1.35h-1.35m0 1h1.35h-1.35m0 0h1.35h-1.35m0 2h1.35h-1.35m0 1h1.35h-1.35m0 0h1.35h-1.35m0 1h1.35h-1.35m0 3h1.35h-1.35m0 1h1.35h-1.35m0 0h1.35h-1.35m0 1h1.35h-1.35m0 0h1.35h-1.35m0 0h1.35h-1.35m0 0h1.35h-1.35m0 1h1.35h-1.35m0 1h1.35h-1.35m0 0h1.35h-1.35m0 0h1.35h-1.35m0 1h1.35h-1.35m0 1h1.35h-1.35m0 1h1.35h-1.35m0 1h1.35h-1.35m0 1h1.35h-1.35m0 0h1.35h-1.35m0 1h1.35h-1.35m0 1h1.35h-1.35m0 1h1.35h-1.35m0 2h1.35h-1.35m0 0h1.35h-1.35m0 0h1.35h-1.35m0 0h1.35h-1.35m0 0h1.35h-1.35m0 2h1.35h-1.35m0 1h1.35h-1.35m0 2h1.35h-1.35m0 0h1.35h-1.35m0 1h1.35h-1.35m0 0h1.35h-1.35m0 1h1.35h-1.35m0 1h1.35h-1.35m0 2h1.35h-1.35m0 4h1.35h-1.35m0 3h1.35h-1.35m0 5h1.35h-1.35m0 0h1.35h-1.35m0 6h1.35h-1.35m0 13h1.35h-1.35m1-97h1.35h-1.35m0 6h1.35h-1.35m0 5h1.35h-1.35m0 7h1.35h-1.35m0 1h1.35h-1.35m0 4h1.35h-1.35m0 1h1.35h-1.35m0 0h1.35h-1.35m0 0h1.35h-1.35m0 1h1.35h-1.35m0 1h1.35h-1.35m0 3h1.35h-1.35m0 2h1.35h-1.35m0 4h1.35h-1.35m0 0h1.35h-1.35m0 1h1.35h-1.35m0 4h1.35h-1.35m0 0h1.35h-1.35m0 0h1.35h-1.35m0 1h1.35h-1.35m0 1h1.35h-1.35m0 1h1.35h-1.35m0 1h1.35h-1.35m0 1h1.35h-1.35m0 1h1.35h-1.35m0 0h1.35h-1.35m0 0h1.35h-1.35m0 0h1.35h-1.35m0 2h1.35h-1.35m0 0h1.35h-1.35m0 1h1.35h-1.35m0 0h1.35h-1.35m0 1h1.35h-1.35m0 1h1.35h-1.35m0 1h1.35h-1.35m0 0h1.35h-1.35m0 1h1.35h-1.35m0 0h1.35h-1.35m0 1h1.35h-1.35m0 0h1.35h-1.35m0 0h1.35h-1.35m0 0h1.35h-1.35m0 2h1.35h-1.35m0 6h1.35h-1.35m0 0h1.35h-1.35m0 1h1.35h-1.35m0 1h1.35h-1.35m0 1h1.35h-1.35m0 0h1.35h-1.35m0 0h1.35h-1.35m0 5h1.35h-1.35m0 0h1.35h-1.35m0 1h1.35h-1.35m0 1h1.35h-1.35m0 0h1.35h-1.35m0 0h1.35h-1.35m0 1h1.35h-1.35m0 3h1.35h-1.35m0 10h1.35h-1.35m1-75h1.35h-1.35m0 7h1.35h-1.35m0 4h1.35h-1.35m0 1h1.35h-1.35m0 6h1.35h-1.35m0 4h1.35h-1.35m0 1h1.35h-1.35m0 0h1.35h-1.35m0 3h1.35h-1.35m0 1h1.35h-1.35m0 0h1.35h-1.35m0 2h1.35h-1.35m0 1h1.35h-1.35m0 1h1.35h-1.35m0 2h1.35h-1.35m0 2h1.35h-1.35m0 0h1.35h-1.35m0 0h1.35h-1.35m0 2h1.35h-1.35m0 0h1.35h-1.35m0 2h1.35h-1.35m0 2h1.35h-1.35m0 0h1.35h-1.35m0 1h1.35h-1.35m0 1h1.35h-1.35m0 1h1.35h-1.35m0 1h1.35h-1.35m0 0h1.35h-1.35m0 3h1.35h-1.35m0 4h1.35h-1.35m0 1h1.35h-1.35m0 0h1.35h-1.35m0 1h1.35h-1.35m0 4h1.35h-1.35m1-75h1.35h-1.35m0 21h1.35h-1.35m0 2h1.35h-1.35m0 5h1.35h-1.35m0 1h1.35h-1.35m0 1h1.35h-1.35m0 4h1.35h-1.35m0 0h1.35h-1.35m0 0h1.35h-1.35m0 1h1.35h-1.35m0 1h1.35h-1.35m0 4h1.35h-1.35m0 1h1.35h-1.35m0 2h1.35h-1.35m0 1h1.35h-1.35m0 2h1.35h-1.35m0 1h1.35h-1.35m0 1h1.35h-1.35m0 1h1.35h-1.35m0 1h1.35h-1.35m0 0h1.35h-1.35m0 2h1.35h-1.35m0 1h1.35h-1.35m0 2h1.35h-1.35m0 0h1.35h-1.35m0 0h1.35h-1.35m0 2h1.35h-1.35m0 0h1.35h-1.35m0 1h1.35h-1.35m0 1h1.35h-1.35m0 3h1.35h-1.35m0 1h1.35h-1.35m0 1h1.35h-1.35m0 1h1.35h-1.35m0 2h1.35h-1.35m0 0h1.35h-1.35m0 1h1.35h-1.35m0 2h1.35h-1.35m0 8h1.35h-1.35m0 5h1.35h-1.35m0 4h1.35h-1.35m0 0h1.35h-1.35m0 0h1.35h-1.35m0 18h1.35h-1.35m1-112h1.35h-1.35m0 20h1.35h-1.35m0 2h1.35h-1.35m0 1h1.35h-1.35m0 1h1.35h-1.35m0 9h1.35h-1.35m0 5h1.35h-1.35m0 1h1.35h-1.35m0 4h1.35h-1.35m0 2h1.35h-1.35m0 0h1.35h-1.35m0 2h1.35h-1.35m0 4h1.35h-1.35m0 1h1.35h-1.35m0 1h1.35h-1.35m0 2h1.35h-1.35m0 0h1.35h-1.35m0 1h1.35h-1.35m0 0h1.35h-1.35m0 1h1.35h-1.35m0 1h1.35h-1.35m0 2h1.35h-1.35m0 4h1.35h-1.35m0 1h1.35h-1.35m0 2h1.35h-1.35m0 1h1.35h-1.35m0 0h1.35h-1.35m0 1h1.35h-1.35m0 2h1.35h-1.35m0 1h1.35h-1.35m0 5h1.35h-1.35m0 2h1.35h-1.35m0 4h1.35h-1.35m0 14h1.35h-1.35m0 2h1.35h-1.35m1-70h1.35h-1.35m0 1h1.35h-1.35m0 0h1.35h-1.35m0 2h1.35h-1.35m0 1h1.35h-1.35m0 5h1.35h-1.35m0 4h1.35h-1.35m0 1h1.35h-1.35m0 1h1.35h-1.35m0 1h1.35h-1.35m0 1h1.35h-1.35m0 1h1.35h-1.35m0 0h1.35h-1.35m0 1h1.35h-1.35m0 1h1.35h-1.35m0 0h1.35h-1.35m0 2h1.35h-1.35m0 2h1.35h-1.35m0 0h1.35h-1.35m0 8h1.35h-1.35m0 1h1.35h-1.35m0 1h1.35h-1.35m0 1h1.35h-1.35m0 1h1.35h-1.35m0 0h1.35h-1.35m0 1h1.35h-1.35m0 1h1.35h-1.35m0 0h1.35h-1.35m0 1h1.35h-1.35m0 3h1.35h-1.35m0 1h1.35h-1.35m0 0h1.35h-1.35m0 4h1.35h-1.35m0 0h1.35h-1.35m0 2h1.35h-1.35m0 0h1.35h-1.35m0 8h1.35h-1.35m0 2h1.35h-1.35m0 3h1.35h-1.35m0 7h1.35h-1.35m1-71h1.35h-1.35m0 11h1.35h-1.35m0 0h1.35h-1.35m0 4h1.35h-1.35m0 1h1.35h-1.35m0 1h1.35h-1.35m0 1h1.35h-1.35m0 2h1.35h-1.35m0 2h1.35h-1.35m0 5h1.35h-1.35m0 2h1.35h-1.35m0 1h1.35h-1.35m0 0h1.35h-1.35m0 0h1.35h-1.35m0 1h1.35h-1.35m0 2h1.35h-1.35m0 1h1.35h-1.35m0 6h1.35h-1.35m0 4h1.35h-1.35m0 1h1.35h-1.35m0 0h1.35h-1.35m0 1h1.35h-1.35m0 1h1.35h-1.35m0 0h1.35h-1.35m0 1h1.35h-1.35m0 6h1.35h-1.35m0 1h1.35h-1.35m0 2h1.35h-1.35m0 6h1.35h-1.35m0 3h1.35h-1.35m0 14h1.35h-1.35m1-73h1.35h-1.35m0 2h1.35h-1.35m0 0h1.35h-1.35m0 2h1.35h-1.35m0 6h1.35h-1.35m0 3h1.35h-1.35m0 5h1.35h-1.35m0 2h1.35h-1.35m0 1h1.35h-1.35m0 1h1.35h-1.35m0 2h1.35h-1.35m0 1h1.35h-1.35m0 3h1.35h-1.35m0 3h1.35h-1.35m0 2h1.35h-1.35m0 3h1.35h-1.35m0 3h1.35h-1.35m0 1h1.35h-1.35m0 1h1.35h-1.35m0 2h1.35h-1.35m0 10h1.35h-1.35m1-46h1.35h-1.35m0 4h1.35h-1.35m0 2h1.35h-1.35m0 10h1.35h-1.35m0 4h1.35h-1.35m0 1h1.35h-1.35m0 0h1.35h-1.35m0 1h1.35h-1.35m0 1h1.35h-1.35m0 2h1.35h-1.35m0 2h1.35h-1.35m0 5h1.35h-1.35m0 5h1.35h-1.35m0 1h1.35h-1.35m0 5h1.35h-1.35m0 1h1.35h-1.35m0 21h1.35h-1.35m1-95h1.35h-1.35m0 14h1.35h-1.35m0 11h1.35h-1.35m0 2h1.35h-1.35m0 6h1.35h-1.35m0 2h1.35h-1.35m0 0h1.35h-1.35m0 2h1.35h-1.35m0 7h1.35h-1.35m0 8h1.35h-1.35m0 1h1.35h-1.35m0 1h1.35h-1.35m0 1h1.35h-1.35m0 4h1.35h-1.35m0 3h1.35h-1.35m0 2h1.35h-1.35m0 0h1.35h-1.35m0 29h1.35h-1.35m0 1h1.35h-1.35m1-85h1.35h-1.35m0 3h1.35h-1.35m0 1h1.35h-1.35m0 2h1.35h-1.35m0 10h1.35h-1.35m0 7h1.35h-1.35m0 1h1.35h-1.35m0 2h1.35h-1.35m0 0h1.35h-1.35m0 1h1.35h-1.35m0 1h1.35h-1.35m0 1h1.35h-1.35m0 1h1.35h-1.35m0 1h1.35h-1.35m0 8h1.35h-1.35m0 2h1.35h-1.35m0 4h1.35h-1.35m0 1h1.35h-1.35m0 2h1.35h-1.35m0 7h1.35h-1.35m1-39h1.35h-1.35m0 10h1.35h-1.35m0 2h1.35h-1.35m0 4h1.35h-1.35m0 8h1.35h-1.35m0 6h1.35h-1.35m0 3h1.35h-1.35m1-42h1.35h-1.35m0 13h1.35h-1.35m0 9h1.35h-1.35m0 7h1.35h-1.35m0 0h1.35h-1.35m0 6h1.35h-1.35m0 0h1.35h-1.35m0 3h1.35h-1.35m1-16h1.35h-1.35m0 0h1.35h-1.35m0 1h1.35h-1.35m0 6h1.35h-1.35m0 6h1.35h-1.35m0 3h1.35h-1.35m0 4h1.35h-1.35m0 3h1.35h-1.35m0 12h1.35h-1.35m1-42h1.35h-1.35m0 1h1.35h-1.35m0 4h1.35h-1.35m0 9h1.35h-1.35m0 15h1.35h-1.35m0 10h1.35h-1.35m0 4h1.35h-1.35m1-41h1.35h-1.35m0 2h1.35h-1.35m0 16h1.35h-1.35m0 3h1.35h-1.35m0 11h1.35h-1.35m1-17h1.35h-1.35m0 1h1.35h-1.35m0 5h1.35h-1.35m0 17h1.35h-1.35m0 7h1.35h-1.35m1-30h1.35h-1.35m0 54h1.35h-1.35m1-56h1.35h-1.35m0 19h1.35h-1.35m1 5h1.35h-1.35m1-33h1.35h-1.35" stroke="#FA1E20" stroke-width="1.35" fill="none" transform="translate(0 .5)"/><path d="M2803 315h1.35h-1.35m3-6h1.35h-1.35m0 0h1.35h-1.35m0 25h1.35h-1.35m1 6h1.35h-1.35m1-35h1.35h-1.35m0 16h1.35h-1.35m0 12h1.35h-1.35m1-31h1.35h-1.35m0 1h1.35h-1.35m0 19h1.35h-1.35m0 7h1.35h-1.35m0 3h1.35h-1.35m1-13h1.35h-1.35m0 1h1.35h-1.35m0 6h1.35h-1.35m0 6h1.35h-1.35m0 2h1.35h-1.35m0 5h1.35h-1.35m0 3h1.35h-1.35m0 1h1.35h-1.35m1-34h1.35h-1.35m0 5h1.35h-1.35m0 5h1.35h-1.35m0 1h1.35h-1.35m0 1h1.35h-1.35m0 3h1.35h-1.35m0 0h1.35h-1.35m0 2h1.35h-1.35m0 1h1.35h-1.35m0 13h1.35h-1.35m0 2h1.35h-1.35m0 8h1.35h-1.35m1-43h1.35h-1.35m0 3h1.35h-1.35m0 4h1.35h-1.35m0 4h1.35h-1.35m0 2h1.35h-1.35m0 3h1.35h-1.35m0 2h1.35h-1.35m0 5h1.35h-1.35m0 7h1.35h-1.35m1-35h1.35h-1.35m0 2h1.35h-1.35m0 4h1.35h-1.35m0 11h1.35h-1.35m0 1h1.35h-1.35m0 0h1.35h-1.35m0 11h1.35h-1.35m0 0h1.35h-1.35m0 1h1.35h-1.35m0 6h1.35h-1.35m1-31h1.35h-1.35m0 1h1.35h-1.35m0 0h1.35h-1.35m0 0h1.35h-1.35m0 3h1.35h-1.35m0 1h1.35h-1.35m0 3h1.35h-1.35m0 0h1.35h-1.35m0 1h1.35h-1.35m0 0h1.35h-1.35m0 1h1.35h-1.35m0 2h1.35h-1.35m0 1h1.35h-1.35m0 2h1.35h-1.35m0 0h1.35h-1.35m0 1h1.35h-1.35m0 3h1.35h-1.35m0 1h1.35h-1.35m0 3h1.35h-1.35m0 7h1.35h-1.35m1-39h1.35h-1.35m0 0h1.35h-1.35m0 6h1.35h-1.35m0 2h1.35h-1.35m0 4h1.35h-1.35m0 2h1.35h-1.35m0 1h1.35h-1.35m0 0h1.35h-1.35m0 4h1.35h-1.35m0 2h1.35h-1.35m0 1h1.35h-1.35m0 1h1.35h-1.35m0 3h1.35h-1.35m0 1h1.35h-1.35m0 0h1.35h-1.35m0 1h1.35h-1.35m0 0h1.35h-1.35m0 0h1.35h-1.35m0 2h1.35h-1.35m0 2h1.35h-1.35m0 1h1.35h-1.35m0 1h1.35h-1.35m0 0h1.35h-1.35m0 0h1.35h-1.35m0 1h1.35h-1.35m1-43h1.35h-1.35m0 6h1.35h-1.35m0 3h1.35h-1.35m0 3h1.35h-1.35m0 0h1.35h-1.35m0 1h1.35h-1.35m0 1h1.35h-1.35m0 2h1.35h-1.35m0 1h1.35h-1.35m0 1h1.35h-1.35m0 1h1.35h-1.35m0 3h1.35h-1.35m0 4h1.35h-1.35m0 4h1.35h-1.35m0 0h1.35h-1.35m0 0h1.35h-1.35m0 1h1.35h-1.35m0 0h1.35h-1.35m0 1h1.35h-1.35m0 2h1.35h-1.35m0 6h1.35h-1.35m0 0h1.35h-1.35m0 2h1.35h-1.35m0 4h1.35h-1.35m0 3h1.35h-1.35m0 1h1.35h-1.35m0 0h1.35h-1.35m0 3h1.35h-1.35m1-50h1.35h-1.35m0 3h1.35h-1.35m0 3h1.35h-1.35m0 7h1.35h-1.35m0 1h1.35h-1.35m0 4h1.35h-1.35m0 1h1.35h-1.35m0 1h1.35h-1.35m0 0h1.35h-1.35m0 1h1.35h-1.35m0 1h1.35h-1.35m0 0h1.35h-1.35m0 0h1.35h-1.35m0 2h1.35h-1.35m0 1h1.35h-1.35m0 1h1.35h-1.35m0 1h1.35h-1.35m0 0h1.35h-1.35m0 1h1.35h-1.35m0 2h1.35h-1.35m0 0h1.35h-1.35m0 0h1.35h-1.35m0 1h1.35h-1.35m0 3h1.35h-1.35m0 0h1.35h-1.35m0 1h1.35h-1.35m0 0h1.35h-1.35m0 2h1.35h-1.35m0 1h1.35h-1.35m0 9h1.35h-1.35m0 2h1.35h-1.35m0 4h1.35h-1.35m1-49h1.35h-1.35m0 0h1.35h-1.35m0 4h1.35h-1.35m0 6h1.35h-1.35m0 2h1.35h-1.35m0 1h1.35h-1.35m0 2h1.35h-1.35m0 1h1.35h-1.35m0 0h1.35h-1.35m0 0h1.35h-1.35m0 1h1.35h-1.35m0 0h1.35h-1.35m0 4h1.35h-1.35m0 1h1.35h-1.35m0 1h1.35h-1.35m0 1h1.35h-1.35m0 1h1.35h-1.35m0 1h1.35h-1.35m0 0h1.35h-1.35m0 1h1.35h-1.35m0 2h1.35h-1.35m0 2h1.35h-1.35m0 1h1.35h-1.35m0 0h1.35h-1.35m0 1h1.35h-1.35m0 8h1.35h-1.35m1-35h1.35h-1.35m0 7h1.35h-1.35m0 0h1.35h-1.35m0 4h1.35h-1.35m0 1h1.35h-1.35m0 0h1.35h-1.35m0 0h1.35h-1.35m0 3h1.35h-1.35m0 0h1.35h-1.35m0 1h1.35h-1.35m0 0h1.35h-1.35m0 1h1.35h-1.35m0 1h1.35h-1.35m0 1h1.35h-1.35m0 1h1.35h-1.35m0 1h1.35h-1.35m0 8h1.35h-1.35m0 2h1.35h-1.35m0 2h1.35h-1.35m0 5h1.35h-1.35m0 3h1.35h-1.35m0 4h1.35h-1.35m1-54h1.35h-1.35m0 4h1.35h-1.35m0 1h1.35h-1.35m0 3h1.35h-1.35m0 1h1.35h-1.35m0 0h1.35h-1.35m0 2h1.35h-1.35m0 0h1.35h-1.35m0 2h1.35h-1.35m0 0h1.35h-1.35m0 2h1.35h-1.35m0 0h1.35h-1.35m0 1h1.35h-1.35m0 0h1.35h-1.35m0 1h1.35h-1.35m0 1h1.35h-1.35m0 1h1.35h-1.35m0 1h1.35h-1.35m0 2h1.35h-1.35m0 1h1.35h-1.35m0 1h1.35h-1.35m0 0h1.35h-1.35m0 2h1.35h-1.35m0 1h1.35h-1.35m0 1h1.35h-1.35m0 0h1.35h-1.35m0 1h1.35h-1.35m0 0h1.35h-1.35m0 2h1.35h-1.35m0 1h1.35h-1.35m0 2h1.35h-1.35m0 0h1.35h-1.35m0 0h1.35h-1.35m0 5h1.35h-1.35m0 0h1.35h-1.35m0 1h1.35h-1.35m0 1h1.35h-1.35m0 0h1.35h-1.35m0 1h1.35h-1.35m0 1h1.35h-1.35m0 1h1.35h-1.35m0 1h1.35h-1.35m1-40h1.35h-1.35m0 3h1.35h-1.35m0 1h1.35h-1.35m0 1h1.35h-1.35m0 3h1.35h-1.35m0 1h1.35h-1.35m0 1h1.35h-1.35m0 0h1.35h-1.35m0 2h1.35h-1.35m0 0h1.35h-1.35m0 0h1.35h-1.35m0 2h1.35h-1.35m0 1h1.35h-1.35m0 0h1.35h-1.35m0 1h1.35h-1.35m0 0h1.35h-1.35m0 1h1.35h-1.35m0 0h1.35h-1.35m0 0h1.35h-1.35m0 1h1.35h-1.35m0 0h1.35h-1.35m0 0h1.35h-1.35m0 0h1.35h-1.35m0 1h1.35h-1.35m0 0h1.35h-1.35m0 0h1.35h-1.35m0 1h1.35h-1.35m0 0h1.35h-1.35m0 0h1.35h-1.35m0 1h1.35h-1.35m0 1h1.35h-1.35m0 0h1.35h-1.35m0 1h1.35h-1.35m0 0h1.35h-1.35m0 1h1.35h-1.35m0 0h1.35h-1.35m0 0h1.35h-1.35m0 1h1.35h-1.35m0 0h1.35h-1.35m0 1h1.35h-1.35m0 1h1.35h-1.35m0 1h1.35h-1.35m0 1h1.35h-1.35m0 0h1.35h-1.35m0 1h1.35h-1.35m0 0h1.35h-1.35m0 0h1.35h-1.35m0 1h1.35h-1.35m0 1h1.35h-1.35m0 2h1.35h-1.35m0 1h1.35h-1.35m0 1h1.35h-1.35m0 0h1.35h-1.35m0 0h1.35h-1.35m0 1h1.35h-1.35m0 6h1.35h-1.35m1-46h1.35h-1.35m0 6h1.35h-1.35m0 2h1.35h-1.35m0 1h1.35h-1.35m0 0h1.35h-1.35m0 2h1.35h-1.35m0 2h1.35h-1.35m0 2h1.35h-1.35m0 1h1.35h-1.35m0 0h1.35h-1.35m0 2h1.35h-1.35m0 0h1.35h-1.35m0 1h1.35h-1.35m0 0h1.35h-1.35m0 1h1.35h-1.35m0 0h1.35h-1.35m0 1h1.35h-1.35m0 1h1.35h-1.35m0 1h1.35h-1.35m0 0h1.35h-1.35m0 1h1.35h-1.35m0 0h1.35h-1.35m0 1h1.35h-1.35m0 0h1.35h-1.35m0 1h1.35h-1.35m0 0h1.35h-1.35m0 0h1.35h-1.35m0 1h1.35h-1.35m0 0h1.35h-1.35m0 0h1.35h-1.35m0 1h1.35h-1.35m0 2h1.35h-1.35m0 0h1.35h-1.35m0 1h1.35h-1.35m0 1h1.35h-1.35m0 0h1.35h-1.35m0 2h1.35h-1.35m0 1h1.35h-1.35m0 1h1.35h-1.35m0 0h1.35h-1.35m0 1h1.35h-1.35m0 0h1.35h-1.35m0 2h1.35h-1.35m0 1h1.35h-1.35m0 0h1.35h-1.35m0 1h1.35h-1.35m0 0h1.35h-1.35m0 1h1.35h-1.35m0 9h1.35h-1.35m1-52h1.35h-1.35m0 6h1.35h-1.35m0 1h1.35h-1.35m0 1h1.35h-1.35m0 1h1.35h-1.35m0 1h1.35h-1.35m0 2h1.35h-1.35m0 1h1.35h-1.35m0 0h1.35h-1.35m0 1h1.35h-1.35m0 1h1.35h-1.35m0 1h1.35h-1.35m0 0h1.35h-1.35m0 0h1.35h-1.35m0 0h1.35h-1.35m0 3h1.35h-1.35m0 0h1.35h-1.35m0 1h1.35h-1.35m0 0h1.35h-1.35m0 1h1.35h-1.35m0 0h1.35h-1.35m0 1h1.35h-1.35m0 0h1.35h-1.35m0 0h1.35h-1.35m0 1h1.35h-1.35m0 0h1.35h-1.35m0 0h1.35h-1.35m0 1h1.35h-1.35m0 0h1.35h-1.35m0 0h1.35h-1.35m0 0h1.35h-1.35m0 1h1.35h-1.35m0 0h1.35h-1.35m0 0h1.35h-1.35m0 0h1.35h-1.35m0 0h1.35h-1.35m0 1h1.35h-1.35m0 0h1.35h-1.35m0 0h1.35h-1.35m0 1h1.35h-1.35m0 0h1.35h-1.35m0 0h1.35h-1.35m0 0h1.35h-1.35m0 1h1.35h-1.35m0 0h1.35h-1.35m0 1h1.35h-1.35m0 0h1.35h-1.35m0 1h1.35h-1.35m0 1h1.35h-1.35m0 0h1.35h-1.35m0 3h1.35h-1.35m0 1h1.35h-1.35m0 0h1.35h-1.35m0 2h1.35h-1.35m0 1h1.35h-1.35m0 1h1.35h-1.35m0 0h1.35h-1.35m0 1h1.35h-1.35m0 2h1.35h-1.35m0 1h1.35h-1.35m0 9h1.35h-1.35m0 0h1.35h-1.35m0 2h1.35h-1.35m0 0h1.35h-1.35m1-55h1.35h-1.35m0 12h1.35h-1.35m0 0h1.35h-1.35m0 1h1.35h-1.35m0 0h1.35h-1.35m0 0h1.35h-1.35m0 0h1.35h-1.35m0 1h1.35h-1.35m0 1h1.35h-1.35m0 0h1.35h-1.35m0 0h1.35h-1.35m0 2h1.35h-1.35m0 1h1.35h-1.35m0 0h1.35h-1.35m0 0h1.35h-1.35m0 0h1.35h-1.35m0 1h1.35h-1.35m0 2h1.35h-1.35m0 0h1.35h-1.35m0 0h1.35h-1.35m0 0h1.35h-1.35m0 1h1.35h-1.35m0 0h1.35h-1.35m0 0h1.35h-1.35m0 0h1.35h-1.35m0 0h1.35h-1.35m0 1h1.35h-1.35m0 0h1.35h-1.35m0 1h1.35h-1.35m0 0h1.35h-1.35m0 0h1.35h-1.35m0 1h1.35h-1.35m0 0h1.35h-1.35m0 0h1.35h-1.35m0 0h1.35h-1.35m0 0h1.35h-1.35m0 0h1.35h-1.35m0 1h1.35h-1.35m0 1h1.35h-1.35m0 0h1.35h-1.35m0 0h1.35h-1.35m0 0h1.35h-1.35m0 0h1.35h-1.35m0 0h1.35h-1.35m0 1h1.35h-1.35m0 0h1.35h-1.35m0 0h1.35h-1.35m0 1h1.35h-1.35m0 0h1.35h-1.35m0 1h1.35h-1.35m0 0h1.35h-1.35m0 0h1.35h-1.35m0 1h1.35h-1.35m0 0h1.35h-1.35m0 0h1.35h-1.35m0 1h1.35h-1.35m0 0h1.35h-1.35m0 1h1.35h-1.35m0 1h1.35h-1.35m0 1h1.35h-1.35m0 0h1.35h-1.35m0 0h1.35h-1.35m0 0h1.35h-1.35m0 1h1.35h-1.35m0 0h1.35h-1.35m0 0h1.35h-1.35m0 1h1.35h-1.35m0 0h1.35h-1.35m0 0h1.35h-1.35m0 1h1.35h-1.35m0 1h1.35h-1.35m0 0h1.35h-1.35m0 0h1.35h-1.35m0 1h1.35h-1.35m0 0h1.35h-1.35m0 0h1.35h-1.35m0 1h1.35h-1.35m0 1h1.35h-1.35m0 0h1.35h-1.35m0 1h1.35h-1.35m0 4h1.35h-1.35m0 1h1.35h-1.35m0 1h1.35h-1.35m1-47h1.35h-1.35m0 5h1.35h-1.35m0 4h1.35h-1.35m0 1h1.35h-1.35m0 0h1.35h-1.35m0 1h1.35h-1.35m0 0h1.35h-1.35m0 1h1.35h-1.35m0 1h1.35h-1.35m0 1h1.35h-1.35m0 1h1.35h-1.35m0 1h1.35h-1.35m0 0h1.35h-1.35m0 1h1.35h-1.35m0 0h1.35h-1.35m0 1h1.35h-1.35m0 1h1.35h-1.35m0 0h1.35h-1.35m0 0h1.35h-1.35m0 1h1.35h-1.35m0 0h1.35h-1.35m0 0h1.35h-1.35m0 0h1.35h-1.35m0 1h1.35h-1.35m0 0h1.35h-1.35m0 0h1.35h-1.35m0 1h1.35h-1.35m0 0h1.35h-1.35m0 0h1.35h-1.35m0 0h1.35h-1.35m0 1h1.35h-1.35m0 2h1.35h-1.35m0 0h1.35h-1.35m0 1h1.35h-1.35m0 0h1.35h-1.35m0 0h1.35h-1.35m0 1h1.35h-1.35m0 0h1.35h-1.35m0 1h1.35h-1.35m0 0h1.35h-1.35m0 0h1.35h-1.35m0 1h1.35h-1.35m0 0h1.35h-1.35m0 0h1.35h-1.35m0 0h1.35h-1.35m0 1h1.35h-1.35m0 0h1.35h-1.35m0 0h1.35h-1.35m0 1h1.35h-1.35m0 1h1.35h-1.35m0 1h1.35h-1.35m0 0h1.35h-1.35m0 1h1.35h-1.35m0 0h1.35h-1.35m0 1h1.35h-1.35m0 0h1.35h-1.35m0 1h1.35h-1.35m0 1h1.35h-1.35m0 0h1.35h-1.35m0 3h1.35h-1.35m0 0h1.35h-1.35m0 2h1.35h-1.35m0 0h1.35h-1.35m0 3h1.35h-1.35m0 3h1.35h-1.35m0 2h1.35h-1.35m1-48h1.35h-1.35m0 2h1.35h-1.35m0 2h1.35h-1.35m0 1h1.35h-1.35m0 1h1.35h-1.35m0 2h1.35h-1.35m0 0h1.35h-1.35m0 1h1.35h-1.35m0 1h1.35h-1.35m0 0h1.35h-1.35m0 1h1.35h-1.35m0 0h1.35h-1.35m0 0h1.35h-1.35m0 1h1.35h-1.35m0 0h1.35h-1.35m0 1h1.35h-1.35m0 0h1.35h-1.35m0 3h1.35h-1.35m0 0h1.35h-1.35m0 1h1.35h-1.35m0 0h1.35h-1.35m0 1h1.35h-1.35m0 0h1.35h-1.35m0 1h1.35h-1.35m0 0h1.35h-1.35m0 0h1.35h-1.35m0 0h1.35h-1.35m0 0h1.35h-1.35m0 1h1.35h-1.35m0 0h1.35h-1.35m0 0h1.35h-1.35m0 0h1.35h-1.35m0 1h1.35h-1.35m0 0h1.35h-1.35m0 0h1.35h-1.35m0 0h1.35h-1.35m0 0h1.35h-1.35m0 1h1.35h-1.35m0 0h1.35h-1.35m0 1h1.35h-1.35m0 1h1.35h-1.35m0 0h1.35h-1.35m0 0h1.35h-1.35m0 1h1.35h-1.35m0 0h1.35h-1.35m0 0h1.35h-1.35m0 1h1.35h-1.35m0 0h1.35h-1.35m0 1h1.35h-1.35m0 0h1.35h-1.35m0 0h1.35h-1.35m0 1h1.35h-1.35m0 0h1.35h-1.35m0 0h1.35h-1.35m0 1h1.35h-1.35m0 0h1.35h-1.35m0 0h1.35h-1.35m0 1h1.35h-1.35m0 5h1.35h-1.35m0 0h1.35h-1.35m0 1h1.35h-1.35m0 1h1.35h-1.35m0 2h1.35h-1.35m0 1h1.35h-1.35m0 19h1.35h-1.35m1-55h1.35h-1.35m0 1h1.35h-1.35m0 1h1.35h-1.35m0 0h1.35h-1.35m0 1h1.35h-1.35m0 1h1.35h-1.35m0 4h1.35h-1.35m0 0h1.35h-1.35m0 0h1.35h-1.35m0 0h1.35h-1.35m0 0h1.35h-1.35m0 1h1.35h-1.35m0 0h1.35h-1.35m0 0h1.35h-1.35m0 2h1.35h-1.35m0 0h1.35h-1.35m0 0h1.35h-1.35m0 1h1.35h-1.35m0 0h1.35h-1.35m0 0h1.35h-1.35m0 0h1.35h-1.35m0 1h1.35h-1.35m0 0h1.35h-1.35m0 0h1.35h-1.35m0 0h1.35h-1.35m0 1h1.35h-1.35m0 0h1.35h-1.35m0 0h1.35h-1.35m0 2h1.35h-1.35m0 1h1.35h-1.35m0 0h1.35h-1.35m0 0h1.35h-1.35m0 0h1.35h-1.35m0 1h1.35h-1.35m0 0h1.35h-1.35m0 1h1.35h-1.35m0 0h1.35h-1.35m0 0h1.35h-1.35m0 2h1.35h-1.35m0 0h1.35h-1.35m0 0h1.35h-1.35m0 1h1.35h-1.35m0 0h1.35h-1.35m0 1h1.35h-1.35m0 0h1.35h-1.35m0 0h1.35h-1.35m0 0h1.35h-1.35m0 1h1.35h-1.35m0 0h1.35h-1.35m0 0h1.35h-1.35m0 1h1.35h-1.35m0 1h1.35h-1.35m0 0h1.35h-1.35m0 0h1.35h-1.35m0 0h1.35h-1.35m0 1h1.35h-1.35m0 0h1.35h-1.35m0 1h1.35h-1.35m0 1h1.35h-1.35m0 1h1.35h-1.35m0 1h1.35h-1.35m0 1h1.35h-1.35m0 3h1.35h-1.35m0 1h1.35h-1.35m0 1h1.35h-1.35m0 2h1.35h-1.35m1-44h1.35h-1.35m0 3h1.35h-1.35m0 3h1.35h-1.35m0 2h1.35h-1.35m0 1h1.35h-1.35m0 1h1.35h-1.35m0 1h1.35h-1.35m0 0h1.35h-1.35m0 0h1.35h-1.35m0 1h1.35h-1.35m0 1h1.35h-1.35m0 1h1.35h-1.35m0 1h1.35h-1.35m0 0h1.35h-1.35m0 1h1.35h-1.35m0 1h1.35h-1.35m0 1h1.35h-1.35m0 1h1.35h-1.35m0 0h1.35h-1.35m0 0h1.35h-1.35m0 0h1.35h-1.35m0 2h1.35h-1.35m0 1h1.35h-1.35m0 0h1.35h-1.35m0 0h1.35h-1.35m0 1h1.35h-1.35m0 0h1.35h-1.35m0 1h1.35h-1.35m0 0h1.35h-1.35m0 0h1.35h-1.35m0 1h1.35h-1.35m0 0h1.35h-1.35m0 1h1.35h-1.35m0 0h1.35h-1.35m0 0h1.35h-1.35m0 1h1.35h-1.35m0 0h1.35h-1.35m0 1h1.35h-1.35m0 0h1.35h-1.35m0 0h1.35h-1.35m0 1h1.35h-1.35m0 1h1.35h-1.35m0 1h1.35h-1.35m0 1h1.35h-1.35m0 0h1.35h-1.35m0 1h1.35h-1.35m0 0h1.35h-1.35m0 0h1.35h-1.35m0 1h1.35h-1.35m0 0h1.35h-1.35m0 0h1.35h-1.35m0 1h1.35h-1.35m0 0h1.35h-1.35m0 1h1.35h-1.35m0 0h1.35h-1.35m0 2h1.35h-1.35m0 1h1.35h-1.35m0 2h1.35h-1.35m0 18h1.35h-1.35m1-59h1.35h-1.35m0 3h1.35h-1.35m0 0h1.35h-1.35m0 1h1.35h-1.35m0 0h1.35h-1.35m0 1h1.35h-1.35m0 0h1.35h-1.35m0 0h1.35h-1.35m0 0h1.35h-1.35m0 1h1.35h-1.35m0 1h1.35h-1.35m0 0h1.35h-1.35m0 1h1.35h-1.35m0 0h1.35h-1.35m0 0h1.35h-1.35m0 1h1.35h-1.35m0 1h1.35h-1.35m0 0h1.35h-1.35m0 0h1.35h-1.35m0 1h1.35h-1.35m0 0h1.35h-1.35m0 2h1.35h-1.35m0 2h1.35h-1.35m0 0h1.35h-1.35m0 1h1.35h-1.35m0 0h1.35h-1.35m0 0h1.35h-1.35m0 2h1.35h-1.35m0 0h1.35h-1.35m0 0h1.35h-1.35m0 0h1.35h-1.35m0 0h1.35h-1.35m0 1h1.35h-1.35m0 0h1.35h-1.35m0 0h1.35h-1.35m0 0h1.35h-1.35m0 2h1.35h-1.35m0 0h1.35h-1.35m0 0h1.35h-1.35m0 0h1.35h-1.35m0 1h1.35h-1.35m0 0h1.35h-1.35m0 0h1.35h-1.35m0 1h1.35h-1.35m0 0h1.35h-1.35m0 0h1.35h-1.35m0 0h1.35h-1.35m0 0h1.35h-1.35m0 0h1.35h-1.35m0 1h1.35h-1.35m0 0h1.35h-1.35m0 1h1.35h-1.35m0 0h1.35h-1.35m0 0h1.35h-1.35m0 0h1.35h-1.35m0 1h1.35h-1.35m0 1h1.35h-1.35m0 1h1.35h-1.35m0 0h1.35h-1.35m0 0h1.35h-1.35m0 1h1.35h-1.35m0 1h1.35h-1.35m0 0h1.35h-1.35m0 1h1.35h-1.35m0 1h1.35h-1.35m0 0h1.35h-1.35m0 1h1.35h-1.35m0 0h1.35h-1.35m0 0h1.35h-1.35m0 0h1.35h-1.35m0 1h1.35h-1.35m0 0h1.35h-1.35m0 1h1.35h-1.35m0 0h1.35h-1.35m0 1h1.35h-1.35m0 0h1.35h-1.35m0 1h1.35h-1.35m0 3h1.35h-1.35m0 0h1.35h-1.35m0 0h1.35h-1.35m0 3h1.35h-1.35m0 2h1.35h-1.35m0 1h1.35h-1.35m0 2h1.35h-1.35m0 0h1.35h-1.35m0 1h1.35h-1.35m1-49h1.35h-1.35m0 6h1.35h-1.35m0 1h1.35h-1.35m0 3h1.35h-1.35m0 1h1.35h-1.35m0 2h1.35h-1.35m0 1h1.35h-1.35m0 0h1.35h-1.35m0 0h1.35h-1.35m0 0h1.35h-1.35m0 1h1.35h-1.35m0 1h1.35h-1.35m0 1h1.35h-1.35m0 0h1.35h-1.35m0 1h1.35h-1.35m0 0h1.35h-1.35m0 1h1.35h-1.35m0 0h1.35h-1.35m0 0h1.35h-1.35m0 0h1.35h-1.35m0 0h1.35h-1.35m0 0h1.35h-1.35m0 0h1.35h-1.35m0 0h1.35h-1.35m0 1h1.35h-1.35m0 0h1.35h-1.35m0 1h1.35h-1.35m0 0h1.35h-1.35m0 1h1.35h-1.35m0 0h1.35h-1.35m0 0h1.35h-1.35m0 0h1.35h-1.35m0 0h1.35h-1.35m0 1h1.35h-1.35m0 0h1.35h-1.35m0 1h1.35h-1.35m0 1h1.35h-1.35m0 0h1.35h-1.35m0 1h1.35h-1.35m0 0h1.35h-1.35m0 1h1.35h-1.35m0 0h1.35h-1.35m0 1h1.35h-1.35m0 0h1.35h-1.35m0 1h1.35h-1.35m0 0h1.35h-1.35m0 0h1.35h-1.35m0 2h1.35h-1.35m0 0h1.35h-1.35m0 1h1.35h-1.35m0 3h1.35h-1.35m0 2h1.35h-1.35m0 1h1.35h-1.35m0 1h1.35h-1.35m0 1h1.35h-1.35m0 1h1.35h-1.35m0 6h1.35h-1.35m1-42h1.35h-1.35m0 2h1.35h-1.35m0 1h1.35h-1.35m0 1h1.35h-1.35m0 5h1.35h-1.35m0 0h1.35h-1.35m0 1h1.35h-1.35m0 0h1.35h-1.35m0 0h1.35h-1.35m0 1h1.35h-1.35m0 1h1.35h-1.35m0 0h1.35h-1.35m0 0h1.35h-1.35m0 2h1.35h-1.35m0 0h1.35h-1.35m0 1h1.35h-1.35m0 0h1.35h-1.35m0 1h1.35h-1.35m0 0h1.35h-1.35m0 0h1.35h-1.35m0 0h1.35h-1.35m0 0h1.35h-1.35m0 1h1.35h-1.35m0 0h1.35h-1.35m0 0h1.35h-1.35m0 1h1.35h-1.35m0 0h1.35h-1.35m0 0h1.35h-1.35m0 0h1.35h-1.35m0 0h1.35h-1.35m0 1h1.35h-1.35m0 0h1.35h-1.35m0 1h1.35h-1.35m0 0h1.35h-1.35m0 2h1.35h-1.35m0 0h1.35h-1.35m0 0h1.35h-1.35m0 1h1.35h-1.35m0 0h1.35h-1.35m0 1h1.35h-1.35m0 0h1.35h-1.35m0 0h1.35h-1.35m0 2h1.35h-1.35m0 0h1.35h-1.35m0 2h1.35h-1.35m0 2h1.35h-1.35m0 1h1.35h-1.35m0 2h1.35h-1.35m0 17h1.35h-1.35m1-59h1.35h-1.35m0 1h1.35h-1.35m0 8h1.35h-1.35m0 1h1.35h-1.35m0 2h1.35h-1.35m0 2h1.35h-1.35m0 0h1.35h-1.35m0 2h1.35h-1.35m0 0h1.35h-1.35m0 1h1.35h-1.35m0 1h1.35h-1.35m0 1h1.35h-1.35m0 1h1.35h-1.35m0 2h1.35h-1.35m0 1h1.35h-1.35m0 3h1.35h-1.35m0 0h1.35h-1.35m0 0h1.35h-1.35m0 0h1.35h-1.35m0 1h1.35h-1.35m0 0h1.35h-1.35m0 0h1.35h-1.35m0 0h1.35h-1.35m0 1h1.35h-1.35m0 0h1.35h-1.35m0 1h1.35h-1.35m0 0h1.35h-1.35m0 0h1.35h-1.35m0 2h1.35h-1.35m0 0h1.35h-1.35m0 1h1.35h-1.35m0 1h1.35h-1.35m0 2h1.35h-1.35m0 1h1.35h-1.35m0 0h1.35h-1.35m0 1h1.35h-1.35m0 1h1.35h-1.35m0 1h1.35h-1.35m0 0h1.35h-1.35m0 2h1.35h-1.35m0 1h1.35h-1.35m0 1h1.35h-1.35m0 3h1.35h-1.35m0 5h1.35h-1.35m0 9h1.35h-1.35m1-65h1.35h-1.35m0 5h1.35h-1.35m0 4h1.35h-1.35m0 0h1.35h-1.35m0 3h1.35h-1.35m0 0h1.35h-1.35m0 7h1.35h-1.35m0 0h1.35h-1.35m0 2h1.35h-1.35m0 0h1.35h-1.35m0 1h1.35h-1.35m0 1h1.35h-1.35m0 0h1.35h-1.35m0 0h1.35h-1.35m0 2h1.35h-1.35m0 0h1.35h-1.35m0 0h1.35h-1.35m0 0h1.35h-1.35m0 1h1.35h-1.35m0 0h1.35h-1.35m0 0h1.35h-1.35m0 1h1.35h-1.35m0 0h1.35h-1.35m0 1h1.35h-1.35m0 1h1.35h-1.35m0 0h1.35h-1.35m0 0h1.35h-1.35m0 0h1.35h-1.35m0 1h1.35h-1.35m0 1h1.35h-1.35m0 0h1.35h-1.35m0 0h1.35h-1.35m0 1h1.35h-1.35m0 2h1.35h-1.35m0 1h1.35h-1.35m0 0h1.35h-1.35m0 0h1.35h-1.35m0 1h1.35h-1.35m0 1h1.35h-1.35m0 0h1.35h-1.35m0 0h1.35h-1.35m0 0h1.35h-1.35m0 1h1.35h-1.35m0 2h1.35h-1.35m0 2h1.35h-1.35m0 0h1.35h-1.35m0 0h1.35h-1.35m0 1h1.35h-1.35m0 1h1.35h-1.35m0 1h1.35h-1.35m0 0h1.35h-1.35m0 5h1.35h-1.35m0 1h1.35h-1.35m0 4h1.35h-1.35m0 5h1.35h-1.35m1-51h1.35h-1.35m0 1h1.35h-1.35m0 1h1.35h-1.35m0 4h1.35h-1.35m0 0h1.35h-1.35m0 2h1.35h-1.35m0 2h1.35h-1.35m0 2h1.35h-1.35m0 2h1.35h-1.35m0 1h1.35h-1.35m0 0h1.35h-1.35m0 0h1.35h-1.35m0 3h1.35h-1.35m0 0h1.35h-1.35m0 1h1.35h-1.35m0 0h1.35h-1.35m0 0h1.35h-1.35m0 1h1.35h-1.35m0 2h1.35h-1.35m0 0h1.35h-1.35m0 0h1.35h-1.35m0 0h1.35h-1.35m0 1h1.35h-1.35m0 0h1.35h-1.35m0 1h1.35h-1.35m0 0h1.35h-1.35m0 0h1.35h-1.35m0 1h1.35h-1.35m0 0h1.35h-1.35m0 0h1.35h-1.35m0 0h1.35h-1.35m0 1h1.35h-1.35m0 0h1.35h-1.35m0 1h1.35h-1.35m0 0h1.35h-1.35m0 0h1.35h-1.35m0 1h1.35h-1.35m0 0h1.35h-1.35m0 0h1.35h-1.35m0 0h1.35h-1.35m0 1h1.35h-1.35m0 0h1.35h-1.35m0 2h1.35h-1.35m0 1h1.35h-1.35m0 1h1.35h-1.35m0 1h1.35h-1.35m0 1h1.35h-1.35m0 0h1.35h-1.35m0 1h1.35h-1.35m0 4h1.35h-1.35m0 2h1.35h-1.35m0 4h1.35h-1.35m1-43h1.35h-1.35m0 6h1.35h-1.35m0 0h1.35h-1.35m0 0h1.35h-1.35m0 4h1.35h-1.35m0 1h1.35h-1.35m0 2h1.35h-1.35m0 1h1.35h-1.35m0 0h1.35h-1.35m0 0h1.35h-1.35m0 0h1.35h-1.35m0 0h1.35h-1.35m0 1h1.35h-1.35m0 0h1.35h-1.35m0 2h1.35h-1.35m0 2h1.35h-1.35m0 2h1.35h-1.35m0 0h1.35h-1.35m0 0h1.35h-1.35m0 2h1.35h-1.35m0 0h1.35h-1.35m0 2h1.35h-1.35m0 1h1.35h-1.35m0 0h1.35h-1.35m0 0h1.35h-1.35m0 1h1.35h-1.35m0 0h1.35h-1.35m0 1h1.35h-1.35m0 1h1.35h-1.35m0 0h1.35h-1.35m0 1h1.35h-1.35m0 0h1.35h-1.35m0 1h1.35h-1.35m0 0h1.35h-1.35m0 2h1.35h-1.35m0 2h1.35h-1.35m1-44h1.35h-1.35m0 12h1.35h-1.35m0 2h1.35h-1.35m0 0h1.35h-1.35m0 3h1.35h-1.35m0 1h1.35h-1.35m0 2h1.35h-1.35m0 3h1.35h-1.35m0 0h1.35h-1.35m0 5h1.35h-1.35m0 0h1.35h-1.35m0 1h1.35h-1.35m0 0h1.35h-1.35m0 1h1.35h-1.35m0 0h1.35h-1.35m0 0h1.35h-1.35m0 1h1.35h-1.35m0 0h1.35h-1.35m0 1h1.35h-1.35m0 1h1.35h-1.35m0 0h1.35h-1.35m0 0h1.35h-1.35m0 2h1.35h-1.35m0 0h1.35h-1.35m0 1h1.35h-1.35m0 0h1.35h-1.35m0 1h1.35h-1.35m0 0h1.35h-1.35m0 0h1.35h-1.35m0 2h1.35h-1.35m0 6h1.35h-1.35m0 4h1.35h-1.35m1-51h1.35h-1.35m0 14h1.35h-1.35m0 2h1.35h-1.35m0 1h1.35h-1.35m0 3h1.35h-1.35m0 0h1.35h-1.35m0 5h1.35h-1.35m0 0h1.35h-1.35m0 1h1.35h-1.35m0 1h1.35h-1.35m0 1h1.35h-1.35m0 1h1.35h-1.35m0 1h1.35h-1.35m0 4h1.35h-1.35m0 2h1.35h-1.35m0 0h1.35h-1.35m0 1h1.35h-1.35m0 0h1.35h-1.35m0 1h1.35h-1.35m0 2h1.35h-1.35m0 2h1.35h-1.35m0 6h1.35h-1.35m1-41h1.35h-1.35m0 2h1.35h-1.35m0 11h1.35h-1.35m0 1h1.35h-1.35m0 0h1.35h-1.35m0 1h1.35h-1.35m0 2h1.35h-1.35m0 0h1.35h-1.35m0 2h1.35h-1.35m0 2h1.35h-1.35m0 1h1.35h-1.35m0 3h1.35h-1.35m0 1h1.35h-1.35m0 1h1.35h-1.35m0 0h1.35h-1.35m0 0h1.35h-1.35m0 1h1.35h-1.35m0 0h1.35h-1.35m0 2h1.35h-1.35m0 1h1.35h-1.35m0 1h1.35h-1.35m0 2h1.35h-1.35m0 0h1.35h-1.35m1-31h1.35h-1.35m0 2h1.35h-1.35m0 1h1.35h-1.35m0 1h1.35h-1.35m0 1h1.35h-1.35m0 0h1.35h-1.35m0 4h1.35h-1.35m0 7h1.35h-1.35m0 1h1.35h-1.35m0 1h1.35h-1.35m0 1h1.35h-1.35m0 1h1.35h-1.35m0 3h1.35h-1.35m0 0h1.35h-1.35m0 1h1.35h-1.35m0 0h1.35h-1.35m0 1h1.35h-1.35m0 0h1.35h-1.35m0 2h1.35h-1.35m0 1h1.35h-1.35m0 1h1.35h-1.35m0 1h1.35h-1.35m0 0h1.35h-1.35m0 6h1.35h-1.35m1-25h1.35h-1.35m0 5h1.35h-1.35m0 7h1.35h-1.35m0 0h1.35h-1.35m0 1h1.35h-1.35m0 1h1.35h-1.35m0 0h1.35h-1.35m0 1h1.35h-1.35m0 1h1.35h-1.35m0 3h1.35h-1.35m0 15h1.35h-1.35m1-46h1.35h-1.35m0 6h1.35h-1.35m0 0h1.35h-1.35m0 9h1.35h-1.35m0 10h1.35h-1.35m0 0h1.35h-1.35m0 1h1.35h-1.35m0 1h1.35h-1.35m0 7h1.35h-1.35m0 4h1.35h-1.35m0 0h1.35h-1.35m0 2h1.35h-1.35m1-47h1.35h-1.35m0 11h1.35h-1.35m0 7h1.35h-1.35m0 5h1.35h-1.35m0 6h1.35h-1.35m0 7h1.35h-1.35m0 0h1.35h-1.35m0 2h1.35h-1.35m0 0h1.35h-1.35m0 2h1.35h-1.35m0 0h1.35h-1.35m0 2h1.35h-1.35m0 4h1.35h-1.35m0 4h1.35h-1.35m1-26h1.35h-1.35m0 0h1.35h-1.35m0 3h1.35h-1.35m0 2h1.35h-1.35m0 22h1.35h-1.35m0 2h1.35h-1.35m0 0h1.35h-1.35m1-42h1.35h-1.35m0 6h1.35h-1.35m0 2h1.35h-1.35m0 5h1.35h-1.35m0 2h1.35h-1.35m0 8h1.35h-1.35m0 2h1.35h-1.35m0 5h1.35h-1.35m1-22h1.35h-1.35m0 7h1.35h-1.35m0 9h1.35h-1.35m0 7h1.35h-1.35m1-20h1.35h-1.35m0 12h1.35h-1.35m0 6h1.35h-1.35m1-11h1.35h-1.35m0 3h1.35h-1.35m1-4h1.35h-1.35m1 2h1.35h-1.35m3-28h1.35h-1.35" stroke="#FF1A1A" stroke-width="1.35" fill="none" transform="translate(0 .5)"/><path d="M2825 289h1.35h-1.35m3-3h1.35h-1.35m9 7h1.35h-1.35m2-71h1.35h-1.35m1 30h1.35h-1.35m0 13h1.35h-1.35m3-22h1.35h-1.35m2 23h1.35h-1.35m0 32h1.35h-1.35m2-9h1.35h-1.35m3-16h1.35h-1.35m2-30h1.35h-1.35m0 50h1.35h-1.35m0 4h1.35h-1.35m1 3h1.35h-1.35m3-15h1.35h-1.35m1 79h1.35h-1.35m1-85h1.35h-1.35m5 9h1.35h-1.35m0 26h1.35h-1.35m1-51h1.35h-1.35m0 14h1.35h-1.35m0 71h1.35h-1.35m2-90h1.35h-1.35m1-12h1.35h-1.35m0 6h1.35h-1.35m0 4h1.35h-1.35m0 16h1.35h-1.35m0 6h1.35h-1.35m1-68h1.35h-1.35m0 76h1.35h-1.35m1-71h1.35h-1.35m0 67h1.35h-1.35m2 15h1.35h-1.35m2 29h1.35h-1.35m4-106h1.35h-1.35m0 13h1.35h-1.35m0 13h1.35h-1.35m1-46h1.35h-1.35m0 49h1.35h-1.35m1-51h1.35h-1.35m0 20h1.35h-1.35m0 35h1.35h-1.35m3 33h1.35h-1.35m0 15h1.35h-1.35m1-11h1.35h-1.35m2 0h1.35h-1.35m2 5h1.35h-1.35m1-29h1.35h-1.35m2 12h1.35h-1.35m1 33h1.35h-1.35m4-30h1.35h-1.35m7-16h1.35h-1.35m2-29h1.35h-1.35m1 14h1.35h-1.35m0 2h1.35h-1.35m6 8h1.35h-1.35m1-20h1.35h-1.35m4 42h1.35h-1.35m6 16h1.35h-1.35" stroke="#E9475A" stroke-width="1.35" fill="none" transform="translate(0 .5)"/><path d="M2800 236h1.35h-1.35m1 46h1.35h-1.35m18-28h1.35h-1.35m4-29h1.35h-1.35m4 53h1.35h-1.35m3-13h1.35h-1.35m1-12h1.35h-1.35m1 77h1.35h-1.35m3-76h1.35h-1.35m0 45h1.35h-1.35m0 16h1.35h-1.35m5-36h1.35h-1.35m1 11h1.35h-1.35m1 8h1.35h-1.35m0 65h1.35h-1.35m3-32h1.35h-1.35m1-56h1.35h-1.35m2 41h1.35h-1.35m2 11h1.35h-1.35m1-26h1.35h-1.35m2 40h1.35h-1.35m1-31h1.35h-1.35m1 2h1.35h-1.35m1 26h1.35h-1.35m1-58h1.35h-1.35m1 12h1.35h-1.35m1-92h1.35h-1.35m6 152h1.35h-1.35m1-40h1.35h-1.35m1-42h1.35h-1.35m2-35h1.35h-1.35m0 42h1.35h-1.35m0 51h1.35h-1.35m0 23h1.35h-1.35m3-97h1.35h-1.35m1 63h1.35h-1.35m1-40h1.35h-1.35m4-9h1.35h-1.35m0 34h1.35h-1.35m1 10h1.35h-1.35m3-50h1.35h-1.35m1 60h1.35h-1.35m0 24h1.35h-1.35m2-72h1.35h-1.35m1-61h1.35h-1.35m7 70h1.35h-1.35m2-37h1.35h-1.35m7 25h1.35h-1.35m13-18h1.35h-1.35m3 38h1.35h-1.35" stroke="#F6BD3C" stroke-width="1.35" fill="none" transform="translate(0 .5)"/>
<rect x="2596" y="27" width="343" height="341" fill="none" stroke="#D0D4D8" stroke-width="2"/>
<path d="M2756 360 V95.5 H2937.5 M2756 360 H2937.5" fill="none" stroke="#BDD3AB" stroke-width="1.6"/>
<text x="2777.8" y="57.5" font-size="17" font-weight="bold" fill="#A9C68F" textLength="121.0" lengthAdjust="spacingAndGlyphs" >CD3⁺: 95.830%</text>
<text x="2547.1" y="44.7" font-size="16.5" font-weight="normal" fill="#111" textLength="41.3" lengthAdjust="spacingAndGlyphs" >1000</text>
<text x="2553.3" y="210.0" font-size="16.5" font-weight="normal" fill="#111" textLength="30.4" lengthAdjust="spacingAndGlyphs" >500</text>
<text x="2545.1" y="374.8" font-size="16.5" font-weight="normal" fill="#111" textLength="43.5" lengthAdjust="spacingAndGlyphs" >0.001</text>
<text x="2597.5" y="392.5" font-size="16.5" text-anchor="middle" fill="#111">10</text><text x="2608.0" y="385.0" font-size="9.1" fill="#111">0</text>
<text x="2655.8" y="392.5" font-size="16.5" text-anchor="middle" fill="#111">10</text><text x="2666.3" y="385.0" font-size="9.1" fill="#111">1</text>
<text x="2714.1" y="392.5" font-size="16.5" text-anchor="middle" fill="#111">10</text><text x="2724.6" y="385.0" font-size="9.1" fill="#111">2</text>
<text x="2772.4" y="392.5" font-size="16.5" text-anchor="middle" fill="#111">10</text><text x="2782.9" y="385.0" font-size="9.1" fill="#111">3</text>
<text x="2830.7" y="392.5" font-size="16.5" text-anchor="middle" fill="#111">10</text><text x="2841.2" y="385.0" font-size="9.1" fill="#111">4</text>
<text x="2889.0" y="392.5" font-size="16.5" text-anchor="middle" fill="#111">10</text><text x="2899.5" y="385.0" font-size="9.1" fill="#111">5</text>
<text x="2947.3" y="392.5" font-size="16.5" text-anchor="middle" fill="#111">10</text><text x="2957.8" y="385.0" font-size="9.1" fill="#111">6</text>
<rect x="2747.5" y="405" width="8" height="36" fill="url(#gS)"/><polygon points="2734,439 2769,439 2751.5,474" fill="#222"/>
<path d="M2603.0 821.7 L2603.8 822.0 L2604.6 823.0 L2605.4 822.8 L2606.2 822.2 L2607.0 823.0 L2607.8 823.0 L2608.6 823.0 L2609.4 823.0 L2610.2 823.0 L2611.0 823.0 L2611.8 823.0 L2612.6 822.7 L2613.4 823.0 L2614.2 823.0 L2615.0 823.0 L2615.8 821.8 L2616.6 822.1 L2617.4 823.0 L2618.2 822.3 L2619.0 823.0 L2619.8 823.0 L2620.6 822.9 L2621.4 821.8 L2622.2 823.0 L2623.0 823.0 L2623.8 823.0 L2624.6 823.0 L2625.4 823.0 L2626.2 823.0 L2627.0 823.0 L2627.8 823.0 L2628.6 822.3 L2629.4 823.0 L2630.2 821.7 L2631.0 822.3 L2631.8 821.0 L2632.6 822.8 L2633.4 822.8 L2634.2 823.0 L2635.0 823.0 L2635.8 822.8 L2636.6 822.1 L2637.4 822.6 L2638.2 821.4 L2639.0 822.8 L2639.8 821.7 L2640.6 820.1 L2641.4 822.8 L2642.2 822.0 L2643.0 823.0 L2643.8 822.8 L2644.6 822.5 L2645.4 821.5 L2646.2 821.2 L2647.0 822.0 L2647.8 822.0 L2648.6 821.4 L2649.4 821.5 L2650.2 822.1 L2651.0 822.6 L2651.8 822.6 L2652.6 823.0 L2653.4 821.5 L2654.2 823.0 L2655.0 820.3 L2655.8 822.0 L2656.6 820.7 L2657.4 820.4 L2658.2 820.3 L2659.0 821.3 L2659.8 822.0 L2660.6 820.3 L2661.4 821.5 L2662.2 819.6 L2663.0 821.1 L2663.8 819.8 L2664.6 821.2 L2665.4 820.7 L2666.2 819.2 L2667.0 820.6 L2667.8 819.5 L2668.6 820.2 L2669.4 821.4 L2670.2 818.8 L2671.0 820.7 L2671.8 820.2 L2672.6 818.5 L2673.4 819.8 L2674.2 818.4 L2675.0 818.8 L2675.8 818.8 L2676.6 817.5 L2677.4 819.5 L2678.2 818.4 L2679.0 818.1 L2679.8 819.9 L2680.6 819.1 L2681.4 816.8 L2682.2 817.0 L2683.0 818.1 L2683.8 817.3 L2684.6 816.9 L2685.4 816.4 L2686.2 816.5 L2687.0 815.0 L2687.8 815.0 L2688.6 817.3 L2689.4 815.8 L2690.2 816.4 L2691.0 813.1 L2691.8 816.0 L2692.6 814.3 L2693.4 816.2 L2694.2 811.6 L2695.0 813.0 L2695.8 813.4 L2696.6 815.9 L2697.4 811.7 L2698.2 811.3 L2699.0 812.6 L2699.8 811.8 L2700.6 810.6 L2701.4 810.4 L2702.2 808.5 L2703.0 808.2 L2703.8 809.4 L2704.6 809.3 L2705.4 810.5 L2706.2 807.0 L2707.0 805.6 L2707.8 808.6 L2708.6 805.6 L2709.4 806.9 L2710.2 806.3 L2711.0 805.7 L2711.8 805.7 L2712.6 806.8 L2713.4 805.2 L2714.2 803.9 L2715.0 805.4 L2715.8 798.7 L2716.6 803.7 L2717.4 798.0 L2718.2 796.5 L2719.0 797.2 L2719.8 792.6 L2720.6 801.1 L2721.4 795.8 L2722.2 796.2 L2723.0 789.7 L2723.8 791.0 L2724.6 791.8 L2725.4 789.2 L2726.2 788.5 L2727.0 781.8 L2727.8 781.2 L2728.6 791.3 L2729.4 780.9 L2730.2 784.1 L2731.0 783.6 L2731.8 782.6 L2732.6 782.9 L2733.4 775.4 L2734.2 786.6 L2735.0 776.1 L2735.8 774.2 L2736.6 775.2 L2737.4 775.6 L2738.2 774.0 L2739.0 764.5 L2739.8 763.8 L2740.6 768.5 L2741.4 771.5 L2742.2 769.5 L2743.0 772.2 L2743.8 760.3 L2744.6 752.0 L2745.4 754.2 L2746.2 767.9 L2747.0 754.9 L2747.8 752.4 L2748.6 756.6 L2749.4 762.6 L2750.2 754.6 L2751.0 762.8 L2751.8 756.1 L2752.6 749.3 L2753.4 755.9 L2754.2 743.7 L2755.0 751.1 L2755.8 728.9 L2756.6 755.4 L2757.4 758.6 L2758.2 740.4 L2759.0 755.4 L2759.8 737.9 L2760.6 746.2 L2761.4 746.6 L2762.2 737.6 L2763.0 751.6 L2763.8 736.2 L2764.6 735.7 L2765.4 731.9 L2766.2 728.1 L2767.0 736.1 L2767.8 739.7 L2768.6 737.6 L2769.4 721.5 L2770.2 737.1 L2771.0 747.6 L2771.8 726.9 L2772.6 743.3 L2773.4 729.6 L2774.2 724.8 L2775.0 737.0 L2775.8 732.3 L2776.6 714.8 L2777.4 726.5 L2778.2 720.5 L2779.0 726.9 L2779.8 728.8 L2780.6 736.3 L2781.4 723.0 L2782.2 706.9 L2783.0 724.4 L2783.8 727.0 L2784.6 719.6 L2785.4 719.1 L2786.2 720.7 L2787.0 694.6 L2787.8 707.9 L2788.6 694.9 L2789.4 706.0 L2790.2 708.2 L2791.0 700.1 L2791.8 689.3 L2792.6 661.9 L2793.4 679.5 L2794.2 676.6 L2795.0 671.1 L2795.8 663.4 L2796.6 674.4 L2797.4 657.1 L2798.2 661.6 L2799.0 679.0 L2799.8 665.0 L2800.6 630.6 L2801.4 630.8 L2802.2 631.0 L2803.0 626.1 L2803.8 655.5 L2804.6 614.2 L2805.4 633.1 L2806.2 631.5 L2807.0 645.7 L2807.8 612.7 L2808.6 616.3 L2809.4 604.1 L2810.2 597.2 L2811.0 642.7 L2811.8 656.9 L2812.6 625.6 L2813.4 605.4 L2814.2 648.2 L2815.0 588.6 L2815.8 638.3 L2816.6 649.2 L2817.4 620.9 L2818.2 611.3 L2819.0 649.6 L2819.8 683.3 L2820.6 636.4 L2821.4 642.3 L2822.2 635.8 L2823.0 654.6 L2823.8 697.0 L2824.6 676.9 L2825.4 672.5 L2826.2 662.3 L2827.0 658.9 L2827.8 685.4 L2828.6 679.9 L2829.4 685.5 L2830.2 699.1 L2831.0 700.7 L2831.8 701.5 L2832.6 705.7 L2833.4 723.7 L2834.2 735.4 L2835.0 730.7 L2835.8 733.5 L2836.6 727.8 L2837.4 744.4 L2838.2 752.0 L2839.0 755.3 L2839.8 750.2 L2840.6 758.7 L2841.4 766.5 L2842.2 765.1 L2843.0 772.5 L2843.8 771.2 L2844.6 773.3 L2845.4 779.2 L2846.2 786.6 L2847.0 786.6 L2847.8 790.9 L2848.6 782.7 L2849.4 793.0 L2850.2 797.5 L2851.0 800.4 L2851.8 799.4 L2852.6 803.0 L2853.4 804.4 L2854.2 804.4 L2855.0 806.2 L2855.8 808.9 L2856.6 809.7 L2857.4 814.6 L2858.2 812.2 L2859.0 812.6 L2859.8 813.7 L2860.6 813.3 L2861.4 815.7 L2862.2 815.9 L2863.0 818.8 L2863.8 817.7 L2864.6 817.2 L2865.4 818.8 L2866.2 817.6 L2867.0 818.7 L2867.8 818.9 L2868.6 820.5 L2869.4 822.3 L2870.2 821.9 L2871.0 821.4 L2871.8 821.1 L2872.6 822.7 L2873.4 821.1 L2874.2 823.0 L2875.0 823.0 L2875.8 822.2 L2876.6 822.5 L2877.4 822.1 L2878.2 822.9 L2879.0 820.6 L2879.8 823.0 L2880.6 823.0 L2881.4 823.0 L2882.2 821.9 L2883.0 822.3 L2883.8 822.9 L2884.6 823.0 L2885.4 822.1 L2886.2 822.5 L2887.0 821.7 L2887.8 823.0 L2888.6 820.3 L2889.4 821.7 L2890.2 822.1 L2891.0 823.0 L2891.8 823.0 L2892.6 822.6 L2893.4 823.0 L2894.2 822.6 L2895.0 821.0 L2895.8 822.4 L2896.6 821.1 L2897.4 823.0 L2898.2 823.0 L2899.0 821.9 L2899.8 822.8 L2900.6 823.0 L2901.4 823.0 L2902.2 823.0 L2903.0 823.0 L2903.8 822.0 L2904.6 822.4 L2905.4 823.0 L2906.2 823.0 L2907.0 822.1 L2907.8 823.0 L2908.6 822.8 L2909.4 822.4 L2910.2 823.0 L2911.0 823.0 L2911.8 823.0 L2912.6 823.0 L2913.4 823.0 L2914.2 823.0 L2915.0 823.0 L2915.8 823.0 L2916.6 820.7 L2917.4 822.6 L2918.2 823.0 L2919.0 823.0 L2919.8 822.6 L2920.6 821.9 L2921.4 821.6 L2922.2 823.0 L2923.0 822.5 L2923.8 822.8 L2924.6 821.6" fill="none" stroke="#8FCDB8" stroke-width="0.8" stroke-opacity="0.85" stroke-linejoin="round"/><path d="M2607 822 v-12 M2617 822 v-8 M2630 822 v-4" stroke="#86C9B3" stroke-width="0.8"/>
<rect x="2588.5" y="481" width="344" height="342.5" fill="none" stroke="#D0D4D8" stroke-width="2"/>
<path d="M2768.7 481 V823 M2931 481 V823 M2768.7 558.5 H2931" fill="none" stroke="#C9474D" stroke-width="1.7"/>
<text x="2796.8" y="503.2" font-size="16.5" font-weight="bold" fill="#C42127" textLength="108.2" lengthAdjust="spacingAndGlyphs" >Transduction</text>
<text x="2807.3" y="523.7" font-size="16.5" font-weight="bold" fill="#C42127" textLength="86.4" lengthAdjust="spacingAndGlyphs" >efficiency:</text>
<text x="2813.3" y="544.5" font-size="16.5" font-weight="bold" fill="#C42127" textLength="70.1" lengthAdjust="spacingAndGlyphs" >79.278%</text>
<text x="2545.3" y="500.4" font-size="16.5" font-weight="normal" fill="#111" textLength="30.7" lengthAdjust="spacingAndGlyphs" >300</text>
<text x="2545.1" y="615.0" font-size="16.5" font-weight="normal" fill="#111" textLength="30.9" lengthAdjust="spacingAndGlyphs" >200</text>
<text x="2545.6" y="728.6" font-size="16.5" font-weight="normal" fill="#111" textLength="30.4" lengthAdjust="spacingAndGlyphs" >100</text>
<text x="2555.8" y="821.2" font-size="16.5" font-weight="normal" fill="#111" textLength="9.8" lengthAdjust="spacingAndGlyphs" >0</text>
<text x="2591.0" y="847" font-size="16.5" text-anchor="middle" fill="#111">10</text><text x="2601.5" y="839.5" font-size="9.1" fill="#111">0</text>
<text x="2648.5" y="847" font-size="16.5" text-anchor="middle" fill="#111">10</text><text x="2659.0" y="839.5" font-size="9.1" fill="#111">1</text>
<text x="2706.0" y="847" font-size="16.5" text-anchor="middle" fill="#111">10</text><text x="2716.5" y="839.5" font-size="9.1" fill="#111">2</text>
<text x="2763.5" y="847" font-size="16.5" text-anchor="middle" fill="#111">10</text><text x="2774.0" y="839.5" font-size="9.1" fill="#111">3</text>
<text x="2821.0" y="847" font-size="16.5" text-anchor="middle" fill="#111">10</text><text x="2831.5" y="839.5" font-size="9.1" fill="#111">4</text>
<text x="2878.5" y="847" font-size="16.5" text-anchor="middle" fill="#111">10</text><text x="2889.0" y="839.5" font-size="9.1" fill="#111">5</text>
<text x="2936.0" y="847" font-size="16.5" text-anchor="middle" fill="#111">10</text><text x="2946.5" y="839.5" font-size="9.1" fill="#111">6</text>
<g fill="#B0605F"><circle cx="3123" cy="243" r="3.9"/><circle cx="3249" cy="216" r="4.5"/><circle cx="3138" cy="250" r="4.2"/><circle cx="3051" cy="229" r="4.1"/><circle cx="3170" cy="309" r="5.3"/><circle cx="3026" cy="313" r="3.8"/><circle cx="3177" cy="258" r="7.6"/><circle cx="3120" cy="323" r="5.4"/><circle cx="3141" cy="265" r="5.8"/><circle cx="3136" cy="272" r="6.4"/><circle cx="3124" cy="163" r="7.0"/><circle cx="3227" cy="285" r="7.2"/><circle cx="3207" cy="198" r="5.2"/><circle cx="3228" cy="194" r="5.0"/><circle cx="3245" cy="217" r="5.4"/><circle cx="3021" cy="262" r="3.6"/><circle cx="3210" cy="161" r="5.3"/><circle cx="3215" cy="135" r="6.6"/><circle cx="3151" cy="211" r="7.9"/><circle cx="3053" cy="291" r="7.1"/><circle cx="3037" cy="266" r="6.5"/><circle cx="3033" cy="203" r="6.2"/><circle cx="3083" cy="335" r="3.6"/><circle cx="3058" cy="196" r="5.0"/><circle cx="3231" cy="266" r="5.0"/><circle cx="3209" cy="177" r="6.4"/><circle cx="3026" cy="249" r="4.0"/><circle cx="3067" cy="254" r="5.2"/><circle cx="3101" cy="213" r="5.8"/><circle cx="3259" cy="221" r="7.0"/><circle cx="3156" cy="329" r="7.2"/><circle cx="3054" cy="353" r="6.3"/><circle cx="3238" cy="255" r="4.2"/><circle cx="3066" cy="284" r="6.9"/><circle cx="3071" cy="317" r="7.6"/><circle cx="3161" cy="167" r="6.0"/><circle cx="3049" cy="288" r="5.1"/><circle cx="3151" cy="325" r="5.8"/><circle cx="3166" cy="164" r="4.1"/><circle cx="3247" cy="142" r="6.7"/><circle cx="3049" cy="189" r="7.9"/><circle cx="3155" cy="122" r="5.8"/><circle cx="3099" cy="336" r="6.7"/><circle cx="3187" cy="250" r="7.3"/><circle cx="3007" cy="264" r="4.4"/><circle cx="3131" cy="291" r="7.8"/><circle cx="3022" cy="239" r="6.3"/><circle cx="3199" cy="283" r="4.4"/><circle cx="3096" cy="278" r="3.9"/><circle cx="3113" cy="308" r="4.6"/><circle cx="3233" cy="246" r="6.1"/><circle cx="3169" cy="193" r="6.6"/><circle cx="3158" cy="257" r="5.0"/><circle cx="3023" cy="265" r="7.7"/><circle cx="3197" cy="194" r="5.1"/><circle cx="3199" cy="249" r="5.6"/><circle cx="3120" cy="321" r="4.1"/><circle cx="3024" cy="297" r="7.9"/><circle cx="3010" cy="254" r="4.1"/><circle cx="3130" cy="149" r="7.6"/><circle cx="3189" cy="225" r="5.9"/><circle cx="3082" cy="276" r="6.0"/><circle cx="3120" cy="337" r="6.0"/><circle cx="3089" cy="273" r="4.7"/><circle cx="3055" cy="206" r="7.6"/><circle cx="3237" cy="193" r="8.0"/><circle cx="3158" cy="174" r="7.2"/><circle cx="3038" cy="225" r="6.2"/><circle cx="3122" cy="162" r="4.1"/><circle cx="3059" cy="201" r="7.2"/><circle cx="3169" cy="224" r="4.8"/><circle cx="3086" cy="322" r="7.5"/><circle cx="3265" cy="212" r="4.6"/><circle cx="3235" cy="96" r="6.1"/><circle cx="3191" cy="246" r="7.2"/><circle cx="3084" cy="308" r="4.3"/><circle cx="3224" cy="152" r="6.0"/><circle cx="3170" cy="211" r="3.8"/><circle cx="3170" cy="270" r="3.6"/><circle cx="3185" cy="141" r="4.3"/><circle cx="3129" cy="135" r="7.9"/><circle cx="3193" cy="135" r="7.7"/><circle cx="3075" cy="182" r="6.5"/><circle cx="3188" cy="232" r="4.9"/><circle cx="3166" cy="298" r="6.5"/><circle cx="3107" cy="308" r="6.8"/><circle cx="3244" cy="109" r="5.2"/><circle cx="3036" cy="213" r="6.2"/><circle cx="3169" cy="342" r="7.1"/><circle cx="3103" cy="245" r="3.6"/><circle cx="3255" cy="216" r="4.4"/><circle cx="3176" cy="142" r="5.6"/><circle cx="3174" cy="287" r="4.1"/><circle cx="3059" cy="339" r="5.2"/><circle cx="3145" cy="308" r="6.1"/><circle cx="3087" cy="342" r="4.3"/><circle cx="3231" cy="183" r="5.8"/><circle cx="3149" cy="302" r="4.7"/><circle cx="3218" cy="103" r="6.1"/><circle cx="3216" cy="133" r="5.0"/><circle cx="3091" cy="307" r="6.4"/><circle cx="3140" cy="289" r="3.7"/><circle cx="3227" cy="279" r="6.5"/><circle cx="3255" cy="224" r="4.2"/><circle cx="3256" cy="109" r="7.8"/><circle cx="3061" cy="233" r="6.2"/><circle cx="3079" cy="290" r="5.6"/><circle cx="3173" cy="232" r="5.4"/><circle cx="3228" cy="243" r="6.3"/><circle cx="3085" cy="192" r="6.6"/><circle cx="3057" cy="325" r="6.9"/><circle cx="3261" cy="233" r="6.9"/><circle cx="3155" cy="141" r="5.7"/><circle cx="3145" cy="227" r="8.0"/><circle cx="3261" cy="230" r="7.3"/><circle cx="3109" cy="311" r="7.3"/><circle cx="3152" cy="223" r="5.3"/><circle cx="3187" cy="103" r="5.5"/><circle cx="3146" cy="201" r="6.0"/><circle cx="3074" cy="218" r="7.6"/><circle cx="3036" cy="207" r="5.9"/><circle cx="3129" cy="174" r="5.9"/><circle cx="3053" cy="259" r="5.4"/><circle cx="3250" cy="121" r="7.6"/><circle cx="3186" cy="175" r="4.9"/><circle cx="3097" cy="260" r="3.7"/><circle cx="3030" cy="291" r="6.8"/><circle cx="3035" cy="229" r="7.6"/><circle cx="3144" cy="208" r="6.8"/><circle cx="3102" cy="201" r="6.2"/><circle cx="3143" cy="130" r="6.9"/><circle cx="3056" cy="263" r="4.9"/><circle cx="3173" cy="234" r="6.2"/><circle cx="3230" cy="257" r="3.8"/><circle cx="3231" cy="150" r="4.1"/><circle cx="3243" cy="174" r="5.5"/><circle cx="3086" cy="345" r="5.8"/><circle cx="3239" cy="122" r="5.3"/><circle cx="3066" cy="290" r="3.7"/><circle cx="3225" cy="204" r="6.6"/><circle cx="3213" cy="120" r="5.9"/><circle cx="3110" cy="278" r="4.6"/><circle cx="3261" cy="117" r="4.9"/><circle cx="3137" cy="299" r="5.3"/><circle cx="3136" cy="278" r="4.6"/><circle cx="3149" cy="230" r="3.8"/><circle cx="3154" cy="126" r="7.6"/><circle cx="3250" cy="111" r="7.8"/><circle cx="3125" cy="301" r="6.5"/><circle cx="3089" cy="216" r="7.4"/><circle cx="3140" cy="206" r="5.4"/><circle cx="3050" cy="213" r="7.1"/><circle cx="3200" cy="199" r="4.5"/><circle cx="3170" cy="199" r="6.9"/><circle cx="3162" cy="227" r="6.1"/><circle cx="3071" cy="342" r="7.6"/><circle cx="3220" cy="199" r="3.9"/><circle cx="3188" cy="301" r="7.1"/><circle cx="3207" cy="199" r="4.1"/><circle cx="3195" cy="104" r="5.9"/><circle cx="3093" cy="217" r="7.8"/><circle cx="3173" cy="261" r="3.5"/><circle cx="3064" cy="352" r="4.6"/><circle cx="3180" cy="180" r="4.8"/><circle cx="3178" cy="245" r="5.0"/><circle cx="3144" cy="195" r="3.8"/><circle cx="3190" cy="300" r="7.5"/><circle cx="3167" cy="293" r="7.2"/><circle cx="3070" cy="198" r="5.3"/><circle cx="3069" cy="340" r="5.1"/><circle cx="3149" cy="228" r="6.1"/><circle cx="3219" cy="106" r="3.7"/><circle cx="3162" cy="299" r="3.6"/><circle cx="3045" cy="218" r="7.5"/><circle cx="3047" cy="225" r="4.9"/><circle cx="3255" cy="203" r="5.7"/><circle cx="3143" cy="253" r="7.7"/><circle cx="3100" cy="165" r="7.9"/><circle cx="3177" cy="243" r="5.6"/><circle cx="3078" cy="287" r="4.4"/><circle cx="3044" cy="298" r="4.8"/><circle cx="3106" cy="338" r="7.7"/><circle cx="3202" cy="99" r="7.5"/><circle cx="3021" cy="340" r="4.4"/><circle cx="3117" cy="219" r="7.3"/><circle cx="3262" cy="153" r="5.1"/><circle cx="3142" cy="349" r="5.6"/><circle cx="3195" cy="217" r="4.3"/><circle cx="3163" cy="117" r="7.5"/><circle cx="3169" cy="213" r="8.0"/><circle cx="3143" cy="120" r="4.4"/><circle cx="3120" cy="273" r="6.3"/><circle cx="3124" cy="159" r="4.4"/><circle cx="3158" cy="203" r="7.5"/><circle cx="3210" cy="234" r="3.7"/><circle cx="3198" cy="152" r="4.0"/><circle cx="3032" cy="337" r="6.8"/><circle cx="3212" cy="261" r="4.9"/><circle cx="3098" cy="161" r="7.6"/><circle cx="3185" cy="244" r="7.4"/><circle cx="3160" cy="263" r="6.7"/><circle cx="3203" cy="138" r="4.1"/><circle cx="3068" cy="361" r="6.6"/><circle cx="3074" cy="205" r="7.7"/><circle cx="3169" cy="113" r="5.5"/><circle cx="3025" cy="276" r="3.9"/><circle cx="3149" cy="263" r="4.5"/><circle cx="3102" cy="220" r="4.9"/><circle cx="3058" cy="182" r="6.7"/><circle cx="3218" cy="261" r="4.4"/><circle cx="3208" cy="145" r="4.3"/><circle cx="3115" cy="157" r="4.6"/><circle cx="3219" cy="189" r="6.5"/><circle cx="3089" cy="240" r="7.1"/><circle cx="3116" cy="189" r="5.2"/><circle cx="3028" cy="332" r="6.5"/><circle cx="3153" cy="221" r="7.5"/><circle cx="3185" cy="169" r="6.2"/><circle cx="3209" cy="106" r="4.5"/><circle cx="3059" cy="272" r="4.9"/><circle cx="3196" cy="281" r="7.7"/><circle cx="3098" cy="290" r="6.5"/><circle cx="3192" cy="245" r="4.7"/><circle cx="3246" cy="208" r="6.4"/><circle cx="3217" cy="171" r="3.9"/><circle cx="3087" cy="197" r="7.9"/><circle cx="3068" cy="187" r="5.5"/><circle cx="3100" cy="187" r="5.9"/><circle cx="3108" cy="194" r="5.9"/><circle cx="3054" cy="244" r="3.7"/><circle cx="3215" cy="237" r="6.2"/><circle cx="3226" cy="244" r="4.8"/><circle cx="3049" cy="299" r="4.6"/><circle cx="3238" cy="164" r="7.1"/><circle cx="3147" cy="245" r="3.9"/><circle cx="3217" cy="103" r="4.8"/><circle cx="3148" cy="307" r="6.9"/><circle cx="3024" cy="264" r="4.6"/><circle cx="3040" cy="295" r="4.8"/><circle cx="3176" cy="154" r="6.0"/><circle cx="3061" cy="301" r="4.3"/><circle cx="3141" cy="301" r="7.5"/><circle cx="3107" cy="180" r="7.9"/><circle cx="3134" cy="236" r="3.7"/><circle cx="3195" cy="285" r="5.6"/><circle cx="3247" cy="200" r="6.9"/><circle cx="3223" cy="273" r="5.2"/><circle cx="3142" cy="285" r="7.7"/><circle cx="3217" cy="204" r="5.7"/><circle cx="3056" cy="205" r="4.3"/><circle cx="3080" cy="359" r="6.0"/><circle cx="3032" cy="268" r="6.4"/><circle cx="3210" cy="135" r="5.1"/><circle cx="3158" cy="341" r="6.5"/><circle cx="3065" cy="287" r="7.0"/><circle cx="3161" cy="148" r="5.8"/><circle cx="3048" cy="299" r="5.8"/><circle cx="3085" cy="239" r="7.3"/><circle cx="3221" cy="220" r="6.6"/><circle cx="3071" cy="335" r="5.8"/><circle cx="3247" cy="181" r="7.8"/><circle cx="3148" cy="355" r="4.3"/><circle cx="3131" cy="147" r="7.0"/><circle cx="3216" cy="193" r="4.2"/><circle cx="3143" cy="230" r="6.2"/><circle cx="3075" cy="364" r="4.6"/><circle cx="3178" cy="152" r="5.5"/><circle cx="3101" cy="310" r="7.0"/><circle cx="3193" cy="256" r="7.0"/><circle cx="3088" cy="158" r="7.1"/><circle cx="3235" cy="230" r="4.6"/><circle cx="3073" cy="236" r="5.7"/><circle cx="3042" cy="302" r="4.5"/><circle cx="3194" cy="112" r="6.1"/><circle cx="3130" cy="217" r="5.7"/><circle cx="3231" cy="170" r="3.7"/><circle cx="3213" cy="202" r="6.2"/><circle cx="3247" cy="110" r="6.7"/><circle cx="3223" cy="143" r="6.1"/><circle cx="3147" cy="233" r="7.4"/><circle cx="3044" cy="320" r="4.3"/><circle cx="3085" cy="172" r="4.2"/><circle cx="3127" cy="287" r="3.6"/><circle cx="3098" cy="279" r="5.7"/><circle cx="3125" cy="358" r="5.5"/><circle cx="3224" cy="269" r="5.5"/><circle cx="3192" cy="152" r="4.7"/><circle cx="3153" cy="214" r="7.1"/><circle cx="3216" cy="143" r="3.8"/><circle cx="3167" cy="167" r="7.6"/><circle cx="3102" cy="237" r="6.1"/><circle cx="3082" cy="180" r="5.9"/><circle cx="3107" cy="273" r="7.1"/><circle cx="3198" cy="178" r="4.6"/><circle cx="3255" cy="244" r="4.2"/><circle cx="3196" cy="178" r="4.9"/><circle cx="3223" cy="110" r="3.7"/><circle cx="3183" cy="285" r="4.9"/><circle cx="3050" cy="198" r="6.3"/><circle cx="3226" cy="252" r="5.9"/></g><polygon points="3216.2,114.8 3234.8,135.7 3240.6,158.9 3232.4,191.4 3241.7,219.2 3232.4,242.5 3218.5,265.7 3176.7,288.9 3172.1,309.8 3148.9,326 3093.2,335.3 3058.3,326 3035.1,307.5 3032.8,288.9 3039.8,265.7 3032.8,242.5 3044.4,219.2 3069.9,193.7 3097.8,168.2 3125.7,145 3158.2,131 3186,124.1 3204.6,117.1" fill="#E87F7B" /><g fill="#E87F7B"><circle cx="3073" cy="251" r="4.6"/><circle cx="3025" cy="316" r="4.3"/><circle cx="3044" cy="280" r="6.1"/><circle cx="3099" cy="146" r="9.9"/><circle cx="3133" cy="300" r="7.6"/><circle cx="3124" cy="295" r="9.2"/><circle cx="3240" cy="124" r="4.4"/><circle cx="3107" cy="169" r="4.6"/><circle cx="3206" cy="292" r="4.1"/><circle cx="3149" cy="153" r="8.2"/><circle cx="3125" cy="348" r="5.1"/><circle cx="3099" cy="180" r="5.6"/><circle cx="3094" cy="281" r="8.0"/><circle cx="3233" cy="251" r="8.2"/><circle cx="3239" cy="215" r="5.9"/><circle cx="3107" cy="323" r="6.8"/><circle cx="3104" cy="305" r="5.7"/><circle cx="3059" cy="183" r="7.4"/><circle cx="3051" cy="240" r="6.1"/><circle cx="3059" cy="217" r="6.2"/><circle cx="3084" cy="211" r="5.5"/><circle cx="3233" cy="142" r="5.8"/><circle cx="3187" cy="187" r="5.6"/><circle cx="3107" cy="346" r="4.1"/><circle cx="3193" cy="160" r="5.9"/><circle cx="3253" cy="186" r="7.6"/><circle cx="3207" cy="289" r="5.6"/><circle cx="3088" cy="193" r="4.7"/><circle cx="3024" cy="334" r="9.1"/><circle cx="3089" cy="302" r="6.8"/><circle cx="3107" cy="152" r="7.1"/><circle cx="3085" cy="204" r="5.9"/><circle cx="3147" cy="123" r="9.3"/><circle cx="3191" cy="158" r="8.5"/><circle cx="3196" cy="273" r="7.7"/><circle cx="3077" cy="286" r="8.0"/><circle cx="3110" cy="194" r="8.2"/><circle cx="3234" cy="148" r="7.0"/><circle cx="3080" cy="182" r="6.5"/><circle cx="3008" cy="263" r="6.3"/><circle cx="3153" cy="313" r="7.0"/><circle cx="3060" cy="279" r="6.8"/><circle cx="3234" cy="151" r="7.2"/><circle cx="3171" cy="110" r="7.2"/><circle cx="3116" cy="195" r="8.7"/><circle cx="3090" cy="225" r="9.4"/><circle cx="3109" cy="219" r="5.3"/><circle cx="3046" cy="272" r="4.1"/><circle cx="3093" cy="204" r="5.8"/><circle cx="3042" cy="249" r="4.2"/><circle cx="3190" cy="241" r="8.8"/><circle cx="3106" cy="187" r="7.7"/><circle cx="3016" cy="225" r="5.7"/><circle cx="3159" cy="217" r="5.1"/><circle cx="3089" cy="156" r="9.2"/><circle cx="3241" cy="244" r="9.0"/><circle cx="3072" cy="273" r="8.1"/><circle cx="3051" cy="217" r="8.2"/><circle cx="3099" cy="247" r="8.5"/><circle cx="3170" cy="260" r="6.7"/><circle cx="3112" cy="202" r="6.4"/><circle cx="3076" cy="319" r="7.3"/><circle cx="3237" cy="192" r="9.3"/><circle cx="3245" cy="95" r="9.9"/><circle cx="3038" cy="228" r="9.5"/><circle cx="3084" cy="186" r="9.0"/><circle cx="3263" cy="127" r="4.4"/><circle cx="3184" cy="151" r="5.5"/><circle cx="3107" cy="152" r="9.8"/><circle cx="3134" cy="268" r="7.3"/><circle cx="3148" cy="261" r="7.1"/><circle cx="3152" cy="319" r="5.9"/><circle cx="3095" cy="335" r="9.2"/><circle cx="3086" cy="287" r="7.1"/><circle cx="3188" cy="279" r="9.9"/><circle cx="3044" cy="260" r="4.5"/><circle cx="3133" cy="244" r="10.0"/><circle cx="3101" cy="165" r="4.1"/><circle cx="3202" cy="235" r="4.9"/><circle cx="3139" cy="120" r="6.3"/><circle cx="3029" cy="284" r="7.8"/><circle cx="3032" cy="212" r="4.7"/><circle cx="3208" cy="220" r="7.4"/><circle cx="3045" cy="329" r="9.6"/><circle cx="3235" cy="100" r="6.6"/><circle cx="3070" cy="228" r="8.6"/><circle cx="3215" cy="195" r="7.6"/><circle cx="3193" cy="156" r="7.5"/><circle cx="3193" cy="177" r="5.0"/><circle cx="3091" cy="299" r="6.8"/><circle cx="3154" cy="203" r="9.4"/><circle cx="3191" cy="261" r="8.0"/><circle cx="3181" cy="150" r="5.3"/><circle cx="3262" cy="122" r="6.7"/><circle cx="3186" cy="203" r="7.3"/><circle cx="3171" cy="197" r="6.0"/><circle cx="3015" cy="286" r="7.5"/><circle cx="3078" cy="291" r="7.8"/><circle cx="3147" cy="221" r="4.1"/><circle cx="3102" cy="172" r="5.3"/><circle cx="3078" cy="195" r="7.9"/><circle cx="3167" cy="301" r="5.3"/><circle cx="3188" cy="239" r="4.4"/><circle cx="3216" cy="126" r="8.6"/><circle cx="3252" cy="155" r="6.0"/><circle cx="3132" cy="118" r="9.7"/><circle cx="3153" cy="125" r="7.4"/><circle cx="3169" cy="162" r="4.6"/><circle cx="3063" cy="221" r="7.8"/><circle cx="3100" cy="158" r="5.6"/><circle cx="3241" cy="172" r="8.9"/><circle cx="3056" cy="330" r="8.3"/><circle cx="3131" cy="202" r="8.6"/><circle cx="3218" cy="196" r="4.3"/><circle cx="3017" cy="240" r="4.2"/><circle cx="3178" cy="261" r="8.8"/><circle cx="3076" cy="350" r="4.8"/><circle cx="3120" cy="320" r="5.2"/><circle cx="3196" cy="134" r="4.2"/><circle cx="3098" cy="297" r="5.0"/><circle cx="3085" cy="230" r="6.8"/><circle cx="3143" cy="313" r="9.7"/><circle cx="3109" cy="311" r="5.9"/><circle cx="3256" cy="198" r="5.6"/><circle cx="3191" cy="155" r="9.0"/><circle cx="3156" cy="149" r="5.1"/><circle cx="3106" cy="189" r="7.8"/><circle cx="3178" cy="314" r="7.7"/><circle cx="3099" cy="265" r="9.6"/><circle cx="3097" cy="163" r="4.3"/><circle cx="3244" cy="175" r="7.4"/><circle cx="3200" cy="144" r="6.3"/><circle cx="3201" cy="239" r="8.9"/><circle cx="3184" cy="135" r="5.5"/><circle cx="3096" cy="206" r="8.3"/><circle cx="3110" cy="175" r="5.1"/><circle cx="3146" cy="354" r="7.0"/><circle cx="3056" cy="333" r="9.8"/><circle cx="3088" cy="298" r="5.4"/><circle cx="3117" cy="357" r="5.7"/><circle cx="3060" cy="200" r="9.5"/><circle cx="3191" cy="135" r="8.0"/><circle cx="3075" cy="276" r="4.4"/><circle cx="3256" cy="176" r="5.1"/><circle cx="3051" cy="185" r="5.4"/><circle cx="3172" cy="191" r="5.7"/><circle cx="3174" cy="144" r="9.1"/><circle cx="3167" cy="335" r="8.2"/><circle cx="3231" cy="262" r="9.9"/><circle cx="3137" cy="245" r="8.0"/><circle cx="3032" cy="321" r="7.8"/><circle cx="3186" cy="213" r="6.3"/><circle cx="3180" cy="203" r="8.3"/><circle cx="3105" cy="149" r="7.0"/><circle cx="3163" cy="246" r="4.4"/><circle cx="3170" cy="211" r="7.0"/><circle cx="3161" cy="253" r="6.3"/><circle cx="3251" cy="127" r="7.2"/><circle cx="3199" cy="173" r="4.3"/><circle cx="3109" cy="330" r="4.2"/><circle cx="3133" cy="151" r="9.9"/><circle cx="3227" cy="268" r="6.2"/><circle cx="3215" cy="229" r="6.0"/><circle cx="3069" cy="313" r="4.9"/><circle cx="3123" cy="236" r="7.6"/><circle cx="3234" cy="140" r="9.5"/><circle cx="3077" cy="266" r="5.1"/><circle cx="3021" cy="241" r="7.0"/><circle cx="3213" cy="223" r="7.0"/><circle cx="3066" cy="311" r="8.6"/><circle cx="3149" cy="340" r="7.4"/><circle cx="3215" cy="127" r="5.4"/><circle cx="3106" cy="325" r="5.1"/><circle cx="3167" cy="339" r="8.3"/><circle cx="3057" cy="262" r="4.5"/><circle cx="3054" cy="273" r="9.2"/><circle cx="3093" cy="174" r="4.2"/><circle cx="3170" cy="163" r="5.1"/><circle cx="3163" cy="281" r="6.8"/><circle cx="3187" cy="216" r="9.1"/><circle cx="3199" cy="186" r="7.7"/><circle cx="3085" cy="200" r="8.5"/><circle cx="3041" cy="263" r="8.6"/><circle cx="3115" cy="316" r="8.3"/><circle cx="3111" cy="214" r="4.3"/><circle cx="3137" cy="351" r="9.0"/><circle cx="3094" cy="283" r="4.9"/><circle cx="3065" cy="248" r="5.0"/><circle cx="3078" cy="331" r="4.2"/><circle cx="3078" cy="326" r="4.2"/><circle cx="3183" cy="213" r="9.3"/><circle cx="3252" cy="194" r="6.3"/><circle cx="3201" cy="254" r="4.5"/><circle cx="3114" cy="164" r="4.3"/><circle cx="3120" cy="354" r="9.1"/><circle cx="3080" cy="281" r="7.6"/><circle cx="3182" cy="154" r="9.5"/><circle cx="3241" cy="156" r="4.2"/><circle cx="3114" cy="181" r="4.7"/><circle cx="3160" cy="239" r="5.7"/><circle cx="3028" cy="338" r="5.1"/><circle cx="3102" cy="289" r="4.7"/><circle cx="3181" cy="182" r="5.2"/><circle cx="3008" cy="263" r="7.8"/><circle cx="3127" cy="187" r="5.0"/><circle cx="3126" cy="174" r="5.0"/><circle cx="3181" cy="256" r="7.2"/><circle cx="3224" cy="268" r="6.3"/><circle cx="3109" cy="270" r="4.9"/><circle cx="3058" cy="189" r="7.4"/><circle cx="3040" cy="196" r="7.0"/><circle cx="3200" cy="108" r="6.3"/><circle cx="3046" cy="268" r="6.8"/><circle cx="3169" cy="294" r="4.2"/><circle cx="3070" cy="314" r="7.7"/><circle cx="3034" cy="217" r="5.2"/><circle cx="3006" cy="327" r="6.0"/><circle cx="3145" cy="235" r="4.1"/><circle cx="3031" cy="308" r="9.3"/><circle cx="3082" cy="228" r="7.5"/><circle cx="3035" cy="245" r="6.4"/><circle cx="3139" cy="168" r="7.3"/><circle cx="3210" cy="154" r="9.6"/><circle cx="3060" cy="212" r="4.8"/><circle cx="3151" cy="214" r="6.3"/><circle cx="3230" cy="114" r="8.2"/><circle cx="3229" cy="128" r="6.2"/><circle cx="3262" cy="233" r="8.2"/><circle cx="3111" cy="257" r="9.4"/><circle cx="3043" cy="316" r="4.2"/><circle cx="3198" cy="286" r="5.7"/><circle cx="3044" cy="235" r="5.8"/><circle cx="3082" cy="358" r="8.5"/><circle cx="3174" cy="324" r="8.7"/><circle cx="3032" cy="344" r="8.2"/><circle cx="3090" cy="223" r="9.5"/><circle cx="3177" cy="335" r="5.1"/><circle cx="3255" cy="245" r="6.4"/><circle cx="3136" cy="340" r="9.1"/><circle cx="3107" cy="169" r="8.6"/><circle cx="3200" cy="157" r="4.7"/><circle cx="3100" cy="206" r="9.9"/><circle cx="3129" cy="186" r="8.4"/><circle cx="3117" cy="212" r="9.2"/><circle cx="3015" cy="321" r="6.2"/><circle cx="3018" cy="234" r="7.6"/><circle cx="3148" cy="197" r="9.8"/><circle cx="3101" cy="173" r="9.4"/><circle cx="3131" cy="150" r="7.5"/><circle cx="3202" cy="222" r="9.3"/><circle cx="3100" cy="253" r="10.0"/><circle cx="3100" cy="170" r="9.0"/><circle cx="3165" cy="251" r="7.9"/><circle cx="3086" cy="225" r="9.8"/><circle cx="3140" cy="298" r="4.9"/><circle cx="3215" cy="205" r="6.4"/><circle cx="3232" cy="198" r="7.4"/><circle cx="3078" cy="277" r="4.8"/><circle cx="3224" cy="177" r="8.7"/><circle cx="3087" cy="316" r="4.4"/><circle cx="3213" cy="266" r="7.8"/><circle cx="3017" cy="300" r="5.7"/><circle cx="3015" cy="261" r="5.9"/><circle cx="3150" cy="347" r="7.6"/><circle cx="3199" cy="203" r="5.1"/><circle cx="3247" cy="106" r="6.7"/><circle cx="3211" cy="209" r="9.1"/><circle cx="3203" cy="191" r="9.9"/><circle cx="3122" cy="208" r="5.6"/><circle cx="3198" cy="105" r="6.2"/><circle cx="3033" cy="320" r="8.2"/><circle cx="3180" cy="239" r="5.1"/><circle cx="3085" cy="354" r="9.1"/><circle cx="3152" cy="345" r="5.2"/><circle cx="3058" cy="202" r="7.3"/><circle cx="3145" cy="322" r="6.0"/><circle cx="3035" cy="331" r="4.0"/><circle cx="3117" cy="191" r="4.0"/><circle cx="3134" cy="279" r="4.0"/><circle cx="3106" cy="305" r="6.0"/><circle cx="3030" cy="294" r="5.7"/><circle cx="3046" cy="250" r="9.9"/><circle cx="3056" cy="182" r="7.8"/><circle cx="3160" cy="231" r="4.4"/><circle cx="3106" cy="247" r="8.3"/><circle cx="3227" cy="186" r="5.4"/><circle cx="3158" cy="220" r="6.9"/><circle cx="3188" cy="150" r="8.3"/><circle cx="3072" cy="291" r="9.1"/><circle cx="3156" cy="157" r="9.6"/><circle cx="3019" cy="318" r="6.5"/><circle cx="3103" cy="287" r="5.9"/><circle cx="3118" cy="259" r="6.4"/><circle cx="3245" cy="213" r="5.9"/><circle cx="3132" cy="150" r="8.4"/><circle cx="3203" cy="113" r="6.8"/><circle cx="3084" cy="324" r="8.1"/><circle cx="3011" cy="282" r="4.9"/><circle cx="3154" cy="240" r="8.7"/><circle cx="3217" cy="112" r="9.8"/><circle cx="3212" cy="146" r="5.2"/><circle cx="3055" cy="236" r="7.7"/><circle cx="3165" cy="119" r="5.0"/><circle cx="3207" cy="249" r="4.2"/><circle cx="3186" cy="187" r="6.5"/><circle cx="3080" cy="327" r="5.1"/><circle cx="3196" cy="159" r="8.4"/><circle cx="3146" cy="156" r="7.4"/><circle cx="3037" cy="221" r="8.0"/><circle cx="3075" cy="165" r="9.8"/><circle cx="3076" cy="228" r="4.3"/><circle cx="3236" cy="130" r="4.6"/><circle cx="3165" cy="238" r="4.2"/><circle cx="3198" cy="236" r="6.8"/><circle cx="3209" cy="158" r="8.9"/><circle cx="3099" cy="307" r="8.1"/><circle cx="3064" cy="212" r="7.3"/><circle cx="3101" cy="291" r="9.1"/><circle cx="3254" cy="227" r="6.2"/><circle cx="3153" cy="183" r="4.7"/><circle cx="3064" cy="353" r="7.8"/><circle cx="3031" cy="350" r="4.2"/><circle cx="3178" cy="105" r="5.4"/><circle cx="3243" cy="113" r="4.2"/><circle cx="3153" cy="118" r="5.0"/><circle cx="3235" cy="102" r="4.4"/><circle cx="3180" cy="104" r="7.2"/><circle cx="3010" cy="246" r="4.8"/><circle cx="3143" cy="137" r="7.6"/><circle cx="3143" cy="185" r="8.9"/><circle cx="3135" cy="140" r="6.1"/><circle cx="3191" cy="202" r="4.7"/><circle cx="3132" cy="242" r="8.0"/><circle cx="3092" cy="283" r="8.4"/><circle cx="3160" cy="278" r="9.3"/><circle cx="3166" cy="258" r="7.3"/><circle cx="3252" cy="109" r="7.5"/><circle cx="3141" cy="356" r="9.2"/><circle cx="3224" cy="279" r="8.1"/><circle cx="3141" cy="248" r="9.8"/><circle cx="3225" cy="200" r="5.7"/><circle cx="3092" cy="182" r="8.6"/><circle cx="3006" cy="302" r="7.8"/><circle cx="3072" cy="250" r="6.8"/><circle cx="3143" cy="179" r="4.1"/><circle cx="3182" cy="213" r="6.9"/><circle cx="3064" cy="334" r="5.6"/><circle cx="3070" cy="220" r="7.6"/><circle cx="3212" cy="179" r="7.1"/><circle cx="3065" cy="269" r="7.1"/><circle cx="3071" cy="232" r="4.4"/><circle cx="3070" cy="332" r="4.8"/><circle cx="3082" cy="178" r="7.6"/><circle cx="3196" cy="275" r="8.1"/><circle cx="3213" cy="237" r="9.9"/><circle cx="3023" cy="300" r="8.8"/><circle cx="3101" cy="185" r="5.7"/><circle cx="3092" cy="308" r="6.7"/><circle cx="3103" cy="166" r="7.0"/><circle cx="3161" cy="294" r="8.8"/><circle cx="3129" cy="316" r="6.4"/><circle cx="3247" cy="125" r="9.5"/><circle cx="3057" cy="333" r="6.9"/><circle cx="3093" cy="348" r="6.4"/><circle cx="3040" cy="286" r="6.9"/><circle cx="3255" cy="139" r="6.1"/><circle cx="3038" cy="276" r="10.0"/><circle cx="3256" cy="213" r="4.3"/><circle cx="3075" cy="350" r="6.4"/><circle cx="3035" cy="233" r="4.5"/><circle cx="3146" cy="245" r="8.1"/><circle cx="3206" cy="233" r="4.9"/><circle cx="3255" cy="107" r="4.9"/><circle cx="3085" cy="299" r="6.5"/><circle cx="3249" cy="227" r="7.6"/><circle cx="3154" cy="168" r="8.6"/><circle cx="3125" cy="255" r="6.7"/><circle cx="3228" cy="216" r="5.8"/><circle cx="3053" cy="351" r="6.2"/><circle cx="3206" cy="198" r="9.3"/><circle cx="3048" cy="293" r="5.3"/><circle cx="3061" cy="310" r="4.1"/><circle cx="3135" cy="269" r="9.3"/><circle cx="3126" cy="136" r="6.9"/><circle cx="3167" cy="189" r="4.8"/><circle cx="3128" cy="261" r="4.8"/><circle cx="3087" cy="185" r="9.3"/><circle cx="3238" cy="249" r="8.5"/><circle cx="3113" cy="237" r="4.4"/><circle cx="3125" cy="178" r="8.1"/><circle cx="3246" cy="150" r="5.3"/><circle cx="3238" cy="130" r="6.7"/><circle cx="3195" cy="151" r="7.6"/><circle cx="3158" cy="129" r="4.3"/><circle cx="3255" cy="165" r="9.6"/><circle cx="3028" cy="279" r="6.0"/><circle cx="3095" cy="243" r="4.9"/><circle cx="3135" cy="345" r="8.7"/><circle cx="3139" cy="192" r="4.7"/><circle cx="3074" cy="247" r="4.2"/><circle cx="3171" cy="215" r="7.9"/><circle cx="3026" cy="225" r="6.8"/><circle cx="3131" cy="266" r="9.4"/><circle cx="3262" cy="164" r="8.7"/><circle cx="3216" cy="151" r="5.2"/><circle cx="3070" cy="340" r="4.3"/><circle cx="3137" cy="205" r="7.6"/><circle cx="3150" cy="352" r="6.8"/><circle cx="3133" cy="221" r="5.8"/><circle cx="3080" cy="322" r="9.5"/><circle cx="3136" cy="181" r="5.3"/><circle cx="3185" cy="310" r="7.9"/><circle cx="3216" cy="134" r="4.4"/><circle cx="3220" cy="170" r="9.5"/><circle cx="3067" cy="344" r="9.7"/><circle cx="3094" cy="308" r="7.7"/><circle cx="3165" cy="342" r="5.9"/><circle cx="3019" cy="273" r="8.3"/><circle cx="3235" cy="172" r="9.4"/><circle cx="3051" cy="281" r="8.8"/><circle cx="3169" cy="120" r="4.2"/><circle cx="3196" cy="101" r="7.0"/><circle cx="3154" cy="351" r="4.8"/><circle cx="3173" cy="223" r="7.3"/><circle cx="3105" cy="184" r="9.7"/><circle cx="3215" cy="149" r="9.2"/><circle cx="3177" cy="304" r="5.5"/><circle cx="3188" cy="230" r="7.3"/><circle cx="3086" cy="162" r="5.9"/><circle cx="3052" cy="268" r="5.0"/><circle cx="3090" cy="347" r="8.5"/><circle cx="3246" cy="167" r="8.6"/><circle cx="3091" cy="163" r="6.0"/><circle cx="3142" cy="222" r="6.5"/><circle cx="3011" cy="328" r="8.2"/><circle cx="3145" cy="218" r="8.4"/><circle cx="3201" cy="155" r="6.8"/><circle cx="3055" cy="249" r="4.7"/><circle cx="3066" cy="177" r="4.6"/><circle cx="3097" cy="233" r="5.0"/><circle cx="3113" cy="199" r="9.0"/><circle cx="3065" cy="218" r="7.0"/><circle cx="3259" cy="119" r="7.9"/><circle cx="3118" cy="278" r="6.2"/><circle cx="3206" cy="241" r="6.2"/><circle cx="3243" cy="155" r="5.1"/><circle cx="3143" cy="138" r="9.8"/><circle cx="3207" cy="101" r="7.6"/><circle cx="3042" cy="240" r="4.8"/><circle cx="3075" cy="288" r="8.2"/><circle cx="3196" cy="175" r="7.6"/><circle cx="3207" cy="268" r="7.7"/><circle cx="3191" cy="214" r="8.6"/><circle cx="3129" cy="354" r="7.7"/><circle cx="3240" cy="100" r="9.3"/><circle cx="3188" cy="208" r="9.8"/><circle cx="3036" cy="205" r="6.4"/><circle cx="3155" cy="295" r="7.9"/><circle cx="3110" cy="268" r="6.2"/><circle cx="3184" cy="258" r="6.5"/><circle cx="3014" cy="285" r="6.2"/><circle cx="3132" cy="251" r="7.9"/><circle cx="3086" cy="363" r="6.1"/><circle cx="3061" cy="329" r="6.1"/><circle cx="3138" cy="200" r="9.1"/><circle cx="3108" cy="335" r="8.8"/><circle cx="3071" cy="308" r="8.1"/><circle cx="3191" cy="211" r="9.1"/><circle cx="3100" cy="208" r="6.3"/><circle cx="3123" cy="174" r="7.9"/><circle cx="3169" cy="201" r="5.5"/><circle cx="3083" cy="303" r="5.9"/><circle cx="3124" cy="218" r="4.6"/><circle cx="3237" cy="213" r="8.8"/><circle cx="3102" cy="338" r="9.5"/><circle cx="3109" cy="274" r="5.8"/><circle cx="3200" cy="168" r="6.3"/><circle cx="3177" cy="273" r="4.7"/><circle cx="3118" cy="269" r="4.9"/><circle cx="3062" cy="302" r="7.8"/><circle cx="3093" cy="286" r="9.4"/><circle cx="3207" cy="158" r="4.5"/><circle cx="3166" cy="147" r="5.5"/><circle cx="3054" cy="342" r="8.6"/><circle cx="3018" cy="249" r="5.4"/><circle cx="3106" cy="251" r="9.3"/><circle cx="3192" cy="300" r="6.1"/><circle cx="3202" cy="248" r="6.8"/><circle cx="3069" cy="284" r="5.2"/><circle cx="3152" cy="238" r="5.7"/><circle cx="3211" cy="176" r="6.5"/><circle cx="3075" cy="245" r="5.7"/><circle cx="3143" cy="224" r="8.4"/><circle cx="3046" cy="261" r="4.2"/><circle cx="3241" cy="272" r="7.8"/><circle cx="3079" cy="312" r="8.8"/><circle cx="3164" cy="215" r="6.0"/><circle cx="3096" cy="299" r="5.1"/><circle cx="3187" cy="280" r="4.7"/><circle cx="3224" cy="192" r="4.5"/><circle cx="3075" cy="186" r="8.8"/><circle cx="3102" cy="270" r="7.6"/><circle cx="3072" cy="223" r="4.1"/><circle cx="3058" cy="283" r="6.7"/><circle cx="3189" cy="180" r="7.6"/><circle cx="3237" cy="146" r="5.9"/><circle cx="3129" cy="173" r="4.2"/><circle cx="3120" cy="314" r="6.5"/><circle cx="3154" cy="257" r="6.1"/><circle cx="3266" cy="148" r="9.8"/><circle cx="3061" cy="260" r="6.2"/><circle cx="3042" cy="357" r="9.5"/><circle cx="3093" cy="209" r="9.2"/><circle cx="3117" cy="318" r="7.4"/><circle cx="3191" cy="145" r="4.8"/><circle cx="3062" cy="187" r="8.8"/><circle cx="3063" cy="288" r="4.5"/><circle cx="3014" cy="281" r="7.3"/><circle cx="3018" cy="322" r="4.6"/><circle cx="3147" cy="249" r="4.6"/></g><g fill="#DE7876"><circle cx="3191" cy="257" r="8.0"/><circle cx="3132" cy="286" r="4.8"/><circle cx="3173" cy="150" r="7.2"/><circle cx="3144" cy="206" r="4.5"/><circle cx="3140" cy="272" r="5.2"/><circle cx="3177" cy="240" r="5.8"/><circle cx="3233" cy="183" r="7.4"/><circle cx="3125" cy="217" r="6.7"/><circle cx="3151" cy="176" r="4.8"/><circle cx="3195" cy="188" r="7.6"/><circle cx="3052" cy="310" r="7.5"/><circle cx="3193" cy="245" r="6.0"/><circle cx="3172" cy="206" r="4.2"/><circle cx="3142" cy="160" r="5.1"/><circle cx="3129" cy="172" r="5.2"/><circle cx="3174" cy="138" r="5.7"/><circle cx="3144" cy="243" r="7.8"/><circle cx="3207" cy="199" r="6.4"/><circle cx="3066" cy="297" r="7.3"/><circle cx="3237" cy="154" r="4.3"/><circle cx="3229" cy="161" r="5.0"/><circle cx="3081" cy="313" r="6.9"/><circle cx="3223" cy="219" r="5.4"/><circle cx="3083" cy="258" r="4.9"/><circle cx="3124" cy="216" r="4.3"/><circle cx="3131" cy="196" r="4.2"/><circle cx="3128" cy="266" r="5.6"/><circle cx="3181" cy="187" r="6.2"/><circle cx="3151" cy="147" r="5.6"/><circle cx="3110" cy="183" r="6.3"/><circle cx="3061" cy="245" r="5.2"/><circle cx="3208" cy="199" r="4.1"/><circle cx="3036" cy="284" r="6.7"/><circle cx="3081" cy="274" r="5.3"/><circle cx="3198" cy="133" r="6.0"/><circle cx="3193" cy="277" r="5.5"/><circle cx="3096" cy="214" r="5.1"/><circle cx="3107" cy="219" r="4.2"/><circle cx="3199" cy="172" r="5.2"/><circle cx="3229" cy="153" r="5.2"/></g><circle cx="3258" cy="236" r="4" fill="#A85858"/><circle cx="3255" cy="253" r="3" fill="#A85858"/><circle cx="3250" cy="263" r="4" fill="#A85858"/><circle cx="3267" cy="232" r="5" fill="#A85858"/><circle cx="3246" cy="269" r="3" fill="#A85858"/><circle cx="3256" cy="269" r="2.5" fill="#A85858"/><circle cx="3186" cy="324" r="5" fill="#A85858"/><circle cx="3229" cy="242" r="3.5" fill="#A85858"/><circle cx="3237" cy="248" r="3" fill="#A85858"/><circle cx="3238.9" cy="80.8" r="4.5" fill="#E0787A"/><circle cx="3221.9" cy="62.1" r="13" fill="#6168D8"/><circle cx="3236.8" cy="68.0" r="11" fill="#6168D8"/><circle cx="3221.9" cy="45.7" r="15" fill="#7B80F0"/><circle cx="3229.3" cy="54.6" r="17" fill="#7B80F0"/><circle cx="3235.3" cy="65.1" r="12" fill="#7B80F0"/><circle cx="3224.9" cy="38.3" r="10" fill="#7B80F0"/><circle cx="3236.8" cy="50.2" r="9" fill="#7B80F0"/><circle cx="3279.9" cy="263.0" r="13" fill="#7BD46E"/><circle cx="3282.9" cy="257.0" r="15" fill="#9AF58A"/><circle cx="3287.4" cy="251.1" r="10" fill="#9AF58A"/><circle cx="3278.5" cy="249.6" r="10" fill="#9AF58A"/><circle cx="3285.9" cy="264.5" r="11" fill="#9AF58A"/>
<text x="3076.1" y="436.0" font-size="46" font-weight="normal" fill="#111" textLength="178.5" lengthAdjust="spacingAndGlyphs" >Clusters</text>
<path d="M3217 760h0M3267 814h0M3251 808h0M3048 686h0M3309 735h0M3173 628h0M3195 715h0M3119 807h0M3099 620h0M3193 743h0M3237 820h0M3143 606h0M3125 723h0M3136 645h0M3273 690h0M3130 691h0M3254 788h0M3144 717h0M3096 764h0M3138 657h0M3189 769h0M3267 792h0M3065 653h0M3214 807h0M3136 809h0M3195 645h0M3130 609h0M3155 625h0M3209 783h0M3170 675h0M3049 694h0M3248 816h0M3219 773h0M3070 678h0M3124 683h0M3179 757h0M3176 640h0M3155 601h0M3314 730h0M3182 652h0M3065 635h0M3263 794h0M3143 772h0M3261 748h0M3229 765h0M3143 750h0M3120 692h0M3259 747h0M3225 717h0M3111 741h0M3172 780h0M3224 775h0M3139 734h0M3250 783h0M3139 787h0M3288 746h0M3187 703h0M3237 754h0M3262 717h0M3230 674h0M3218 769h0M3221 755h0M3165 736h0M3102 745h0M3174 622h0M3130 611h0M3172 664h0M3214 720h0M3119 672h0M3195 653h0M3205 818h0M3273 674h0M3272 734h0M3145 600h0M3210 713h0M3213 656h0M3070 713h0M3219 800h0M3147 677h0M3104 640h0M3210 631h0M3158 647h0M3121 689h0M3074 728h0M3166 640h0M3263 783h0M3116 603h0M3213 689h0M3224 723h0M3192 652h0M3124 704h0M3172 658h0M3252 720h0M3170 807h0M3293 708h0M3162 716h0M3242 731h0M3177 806h0M3150 667h0M3124 784h0M3238 678h0M3121 771h0M3176 709h0M3182 650h0M3083 719h0M3105 781h0M3266 739h0M3224 816h0M3123 807h0M3082 725h0M3158 605h0M3070 663h0M3204 760h0M3163 646h0M3211 693h0M3083 731h0M3184 805h0M3198 728h0M3115 709h0M3112 763h0M3187 598h0M3106 661h0M3243 737h0M3209 626h0M3290 690h0M3132 775h0M3311 744h0M3103 593h0M3317 740h0M3218 657h0M3107 651h0M3215 655h0M3150 598h0M3277 735h0M3269 678h0M3283 700h0M3209 715h0M3251 668h0M3174 800h0M3216 677h0M3172 589h0M3146 665h0M3112 636h0M3086 639h0M3107 691h0M3145 813h0M3236 742h0M3174 815h0M3073 741h0M3123 742h0M3154 822h0M3143 645h0M3173 638h0M3249 754h0M3086 626h0M3231 813h0M3224 677h0M3196 826h0M3188 656h0M3153 578h0M3112 671h0M3127 576h0M3091 698h0M3154 704h0M3063 646h0M3070 707h0M3303 722h0M3178 715h0M3147 729h0M3247 806h0M3127 682h0M3072 645h0M3162 716h0M3096 638h0M3146 588h0M3160 646h0M3254 711h0M3295 737h0M3256 716h0M3166 780h0M3227 817h0M3247 749h0M3116 779h0M3149 597h0M3114 743h0M3121 579h0M3258 711h0M3077 657h0M3285 816h0M3214 624h0M3162 659h0M3134 565h0M3206 783h0M3191 608h0M3242 681h0M3308 774h0M3073 647h0M3163 680h0M3259 812h0M3192 821h0M3272 674h0M3049 716h0M3177 798h0M3152 620h0M3119 616h0M3200 657h0M3140 628h0M3282 727h0M3154 600h0M3277 693h0M3234 793h0M3217 776h0M3186 719h0M3092 666h0M3130 569h0M3129 664h0M3175 750h0M3272 809h0M3237 741h0M3193 775h0M3143 721h0M3233 702h0M3121 583h0M3064 657h0M3205 765h0M3243 644h0M3255 741h0M3236 786h0M3250 725h0M3099 700h0M3151 610h0M3226 802h0M3299 726h0M3150 591h0M3236 710h0M3244 662h0M3127 634h0M3217 802h0M3087 731h0M3057 713h0M3277 797h0M3247 673h0M3161 703h0M3120 724h0M3200 723h0M3092 613h0M3209 735h0M3237 757h0M3057 692h0M3278 818h0M3130 789h0M3224 810h0M3105 748h0M3280 689h0M3068 614h0M3083 727h0M3250 780h0M3269 753h0M3218 820h0M3146 685h0M3234 761h0M3063 670h0M3195 662h0M3073 722h0M3146 745h0M3181 819h0M3256 755h0M3124 593h0M3176 657h0M3250 807h0M3149 640h0M3182 748h0M3265 716h0M3124 652h0M3282 701h0M3054 674h0M3107 740h0M3060 634h0M3067 690h0M3150 812h0M3066 657h0M3258 658h0M3170 664h0M3166 688h0M3064 637h0M3312 746h0M3152 770h0M3164 721h0M3297 734h0M3157 796h0M3275 807h0M3255 800h0M3160 822h0M3160 634h0M3174 639h0M3088 684h0M3060 664h0M3296 799h0M3276 819h0M3092 677h0M3116 763h0M3146 769h0M3083 701h0M3318 750h0M3223 662h0M3145 690h0M3206 820h0M3108 714h0M3115 708h0M3177 751h0M3159 697h0M3214 774h0M3055 696h0M3050 665h0M3138 568h0M3124 682h0M3226 809h0M3145 704h0M3243 812h0M3126 607h0M3168 759h0M3190 666h0M3197 784h0M3079 656h0M3181 713h0M3099 683h0M3137 600h0M3118 771h0M3276 729h0M3150 730h0M3110 632h0M3251 712h0M3275 694h0M3245 725h0M3214 621h0M3171 735h0M3294 755h0M3256 700h0M3084 620h0M3140 583h0M3161 728h0M3079 693h0M3236 681h0M3203 806h0M3081 634h0M3180 705h0M3297 710h0M3229 674h0M3263 785h0M3123 591h0M3113 658h0M3219 733h0M3259 652h0M3069 731h0M3281 718h0M3149 732h0M3156 650h0M3244 672h0M3125 610h0M3309 773h0M3295 697h0M3069 673h0M3201 639h0M3070 699h0M3173 589h0M3164 635h0M3197 822h0M3162 618h0M3186 807h0M3148 731h0M3271 703h0M3166 807h0M3203 696h0M3121 761h0M3113 688h0M3256 724h0M3078 616h0M3238 757h0M3065 681h0M3216 791h0M3086 749h0M3069 717h0M3111 657h0M3135 720h0M3222 693h0M3289 808h0M3120 651h0M3159 673h0M3227 764h0M3283 739h0M3160 786h0M3232 653h0M3248 697h0M3243 726h0M3265 768h0M3192 690h0M3074 616h0M3107 784h0M3225 665h0M3224 623h0M3227 717h0M3252 697h0M3164 644h0M3249 662h0M3210 764h0M3166 745h0M3057 632h0M3170 679h0M3269 689h0M3267 767h0M3218 785h0M3215 753h0M3283 727h0M3058 653h0M3068 661h0M3065 621h0M3125 757h0M3150 606h0M3154 683h0M3170 767h0M3237 792h0M3234 766h0M3288 807h0M3266 673h0M3228 738h0M3292 753h0M3166 613h0M3133 629h0M3234 768h0M3094 705h0M3066 724h0M3143 600h0M3082 676h0M3196 818h0M3056 723h0M3256 690h0M3269 683h0M3302 724h0M3193 608h0M3161 680h0M3124 780h0M3060 705h0M3102 740h0M3248 671h0M3131 791h0M3222 807h0M3186 687h0M3166 602h0M3119 682h0M3109 640h0M3065 643h0M3067 654h0M3137 618h0M3234 685h0M3133 745h0M3169 795h0M3121 633h0M3274 696h0M3138 697h0M3281 714h0M3168 738h0M3215 670h0M3161 597h0M3165 797h0M3127 660h0M3212 720h0M3089 681h0M3063 729h0M3121 737h0M3049 684h0M3086 651h0M3238 698h0M3283 787h0M3216 788h0M3090 689h0M3131 729h0M3145 771h0M3151 791h0M3253 756h0M3170 636h0M3089 672h0M3112 728h0M3164 726h0M3169 639h0M3228 627h0M3182 717h0M3183 803h0M3136 725h0M3052 695h0M3117 703h0M3103 684h0M3128 628h0M3324 760h0M3302 785h0M3088 634h0M3245 693h0M3282 789h0M3248 757h0M3300 711h0M3149 715h0M3114 684h0M3110 660h0M3278 761h0M3209 648h0M3152 647h0M3221 790h0M3206 623h0M3105 617h0M3229 718h0M3120 757h0M3073 720h0M3241 758h0M3179 795h0M3219 747h0M3172 708h0M3138 689h0M3189 786h0M3126 712h0M3212 737h0M3129 637h0M3174 723h0M3167 712h0M3182 641h0M3085 669h0M3140 748h0M3105 637h0M3113 690h0M3178 602h0M3230 755h0M3176 706h0M3260 818h0M3184 739h0M3134 745h0M3144 727h0M3215 741h0M3304 751h0M3242 750h0M3105 726h0M3180 702h0M3246 766h0M3173 813h0M3166 713h0M3243 818h0M3226 706h0M3265 792h0M3081 692h0M3215 749h0M3313 777h0M3161 806h0M3310 764h0M3135 768h0M3191 740h0M3222 793h0M3243 821h0M3180 694h0M3227 712h0M3130 696h0M3125 779h0M3108 740h0M3202 802h0M3176 650h0M3113 659h0M3082 646h0M3259 814h0M3141 629h0M3123 730h0M3176 593h0M3189 634h0M3069 679h0M3258 707h0M3322 753h0M3250 779h0M3172 805h0M3126 584h0M3161 701h0M3169 645h0M3127 770h0M3109 675h0M3069 626h0M3189 742h0M3231 701h0M3144 601h0M3232 652h0M3106 646h0M3180 618h0M3283 691h0M3294 716h0M3123 753h0M3307 740h0M3054 676h0M3278 721h0M3099 625h0M3058 701h0M3091 681h0M3295 803h0M3180 771h0M3287 691h0M3303 786h0M3306 756h0M3060 637h0M3227 805h0M3139 654h0M3088 622h0M3187 662h0M3116 672h0M3310 721h0M3254 811h0M3067 614h0M3251 763h0M3215 689h0M3246 676h0M3095 621h0M3139 672h0M3119 771h0M3180 608h0M3292 810h0M3053 685h0M3103 733h0M3142 642h0M3126 724h0M3183 692h0M3234 688h0M3266 811h0M3217 719h0M3265 752h0M3095 673h0M3236 650h0M3142 679h0M3232 804h0M3205 734h0M3121 800h0M3214 752h0M3121 727h0M3250 648h0M3115 650h0M3319 738h0M3174 712h0M3227 632h0M3206 722h0M3319 728h0M3181 675h0M3174 661h0M3257 716h0M3190 762h0M3196 719h0M3077 757h0M3139 596h0M3272 762h0M3258 665h0M3101 741h0M3265 719h0M3248 678h0M3205 643h0M3105 709h0M3213 805h0M3212 696h0M3225 730h0M3156 633h0M3234 665h0M3142 745h0M3227 693h0M3140 763h0M3233 676h0M3193 791h0M3270 704h0M3229 734h0M3151 595h0M3182 764h0M3138 627h0M3292 744h0M3115 757h0M3298 720h0M3102 725h0M3313 720h0M3082 616h0M3113 694h0M3060 712h0M3232 647h0M3206 703h0M3265 716h0M3222 713h0M3295 725h0M3284 749h0M3147 592h0M3258 752h0M3174 634h0M3143 812h0M3172 618h0M3090 615h0M3248 665h0M3175 745h0M3117 721h0M3098 621h0M3195 676h0M3137 590h0M3143 785h0M3318 748h0M3092 677h0M3087 629h0M3135 606h0M3234 702h0M3122 630h0M3189 630h0M3284 815h0M3194 631h0M3256 660h0M3292 751h0M3116 673h0M3145 718h0M3041 687h0M3236 745h0M3212 829h0M3265 685h0M3181 813h0M3197 722h0M3127 739h0M3179 814h0M3060 653h0M3276 711h0M3113 589h0M3111 596h0M3080 761h0M3095 607h0M3277 736h0M3290 756h0M3160 664h0M3151 806h0M3164 776h0M3100 716h0M3111 663h0M3171 674h0M3304 724h0M3119 654h0M3184 605h0M3151 579h0M3227 794h0M3296 722h0M3149 712h0M3198 609h0M3194 695h0M3096 680h0M3278 733h0M3133 626h0M3219 710h0M3124 688h0M3156 730h0M3193 712h0M3230 627h0M3081 744h0M3114 693h0M3168 626h0M3250 661h0M3095 769h0M3241 668h0M3295 739h0M3077 680h0M3303 736h0M3244 680h0M3220 810h0M3242 812h0M3235 676h0M3172 624h0M3257 771h0M3247 677h0M3180 668h0M3172 649h0M3173 819h0M3231 781h0M3138 800h0M3218 664h0M3173 709h0M3285 731h0M3267 667h0M3091 777h0M3204 622h0M3232 825h0M3133 707h0M3195 638h0M3192 820h0M3235 726h0M3145 741h0M3147 771h0M3150 782h0M3124 608h0M3133 596h0M3158 626h0M3291 789h0M3109 644h0M3181 597h0M3100 668h0M3212 642h0M3231 635h0M3256 653h0M3237 763h0M3240 763h0M3137 603h0M3145 818h0M3128 680h0M3136 756h0M3169 735h0M3186 658h0M3311 758h0M3067 616h0M3263 698h0M3253 763h0M3253 780h0M3126 665h0M3166 827h0M3109 615h0M3164 608h0M3304 715h0M3280 693h0M3182 817h0M3075 622h0M3284 719h0M3260 725h0M3254 704h0M3102 649h0M3180 684h0M3220 726h0M3179 803h0M3293 771h0M3247 754h0M3096 693h0M3116 617h0M3272 785h0M3090 734h0M3242 657h0M3211 606h0M3227 771h0M3263 712h0M3115 671h0M3313 745h0M3200 746h0M3288 732h0M3161 667h0M3223 654h0M3238 635h0M3252 711h0M3196 654h0M3174 639h0M3060 678h0M3107 609h0M3134 595h0M3159 594h0M3162 698h0M3055 707h0M3243 788h0M3090 671h0M3073 628h0M3230 813h0M3217 615h0M3177 649h0M3176 726h0M3318 746h0M3185 779h0M3184 614h0M3231 634h0M3100 666h0M3185 660h0M3170 749h0M3183 670h0M3205 636h0M3234 675h0M3241 655h0M3178 694h0M3171 766h0M3271 788h0M3270 820h0M3095 602h0M3094 647h0M3099 625h0M3209 750h0M3050 717h0M3191 710h0M3187 775h0M3274 792h0M3134 573h0M3221 690h0M3253 785h0M3249 747h0M3134 756h0M3222 621h0M3288 688h0M3191 615h0M3277 689h0M3251 787h0M3188 718h0M3172 626h0M3268 808h0M3165 653h0M3108 769h0M3206 808h0M3095 664h0M3216 768h0M3162 612h0M3150 714h0M3316 736h0M3281 785h0M3162 697h0M3278 755h0M3154 612h0M3115 629h0M3236 735h0M3307 720h0M3178 798h0M3079 719h0M3157 781h0M3127 633h0M3112 653h0M3169 704h0M3122 706h0M3127 801h0M3306 714h0M3066 661h0M3241 713h0M3119 668h0M3057 670h0M3275 665h0M3173 607h0M3243 673h0M3149 769h0M3124 583h0M3223 759h0M3055 654h0M3293 698h0M3156 597h0M3122 719h0M3301 739h0M3059 653h0M3144 577h0M3087 643h0M3104 618h0M3048 685h0M3180 597h0M3264 804h0M3289 705h0M3080 754h0M3125 800h0M3121 760h0M3181 626h0M3180 677h0M3084 708h0M3191 749h0M3136 726h0M3096 702h0M3108 772h0M3094 640h0M3059 642h0M3194 623h0M3128 620h0M3153 787h0M3253 803h0M3195 651h0M3234 786h0M3301 784h0M3224 777h0M3123 712h0M3186 609h0M3100 788h0M3218 728h0M3119 714h0M3097 749h0M3176 616h0M3204 806h0M3267 789h0M3201 776h0M3134 660h0M3217 714h0M3054 713h0M3267 800h0M3159 802h0M3234 779h0M3167 719h0M3092 763h0M3196 698h0M3128 787h0M3120 770h0M3157 601h0M3140 569h0M3112 753h0M3223 646h0M3091 679h0M3243 653h0M3200 612h0M3204 689h0M3153 762h0M3205 752h0M3166 669h0M3137 626h0M3129 759h0M3173 761h0M3070 723h0M3066 664h0M3259 766h0M3058 649h0M3274 681h0M3238 763h0M3248 809h0M3265 701h0M3184 801h0M3289 697h0M3077 726h0M3078 651h0M3202 696h0M3223 781h0M3139 764h0M3267 783h0M3129 727h0M3201 674h0M3266 681h0M3079 656h0M3257 733h0M3119 773h0M3307 746h0M3149 761h0M3230 717h0M3264 710h0M3193 631h0M3067 730h0M3094 687h0M3114 691h0M3215 615h0M3195 822h0M3082 620h0M3277 717h0M3073 733h0M3231 749h0M3107 602h0M3220 641h0M3212 760h0M3204 650h0M3068 696h0M3166 714h0M3192 666h0M3303 785h0M3113 683h0M3317 721h0M3287 787h0M3205 723h0M3089 656h0M3154 664h0M3245 749h0M3113 725h0M3237 773h0M3079 651h0M3215 646h0M3229 826h0M3228 689h0M3080 697h0M3182 616h0M3297 760h0M3087 728h0M3210 813h0M3055 675h0M3083 763h0M3215 734h0M3309 794h0M3249 730h0M3196 700h0M3236 673h0M3168 788h0M3150 757h0M3269 784h0M3106 724h0M3173 719h0M3110 772h0M3263 664h0M3212 680h0M3193 633h0M3166 733h0M3212 723h0M3061 641h0M3186 776h0M3205 821h0M3093 663h0M3203 720h0M3238 697h0M3235 728h0M3124 586h0M3113 729h0M3192 779h0M3088 728h0M3126 573h0M3256 675h0M3185 629h0M3314 770h0M3205 714h0M3167 817h0M3080 704h0M3294 763h0M3074 641h0M3234 798h0M3278 719h0M3143 626h0M3162 594h0M3098 648h0M3078 616h0M3161 727h0M3194 818h0M3275 810h0M3288 759h0M3213 650h0M3136 760h0M3203 619h0M3099 698h0M3279 692h0M3176 606h0M3307 723h0M3230 667h0M3243 663h0M3090 657h0M3257 793h0M3186 738h0M3306 736h0M3289 763h0M3202 720h0M3153 723h0M3166 797h0M3250 662h0M3222 619h0M3300 705h0M3096 743h0M3114 598h0M3265 800h0M3294 742h0M3130 702h0M3175 672h0M3224 657h0M3072 660h0M3231 761h0M3158 593h0M3218 722h0M3178 821h0M3144 702h0M3095 612h0M3302 719h0M3179 712h0M3120 794h0M3250 676h0M3048 682h0M3187 661h0M3312 764h0M3193 816h0M3069 666h0M3213 618h0M3063 652h0M3170 797h0M3294 782h0M3114 782h0M3120 718h0M3192 624h0M3194 632h0M3042 679h0M3291 732h0M3111 697h0M3134 739h0M3122 607h0M3078 647h0M3134 710h0M3181 603h0M3276 752h0M3092 607h0M3071 699h0M3221 754h0M3107 793h0M3218 753h0M3108 679h0M3282 775h0M3194 614h0M3122 667h0M3231 811h0M3057 720h0M3068 651h0M3136 749h0M3316 739h0M3174 700h0M3069 734h0M3243 689h0M3206 805h0M3217 746h0M3292 758h0M3170 818h0M3291 734h0M3262 655h0M3121 609h0M3193 791h0M3072 699h0M3116 736h0M3253 710h0M3281 706h0M3149 780h0M3200 620h0M3157 674h0M3239 732h0M3140 623h0M3206 756h0M3063 734h0M3264 731h0M3321 749h0M3161 818h0M3107 592h0M3202 705h0M3093 725h0M3173 749h0M3265 775h0M3203 740h0M3095 661h0M3188 635h0M3063 638h0M3158 769h0M3186 727h0M3170 621h0M3288 817h0M3157 702h0M3121 750h0M3216 788h0M3044 697h0M3218 663h0M3072 642h0M3175 794h0M3212 729h0M3259 721h0M3197 805h0M3195 724h0M3285 765h0M3099 624h0M3250 826h0M3177 675h0M3295 732h0M3321 747h0M3294 764h0M3079 747h0M3116 680h0M3173 753h0M3242 789h0M3300 761h0M3111 769h0M3217 631h0M3129 607h0M3201 660h0M3190 684h0M3194 633h0M3183 817h0M3100 674h0M3171 682h0M3137 730h0M3167 824h0M3144 697h0M3233 739h0M3259 736h0M3235 752h0M3111 798h0M3213 696h0M3220 654h0M3100 658h0M3208 695h0M3066 635h0M3177 591h0M3165 687h0M3187 811h0M3186 621h0M3127 613h0M3251 794h0M3165 650h0M3258 647h0M3288 789h0M3129 617h0M3204 644h0M3236 633h0M3204 755h0M3087 649h0M3243 746h0M3151 655h0M3292 695h0M3133 605h0M3166 653h0M3168 797h0M3143 653h0M3268 772h0M3137 721h0M3161 754h0M3299 748h0M3140 747h0M3100 768h0M3268 721h0M3254 747h0M3259 803h0M3256 805h0M3293 753h0M3101 654h0M3234 729h0M3206 790h0M3130 791h0M3164 627h0M3182 668h0M3123 586h0M3074 645h0M3194 773h0M3146 799h0" stroke="#6E9C3E" stroke-width="3.3" stroke-linecap="round" fill="none"/><g fill="#B2EE7A" fill-opacity="0.93"><circle cx="3181" cy="818" r="5.0"/><circle cx="3135" cy="649" r="7.0"/><circle cx="3208" cy="816" r="4.0"/><circle cx="3181" cy="766" r="5.0"/><circle cx="3058" cy="674" r="3.5"/><circle cx="3266" cy="821" r="5.0"/><circle cx="3194" cy="804" r="4.0"/><circle cx="3161" cy="761" r="5.0"/><circle cx="3100" cy="755" r="3.5"/><circle cx="3168" cy="624" r="5.0"/><circle cx="3163" cy="621" r="3.0"/><circle cx="3142" cy="725" r="7.0"/><circle cx="3251" cy="691" r="4.0"/><circle cx="3162" cy="639" r="7.0"/><circle cx="3213" cy="760" r="5.0"/><circle cx="3108" cy="596" r="5.0"/><circle cx="3256" cy="710" r="5.0"/><circle cx="3066" cy="654" r="6.0"/><circle cx="3306" cy="785" r="4.0"/><circle cx="3226" cy="828" r="4.0"/><circle cx="3289" cy="696" r="7.0"/><circle cx="3273" cy="819" r="4.0"/><circle cx="3234" cy="744" r="5.0"/><circle cx="3270" cy="796" r="7.0"/><circle cx="3211" cy="693" r="6.0"/><circle cx="3290" cy="722" r="5.0"/><circle cx="3157" cy="754" r="5.0"/><circle cx="3262" cy="732" r="7.0"/><circle cx="3145" cy="740" r="4.0"/><circle cx="3117" cy="601" r="5.0"/><circle cx="3258" cy="720" r="6.0"/><circle cx="3079" cy="750" r="5.0"/><circle cx="3249" cy="689" r="7.0"/><circle cx="3296" cy="807" r="3.0"/><circle cx="3216" cy="775" r="3.0"/><circle cx="3093" cy="759" r="4.0"/><circle cx="3239" cy="762" r="4.0"/><circle cx="3168" cy="625" r="7.0"/><circle cx="3148" cy="607" r="4.0"/><circle cx="3228" cy="743" r="7.0"/><circle cx="3217" cy="772" r="7.0"/><circle cx="3121" cy="724" r="4.0"/><circle cx="3267" cy="730" r="3.5"/><circle cx="3089" cy="638" r="5.0"/><circle cx="3128" cy="646" r="4.0"/><circle cx="3235" cy="663" r="6.0"/><circle cx="3205" cy="805" r="5.0"/><circle cx="3162" cy="594" r="6.0"/><circle cx="3210" cy="671" r="5.0"/><circle cx="3051" cy="653" r="3.0"/><circle cx="3207" cy="606" r="7.0"/><circle cx="3146" cy="627" r="5.0"/><circle cx="3184" cy="799" r="4.0"/><circle cx="3208" cy="764" r="3.5"/><circle cx="3180" cy="673" r="3.5"/><circle cx="3176" cy="776" r="3.5"/><circle cx="3114" cy="792" r="4.0"/><circle cx="3215" cy="668" r="3.0"/><circle cx="3296" cy="703" r="6.0"/><circle cx="3215" cy="663" r="3.5"/><circle cx="3186" cy="649" r="3.5"/><circle cx="3130" cy="673" r="4.0"/><circle cx="3220" cy="821" r="5.0"/><circle cx="3247" cy="814" r="4.0"/><circle cx="3126" cy="569" r="6.0"/><circle cx="3179" cy="617" r="5.0"/><circle cx="3041" cy="690" r="5.0"/><circle cx="3172" cy="679" r="3.0"/><circle cx="3226" cy="663" r="7.0"/><circle cx="3156" cy="790" r="5.0"/><circle cx="3220" cy="666" r="7.0"/><circle cx="3087" cy="764" r="3.0"/><circle cx="3151" cy="711" r="5.0"/><circle cx="3247" cy="669" r="3.0"/><circle cx="3128" cy="581" r="3.5"/><circle cx="3181" cy="691" r="4.0"/><circle cx="3100" cy="658" r="3.5"/><circle cx="3322" cy="757" r="7.0"/><circle cx="3185" cy="644" r="7.0"/><circle cx="3240" cy="784" r="3.0"/><circle cx="3265" cy="682" r="5.0"/><circle cx="3266" cy="824" r="4.0"/><circle cx="3233" cy="742" r="6.0"/><circle cx="3252" cy="681" r="4.0"/><circle cx="3145" cy="642" r="3.0"/><circle cx="3242" cy="668" r="5.0"/><circle cx="3054" cy="675" r="3.5"/><circle cx="3247" cy="716" r="4.0"/><circle cx="3295" cy="706" r="5.0"/><circle cx="3187" cy="747" r="3.0"/><circle cx="3196" cy="684" r="7.0"/><circle cx="3181" cy="693" r="6.0"/><circle cx="3184" cy="724" r="4.0"/><circle cx="3129" cy="603" r="5.0"/><circle cx="3119" cy="783" r="5.0"/><circle cx="3264" cy="650" r="7.0"/><circle cx="3121" cy="614" r="5.0"/><circle cx="3220" cy="822" r="4.0"/><circle cx="3054" cy="708" r="4.0"/><circle cx="3213" cy="812" r="4.0"/><circle cx="3206" cy="793" r="5.0"/><circle cx="3129" cy="570" r="6.0"/><circle cx="3220" cy="653" r="4.0"/><circle cx="3066" cy="724" r="6.0"/><circle cx="3094" cy="782" r="4.0"/><circle cx="3109" cy="719" r="5.0"/><circle cx="3093" cy="780" r="6.0"/><circle cx="3136" cy="741" r="3.5"/><circle cx="3107" cy="597" r="3.0"/><circle cx="3125" cy="780" r="5.0"/><circle cx="3251" cy="782" r="7.0"/><circle cx="3239" cy="802" r="5.0"/><circle cx="3278" cy="767" r="6.0"/><circle cx="3197" cy="722" r="7.0"/><circle cx="3156" cy="599" r="4.0"/><circle cx="3207" cy="633" r="5.0"/><circle cx="3101" cy="618" r="3.0"/><circle cx="3107" cy="599" r="4.0"/><circle cx="3230" cy="743" r="4.0"/><circle cx="3162" cy="603" r="3.0"/><circle cx="3221" cy="785" r="5.0"/><circle cx="3087" cy="680" r="6.0"/><circle cx="3164" cy="819" r="3.0"/><circle cx="3177" cy="759" r="6.0"/><circle cx="3171" cy="685" r="7.0"/><circle cx="3134" cy="615" r="5.0"/><circle cx="3256" cy="687" r="3.0"/><circle cx="3174" cy="676" r="4.0"/><circle cx="3049" cy="701" r="4.0"/><circle cx="3220" cy="637" r="5.0"/><circle cx="3279" cy="718" r="3.0"/><circle cx="3221" cy="759" r="5.0"/><circle cx="3287" cy="760" r="5.0"/><circle cx="3256" cy="761" r="5.0"/><circle cx="3247" cy="807" r="4.0"/><circle cx="3121" cy="644" r="4.0"/><circle cx="3122" cy="707" r="3.0"/><circle cx="3201" cy="809" r="4.0"/><circle cx="3236" cy="800" r="5.0"/><circle cx="3102" cy="629" r="4.0"/><circle cx="3227" cy="627" r="6.0"/><circle cx="3069" cy="697" r="5.0"/><circle cx="3210" cy="772" r="4.0"/><circle cx="3124" cy="631" r="7.0"/><circle cx="3140" cy="762" r="4.0"/><circle cx="3143" cy="761" r="6.0"/><circle cx="3226" cy="806" r="4.0"/><circle cx="3208" cy="822" r="4.0"/><circle cx="3146" cy="708" r="4.0"/><circle cx="3096" cy="617" r="4.0"/><circle cx="3140" cy="790" r="4.0"/><circle cx="3140" cy="650" r="4.0"/><circle cx="3201" cy="685" r="5.0"/><circle cx="3142" cy="713" r="4.0"/><circle cx="3172" cy="818" r="6.0"/><circle cx="3092" cy="777" r="3.5"/><circle cx="3120" cy="667" r="7.0"/><circle cx="3130" cy="633" r="3.0"/><circle cx="3127" cy="707" r="4.0"/><circle cx="3192" cy="719" r="5.0"/><circle cx="3089" cy="632" r="5.0"/><circle cx="3154" cy="819" r="5.0"/><circle cx="3209" cy="803" r="6.0"/><circle cx="3279" cy="687" r="7.0"/><circle cx="3251" cy="760" r="4.0"/><circle cx="3186" cy="725" r="5.0"/><circle cx="3209" cy="631" r="6.0"/><circle cx="3140" cy="728" r="3.5"/><circle cx="3106" cy="773" r="5.0"/><circle cx="3301" cy="730" r="6.0"/><circle cx="3087" cy="638" r="4.0"/><circle cx="3208" cy="681" r="6.0"/><circle cx="3151" cy="662" r="3.5"/><circle cx="3261" cy="820" r="5.0"/><circle cx="3110" cy="744" r="5.0"/><circle cx="3209" cy="755" r="4.0"/><circle cx="3209" cy="708" r="5.0"/><circle cx="3112" cy="633" r="4.0"/><circle cx="3131" cy="696" r="3.0"/><circle cx="3159" cy="617" r="5.0"/><circle cx="3141" cy="799" r="6.0"/><circle cx="3093" cy="623" r="3.5"/><circle cx="3215" cy="749" r="5.0"/><circle cx="3089" cy="703" r="3.0"/><circle cx="3223" cy="755" r="5.0"/><circle cx="3235" cy="764" r="6.0"/><circle cx="3247" cy="681" r="4.0"/><circle cx="3242" cy="756" r="7.0"/><circle cx="3260" cy="752" r="3.5"/><circle cx="3161" cy="803" r="4.0"/></g><circle cx="3047" cy="680" r="16" fill="#B2EE7A"/><circle cx="3062" cy="624" r="13" fill="#B2EE7A"/><circle cx="3119" cy="733" r="21" fill="#B2EE7A"/><circle cx="3280" cy="815" r="13" fill="#B2EE7A"/><circle cx="3140" cy="624" r="12" fill="#B2EE7A"/><circle cx="3270" cy="663" r="11" fill="#B2EE7A"/><circle cx="3150" cy="575" r="11" fill="#B2EE7A"/><circle cx="3133" cy="567" r="8" fill="#B2EE7A"/><circle cx="3307" cy="788" r="9" fill="#B2EE7A"/><circle cx="3084" cy="644" r="9" fill="#B2EE7A"/><circle cx="3164" cy="800" r="8" fill="#B2EE7A"/><circle cx="3240" cy="797" r="10" fill="#B2EE7A"/><circle cx="3078" cy="741" r="9" fill="#B2EE7A"/><circle cx="3053" cy="713" r="8" fill="#B2EE7A"/><circle cx="3299" cy="721" r="8" fill="#B2EE7A"/><ellipse cx="3165" cy="718" rx="6" ry="4" fill="#333" opacity="0.8"/><ellipse cx="3177" cy="735" rx="4" ry="3" fill="#333" opacity="0.8"/><ellipse cx="3201" cy="743" rx="4" ry="3" fill="#333" opacity="0.8"/><ellipse cx="3153" cy="731" rx="5" ry="3" fill="#333" opacity="0.8"/><g fill="#7DE5EC"><circle cx="3086" cy="572" r="3.5"/><circle cx="3062" cy="568" r="4.0"/><circle cx="3038" cy="546" r="6.0"/><circle cx="3092" cy="560" r="5.0"/><circle cx="3046" cy="551" r="6.0"/><circle cx="3083" cy="586" r="5.0"/><circle cx="3065" cy="566" r="5.0"/><circle cx="3061" cy="596" r="3.0"/><circle cx="3070" cy="554" r="4.0"/><circle cx="3055" cy="562" r="3.5"/><circle cx="3091" cy="553" r="3.5"/><circle cx="3114" cy="562" r="5.0"/><circle cx="3086" cy="566" r="6.0"/><circle cx="3114" cy="578" r="3.5"/><circle cx="3088" cy="600" r="4.0"/><circle cx="3027" cy="556" r="4.0"/><circle cx="3057" cy="579" r="3.0"/><circle cx="3064" cy="571" r="6.0"/><circle cx="3081" cy="603" r="4.0"/><circle cx="3059" cy="546" r="3.0"/><circle cx="3058" cy="575" r="6.0"/><circle cx="3089" cy="567" r="3.5"/><circle cx="3081" cy="579" r="4.0"/><circle cx="3077" cy="573" r="3.0"/><circle cx="3042" cy="556" r="3.5"/><circle cx="3088" cy="603" r="4.0"/><circle cx="3114" cy="562" r="3.5"/><circle cx="3052" cy="561" r="3.0"/><circle cx="3032" cy="562" r="3.0"/><circle cx="3042" cy="539" r="3.0"/><circle cx="3067" cy="595" r="3.5"/><circle cx="3096" cy="575" r="5.0"/><circle cx="3033" cy="569" r="4.0"/><circle cx="3046" cy="569" r="3.5"/></g><circle cx="3026" cy="554" r="8" fill="#7DE5EC"/><circle cx="3038" cy="573" r="9" fill="#7DE5EC"/><circle cx="3051" cy="584" r="8" fill="#7DE5EC"/><circle cx="3066" cy="595" r="7" fill="#7DE5EC"/><circle cx="3066" cy="546" r="6" fill="#7DE5EC"/><circle cx="3083" cy="586" r="6" fill="#7DE5EC"/><path d="M3062 592h0M3075 554h0M3073 600h0M3088 553h0M3070 556h0M3078 563h0M3099 554h0M3046 567h0M3096 596h0M3070 553h0M3067 551h0M3085 561h0M3057 545h0M3085 603h0M3042 578h0M3079 559h0M3048 564h0M3039 560h0M3115 573h0M3063 565h0M3049 581h0M3033 545h0M3075 557h0M3054 562h0M3034 569h0M3081 595h0M3081 552h0M3105 583h0M3106 565h0M3033 573h0M3104 588h0M3093 579h0M3067 597h0M3058 594h0M3022 552h0M3076 598h0M3090 601h0M3077 588h0M3070 591h0M3041 551h0M3075 546h0M3068 566h0M3056 591h0M3069 596h0M3055 552h0M3081 553h0M3089 604h0M3089 557h0M3091 591h0M3091 600h0M3040 561h0M3031 571h0M3074 564h0M3085 575h0M3086 592h0M3043 577h0M3079 562h0M3078 577h0M3035 542h0M3077 587h0M3045 548h0M3067 545h0M3040 562h0M3086 582h0M3061 572h0M3040 572h0M3052 581h0M3086 555h0M3060 566h0M3097 579h0M3106 561h0M3107 575h0M3053 542h0M3051 548h0M3067 570h0M3095 592h0M3095 595h0M3117 574h0M3043 539h0M3055 545h0M3102 570h0M3049 580h0M3093 601h0M3049 576h0M3062 567h0M3041 546h0M3071 571h0M3078 595h0M3105 593h0M3060 562h0M3057 552h0M3079 559h0M3105 573h0M3072 545h0M3102 570h0M3082 585h0M3042 554h0M3116 568h0M3042 544h0M3050 578h0M3107 577h0M3058 589h0M3089 589h0M3051 558h0M3062 550h0M3092 592h0M3032 557h0M3062 550h0M3083 561h0M3101 595h0M3080 556h0M3058 570h0M3087 551h0M3101 570h0M3062 583h0M3110 563h0M3082 598h0M3108 566h0M3086 605h0M3061 591h0M3091 551h0M3118 564h0M3039 560h0M3043 551h0M3088 587h0M3033 567h0M3100 572h0M3062 545h0M3083 557h0M3065 597h0" stroke="#4AA0A8" stroke-width="3.3" stroke-linecap="round" fill="none"/><circle cx="3015.6" cy="780.3" r="7" fill="#EE7C7C"/><circle cx="3023.5" cy="789.5" r="6" fill="#EE7C7C"/><circle cx="3040.7" cy="785.6" r="7.5" fill="#EE7C7C"/><circle cx="3029.3" cy="781.6" r="4" fill="#EE7C7C"/><circle cx="3021.4" cy="793.5" r="3.5" fill="#EE7C7C"/><circle cx="3029.3" cy="792.2" r="2.5" fill="#B85050"/><circle cx="3024.8" cy="784.2" r="2" fill="#B85050"/>
</g>
<g id="part_car">
<clipPath id="memclip"><rect x="585" y="1717.5" width="182" height="395"/></clipPath>
<g clip-path="url(#memclip)"><path d="M618.2 1719.3 Q644.7 1723.3 671.2 1717.3 M618.2 1729.3 Q644.7 1725.3 671.2 1731.3 M733.3 1719.3 Q706.8 1723.3 680.3 1717.3 M733.3 1729.3 Q706.8 1725.3 680.3 1731.3 M618.2 1748.8 Q644.7 1752.8 671.2 1746.8 M618.2 1758.8 Q644.7 1754.8 671.2 1760.8 M733.3 1748.8 Q706.8 1752.8 680.3 1746.8 M733.3 1758.8 Q706.8 1754.8 680.3 1760.8 M618.2 1778.4 Q644.7 1782.4 671.2 1776.4 M618.2 1788.4 Q644.7 1784.4 671.2 1790.4 M733.3 1778.4 Q706.8 1782.4 680.3 1776.4 M733.3 1788.4 Q706.8 1784.4 680.3 1790.4 M618.2 1807.9 Q644.7 1811.9 671.2 1805.9 M618.2 1817.9 Q644.7 1813.9 671.2 1819.9 M733.3 1807.9 Q706.8 1811.9 680.3 1805.9 M733.3 1817.9 Q706.8 1813.9 680.3 1819.9 M618.2 1837.5 Q644.7 1841.5 671.2 1835.5 M618.2 1847.5 Q644.7 1843.5 671.2 1849.5 M733.3 1837.5 Q706.8 1841.5 680.3 1835.5 M733.3 1847.5 Q706.8 1843.5 680.3 1849.5 M618.2 1867.0 Q644.7 1871.0 671.2 1865.0 M618.2 1877.0 Q644.7 1873.0 671.2 1879.0 M733.3 1867.0 Q706.8 1871.0 680.3 1865.0 M733.3 1877.0 Q706.8 1873.0 680.3 1879.0 M618.2 1896.6 Q644.7 1900.6 671.2 1894.6 M618.2 1906.6 Q644.7 1902.6 671.2 1908.6 M733.3 1896.6 Q706.8 1900.6 680.3 1894.6 M733.3 1906.6 Q706.8 1902.6 680.3 1908.6 M618.2 1926.1 Q644.7 1930.1 671.2 1924.1 M618.2 1936.1 Q644.7 1932.1 671.2 1938.1 M733.3 1926.1 Q706.8 1930.1 680.3 1924.1 M733.3 1936.1 Q706.8 1932.1 680.3 1938.1 M618.2 1955.7 Q644.7 1959.7 671.2 1953.7 M618.2 1965.7 Q644.7 1961.7 671.2 1967.7 M733.3 1955.7 Q706.8 1959.7 680.3 1953.7 M733.3 1965.7 Q706.8 1961.7 680.3 1967.7 M618.2 1985.2 Q644.7 1989.2 671.2 1983.2 M618.2 1995.2 Q644.7 1991.2 671.2 1997.2 M733.3 1985.2 Q706.8 1989.2 680.3 1983.2 M733.3 1995.2 Q706.8 1991.2 680.3 1997.2 M618.2 2014.8 Q644.7 2018.8 671.2 2012.8 M618.2 2024.8 Q644.7 2020.8 671.2 2026.8 M733.3 2014.8 Q706.8 2018.8 680.3 2012.8 M733.3 2024.8 Q706.8 2020.8 680.3 2026.8 M618.2 2044.3 Q644.7 2048.3 671.2 2042.3 M618.2 2054.3 Q644.7 2050.3 671.2 2056.3 M733.3 2044.3 Q706.8 2048.3 680.3 2042.3 M733.3 2054.3 Q706.8 2050.3 680.3 2056.3 M618.2 2073.9 Q644.7 2077.9 671.2 2071.9 M618.2 2083.9 Q644.7 2079.9 671.2 2085.9 M733.3 2073.9 Q706.8 2077.9 680.3 2071.9 M733.3 2083.9 Q706.8 2079.9 680.3 2085.9 M618.2 2103.4 Q644.7 2107.4 671.2 2101.4 M618.2 2113.4 Q644.7 2109.4 671.2 2115.4 M733.3 2103.4 Q706.8 2107.4 680.3 2101.4 M733.3 2113.4 Q706.8 2109.4 680.3 2115.4" fill="none" stroke="#E6E3F5" stroke-width="3.2" stroke-linecap="round"/><g fill="#D5D2E4"><circle cx="605.2" cy="1724.3" r="14"/><circle cx="746.3" cy="1724.3" r="14"/><circle cx="605.2" cy="1753.8" r="14"/><circle cx="746.3" cy="1753.8" r="14"/><circle cx="605.2" cy="1783.4" r="14"/><circle cx="746.3" cy="1783.4" r="14"/><circle cx="605.2" cy="1812.9" r="14"/><circle cx="746.3" cy="1812.9" r="14"/><circle cx="605.2" cy="1842.5" r="14"/><circle cx="746.3" cy="1842.5" r="14"/><circle cx="605.2" cy="1872.0" r="14"/><circle cx="746.3" cy="1872.0" r="14"/><circle cx="605.2" cy="1901.6" r="14"/><circle cx="746.3" cy="1901.6" r="14"/><circle cx="605.2" cy="1931.1" r="14"/><circle cx="746.3" cy="1931.1" r="14"/><circle cx="605.2" cy="1960.7" r="14"/><circle cx="746.3" cy="1960.7" r="14"/><circle cx="605.2" cy="1990.2" r="14"/><circle cx="746.3" cy="1990.2" r="14"/><circle cx="605.2" cy="2019.8" r="14"/><circle cx="746.3" cy="2019.8" r="14"/><circle cx="605.2" cy="2049.3" r="14"/><circle cx="746.3" cy="2049.3" r="14"/><circle cx="605.2" cy="2078.9" r="14"/><circle cx="746.3" cy="2078.9" r="14"/><circle cx="605.2" cy="2108.4" r="14"/><circle cx="746.3" cy="2108.4" r="14"/></g></g>
<path d="M434 1800.3 H442.3 A29.4 29.4 0 0 1 442.3 1859 H176 A28 28 0 0 0 176 1915 H185 M434 1914.5 H594" fill="none" stroke="#9C92C8" stroke-width="4.6"/>
<rect x="183.3" y="1759.7" width="250.8" height="79.3" rx="39.6" fill="#B9A9CF" stroke="#9C92C8" stroke-width="5.4"/>
<rect x="183.3" y="1875.7" width="250.8" height="79.3" rx="39.6" fill="#DFDBF0" stroke="#9C92C8" stroke-width="5.4"/>
<rect x="594.2" y="1871.8" width="247.6" height="79" rx="39.5" fill="#327EC3" stroke="#1A1A1A" stroke-width="6.4"/>
<rect x="849.4" y="1892.5" width="285.3" height="43.5" rx="21.7" fill="#B9DBF3" stroke="#1A1A1A" stroke-width="6"/>
</g>
<g id="part_construct">
<path d="M226 1382.4 H316 M1442 1380.8 H1570" stroke="#1A1A1A" stroke-width="3.8"/>
<rect x="57.2" y="1302.3" width="168.3" height="133.8" fill="#fff" stroke="#111" stroke-width="4.6" stroke-linejoin="round"/>
<rect x="1569.8" y="1301.7" width="168" height="134.7" fill="#fff" stroke="#111" stroke-width="4.6" stroke-linejoin="round"/>
<text x="97.0" y="1386.0" font-size="49" font-weight="normal" fill="#111" textLength="81.3" lengthAdjust="spacingAndGlyphs" >LTR</text>
<text x="1607.1" y="1386.0" font-size="49" font-weight="normal" fill="#111" textLength="81.3" lengthAdjust="spacingAndGlyphs" >LTR</text>
<rect x="317.0" y="1315.5" width="217.0" height="120.0" rx="33" fill="#4694D9" stroke="#1A1A1A" stroke-width="5"/>
<rect x="536.5" y="1315.5" width="181.5" height="120.0" rx="33" fill="#327EC3" stroke="#1A1A1A" stroke-width="5"/>
<rect x="721.9" y="1315.5" width="179.6" height="120.0" rx="33" fill="#327EC3" stroke="#1A1A1A" stroke-width="5"/>
<rect x="905.2" y="1315.5" width="183.3" height="120.0" rx="33" fill="#B9DBF3" stroke="#1A1A1A" stroke-width="5"/>
<rect x="1091.5" y="1347.5" width="114.0" height="60.6" rx="15" fill="#E8E8E8" stroke="#1A1A1A" stroke-width="5"/>
<rect x="1209.1" y="1315.5" width="232.7" height="120.0" rx="36" fill="#15528A" stroke="#1A1A1A" stroke-width="5"/>
<text x="346.0" y="1391.2" font-size="45" font-weight="normal" fill="#fff" textLength="159.7" lengthAdjust="spacingAndGlyphs" >scFvCL</text>
<text x="574.0" y="1393.6" font-size="45" font-weight="normal" fill="#fff" textLength="103.7" lengthAdjust="spacingAndGlyphs" >TMD</text>
<text x="771.8" y="1393.6" font-size="45" font-weight="normal" fill="#fff" textLength="79.5" lengthAdjust="spacingAndGlyphs" >ICD</text>
<text x="947.6" y="1393.6" font-size="45" font-weight="normal" fill="#111" textLength="90.4" lengthAdjust="spacingAndGlyphs" >zeta</text>
<text x="1099.2" y="1393.6" font-size="45" font-weight="normal" fill="#111" textLength="90.9" lengthAdjust="spacingAndGlyphs" >P2A</text>
<text x="1256.2" y="1393.6" font-size="45" font-weight="normal" fill="#fff" textLength="132.7" lengthAdjust="spacingAndGlyphs" >GITRL</text>
<text x="642.1" y="1493.2" font-size="55" font-weight="bold" fill="#E8872E" textLength="146.7" lengthAdjust="spacingAndGlyphs" >CD28</text>
<text x="916.1" y="1494.0" font-size="55" font-weight="bold" fill="#E8872E" textLength="146.0" lengthAdjust="spacingAndGlyphs" >CD3z</text>
<text x="94.2" y="1613.7" font-size="58" font-weight="bold" fill="#E8872E" textLength="288.4" lengthAdjust="spacingAndGlyphs" >220-51 Ab</text>
<path d="M541.5 1492 Q541.5 1510 560 1510.5 H690 Q710 1511 719.4 1527 Q729 1511 749 1510.5 H878 Q896.5 1510 896.5 1492" fill="none" stroke="#E8872E" stroke-width="4" stroke-linecap="round" stroke-linejoin="round"/>
<defs><linearGradient id="go1" gradientUnits="userSpaceOnUse" x1="0" y1="1479" x2="0" y2="1569"><stop offset="0" stop-color="#E8872E" stop-opacity="0"/><stop offset="1" stop-color="#E8872E"/></linearGradient></defs><rect x="422.1" y="1479" width="9" height="197.29999999999995" fill="url(#go1)"/><polygon points="405.6,1674.3 447.6,1674.3 426.6,1715.5" fill="#E8872E"/>
<defs><linearGradient id="go2" gradientUnits="userSpaceOnUse" x1="0" y1="1541" x2="0" y2="1631"><stop offset="0" stop-color="#E8872E" stop-opacity="0"/><stop offset="1" stop-color="#E8872E"/></linearGradient></defs><rect x="713.7" y="1541" width="9" height="248" fill="url(#go2)"/><polygon points="697.2,1787 739.2,1787 718.2,1828" fill="#E8872E"/>
<defs><linearGradient id="go3" gradientUnits="userSpaceOnUse" x1="0" y1="1540" x2="0" y2="1630"><stop offset="0" stop-color="#E8872E" stop-opacity="0"/><stop offset="1" stop-color="#E8872E"/></linearGradient></defs><rect x="987.3" y="1540" width="9" height="249" fill="url(#go3)"/><polygon points="970.8,1787 1012.8,1787 991.8,1828" fill="#E8872E"/>
</g>
<g id="part_tcell">
<defs>
<linearGradient id="gO4" gradientUnits="userSpaceOnUse" x1="0" y1="1458" x2="0" y2="1560"><stop offset="0" stop-color="#E8872E" stop-opacity="0"/><stop offset="1" stop-color="#E8872E"/></linearGradient>
<linearGradient id="gTri" gradientUnits="userSpaceOnUse" x1="1433" y1="0" x2="1626" y2="0"><stop offset="0" stop-color="#E4E4E4" stop-opacity="0.65"/><stop offset="1" stop-color="#F1F1F1" stop-opacity="0.92"/></linearGradient>
<linearGradient id="gBk" gradientUnits="userSpaceOnUse" x1="1697" y1="1783" x2="1630" y2="1752"><stop offset="0" stop-color="#222" stop-opacity="0"/><stop offset="1" stop-color="#222"/></linearGradient>
</defs>
<g transform="translate(1330.5 1628.9) rotate(-99)"><line x1="-2" y1="0" x2="42" y2="0" stroke="#9C92C8" stroke-width="2.6"/><rect x="47.0" y="-19.9" width="64.6" height="23.7" rx="11.8" fill="#fff" stroke="#9C92C8" stroke-width="2.1"/><rect x="33.0" y="-35.9" width="64.6" height="23.7" rx="11.8" fill="#fff" stroke="#9C92C8" stroke-width="2.1"/><rect x="40" y="-11.8" width="64.6" height="23.7" rx="11.8" fill="#DFDBF0" stroke="#9C92C8" stroke-width="2.6"/><rect x="40" y="-43.9" width="64.6" height="23.7" rx="11.8" fill="#B9A9CF" stroke="#9C92C8" stroke-width="2.6"/></g>
<g transform="translate(1255.6 1691.7) rotate(199)"><line x1="-2" y1="0" x2="42" y2="0" stroke="#9C92C8" stroke-width="2.6"/><rect x="47.0" y="-19.9" width="64.6" height="23.7" rx="11.8" fill="#fff" stroke="#9C92C8" stroke-width="2.1"/><rect x="33.0" y="-35.9" width="64.6" height="23.7" rx="11.8" fill="#fff" stroke="#9C92C8" stroke-width="2.1"/><rect x="40" y="-11.8" width="64.6" height="23.7" rx="11.8" fill="#DFDBF0" stroke="#9C92C8" stroke-width="2.6"/><rect x="40" y="-43.9" width="64.6" height="23.7" rx="11.8" fill="#B9A9CF" stroke="#9C92C8" stroke-width="2.6"/></g>
<g transform="translate(1261.4 1787.6) rotate(150.5)"><line x1="-2" y1="0" x2="42" y2="0" stroke="#9C92C8" stroke-width="2.6"/><rect x="47.0" y="-19.9" width="64.6" height="23.7" rx="11.8" fill="#fff" stroke="#9C92C8" stroke-width="2.1"/><rect x="33.0" y="-35.9" width="64.6" height="23.7" rx="11.8" fill="#fff" stroke="#9C92C8" stroke-width="2.1"/><rect x="40" y="-11.8" width="64.6" height="23.7" rx="11.8" fill="#DFDBF0" stroke="#9C92C8" stroke-width="2.6"/><rect x="40" y="-43.9" width="64.6" height="23.7" rx="11.8" fill="#B9A9CF" stroke="#9C92C8" stroke-width="2.6"/></g>
<g transform="translate(1343.8 1840.9) rotate(95)"><line x1="-2" y1="0" x2="42" y2="0" stroke="#9C92C8" stroke-width="2.6"/><rect x="47.0" y="-19.9" width="64.6" height="23.7" rx="11.8" fill="#fff" stroke="#9C92C8" stroke-width="2.1"/><rect x="33.0" y="-35.9" width="64.6" height="23.7" rx="11.8" fill="#fff" stroke="#9C92C8" stroke-width="2.1"/><rect x="40" y="-11.8" width="64.6" height="23.7" rx="11.8" fill="#DFDBF0" stroke="#9C92C8" stroke-width="2.6"/><rect x="40" y="-43.9" width="64.6" height="23.7" rx="11.8" fill="#B9A9CF" stroke="#9C92C8" stroke-width="2.6"/></g>
<g transform="translate(1441.8 1670.5) rotate(-26)"><line x1="-2" y1="0" x2="42" y2="0" stroke="#9C92C8" stroke-width="2.6"/><rect x="47.0" y="-19.9" width="64.6" height="23.7" rx="11.8" fill="#fff" stroke="#9C92C8" stroke-width="2.1"/><rect x="33.0" y="-35.9" width="64.6" height="23.7" rx="11.8" fill="#fff" stroke="#9C92C8" stroke-width="2.1"/><rect x="40" y="-11.8" width="64.6" height="23.7" rx="11.8" fill="#DFDBF0" stroke="#9C92C8" stroke-width="2.6"/><rect x="40" y="-43.9" width="64.6" height="23.7" rx="11.8" fill="#B9A9CF" stroke="#9C92C8" stroke-width="2.6"/></g>
<g transform="translate(1456.5 1768.9) rotate(27)"><line x1="-2" y1="0" x2="42" y2="0" stroke="#9C92C8" stroke-width="2.6"/><rect x="47.0" y="-19.9" width="64.6" height="23.7" rx="11.8" fill="#fff" stroke="#9C92C8" stroke-width="2.1"/><rect x="33.0" y="-35.9" width="64.6" height="23.7" rx="11.8" fill="#fff" stroke="#9C92C8" stroke-width="2.1"/><rect x="40" y="-11.8" width="64.6" height="23.7" rx="11.8" fill="#DFDBF0" stroke="#9C92C8" stroke-width="2.6"/><rect x="40" y="-43.9" width="64.6" height="23.7" rx="11.8" fill="#B9A9CF" stroke="#9C92C8" stroke-width="2.6"/></g>
<circle cx="1354.7" cy="1733.8" r="106.2" fill="#DFDBF0" stroke="#A59BD0" stroke-width="3.2"/>
<circle cx="1339.7" cy="1720.9" r="61.5" fill="#C7C2E4" stroke="#B5AEDC" stroke-width="2.2"/>
<rect x="1358" y="1757.3" width="71" height="55" rx="25" fill="none" stroke="#E8872E" stroke-width="2.8"/>
<circle cx="1396.5" cy="1771.3" r="8.6" fill="#243672"/>
<circle cx="1381.9" cy="1795" r="8.6" fill="#243672"/>
<circle cx="1412.9" cy="1790.2" r="8.6" fill="#243672"/>
<rect x="1389" y="1458" width="9" height="249" fill="url(#gO4)"/><polygon points="1372.8,1705 1414.2,1705 1393.5,1744.6" fill="#E8872E"/>
<polygon points="1433,1778 1533.5,1525 1626,1966.4" fill="url(#gTri)"/>
<polygon points="1527,1519.7 2045.2,1410.8 2146,1865.2 1621.8,1975 1433.1,1778.2" fill="none" stroke="#fff" stroke-width="9.5" stroke-opacity="0.8"/>
<polygon points="1527,1519.7 2045.2,1410.8 2146,1865.2 1621.8,1975 1433.1,1778.2" fill="none" stroke="#E0892F" stroke-width="6.4" stroke-dasharray="3.6 5.1"/>
<g transform="translate(1975.6 1601.3) rotate(-61)"><line x1="-2" y1="0" x2="44" y2="0" stroke="#9C92C8" stroke-width="3.4"/><rect x="51.3" y="-24.1" width="95.0" height="27.0" rx="13.5" fill="#fff" stroke="#9C92C8" stroke-width="2.7"/><rect x="32.7" y="-39.9" width="95.0" height="27.0" rx="13.5" fill="#fff" stroke="#9C92C8" stroke-width="2.7"/><rect x="42" y="-13.5" width="95.0" height="27.0" rx="13.5" fill="#DFDBF0" stroke="#9C92C8" stroke-width="3.4"/><rect x="42" y="-50.5" width="95.0" height="27.0" rx="13.5" fill="#B9A9CF" stroke="#9C92C8" stroke-width="3.4"/></g>
<path d="M1720.8 1614 L1783 1655.5" stroke="#A59BD0" stroke-width="4.6"/>
<circle cx="1903" cy="1722.2" r="139.5" fill="#DFDBF0" stroke="#A59BD0" stroke-width="3.6"/>
<circle cx="1921" cy="1705.8" r="84" fill="#C7C2E4" stroke="#B5AEDC" stroke-width="2.6"/>
<path d="M1703.5 1576.7 A24.5 24.5 0 0 1 1675.4 1616.8" fill="none" stroke="#8E70B0" stroke-width="14.4" stroke-linecap="round"/>
<path d="M1703.5 1576.7 A24.5 24.5 0 0 1 1675.4 1616.8" fill="none" stroke="#A88BC6" stroke-width="12" stroke-linecap="round"/>
<circle cx="1685.5" cy="1591.7" r="13" fill="#243672"/>
<circle cx="1664.9" cy="1689.4" r="13" fill="#243672"/>
<circle cx="1794" cy="1739" r="13" fill="#243672"/>
<text x="1730.2" y="1588.7" font-size="35" font-weight="bold" fill="#A88BC6" textLength="82.6" lengthAdjust="spacingAndGlyphs" >GITR</text>
<text x="1644.9" y="1742.4" font-size="35" font-weight="bold" fill="#243672" textLength="103.7" lengthAdjust="spacingAndGlyphs" >GITRL</text>
<path d="M1697 1783 C1640 1765 1588 1725 1585 1680 C1583 1650 1600 1628 1621 1619" fill="none" stroke="url(#gBk)" stroke-width="12"/>
<polygon points="1649,1594.7 1604.5,1606.7 1632.5,1636" fill="#222"/>
</g>
<g id="part_mouse">
<defs>
<linearGradient id="gM1" gradientUnits="userSpaceOnUse" x1="2272" y1="1448" x2="2215" y2="1480"><stop offset="0" stop-color="#222" stop-opacity="0"/><stop offset="1" stop-color="#222"/></linearGradient>
<linearGradient id="gM2" gradientUnits="userSpaceOnUse" x1="0" y1="1630" x2="0" y2="1760"><stop offset="0" stop-color="#222" stop-opacity="0"/><stop offset="1" stop-color="#222"/></linearGradient>
</defs>
<text x="2108.3" y="1408.5" font-size="80" font-weight="normal" fill="#000" textLength="393.7" lengthAdjust="spacingAndGlyphs" >SK-MEL-37</text>
<text x="2523.9" y="1581.0" font-size="80" font-weight="normal" fill="#000" textLength="547.9" lengthAdjust="spacingAndGlyphs" >V = 80-100 mm</text>
<text x="3073.4" y="1549.0" font-size="47" font-weight="normal" fill="#000" textLength="28.7" lengthAdjust="spacingAndGlyphs" >3</text>
<path d="M2304.2 1549 L2304.3 1550.1 L2304.2 1551.2 L2303.8 1552.3 L2303.2 1553.3 L2302.4 1554.3 L2301.6 1555.2 L2300.8 1556.1 L2300 1556.9 L2299.4 1557.8 L2299 1558.7 L2298.6 1559.6 L2298.5 1560.6 L2298.4 1561.7 L2298.3 1562.8 L2298.2 1563.9 L2298 1565 L2297.7 1566 L2297.1 1567 L2296.4 1567.8 L2295.6 1568.5 L2295.5 1569.8 L2295.3 1571.2 L2295.2 1572.6 L2295 1574.1 L2293.5 1574.2 L2291.9 1573.9 L2290.4 1573.8 L2289 1573.7 L2288.3 1574.5 L2287.7 1575.5 L2287 1576.5 L2286.3 1577.4 L2285.4 1578.2 L2284.4 1578.8 L2283.3 1579.1 L2282.2 1579.2 L2281 1579.1 L2279.8 1578.8 L2278.7 1578.5 L2277.5 1578.1 L2276.4 1577.8 L2275.4 1577.8 L2274.5 1579 L2273.5 1580.3 L2272.4 1581.8 L2271.2 1583.2 L2270.1 1582.3 L2269 1581.3 L2268 1580.2 L2267.1 1579 L2266.1 1578.8 L2265.1 1578.4 L2264.1 1577.8 L2263.3 1577.2 L2262.4 1576.4 L2261.6 1575.7 L2260.8 1575.1 L2259.9 1574.5 L2259 1574.2 L2258 1573.9 L2256.9 1573.8 L2255.7 1573.7 L2254.5 1573.6 L2253.3 1573.4 L2252.1 1573.1 L2251.1 1572.7 L2250.2 1572 L2249.4 1571.2 L2248.8 1570.2 L2248.4 1569.1 L2248.1 1568 L2247.9 1566.8 L2247.7 1565.6 L2247.5 1564.6 L2247.1 1563.6 L2246.7 1562.7 L2246 1561.9 L2244.2 1561.6 L2242.3 1561.2 L2240.4 1560.6 L2238.8 1559.9 L2239.4 1558.5 L2240.3 1557 L2241.3 1555.6 L2242.5 1554.3 L2241.8 1553.3 L2240.9 1552.3 L2240 1551.3 L2239.2 1550.2 L2240.2 1549 L2241.6 1547.9 L2242.8 1546.9 L2243.9 1546 L2243.8 1545 L2243.3 1543.9 L2242.9 1542.7 L2242.6 1541.6 L2242.4 1540.4 L2242.4 1539.2 L2242.6 1538.1 L2243 1537.1 L2243.7 1536.2 L2244.5 1535.4 L2245.3 1534.6 L2246.2 1533.9 L2247.1 1533.2 L2247.9 1532.5 L2248.6 1531.7 L2249.2 1530.8 L2249.7 1529.9 L2250.1 1528.9 L2250.6 1527.9 L2251.1 1526.9 L2251.1 1525.3 L2251 1523.5 L2251.2 1521.8 L2251.5 1520.3 L2253.1 1520.3 L2255 1521.1 L2256.9 1522.1 L2258.7 1523.2 L2260 1523.5 L2261 1523.4 L2261.9 1523.1 L2262.8 1522.7 L2263.7 1522.1 L2264.5 1521.4 L2265.3 1520.6 L2266.2 1519.8 L2267.1 1519 L2268.1 1518.4 L2269.1 1518 L2270.2 1517.7 L2271.3 1517.1 L2272.4 1516.1 L2273.6 1515.2 L2274.8 1514.4 L2276 1514.9 L2277 1516.6 L2277.8 1518.1 L2278.7 1519.5 L2279.6 1520.2 L2280.7 1520.2 L2281.8 1520.1 L2282.9 1520 L2284.1 1520.1 L2285.2 1520.2 L2286.2 1520.6 L2287.5 1520.7 L2288.9 1520.4 L2290.3 1520.3 L2291.7 1520.4 L2292.4 1521.5 L2292.2 1523.7 L2291.9 1525.7 L2291.7 1527.6 L2291.8 1528.9 L2292.6 1529.5 L2293.4 1530.1 L2294.4 1530.6 L2295.4 1531 L2296.5 1531.5 L2297.5 1532.1 L2298.4 1532.8 L2299.1 1533.6 L2299.7 1534.5 L2300.1 1535.5 L2300.3 1536.6 L2300.4 1537.7 L2300.4 1538.8 L2300.5 1539.9 L2300.6 1540.9 L2300.8 1541.9 L2301.2 1542.9 L2301.6 1543.8 L2302.2 1544.8 L2302.8 1545.8 L2303.4 1546.8 L2303.9 1547.9Z" fill="#F9D0DD" stroke="#F0A6C0" stroke-width="1.3" stroke-linejoin="round"/><path d="M2298.2 1551 L2298.2 1553.6 L2297 1555.9 L2295.1 1557.7 L2293.2 1559.1 L2291.6 1560.6 L2290.4 1562.5 L2288.9 1564.6 L2287 1566.4 L2284.6 1567.2 L2282 1566.8 L2279.7 1565.5 L2277.7 1564.1 L2275.8 1563.1 L2273.6 1562.5 L2271.2 1561.8 L2268.9 1560.5 L2267.4 1558.4 L2267 1555.9 L2267.5 1553.3 L2268.2 1551 L2268.5 1548.9 L2268.5 1546.6 L2268.4 1544.1 L2268.9 1541.5 L2270.4 1539.4 L2272.7 1538.3 L2275.3 1537.9 L2277.7 1537.9 L2279.9 1537.5 L2282 1536.8 L2284.4 1535.9 L2287 1535.6 L2289.4 1536.4 L2291.3 1538.3 L2292.4 1540.6 L2293.2 1542.9 L2294.1 1544.8 L2295.5 1546.6 L2297.1 1548.6Z" fill="#F4A8C4" stroke="#EE94B6" stroke-width="0.8"/><path d="M2285 1532h0M2253 1563h0M2270 1560h0M2251 1547h0M2282 1538h0M2291 1566h0M2253 1529h0M2274 1567h0M2267 1537h0M2269 1529h0M2261 1546h0M2272 1538h0M2261 1537h0M2271 1540h0M2252 1563h0M2275 1555h0M2259 1570h0M2288 1533h0M2265 1558h0M2281 1567h0M2269 1563h0M2280 1541h0M2276 1565h0M2287 1549h0M2276 1529h0M2262 1561h0" stroke="#F2B3C9" stroke-width="1.6" stroke-linecap="round"/>
<path d="M2351.1 1514.2 L2350.7 1515.4 L2350.1 1516.5 L2349.5 1517.6 L2348.9 1518.7 L2348.3 1519.7 L2347.9 1520.8 L2348.6 1522.1 L2349.6 1523.6 L2350.8 1525.2 L2352.1 1527 L2351.4 1528.1 L2351.2 1529.4 L2351.1 1530.8 L2350.9 1532.2 L2351.4 1534.1 L2350.3 1535 L2348.4 1535.4 L2346.4 1535.6 L2344.4 1535.6 L2343 1536 L2341.9 1536.6 L2340.9 1537.3 L2339.9 1537.9 L2339.1 1538.7 L2338.3 1539.6 L2337.6 1540.5 L2336.8 1541.5 L2336.1 1542.5 L2335.3 1543.4 L2334.4 1544.3 L2333.3 1544.9 L2332.2 1545.4 L2331 1545.6 L2329.7 1545.6 L2328.4 1545.5 L2327.1 1545.3 L2325.9 1545.1 L2324.7 1545 L2323.5 1545 L2322.5 1545.1 L2321.4 1545.4 L2320.3 1545.9 L2319.3 1546.5 L2318.1 1547.1 L2317 1547.7 L2315.8 1548.2 L2314.6 1548.5 L2313.4 1548.7 L2312.2 1548.6 L2311 1548.2 L2309.9 1547.7 L2308.8 1547.1 L2307.8 1546.4 L2306.7 1545.8 L2305.7 1545.2 L2304.7 1544.8 L2303.6 1544.4 L2302.4 1544.1 L2301.2 1543.9 L2299.9 1543.8 L2298.7 1543.5 L2297.5 1543.2 L2296.3 1542.6 L2295.3 1541.9 L2294.5 1541 L2293.8 1540 L2293.3 1538.8 L2292.8 1537.5 L2292.5 1536.3 L2292.2 1535 L2291.9 1533.8 L2291.4 1532.8 L2290.9 1531.8 L2290.2 1531 L2289.3 1530.2 L2288.4 1529.4 L2287.4 1528.6 L2286.5 1527.8 L2285.6 1526.9 L2284.9 1525.9 L2284.4 1524.8 L2284.1 1523.6 L2284 1522.4 L2284 1521.2 L2284.1 1520 L2284.3 1518.8 L2284.4 1517.6 L2284.4 1516.5 L2284.3 1515.3 L2284.1 1514.2 L2283.7 1513 L2283.3 1511.8 L2282.9 1510.6 L2282.5 1509.4 L2282.3 1508.1 L2282.3 1506.8 L2282.6 1505.6 L2283 1504.5 L2283.7 1503.4 L2284.6 1502.4 L2285.6 1501.5 L2286.6 1500.7 L2287.6 1499.9 L2288.6 1499.1 L2289.3 1498.2 L2290 1497.3 L2290.5 1496.3 L2290.9 1495.2 L2291.3 1494.1 L2291.7 1492.9 L2292.1 1491.8 L2292.7 1490.7 L2293.4 1489.7 L2294.2 1488.9 L2295.2 1488.3 L2296.3 1487.7 L2297.1 1486.8 L2297.6 1485.5 L2298.1 1484 L2298.7 1482.5 L2299.8 1481.8 L2301.4 1482.3 L2302.9 1482.6 L2304.3 1482.9 L2305.5 1482.6 L2306.4 1481.6 L2307.4 1480.7 L2308.5 1480 L2309.5 1478.8 L2310.5 1477.3 L2311.6 1476 L2312.9 1474.9 L2314.3 1475.3 L2315.7 1477.1 L2317 1478.9 L2318.2 1480.7 L2319.3 1481.7 L2320.4 1482 L2321.5 1482.2 L2322.6 1482.2 L2323.8 1482.2 L2325 1482.1 L2326.2 1482 L2327.4 1482.1 L2328.6 1482.3 L2329.8 1482.6 L2331.1 1482.5 L2332.7 1482.1 L2334.2 1481.9 L2335.7 1481.8 L2336.4 1483.1 L2336.6 1485.1 L2336.7 1487 L2336.9 1488.7 L2337.5 1489.7 L2338.6 1490.2 L2339.8 1490.6 L2341 1491 L2342.3 1491.4 L2343.5 1491.9 L2344.7 1492.6 L2345.6 1493.4 L2346.4 1494.4 L2347 1495.5 L2347.3 1496.7 L2347.6 1498 L2348.1 1499 L2349.3 1499.8 L2351.6 1500.2 L2354.1 1500.7 L2355.9 1501.6 L2356.3 1502.9 L2354.7 1504.8 L2352.8 1506.6 L2351.5 1508.1 L2350.7 1509.5 L2351 1510.6 L2351.3 1511.8 L2351.3 1513Z" fill="#F9D0DD" stroke="#F0A6C0" stroke-width="1.3" stroke-linejoin="round"/><path d="M2343.3 1514 L2342.3 1516.6 L2340.7 1518.8 L2339.1 1520.7 L2337.9 1522.7 L2337 1525 L2335.7 1527.4 L2333.9 1529.4 L2331.3 1530.4 L2328.6 1530.3 L2326 1529.4 L2323.7 1528.5 L2321.4 1528 L2319 1527.8 L2316.3 1527.4 L2313.8 1526.2 L2312 1524.2 L2311.3 1521.5 L2311.3 1518.8 L2311.5 1516.3 L2311.3 1514 L2310.7 1511.6 L2310.2 1508.9 L2310.6 1506.1 L2312 1503.8 L2314.3 1502.3 L2316.9 1501.5 L2319.3 1500.9 L2321.4 1500 L2323.6 1498.7 L2326 1497.4 L2328.7 1496.9 L2331.3 1497.6 L2333.5 1499.3 L2335.1 1501.5 L2336.4 1503.6 L2337.9 1505.3 L2339.8 1507 L2341.8 1508.9 L2343.1 1511.3Z" fill="#F4A8C4" stroke="#EE94B6" stroke-width="0.8"/><path d="M2308 1519h0M2322 1518h0M2301 1511h0M2312 1525h0M2340 1535h0M2319 1512h0M2306 1492h0M2295 1513h0M2308 1509h0M2335 1515h0M2320 1502h0M2295 1506h0M2300 1515h0M2340 1522h0M2302 1533h0M2331 1525h0M2336 1527h0M2331 1507h0M2340 1536h0M2301 1526h0M2327 1512h0M2318 1514h0M2337 1514h0M2333 1507h0M2335 1533h0M2315 1517h0" stroke="#F2B3C9" stroke-width="1.6" stroke-linecap="round"/>
<path d="M2363.8 1575.4 L2364.7 1576.8 L2365.5 1578.2 L2364.9 1579.6 L2363.4 1580.8 L2362.1 1581.9 L2361 1583 L2360.6 1584.2 L2361.1 1585.7 L2362.4 1587.5 L2363.6 1589.3 L2364.6 1591.3 L2364.8 1593 L2363.1 1593.8 L2361.1 1594.4 L2359 1594.8 L2357 1595.2 L2355.7 1595.9 L2354.5 1596.6 L2353.3 1597.3 L2352.3 1598 L2351.3 1598.8 L2350.5 1599.7 L2349.7 1600.7 L2349.1 1601.8 L2348.4 1602.9 L2347.7 1604 L2346.9 1605.1 L2345.9 1606 L2344.9 1606.8 L2343.8 1607.4 L2342.5 1607.8 L2341.2 1608.1 L2339.9 1608.3 L2338.6 1608.4 L2337.4 1608.6 L2336.1 1608.8 L2335 1609.2 L2333.8 1609.7 L2332.8 1610.5 L2331.8 1612.5 L2330.8 1614.5 L2329.6 1616.5 L2328.3 1618 L2326.8 1617.3 L2325.3 1616.3 L2323.9 1615 L2322.6 1613.7 L2321.3 1613.2 L2320.1 1612.5 L2318.9 1611.7 L2317.7 1611 L2316.6 1610.2 L2315.5 1609.6 L2314.3 1609.1 L2313.2 1608.7 L2311.9 1608.5 L2310.7 1608.3 L2309.4 1608.1 L2308.1 1607.8 L2306.8 1607.4 L2305.6 1606.9 L2304.6 1606.1 L2303.3 1605.7 L2301.7 1605.6 L2300.2 1605.4 L2298.6 1605 L2297.7 1604 L2297.9 1601.9 L2298 1600 L2298.1 1598.2 L2297.8 1596.9 L2296.7 1596.2 L2295.5 1595.5 L2294.3 1594.8 L2293.1 1594 L2292 1593.1 L2291 1592.1 L2290.3 1591 L2289.7 1589.8 L2289.4 1588.5 L2289.3 1587.1 L2289.4 1585.7 L2289.5 1584.3 L2289.7 1583 L2289.8 1581.7 L2289.8 1580.4 L2289.7 1579.1 L2289.4 1577.9 L2289.1 1576.7 L2288.8 1575.4 L2288.4 1574.1 L2288.2 1572.8 L2288.1 1571.5 L2288.1 1570.2 L2287.3 1568.7 L2286.6 1567.2 L2286.1 1565.6 L2285.9 1564.1 L2288 1563.3 L2290.1 1562.6 L2292 1562 L2293.8 1561.4 L2294.3 1560.3 L2294.7 1559.1 L2294.6 1557.6 L2293.7 1555.6 L2292.8 1553.5 L2292.1 1551.3 L2291.8 1549.2 L2292.4 1547.8 L2293.3 1546.6 L2294.3 1545.5 L2295.9 1544.9 L2298 1545.1 L2300.1 1545.4 L2302.2 1545.9 L2303.9 1546 L2305.1 1545.5 L2306.2 1544.9 L2307.3 1544.2 L2308.3 1543.4 L2309.2 1542.5 L2310.2 1541.6 L2311.3 1540.7 L2312.4 1540 L2313.6 1539.4 L2314.9 1539 L2316.2 1538.8 L2317.5 1538.9 L2318.9 1539.2 L2320.3 1539.6 L2321.6 1540 L2322.9 1540.4 L2324.1 1540.8 L2325.3 1541 L2326.5 1541 L2327.7 1540.8 L2329 1540.6 L2330.2 1540.2 L2331.6 1539.8 L2332.9 1539.6 L2334.3 1539.4 L2335.6 1539.4 L2336.9 1539.7 L2338.1 1540.1 L2339.3 1540.8 L2340.4 1541.6 L2341.4 1542.5 L2342.3 1543.4 L2343.3 1544.2 L2344.3 1545 L2345.4 1545.6 L2346.5 1546.2 L2347.7 1546.7 L2349 1547.1 L2350.3 1547.6 L2351.6 1548.2 L2352.7 1548.9 L2353.8 1549.8 L2354.6 1550.8 L2355.3 1552 L2355.7 1553.3 L2356 1554.7 L2356.2 1556.1 L2356.3 1557.5 L2356.4 1558.8 L2356.6 1560.1 L2357 1561.3 L2357.4 1562.4 L2358 1563.5 L2358.7 1564.5 L2359.5 1565.6 L2360.3 1566.7 L2361.1 1567.8 L2361.7 1569 L2362.1 1570.2 L2362.3 1571.5 L2362.3 1572.8 L2362.9 1574.1Z" fill="#F9D0DD" stroke="#F0A6C0" stroke-width="1.3" stroke-linejoin="round"/><path d="M2349.7 1576 L2348.5 1578.6 L2347.3 1581 L2346.6 1583.4 L2346 1586.2 L2345 1589 L2343.1 1591.3 L2340.5 1592.6 L2337.5 1592.8 L2334.6 1592.5 L2332 1592.1 L2329.4 1592.2 L2326.7 1592.5 L2323.7 1592.3 L2320.9 1591.3 L2318.8 1589.2 L2317.7 1586.4 L2317.2 1583.6 L2316.7 1581 L2315.8 1578.6 L2314.7 1576 L2313.9 1573.1 L2314 1570.2 L2315.4 1567.5 L2317.7 1565.6 L2320.2 1564.2 L2322.5 1563 L2324.6 1561.4 L2326.7 1559.5 L2329.1 1557.9 L2332 1557.1 L2334.9 1557.6 L2337.5 1559.2 L2339.6 1561.2 L2341.5 1563 L2343.6 1564.4 L2346 1565.8 L2348.3 1567.7 L2350 1570.2 L2350.4 1573.1Z" fill="#F4A8C4" stroke="#EE94B6" stroke-width="0.8"/><path d="M2343 1563h0M2312 1601h0M2324 1593h0M2324 1583h0M2307 1582h0M2344 1577h0M2338 1584h0M2303 1589h0M2330 1565h0M2301 1594h0M2324 1587h0M2345 1586h0M2347 1570h0M2341 1573h0M2348 1595h0M2305 1557h0M2311 1599h0M2322 1582h0M2315 1576h0M2319 1568h0M2330 1580h0M2346 1585h0M2347 1594h0M2350 1584h0M2308 1594h0M2349 1596h0" stroke="#F2B3C9" stroke-width="1.6" stroke-linecap="round"/>
<path d="M2272.4 1448 C2215 1465 2180 1510 2181 1555 C2182 1590 2200 1618 2228 1640" fill="none" stroke="url(#gM1)" stroke-width="10"/>
<polygon points="2258.5,1669.7 2215.5,1655.5 2245.9,1627.7" fill="#222"/>
<g transform="translate(2289.5 1645.5) rotate(-34)"><rect x="-9" y="-4" width="18" height="7" rx="3" fill="#E4E4E4" stroke="#9A9A9A" stroke-width="1.2"/><rect x="-4" y="3" width="8" height="38" fill="#ECECEC" stroke="#A8A8A8" stroke-width="1"/><rect x="-13" y="40" width="26" height="7" rx="3" fill="#E2E2E2" stroke="#9A9A9A" stroke-width="1.2"/><rect x="-8" y="47" width="16" height="72" rx="2" fill="#F0F0F0" stroke="#A0A0A0" stroke-width="1.2"/><rect x="-7" y="82" width="14" height="36" fill="#F2C744"/><rect x="-7" y="76" width="14" height="7" fill="#8C8C8C"/><path d="M-5 119 H5 L3 127 H-3Z" fill="#F2C744" stroke="#A0A0A0" stroke-width="1"/><path d="M-3.5 127 H3.5 L2 139 H-2Z" fill="#2DA58E"/><line x1="0" y1="139" x2="0" y2="172" stroke="#555" stroke-width="1.3"/></g>
<g transform="translate(2150 1420) scale(0.330688)" stroke-linejoin="round" stroke-linecap="round"><path d="M830 1150 C760 1100 680 1070 620 1075 C560 1085 560 1130 610 1140 C650 1150 665 1175 655 1195" fill="none" stroke="#DDA09A" stroke-width="20"/><path d="M830 1146 C760 1096 680 1066 620 1072 C575 1080 572 1120 610 1132" fill="none" stroke="#EDB9B3" stroke-width="8"/><path d="M800 1210 L775 1232 L790 1245 L820 1240 L840 1225Z" fill="#EBB2AC"/><path d="M1125 1320 L1135 1375 L1120 1392 L1150 1398 L1190 1392 L1165 1372 L1160 1320Z" fill="#EBB2AC"/><path d="M810 1190 C800 1110 870 1040 960 1035 C1000 1030 1030 1040 1060 1050 C1100 1020 1150 1020 1200 1035 C1250 1050 1275 1075 1285 1100 C1290 1130 1270 1160 1240 1175 C1230 1230 1200 1290 1150 1320 L1160 1330 L1100 1335 C1060 1335 1010 1345 970 1360 L975 1375 L915 1378 C900 1330 840 1290 810 1190Z" fill="#EFEDEB" stroke="#C9C2B8" stroke-width="3.5"/><path d="M920 1375 C905 1330 880 1290 870 1240 C900 1300 950 1320 1010 1310 C1080 1300 1140 1260 1180 1200 C1210 1190 1230 1180 1240 1175 C1230 1230 1200 1290 1150 1320 L1160 1330 L1100 1335 C1060 1335 1010 1345 970 1360 L975 1375Z" fill="#E7E3DF"/><path d="M918 1372 L915 1420 L890 1440 L930 1450 L968 1440 L950 1422 L960 1372Z" fill="#F0B7B1"/><path d="M1145 1040 C1150 1000 1160 965 1160 950 C1200 975 1225 1010 1238 1050 C1210 1040 1175 1035 1145 1040Z" fill="#F4F2F0" stroke="#C9C2B8" stroke-width="3"/><path d="M1165 1035 C1168 1005 1172 985 1175 972 C1200 995 1218 1020 1228 1046 C1205 1038 1185 1034 1165 1035Z" fill="#E9A9A3"/><path d="M985 1100 C940 1080 935 1010 975 975 C1015 950 1060 965 1075 1000 C1070 1040 1050 1080 1035 1110 C1015 1112 1000 1108 985 1100Z" fill="#F4F2F0" stroke="#C9C2B8" stroke-width="3"/><path d="M990 1092 C950 1072 945 1012 982 982 C1015 962 1050 975 1062 1005 C1058 1040 1042 1075 1030 1098 C1015 1100 1002 1098 990 1092Z" fill="#E39D96"/><path d="M1005 1050 C1005 1020 1035 1010 1050 1030" fill="none" stroke="#F0BDB7" stroke-width="7"/><ellipse cx="1140" cy="1085" rx="17" ry="11" fill="#B3262A" transform="rotate(-25 1140 1085)"/><ellipse cx="1142" cy="1083" rx="8" ry="6" fill="#D94A44" transform="rotate(-25 1142 1083)"/><ellipse cx="1266" cy="1100" rx="14" ry="12" fill="#E9A29D"/><path d="M1215 1165 Q1245 1170 1262 1150" fill="none" stroke="#B9B2A8" stroke-width="3"/><path d="M1255 1105 L1340 1065 M1258 1112 L1330 1100 M1255 1120 L1320 1135 M1235 1115 L1150 1130" stroke="#CFC8C0" stroke-width="2.5" fill="none"/></g>
<rect x="2813" y="1630" width="8.8" height="238" fill="url(#gM2)"/><polygon points="2796.6,1866.6 2838.7,1866.6 2817.6,1908.7" fill="#222"/>
<path d="M2373 1965.3 H3462 M2373 1947.4 V1985 M2818.6 1947.4 V1985 M3317.7 1947.4 V1985" stroke="#222" stroke-width="5.2" fill="none"/>
<polygon points="3456,1950.5 3486,1965.8 3456,1981" fill="#222"/>
<text x="2267.2" y="2055.9" font-size="80" font-weight="normal" fill="#000" textLength="193.6" lengthAdjust="spacingAndGlyphs" >day 0</text>
<text x="2539.1" y="2055.9" font-size="80" font-weight="normal" fill="#000" textLength="552.0" lengthAdjust="spacingAndGlyphs" >inoculation day</text>
<text x="3194.5" y="2055.9" font-size="80" font-weight="normal" fill="#000" textLength="240.9" lengthAdjust="spacingAndGlyphs" >day 35</text>
</g>
</svg>
</body></html>
